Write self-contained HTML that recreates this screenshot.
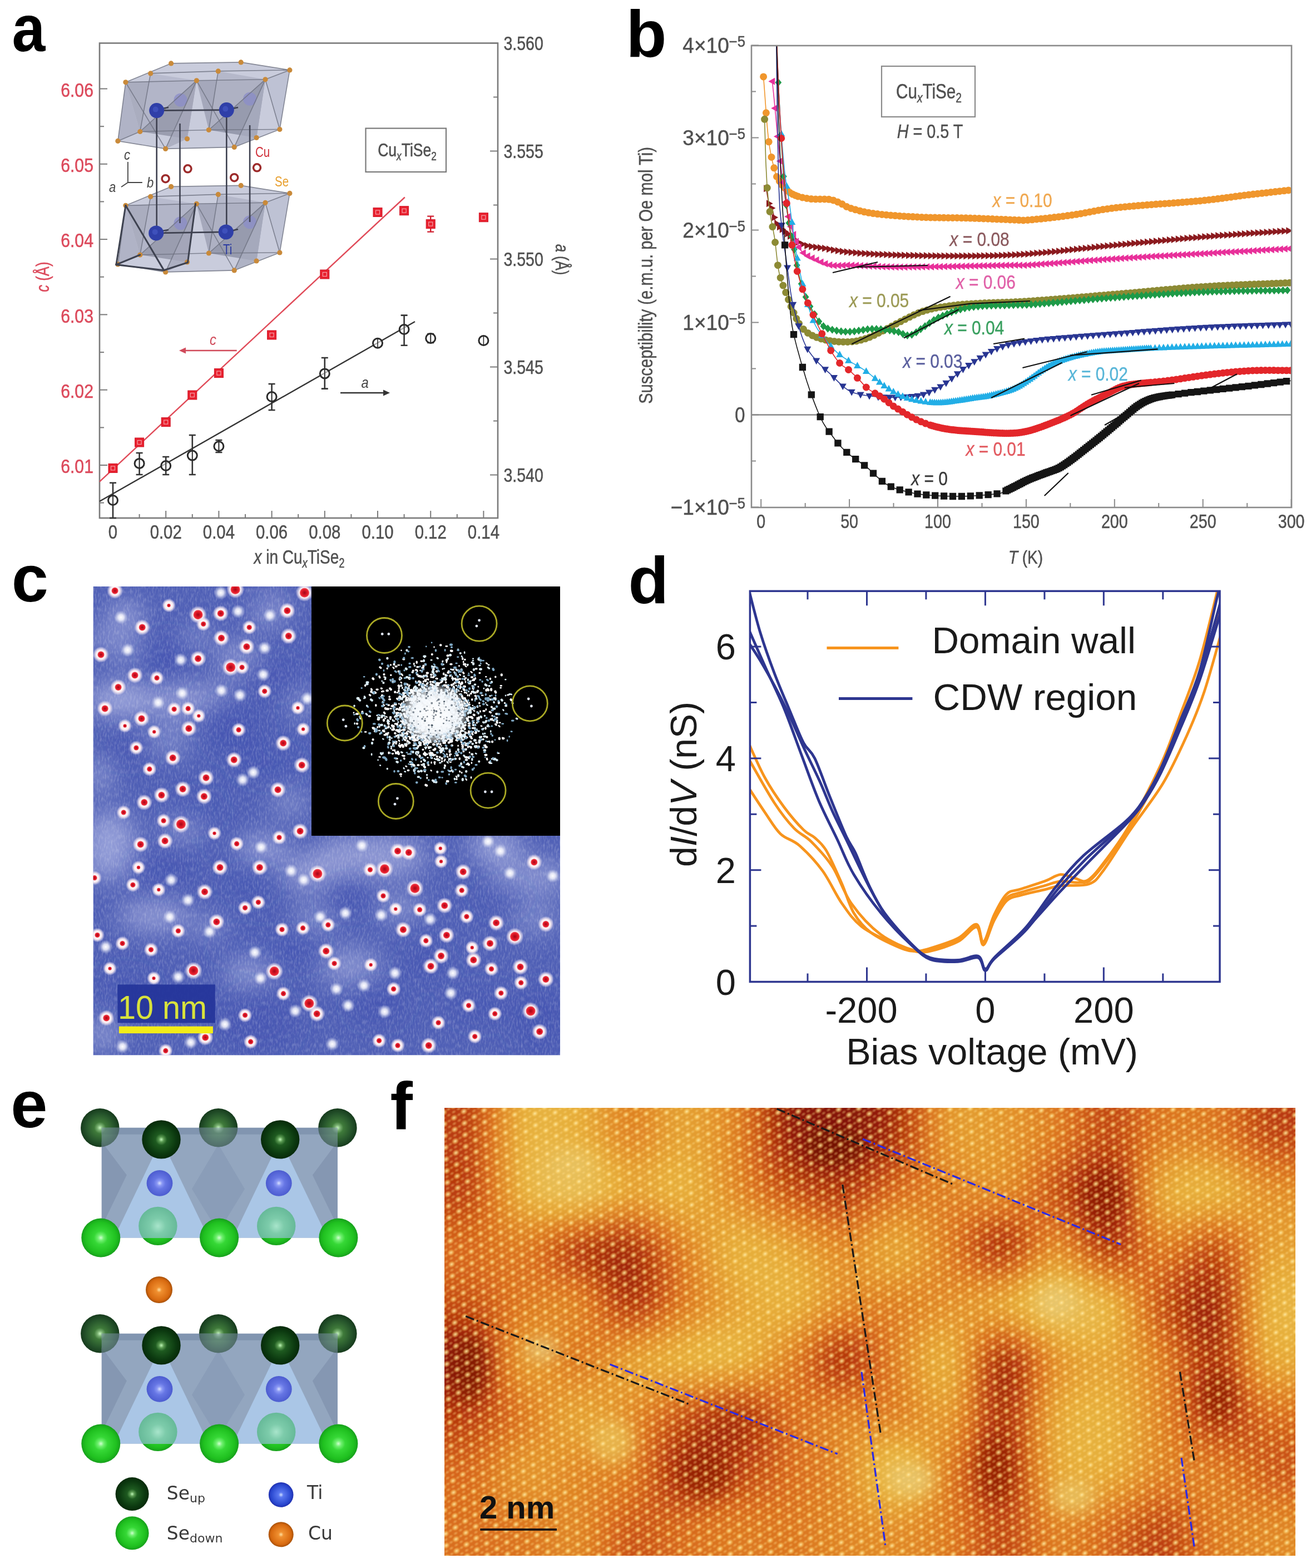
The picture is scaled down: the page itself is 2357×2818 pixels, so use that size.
<!DOCTYPE html><html><head><meta charset="utf-8"><title>Figure</title><style>html,body{margin:0;padding:0;background:#fff;width:2357px;height:2818px;overflow:hidden}svg{display:block}</style></head><body><svg xmlns="http://www.w3.org/2000/svg" width="2357" height="2818" viewBox="0 0 2357 2818"><text transform="translate(21.4,91.6) scale(0.900,1)" font-family="Liberation Sans, sans-serif" font-size="119.5" fill="#000" text-anchor="start" font-weight="bold" >a</text>
<polygon points="225.9,147.8 307.6,113.9 433.2,111.9 520.9,125.9 502.9,232.5 421.2,264.4 297.6,267.4 211.9,253.4" fill="#c3c6d8" fill-opacity="0.9" stroke="none"/>
<polygon points="225.9,147.8 353.4,144.8 251.8,236.5" fill="#a2a5b8" fill-opacity="0.8"/>
<polygon points="353.4,144.8 477,142.8 375.4,233.5" fill="#9c9fb3" fill-opacity="0.8"/>
<polygon points="270.7,131.9 353.4,144.8 251.8,236.5" fill="#b4b7ca" fill-opacity="0.8"/>
<polygon points="392.3,127.9 477,142.8 375.4,233.5" fill="#b0b3c6" fill-opacity="0.8"/>
<polygon points="251.8,236.5 353.4,144.8 336.5,249.5" fill="#8e91a4" fill-opacity="0.8"/>
<polygon points="375.4,233.5 477,142.8 461.1,247.5" fill="#8b8ea2" fill-opacity="0.8"/>
<polygon points="225.9,147.8 211.9,253.4 251.8,236.5" fill="#aaadc0" fill-opacity="0.8"/>
<polygon points="477,142.8 520.9,125.9 502.9,232.5" fill="#bcbfd2" fill-opacity="0.8"/>
<polygon points="353.4,144.8 297.6,267.4 336.5,249.5" fill="#a6a9bc" fill-opacity="0.8"/>
<polygon points="477,142.8 421.2,264.4 461.1,247.5" fill="#a9acbf" fill-opacity="0.8"/>
<circle cx="324.5" cy="179.7" r="12" fill="#8c8fc8" fill-opacity="0.8"/>
<circle cx="449.1" cy="177.7" r="12" fill="#8c8fc8" fill-opacity="0.8"/>
<line x1="225.9" y1="147.8" x2="307.6" y2="113.9" stroke="#6d7080" stroke-width="1.6" stroke-opacity="0.8"/>
<line x1="307.6" y1="113.9" x2="433.2" y2="111.9" stroke="#6d7080" stroke-width="1.6" stroke-opacity="0.8"/>
<line x1="433.2" y1="111.9" x2="520.9" y2="125.9" stroke="#6d7080" stroke-width="1.6" stroke-opacity="0.8"/>
<line x1="225.9" y1="147.8" x2="353.4" y2="144.8" stroke="#6d7080" stroke-width="1.6" stroke-opacity="0.8"/>
<line x1="353.4" y1="144.8" x2="477" y2="142.8" stroke="#6d7080" stroke-width="1.6" stroke-opacity="0.8"/>
<line x1="477" y1="142.8" x2="520.9" y2="125.9" stroke="#6d7080" stroke-width="1.6" stroke-opacity="0.8"/>
<line x1="270.7" y1="131.9" x2="392.3" y2="127.9" stroke="#6d7080" stroke-width="1.6" stroke-opacity="0.8"/>
<line x1="392.3" y1="127.9" x2="520.9" y2="125.9" stroke="#6d7080" stroke-width="1.6" stroke-opacity="0.8"/>
<line x1="211.9" y1="253.4" x2="297.6" y2="267.4" stroke="#6d7080" stroke-width="1.6" stroke-opacity="0.8"/>
<line x1="297.6" y1="267.4" x2="421.2" y2="264.4" stroke="#6d7080" stroke-width="1.6" stroke-opacity="0.8"/>
<line x1="421.2" y1="264.4" x2="502.9" y2="232.5" stroke="#6d7080" stroke-width="1.6" stroke-opacity="0.8"/>
<line x1="211.9" y1="253.4" x2="251.8" y2="236.5" stroke="#6d7080" stroke-width="1.6" stroke-opacity="0.8"/>
<line x1="251.8" y1="236.5" x2="375.4" y2="233.5" stroke="#6d7080" stroke-width="1.6" stroke-opacity="0.8"/>
<line x1="375.4" y1="233.5" x2="502.9" y2="232.5" stroke="#6d7080" stroke-width="1.6" stroke-opacity="0.8"/>
<line x1="225.9" y1="147.8" x2="211.9" y2="253.4" stroke="#6d7080" stroke-width="1.6" stroke-opacity="0.8"/>
<line x1="225.9" y1="147.8" x2="297.6" y2="267.4" stroke="#6d7080" stroke-width="1.6" stroke-opacity="0.8"/>
<line x1="353.4" y1="144.8" x2="297.6" y2="267.4" stroke="#6d7080" stroke-width="1.6" stroke-opacity="0.8"/>
<line x1="353.4" y1="144.8" x2="421.2" y2="264.4" stroke="#6d7080" stroke-width="1.6" stroke-opacity="0.8"/>
<line x1="477" y1="142.8" x2="421.2" y2="264.4" stroke="#6d7080" stroke-width="1.6" stroke-opacity="0.8"/>
<line x1="520.9" y1="125.9" x2="502.9" y2="232.5" stroke="#6d7080" stroke-width="1.6" stroke-opacity="0.8"/>
<line x1="477" y1="142.8" x2="502.9" y2="232.5" stroke="#6d7080" stroke-width="1.6" stroke-opacity="0.8"/>
<line x1="270.7" y1="131.9" x2="251.8" y2="236.5" stroke="#6d7080" stroke-width="1.6" stroke-opacity="0.8"/>
<line x1="353.4" y1="144.8" x2="251.8" y2="236.5" stroke="#6d7080" stroke-width="1.6" stroke-opacity="0.8"/>
<line x1="392.3" y1="127.9" x2="375.4" y2="233.5" stroke="#6d7080" stroke-width="1.6" stroke-opacity="0.8"/>
<line x1="477" y1="142.8" x2="375.4" y2="233.5" stroke="#6d7080" stroke-width="1.6" stroke-opacity="0.8"/>
<circle cx="225.9" cy="147.8" r="4.6" fill="#c98a3a"/>
<circle cx="270.7" cy="131.9" r="4.6" fill="#c98a3a"/>
<circle cx="307.6" cy="113.9" r="4.6" fill="#c98a3a"/>
<circle cx="353.4" cy="144.8" r="4.6" fill="#c98a3a"/>
<circle cx="392.3" cy="127.9" r="4.6" fill="#c98a3a"/>
<circle cx="433.2" cy="111.9" r="4.6" fill="#c98a3a"/>
<circle cx="477" cy="142.8" r="4.6" fill="#c98a3a"/>
<circle cx="520.9" cy="125.9" r="4.6" fill="#c98a3a"/>
<circle cx="211.9" cy="253.4" r="4.6" fill="#c98a3a"/>
<circle cx="251.8" cy="236.5" r="4.6" fill="#c98a3a"/>
<circle cx="297.6" cy="267.4" r="4.6" fill="#c98a3a"/>
<circle cx="336.5" cy="249.5" r="4.6" fill="#c98a3a"/>
<circle cx="375.4" cy="233.5" r="4.6" fill="#c98a3a"/>
<circle cx="421.2" cy="264.4" r="4.6" fill="#c98a3a"/>
<circle cx="461.1" cy="247.5" r="4.6" fill="#c98a3a"/>
<circle cx="502.9" cy="232.5" r="4.6" fill="#c98a3a"/>
<polygon points="225.9,369.3 307.6,335.4 433.2,333.4 520.9,347.4 502.9,454 421.2,485.9 297.6,488.9 211.9,474.9" fill="#c3c6d8" fill-opacity="0.9" stroke="none"/>
<polygon points="225.9,369.3 353.4,366.3 251.8,458" fill="#a2a5b8" fill-opacity="0.8"/>
<polygon points="353.4,366.3 477,364.3 375.4,455" fill="#9c9fb3" fill-opacity="0.8"/>
<polygon points="270.7,353.4 353.4,366.3 251.8,458" fill="#b4b7ca" fill-opacity="0.8"/>
<polygon points="392.3,349.4 477,364.3 375.4,455" fill="#b0b3c6" fill-opacity="0.8"/>
<polygon points="251.8,458 353.4,366.3 336.5,471" fill="#8e91a4" fill-opacity="0.8"/>
<polygon points="375.4,455 477,364.3 461.1,469" fill="#8b8ea2" fill-opacity="0.8"/>
<polygon points="225.9,369.3 211.9,474.9 251.8,458" fill="#aaadc0" fill-opacity="0.8"/>
<polygon points="477,364.3 520.9,347.4 502.9,454" fill="#bcbfd2" fill-opacity="0.8"/>
<polygon points="353.4,366.3 297.6,488.9 336.5,471" fill="#a6a9bc" fill-opacity="0.8"/>
<polygon points="477,364.3 421.2,485.9 461.1,469" fill="#a9acbf" fill-opacity="0.8"/>
<circle cx="324.5" cy="401.2" r="12" fill="#8c8fc8" fill-opacity="0.8"/>
<circle cx="449.1" cy="399.2" r="12" fill="#8c8fc8" fill-opacity="0.8"/>
<line x1="225.9" y1="369.3" x2="307.6" y2="335.4" stroke="#6d7080" stroke-width="1.6" stroke-opacity="0.8"/>
<line x1="307.6" y1="335.4" x2="433.2" y2="333.4" stroke="#6d7080" stroke-width="1.6" stroke-opacity="0.8"/>
<line x1="433.2" y1="333.4" x2="520.9" y2="347.4" stroke="#6d7080" stroke-width="1.6" stroke-opacity="0.8"/>
<line x1="225.9" y1="369.3" x2="353.4" y2="366.3" stroke="#6d7080" stroke-width="1.6" stroke-opacity="0.8"/>
<line x1="353.4" y1="366.3" x2="477" y2="364.3" stroke="#6d7080" stroke-width="1.6" stroke-opacity="0.8"/>
<line x1="477" y1="364.3" x2="520.9" y2="347.4" stroke="#6d7080" stroke-width="1.6" stroke-opacity="0.8"/>
<line x1="270.7" y1="353.4" x2="392.3" y2="349.4" stroke="#6d7080" stroke-width="1.6" stroke-opacity="0.8"/>
<line x1="392.3" y1="349.4" x2="520.9" y2="347.4" stroke="#6d7080" stroke-width="1.6" stroke-opacity="0.8"/>
<line x1="211.9" y1="474.9" x2="297.6" y2="488.9" stroke="#6d7080" stroke-width="1.6" stroke-opacity="0.8"/>
<line x1="297.6" y1="488.9" x2="421.2" y2="485.9" stroke="#6d7080" stroke-width="1.6" stroke-opacity="0.8"/>
<line x1="421.2" y1="485.9" x2="502.9" y2="454" stroke="#6d7080" stroke-width="1.6" stroke-opacity="0.8"/>
<line x1="211.9" y1="474.9" x2="251.8" y2="458" stroke="#6d7080" stroke-width="1.6" stroke-opacity="0.8"/>
<line x1="251.8" y1="458" x2="375.4" y2="455" stroke="#6d7080" stroke-width="1.6" stroke-opacity="0.8"/>
<line x1="375.4" y1="455" x2="502.9" y2="454" stroke="#6d7080" stroke-width="1.6" stroke-opacity="0.8"/>
<line x1="225.9" y1="369.3" x2="211.9" y2="474.9" stroke="#6d7080" stroke-width="1.6" stroke-opacity="0.8"/>
<line x1="225.9" y1="369.3" x2="297.6" y2="488.9" stroke="#6d7080" stroke-width="1.6" stroke-opacity="0.8"/>
<line x1="353.4" y1="366.3" x2="297.6" y2="488.9" stroke="#6d7080" stroke-width="1.6" stroke-opacity="0.8"/>
<line x1="353.4" y1="366.3" x2="421.2" y2="485.9" stroke="#6d7080" stroke-width="1.6" stroke-opacity="0.8"/>
<line x1="477" y1="364.3" x2="421.2" y2="485.9" stroke="#6d7080" stroke-width="1.6" stroke-opacity="0.8"/>
<line x1="520.9" y1="347.4" x2="502.9" y2="454" stroke="#6d7080" stroke-width="1.6" stroke-opacity="0.8"/>
<line x1="477" y1="364.3" x2="502.9" y2="454" stroke="#6d7080" stroke-width="1.6" stroke-opacity="0.8"/>
<line x1="270.7" y1="353.4" x2="251.8" y2="458" stroke="#6d7080" stroke-width="1.6" stroke-opacity="0.8"/>
<line x1="353.4" y1="366.3" x2="251.8" y2="458" stroke="#6d7080" stroke-width="1.6" stroke-opacity="0.8"/>
<line x1="392.3" y1="349.4" x2="375.4" y2="455" stroke="#6d7080" stroke-width="1.6" stroke-opacity="0.8"/>
<line x1="477" y1="364.3" x2="375.4" y2="455" stroke="#6d7080" stroke-width="1.6" stroke-opacity="0.8"/>
<circle cx="225.9" cy="369.3" r="4.6" fill="#c98a3a"/>
<circle cx="270.7" cy="353.4" r="4.6" fill="#c98a3a"/>
<circle cx="307.6" cy="335.4" r="4.6" fill="#c98a3a"/>
<circle cx="353.4" cy="366.3" r="4.6" fill="#c98a3a"/>
<circle cx="392.3" cy="349.4" r="4.6" fill="#c98a3a"/>
<circle cx="433.2" cy="333.4" r="4.6" fill="#c98a3a"/>
<circle cx="477" cy="364.3" r="4.6" fill="#c98a3a"/>
<circle cx="520.9" cy="347.4" r="4.6" fill="#c98a3a"/>
<circle cx="211.9" cy="474.9" r="4.6" fill="#c98a3a"/>
<circle cx="251.8" cy="458" r="4.6" fill="#c98a3a"/>
<circle cx="297.6" cy="488.9" r="4.6" fill="#c98a3a"/>
<circle cx="336.5" cy="471" r="4.6" fill="#c98a3a"/>
<circle cx="375.4" cy="455" r="4.6" fill="#c98a3a"/>
<circle cx="421.2" cy="485.9" r="4.6" fill="#c98a3a"/>
<circle cx="461.1" cy="469" r="4.6" fill="#c98a3a"/>
<circle cx="502.9" cy="454" r="4.6" fill="#c98a3a"/>
<line x1="225.9" y1="369.3" x2="208.9" y2="475.7" stroke="#3e4250" stroke-width="3" stroke-linecap="round"/>
<line x1="225.9" y1="369.3" x2="294.6" y2="485.7" stroke="#3e4250" stroke-width="3" stroke-linecap="round"/>
<line x1="208.9" y1="475.7" x2="294.6" y2="485.7" stroke="#3e4250" stroke-width="3" stroke-linecap="round"/>
<line x1="351.5" y1="366.3" x2="337.5" y2="471.7" stroke="#3e4250" stroke-width="3" stroke-linecap="round"/>
<line x1="294.6" y1="485.7" x2="337.5" y2="471.7" stroke="#3e4250" stroke-width="3" stroke-linecap="round"/>
<line x1="208.9" y1="475.7" x2="251.8" y2="458" stroke="#3e4250" stroke-width="3" stroke-linecap="round"/>
<line x1="281.7" y1="198.6" x2="281.7" y2="418.9" stroke="#3e4150" stroke-width="2.6"/>
<line x1="323.5" y1="222" x2="323.5" y2="401" stroke="#3e4150" stroke-width="2.6"/>
<line x1="407.3" y1="197.6" x2="407.3" y2="416.9" stroke="#3e4150" stroke-width="2.6"/>
<line x1="449.1" y1="225" x2="449.1" y2="399" stroke="#3e4150" stroke-width="2.6"/>
<line x1="281.7" y1="198.6" x2="407.3" y2="197.6" stroke="#3e4150" stroke-width="2.6"/>
<line x1="281.7" y1="418.9" x2="406.3" y2="416.9" stroke="#3e4150" stroke-width="2.6"/>
<line x1="407.3" y1="197.6" x2="428" y2="193" stroke="#3e4150" stroke-width="2.6"/>
<line x1="406.3" y1="416.9" x2="428" y2="412" stroke="#3e4150" stroke-width="2.6"/>
<line x1="303" y1="193" x2="286" y2="196" stroke="#3e4150" stroke-width="2.6"/>
<line x1="303" y1="413" x2="286" y2="416" stroke="#3e4150" stroke-width="2.6"/>
<circle cx="281.7" cy="198.6" r="13.5" fill="#2f3fa8"/>
<circle cx="279.7" cy="196.6" r="5" fill="#4a5cc8" opacity="0.6"/>
<circle cx="407.3" cy="197.6" r="13.5" fill="#2f3fa8"/>
<circle cx="405.3" cy="195.6" r="5" fill="#4a5cc8" opacity="0.6"/>
<circle cx="280.7" cy="418.9" r="13.5" fill="#2f3fa8"/>
<circle cx="278.7" cy="416.9" r="5" fill="#4a5cc8" opacity="0.6"/>
<circle cx="406.3" cy="416.9" r="13.5" fill="#2f3fa8"/>
<circle cx="404.3" cy="414.9" r="5" fill="#4a5cc8" opacity="0.6"/>
<circle cx="297.6" cy="321.2" r="6.5" fill="#fff" stroke="#9c2a2a" stroke-width="3.5"/>
<circle cx="337.5" cy="303.3" r="6.5" fill="#fff" stroke="#9c2a2a" stroke-width="3.5"/>
<circle cx="421.2" cy="319.2" r="6.5" fill="#fff" stroke="#9c2a2a" stroke-width="3.5"/>
<circle cx="462" cy="301.3" r="6.5" fill="#fff" stroke="#9c2a2a" stroke-width="3.5"/>
<text transform="translate(459,282) scale(0.820,1)" font-family="Liberation Sans, sans-serif" font-size="25" fill="#d0303a" text-anchor="start" >Cu</text>
<text transform="translate(494,335) scale(0.820,1)" font-family="Liberation Sans, sans-serif" font-size="25" fill="#e8a030" text-anchor="start" >Se</text>
<text transform="translate(401,457) scale(0.820,1)" font-family="Liberation Sans, sans-serif" font-size="25" fill="#2b3ba0" text-anchor="start" >Ti</text>
<path d="M229.9,291 V328 H255.8 M229.9,328 L218,336" fill="none" stroke="#444" stroke-width="1.8"/>
<text transform="translate(223,287) scale(0.850,1)" font-family="Liberation Sans, sans-serif" font-size="26" fill="#444" text-anchor="start" font-style="italic" >c</text>
<text transform="translate(196,345) scale(0.850,1)" font-family="Liberation Sans, sans-serif" font-size="26" fill="#444" text-anchor="start" font-style="italic" >a</text>
<text transform="translate(264,337) scale(0.850,1)" font-family="Liberation Sans, sans-serif" font-size="26" fill="#444" text-anchor="start" font-style="italic" >b</text>
<rect x="179" y="77.5" width="716" height="853.5" fill="none" stroke="#7a7a7a" stroke-width="2.6"/>
<line x1="179" y1="903.6" x2="187" y2="903.6" stroke="#7a7a7a" stroke-width="2"/>
<line x1="179" y1="836" x2="193" y2="836" stroke="#7a7a7a" stroke-width="2"/>
<text transform="translate(168,850.2) scale(0.850,1)" font-family="Liberation Sans, sans-serif" font-size="35.6" fill="#dc4a5c" text-anchor="end" stroke="#dc4a5c" stroke-width="0.5">6.01</text>
<line x1="179" y1="768.4" x2="187" y2="768.4" stroke="#7a7a7a" stroke-width="2"/>
<line x1="179" y1="700.7" x2="193" y2="700.7" stroke="#7a7a7a" stroke-width="2"/>
<text transform="translate(168,714.9) scale(0.850,1)" font-family="Liberation Sans, sans-serif" font-size="35.6" fill="#dc4a5c" text-anchor="end" stroke="#dc4a5c" stroke-width="0.5">6.02</text>
<line x1="179" y1="633.1" x2="187" y2="633.1" stroke="#7a7a7a" stroke-width="2"/>
<line x1="179" y1="565.4" x2="193" y2="565.4" stroke="#7a7a7a" stroke-width="2"/>
<text transform="translate(168,579.6) scale(0.850,1)" font-family="Liberation Sans, sans-serif" font-size="35.6" fill="#dc4a5c" text-anchor="end" stroke="#dc4a5c" stroke-width="0.5">6.03</text>
<line x1="179" y1="497.7" x2="187" y2="497.7" stroke="#7a7a7a" stroke-width="2"/>
<line x1="179" y1="430.1" x2="193" y2="430.1" stroke="#7a7a7a" stroke-width="2"/>
<text transform="translate(168,444.3) scale(0.850,1)" font-family="Liberation Sans, sans-serif" font-size="35.6" fill="#dc4a5c" text-anchor="end" stroke="#dc4a5c" stroke-width="0.5">6.04</text>
<line x1="179" y1="362.4" x2="187" y2="362.4" stroke="#7a7a7a" stroke-width="2"/>
<line x1="179" y1="294.8" x2="193" y2="294.8" stroke="#7a7a7a" stroke-width="2"/>
<text transform="translate(168,309) scale(0.850,1)" font-family="Liberation Sans, sans-serif" font-size="35.6" fill="#dc4a5c" text-anchor="end" stroke="#dc4a5c" stroke-width="0.5">6.05</text>
<line x1="179" y1="227.2" x2="187" y2="227.2" stroke="#7a7a7a" stroke-width="2"/>
<line x1="179" y1="159.5" x2="193" y2="159.5" stroke="#7a7a7a" stroke-width="2"/>
<text transform="translate(168,173.7) scale(0.850,1)" font-family="Liberation Sans, sans-serif" font-size="35.6" fill="#dc4a5c" text-anchor="end" stroke="#dc4a5c" stroke-width="0.5">6.06</text>
<line x1="895" y1="853.5" x2="881" y2="853.5" stroke="#7a7a7a" stroke-width="2"/>
<text transform="translate(905.5,866.1) scale(0.810,1)" font-family="Liberation Sans, sans-serif" font-size="35.2" fill="#505050" text-anchor="start" stroke="#505050" stroke-width="0.5">3.540</text>
<line x1="895" y1="756.5" x2="887" y2="756.5" stroke="#7a7a7a" stroke-width="2"/>
<line x1="895" y1="659.5" x2="881" y2="659.5" stroke="#7a7a7a" stroke-width="2"/>
<text transform="translate(905.5,672.1) scale(0.810,1)" font-family="Liberation Sans, sans-serif" font-size="35.2" fill="#505050" text-anchor="start" stroke="#505050" stroke-width="0.5">3.545</text>
<line x1="895" y1="562.5" x2="887" y2="562.5" stroke="#7a7a7a" stroke-width="2"/>
<line x1="895" y1="465.5" x2="881" y2="465.5" stroke="#7a7a7a" stroke-width="2"/>
<text transform="translate(905.5,478.1) scale(0.810,1)" font-family="Liberation Sans, sans-serif" font-size="35.2" fill="#505050" text-anchor="start" stroke="#505050" stroke-width="0.5">3.550</text>
<line x1="895" y1="368.5" x2="887" y2="368.5" stroke="#7a7a7a" stroke-width="2"/>
<line x1="895" y1="271.5" x2="881" y2="271.5" stroke="#7a7a7a" stroke-width="2"/>
<text transform="translate(905.5,284.1) scale(0.810,1)" font-family="Liberation Sans, sans-serif" font-size="35.2" fill="#505050" text-anchor="start" stroke="#505050" stroke-width="0.5">3.555</text>
<line x1="895" y1="174.5" x2="887" y2="174.5" stroke="#7a7a7a" stroke-width="2"/>
<line x1="895" y1="77.5" x2="881" y2="77.5" stroke="#7a7a7a" stroke-width="2"/>
<text transform="translate(905.5,90.1) scale(0.810,1)" font-family="Liberation Sans, sans-serif" font-size="35.2" fill="#505050" text-anchor="start" stroke="#505050" stroke-width="0.5">3.560</text>
<line x1="203" y1="931" x2="203" y2="918" stroke="#7a7a7a" stroke-width="2"/>
<text transform="translate(203,968.2) scale(0.820,1)" font-family="Liberation Sans, sans-serif" font-size="35.8" fill="#505050" text-anchor="middle" stroke="#505050" stroke-width="0.5">0</text>
<line x1="250.6" y1="931" x2="250.6" y2="924" stroke="#7a7a7a" stroke-width="2"/>
<line x1="298.2" y1="931" x2="298.2" y2="918" stroke="#7a7a7a" stroke-width="2"/>
<text transform="translate(298.2,968.2) scale(0.820,1)" font-family="Liberation Sans, sans-serif" font-size="35.8" fill="#505050" text-anchor="middle" stroke="#505050" stroke-width="0.5">0.02</text>
<line x1="345.8" y1="931" x2="345.8" y2="924" stroke="#7a7a7a" stroke-width="2"/>
<line x1="393.4" y1="931" x2="393.4" y2="918" stroke="#7a7a7a" stroke-width="2"/>
<text transform="translate(393.4,968.2) scale(0.820,1)" font-family="Liberation Sans, sans-serif" font-size="35.8" fill="#505050" text-anchor="middle" stroke="#505050" stroke-width="0.5">0.04</text>
<line x1="441" y1="931" x2="441" y2="924" stroke="#7a7a7a" stroke-width="2"/>
<line x1="488.6" y1="931" x2="488.6" y2="918" stroke="#7a7a7a" stroke-width="2"/>
<text transform="translate(488.6,968.2) scale(0.820,1)" font-family="Liberation Sans, sans-serif" font-size="35.8" fill="#505050" text-anchor="middle" stroke="#505050" stroke-width="0.5">0.06</text>
<line x1="536.2" y1="931" x2="536.2" y2="924" stroke="#7a7a7a" stroke-width="2"/>
<line x1="583.8" y1="931" x2="583.8" y2="918" stroke="#7a7a7a" stroke-width="2"/>
<text transform="translate(583.8,968.2) scale(0.820,1)" font-family="Liberation Sans, sans-serif" font-size="35.8" fill="#505050" text-anchor="middle" stroke="#505050" stroke-width="0.5">0.08</text>
<line x1="631.4" y1="931" x2="631.4" y2="924" stroke="#7a7a7a" stroke-width="2"/>
<line x1="679" y1="931" x2="679" y2="918" stroke="#7a7a7a" stroke-width="2"/>
<text transform="translate(679,968.2) scale(0.820,1)" font-family="Liberation Sans, sans-serif" font-size="35.8" fill="#505050" text-anchor="middle" stroke="#505050" stroke-width="0.5">0.10</text>
<line x1="726.6" y1="931" x2="726.6" y2="924" stroke="#7a7a7a" stroke-width="2"/>
<line x1="774.2" y1="931" x2="774.2" y2="918" stroke="#7a7a7a" stroke-width="2"/>
<text transform="translate(774.2,968.2) scale(0.820,1)" font-family="Liberation Sans, sans-serif" font-size="35.8" fill="#505050" text-anchor="middle" stroke="#505050" stroke-width="0.5">0.12</text>
<line x1="821.8" y1="931" x2="821.8" y2="924" stroke="#7a7a7a" stroke-width="2"/>
<line x1="869.4" y1="931" x2="869.4" y2="918" stroke="#7a7a7a" stroke-width="2"/>
<text transform="translate(869.4,968.2) scale(0.820,1)" font-family="Liberation Sans, sans-serif" font-size="35.8" fill="#505050" text-anchor="middle" stroke="#505050" stroke-width="0.5">0.14</text>
<text transform="translate(538,1013) scale(0.8,1)" font-family="Liberation Sans, sans-serif" font-size="35" fill="#505050" stroke="#505050" stroke-width="0.5" text-anchor="middle"><tspan font-style="italic">x</tspan> in Cu<tspan font-size="23" font-style="italic" dy="7">x</tspan><tspan dy="-7">TiSe</tspan><tspan font-size="23" dy="7">2</tspan></text>
<text transform="translate(87.5,497.7) rotate(-90) scale(0.78,1)" font-family="Liberation Sans, sans-serif" font-size="33" fill="#dc4a5c" stroke="#dc4a5c" stroke-width="0.5" text-anchor="middle"><tspan font-style="italic">c</tspan> (Å)</text>
<text transform="translate(999,466.5) rotate(90) scale(0.78,1)" font-family="Liberation Sans, sans-serif" font-size="33" fill="#505050" stroke="#505050" stroke-width="0.5" text-anchor="middle"><tspan font-style="italic">a</tspan> (Å)</text>
<rect x="657.5" y="230.6" width="144.5" height="78.4" fill="#fff" stroke="#7a7a7a" stroke-width="2.2"/>
<text transform="translate(732,280.5) scale(0.78,1)" font-family="Liberation Sans, sans-serif" font-size="34" fill="#505050" stroke="#505050" stroke-width="0.5" text-anchor="middle">Cu<tspan font-size="22" font-style="italic" dy="7">x</tspan><tspan dy="-7">TiSe</tspan><tspan font-size="22" dy="7">2</tspan></text>
<line x1="179" y1="865.7" x2="727.8" y2="354.5" stroke="#e04a58" stroke-width="2.4"/>
<line x1="179" y1="901" x2="746" y2="578" stroke="#333" stroke-width="2.4"/>
<line x1="425.7" y1="630" x2="330" y2="630" stroke="#d04a5a" stroke-width="2.4"/>
<polygon points="322,630 334,624.5 334,635.5" fill="#d04a5a"/>
<text transform="translate(383,620) scale(0.850,1)" font-family="Liberation Sans, sans-serif" font-size="28" fill="#d04a5a" text-anchor="middle" font-style="italic" >c</text>
<line x1="612" y1="706" x2="692" y2="706" stroke="#333" stroke-width="2.4"/>
<polygon points="701,706 689,700.5 689,711.5" fill="#333"/>
<text transform="translate(656,697) scale(0.850,1)" font-family="Liberation Sans, sans-serif" font-size="28" fill="#444" text-anchor="middle" font-style="italic" >a</text>
<path d="M203,867.7 V931 M197,867.7 h12 M197,931 h12" stroke="#333" stroke-width="2.6" fill="none"/>
<ellipse cx="203" cy="899" rx="8.5" ry="8.5" fill="#fff" fill-opacity="0.6" stroke="#2a2a2a" stroke-width="3"/>
<line x1="203" y1="891" x2="203" y2="907" stroke="#2a2a2a" stroke-width="1.6"/>
<path d="M250.6,814 V853 M244.6,814 h12 M244.6,853 h12" stroke="#333" stroke-width="2.6" fill="none"/>
<ellipse cx="250.6" cy="832.9" rx="8.5" ry="8.5" fill="#fff" fill-opacity="0.6" stroke="#2a2a2a" stroke-width="3"/>
<line x1="250.6" y1="824.9" x2="250.6" y2="840.9" stroke="#2a2a2a" stroke-width="1.6"/>
<path d="M298.2,821 V853 M292.2,821 h12 M292.2,853 h12" stroke="#333" stroke-width="2.6" fill="none"/>
<ellipse cx="298.2" cy="837" rx="8.5" ry="8.5" fill="#fff" fill-opacity="0.6" stroke="#2a2a2a" stroke-width="3"/>
<line x1="298.2" y1="829" x2="298.2" y2="845" stroke="#2a2a2a" stroke-width="1.6"/>
<path d="M345.8,782 V853 M339.8,782 h12 M339.8,853 h12" stroke="#333" stroke-width="2.6" fill="none"/>
<ellipse cx="345.8" cy="818.6" rx="8.5" ry="8.5" fill="#fff" fill-opacity="0.6" stroke="#2a2a2a" stroke-width="3"/>
<line x1="345.8" y1="810.6" x2="345.8" y2="826.6" stroke="#2a2a2a" stroke-width="1.6"/>
<path d="M393.4,791 V813 M387.4,791 h12 M387.4,813 h12" stroke="#333" stroke-width="2.6" fill="none"/>
<ellipse cx="393.4" cy="802" rx="8.5" ry="8.5" fill="#fff" fill-opacity="0.6" stroke="#2a2a2a" stroke-width="3"/>
<line x1="393.4" y1="794" x2="393.4" y2="810" stroke="#2a2a2a" stroke-width="1.6"/>
<path d="M488.6,690 V737 M482.6,690 h12 M482.6,737 h12" stroke="#333" stroke-width="2.6" fill="none"/>
<ellipse cx="488.6" cy="713" rx="8.5" ry="8.5" fill="#fff" fill-opacity="0.6" stroke="#2a2a2a" stroke-width="3"/>
<line x1="488.6" y1="705" x2="488.6" y2="721" stroke="#2a2a2a" stroke-width="1.6"/>
<path d="M583.8,643 V698.6 M577.8,643 h12 M577.8,698.6 h12" stroke="#333" stroke-width="2.6" fill="none"/>
<ellipse cx="583.8" cy="671.4" rx="8.5" ry="8.5" fill="#fff" fill-opacity="0.6" stroke="#2a2a2a" stroke-width="3"/>
<line x1="583.8" y1="663.4" x2="583.8" y2="679.4" stroke="#2a2a2a" stroke-width="1.6"/>
<ellipse cx="679" cy="616.7" rx="8.5" ry="8.5" fill="#fff" fill-opacity="0.6" stroke="#2a2a2a" stroke-width="3"/>
<line x1="679" y1="608.7" x2="679" y2="624.7" stroke="#2a2a2a" stroke-width="1.6"/>
<path d="M726.6,566.6 V620.7 M720.6,566.6 h12 M720.6,620.7 h12" stroke="#333" stroke-width="2.6" fill="none"/>
<ellipse cx="726.6" cy="592" rx="8.5" ry="8.5" fill="#fff" fill-opacity="0.6" stroke="#2a2a2a" stroke-width="3"/>
<line x1="726.6" y1="584" x2="726.6" y2="600" stroke="#2a2a2a" stroke-width="1.6"/>
<path d="M774.2,600 V616 M768.2,600 h12 M768.2,616 h12" stroke="#333" stroke-width="2.6" fill="none"/>
<ellipse cx="774.2" cy="608" rx="8.5" ry="8.5" fill="#fff" fill-opacity="0.6" stroke="#2a2a2a" stroke-width="3"/>
<line x1="774.2" y1="600" x2="774.2" y2="616" stroke="#2a2a2a" stroke-width="1.6"/>
<ellipse cx="869.4" cy="612" rx="8.5" ry="8.5" fill="#fff" fill-opacity="0.6" stroke="#2a2a2a" stroke-width="3"/>
<line x1="869.4" y1="604" x2="869.4" y2="620" stroke="#2a2a2a" stroke-width="1.6"/>
<rect x="195" y="833.4" width="16" height="16" fill="#e8202e" stroke="#d01828" stroke-width="1"/>
<rect x="199.5" y="837.9" width="7" height="7" fill="none" stroke="#f6a0a8" stroke-width="1.2"/>
<rect x="242.6" y="787" width="16" height="16" fill="#e8202e" stroke="#d01828" stroke-width="1"/>
<rect x="247.1" y="791.5" width="7" height="7" fill="none" stroke="#f6a0a8" stroke-width="1.2"/>
<rect x="290.2" y="750.6" width="16" height="16" fill="#e8202e" stroke="#d01828" stroke-width="1"/>
<rect x="294.7" y="755.1" width="7" height="7" fill="none" stroke="#f6a0a8" stroke-width="1.2"/>
<rect x="337.8" y="702" width="16" height="16" fill="#e8202e" stroke="#d01828" stroke-width="1"/>
<rect x="342.3" y="706.5" width="7" height="7" fill="none" stroke="#f6a0a8" stroke-width="1.2"/>
<rect x="385.4" y="662.6" width="16" height="16" fill="#e8202e" stroke="#d01828" stroke-width="1"/>
<rect x="389.9" y="667.1" width="7" height="7" fill="none" stroke="#f6a0a8" stroke-width="1.2"/>
<rect x="480.6" y="594" width="16" height="16" fill="#e8202e" stroke="#d01828" stroke-width="1"/>
<rect x="485.1" y="598.5" width="7" height="7" fill="none" stroke="#f6a0a8" stroke-width="1.2"/>
<rect x="575.8" y="485" width="16" height="16" fill="#e8202e" stroke="#d01828" stroke-width="1"/>
<rect x="580.3" y="489.5" width="7" height="7" fill="none" stroke="#f6a0a8" stroke-width="1.2"/>
<rect x="671" y="373.5" width="16" height="16" fill="#e8202e" stroke="#d01828" stroke-width="1"/>
<rect x="675.5" y="378" width="7" height="7" fill="none" stroke="#f6a0a8" stroke-width="1.2"/>
<rect x="718.6" y="370.7" width="16" height="16" fill="#e8202e" stroke="#d01828" stroke-width="1"/>
<rect x="723.1" y="375.2" width="7" height="7" fill="none" stroke="#f6a0a8" stroke-width="1.2"/>
<path d="M774.2,388.6 V416.6 M768.2,388.6 h12 M768.2,416.6 h12" stroke="#d02030" stroke-width="2.4" fill="none"/>
<rect x="766.2" y="394.6" width="16" height="16" fill="#e8202e" stroke="#d01828" stroke-width="1"/>
<rect x="770.7" y="399.1" width="7" height="7" fill="none" stroke="#f6a0a8" stroke-width="1.2"/>
<rect x="861.4" y="382.7" width="16" height="16" fill="#e8202e" stroke="#d01828" stroke-width="1"/>
<rect x="865.9" y="387.2" width="7" height="7" fill="none" stroke="#f6a0a8" stroke-width="1.2"/>
<text transform="translate(1125.4,102)" font-family="Liberation Sans, sans-serif" font-weight="bold" font-size="119.5" fill="#000">b</text>
<defs><clipPath id="clipb"><rect x="1351" y="82" width="971" height="830"/></clipPath></defs>
<g clip-path="url(#clipb)">
<line x1="1351" y1="745.5" x2="2322" y2="745.5" stroke="#8a8a8a" stroke-width="2.6"/>
<polyline points="1372.6,137.9 1374.9,168 1377.1,198.6 1379.3,226.9 1381.5,249.7 1383.8,265.4 1386,277.4 1388.2,288.3 1390.4,297 1392.7,305.6 1394.9,314.5 1397.1,318.6 1399.3,322.5 1401.6,326.1 1403.8,329.3 1406,332.3 1408.2,334.9 1410.5,337.4 1412.7,339.7 1414.9,341.9 1417.1,343.8 1419.4,345.6 1421.6,347.1 1423.8,348.4 1426,349.5 1428.3,350.5 1430.5,351.4 1432.7,352.2 1434.9,353 1437.2,353.6 1439.4,354.3 1441.6,354.8 1443.8,355.3 1446.1,355.7 1448.3,356.2 1450.5,356.5 1452.7,356.9 1455,357.2 1457.2,357.4 1459.4,357.6 1461.6,357.8 1463.9,357.9 1466.1,357.9 1468.3,357.9 1470.5,357.9 1472.8,357.9 1475,357.9 1477.2,357.9 1479.4,357.9 1481.7,357.9 1483.9,357.9 1486.1,358 1488.3,358.2 1490.6,358.4 1492.8,358.6 1495,359 1497.2,359.6 1499.5,360.3 1501.7,361.1 1503.9,362.1 1506.1,363 1508.3,364.1 1510.6,365.1 1512.8,366.1 1515,367.3 1517.2,368.6 1519.5,370 1521.7,371.2 1523.9,372.4 1526.1,373.3 1528.4,374.1 1530.6,374.7 1532.8,375.4 1535,376 1537.3,376.7 1539.5,377.3 1541.7,377.9 1543.9,378.5 1546.2,379 1548.4,379.6 1550.6,380.1 1552.8,380.6 1555.1,381.1 1557.3,381.5 1559.5,381.9 1561.7,382.3 1564,382.7 1566.2,383.1 1568.4,383.4 1570.6,383.7 1572.9,384 1575.1,384.3 1577.3,384.5 1579.5,384.8 1581.8,385 1584,385.3 1586.2,385.5 1588.4,385.7 1590.7,386 1592.9,386.2 1595.1,386.4 1597.3,386.6 1599.6,386.8 1601.8,387 1604,387.2 1606.2,387.4 1608.5,387.5 1610.7,387.7 1612.9,387.9 1615.1,388 1617.4,388.2 1619.6,388.3 1621.8,388.5 1624,388.6 1626.3,388.8 1628.5,388.9 1630.7,389 1632.9,389.1 1635.2,389.3 1637.4,389.4 1639.6,389.5 1641.8,389.6 1644.1,389.8 1646.3,389.9 1648.5,390 1650.7,390.1 1652.9,390.2 1655.2,390.3 1657.4,390.4 1659.6,390.5 1661.8,390.6 1664.1,390.7 1666.3,390.7 1668.5,390.8 1670.7,390.9 1673,390.9 1675.2,391 1677.4,391 1679.6,391.1 1681.9,391.1 1684.1,391.1 1686.3,391.2 1688.5,391.2 1690.8,391.2 1693,391.3 1695.2,391.3 1697.4,391.3 1699.7,391.3 1701.9,391.3 1704.1,391.4 1706.3,391.4 1708.6,391.4 1710.8,391.4 1713,391.4 1715.2,391.5 1717.5,391.5 1719.7,391.5 1721.9,391.5 1724.1,391.6 1726.4,391.6 1728.6,391.7 1730.8,391.7 1733,391.7 1735.3,391.8 1737.5,391.8 1739.7,391.9 1741.9,392 1744.2,392 1746.4,392.1 1748.6,392.2 1750.8,392.3 1753.1,392.3 1755.3,392.4 1757.5,392.5 1759.7,392.6 1762,392.7 1764.2,392.7 1766.4,392.8 1768.6,392.9 1770.9,393 1773.1,393.1 1775.3,393.2 1777.5,393.3 1779.8,393.4 1782,393.5 1784.2,393.6 1786.4,393.6 1788.6,393.7 1790.9,393.8 1793.1,393.9 1795.3,394 1797.5,394.1 1799.8,394.2 1802,394.3 1804.2,394.4 1806.4,394.5 1808.7,394.6 1810.9,394.7 1813.1,394.8 1815.3,394.8 1817.6,394.9 1819.8,395 1822,395.1 1824.2,395.2 1826.5,395.3 1828.7,395.4 1830.9,395.5 1833.1,395.7 1835.4,395.8 1837.6,395.9 1839.8,395.9 1842,395.9 1844.3,395.8 1846.5,395.6 1848.7,395.4 1850.9,395.2 1853.2,395 1855.4,394.8 1857.6,394.6 1859.8,394.4 1862.1,394.2 1864.3,394 1866.5,393.8 1868.7,393.5 1871,393.3 1873.2,393.1 1875.4,392.9 1877.6,392.6 1879.9,392.4 1882.1,392.2 1884.3,391.9 1886.5,391.7 1888.8,391.4 1891,391.2 1893.2,390.9 1895.4,390.6 1897.7,390.4 1899.9,390.1 1902.1,389.8 1904.3,389.6 1906.6,389.3 1908.8,389 1911,388.7 1913.2,388.4 1915.5,388.1 1917.7,387.9 1919.9,387.6 1922.1,387.2 1924.3,386.9 1926.6,386.6 1928.8,386.3 1931,386 1933.2,385.6 1935.5,385.2 1937.7,384.9 1939.9,384.5 1942.1,384.1 1944.4,383.7 1946.6,383.3 1948.8,382.9 1951,382.5 1953.3,382.1 1955.5,381.6 1957.7,381.2 1959.9,380.8 1962.2,380.4 1964.4,380 1966.6,379.5 1968.8,379.1 1971.1,378.7 1973.3,378.3 1975.5,377.9 1977.7,377.5 1980,377.1 1982.2,376.8 1984.4,376.4 1986.6,376 1988.9,375.7 1991.1,375.3 1993.3,375 1995.5,374.7 1997.8,374.4 2000,374.1 2002.2,373.8 2004.4,373.6 2006.7,373.3 2008.9,373.1 2011.1,372.9 2013.3,372.6 2015.6,372.4 2017.8,372.2 2020,372 2022.2,371.7 2024.5,371.5 2026.7,371.3 2028.9,371.1 2031.1,370.9 2033.4,370.7 2035.6,370.5 2037.8,370.3 2040,370.1 2042.3,369.9 2044.5,369.7 2046.7,369.6 2048.9,369.4 2051.2,369.2 2053.4,369 2055.6,368.8 2057.8,368.7 2060.1,368.5 2062.3,368.3 2064.5,368.1 2066.7,368 2068.9,367.8 2071.2,367.6 2073.4,367.5 2075.6,367.3 2077.8,367.1 2080.1,367 2082.3,366.8 2084.5,366.7 2086.7,366.5 2089,366.3 2091.2,366.2 2093.4,366 2095.6,365.8 2097.9,365.7 2100.1,365.5 2102.3,365.4 2104.5,365.2 2106.8,365 2109,364.9 2111.2,364.7 2113.4,364.5 2115.7,364.4 2117.9,364.2 2120.1,364 2122.3,363.9 2124.6,363.7 2126.8,363.5 2129,363.3 2131.2,363.2 2133.5,363 2135.7,362.8 2137.9,362.6 2140.1,362.4 2142.4,362.2 2144.6,362 2146.8,361.8 2149,361.7 2151.3,361.5 2153.5,361.3 2155.7,361 2157.9,360.8 2160.2,360.6 2162.4,360.4 2164.6,360.2 2166.8,360 2169.1,359.7 2171.3,359.5 2173.5,359.2 2175.7,359 2178,358.7 2180.2,358.5 2182.4,358.2 2184.6,357.9 2186.9,357.7 2189.1,357.4 2191.3,357.1 2193.5,356.8 2195.8,356.5 2198,356.2 2200.2,355.9 2202.4,355.6 2204.6,355.3 2206.9,355 2209.1,354.7 2211.3,354.4 2213.5,354.1 2215.8,353.8 2218,353.5 2220.2,353.2 2222.4,352.9 2224.7,352.6 2226.9,352.3 2229.1,352.1 2231.3,351.8 2233.6,351.5 2235.8,351.2 2238,350.9 2240.2,350.7 2242.5,350.4 2244.7,350.1 2246.9,349.9 2249.1,349.6 2251.4,349.3 2253.6,349.1 2255.8,348.8 2258,348.5 2260.3,348.3 2262.5,348 2264.7,347.8 2266.9,347.5 2269.2,347.3 2271.4,347 2273.6,346.7 2275.8,346.5 2278.1,346.2 2280.3,346 2282.5,345.7 2284.7,345.5 2287,345.2 2289.2,345 2291.4,344.7 2293.6,344.5 2295.9,344.2 2298.1,344 2300.3,343.7 2302.5,343.5 2304.8,343.2 2307,343 2309.2,342.7 2311.4,342.5 2313.7,342.2 2315.9,341.9 2318.1,341.7 2320.3,341.4" fill="none" stroke="#f0962c" stroke-width="1.6"/>
<path d="M1372.6 137.9h0M1377.4 202.8h0M1382.2 254.8h0M1387 282.4h0M1391.7 301.8h0M1396.5 317.5h0M1401.3 325.6h0M1406 332.3h0M1410.8 337.7h0M1415.6 342.4h0M1420.3 346.3h0M1425.1 349.1h0M1429.9 351.2h0M1434.6 352.9h0M1442.6 355h0M1450.5 356.5h0M1458.5 357.6h0M1466.4 357.9h0M1474.3 357.9h0M1482.3 357.9h0M1490.2 358.3h0M1498.2 359.9h0M1506.1 363h0M1514.1 366.8h0M1522 371.4h0M1530 374.5h0M1537.9 376.8h0M1545.9 378.9h0M1553.8 380.8h0M1561.7 382.3h0M1569.7 383.6h0M1577.6 384.6h0M1585.6 385.5h0M1593.5 386.2h0M1601.5 387h0M1609.4 387.6h0M1617.4 388.2h0M1625.3 388.7h0M1633.2 389.2h0M1641.2 389.6h0M1649.1 390h0M1657.1 390.4h0M1665 390.7h0M1673 390.9h0M1680.9 391.1h0M1688.9 391.2h0M1696.8 391.3h0M1704.8 391.4h0M1712.7 391.4h0M1720.6 391.5h0M1728.6 391.7h0M1736.5 391.8h0M1744.5 392.1h0M1752.4 392.3h0M1760.4 392.6h0M1768.3 392.9h0M1776.3 393.2h0M1784.2 393.6h0M1792.1 393.9h0M1800.1 394.2h0M1808 394.5h0M1816 394.9h0M1823.9 395.2h0M1831.9 395.6h0M1839.8 395.9h0M1847.8 395.5h0M1855.7 394.8h0M1863.7 394h0M1871.6 393.3h0M1879.5 392.4h0M1887.5 391.6h0M1895.4 390.6h0M1903.4 389.7h0M1911.3 388.7h0M1919.3 387.6h0M1927.2 386.5h0M1935.2 385.3h0M1943.1 383.9h0M1951 382.5h0M1959 381h0M1966.9 379.5h0M1974.9 378h0M1982.8 376.6h0M1990.8 375.4h0M1998.7 374.3h0M2006.7 373.3h0M2014.6 372.5h0M2022.6 371.7h0M2030.5 371h0M2038.4 370.3h0M2046.4 369.6h0M2054.3 368.9h0M2062.3 368.3h0M2070.2 367.7h0M2078.2 367.1h0M2086.1 366.5h0M2094.1 366h0M2102 365.4h0M2109.9 364.8h0M2117.9 364.2h0M2125.8 363.6h0M2133.8 362.9h0M2141.7 362.3h0M2149.7 361.6h0M2157.6 360.9h0M2165.6 360.1h0M2173.5 359.2h0M2181.5 358.3h0M2189.4 357.3h0M2197.3 356.3h0M2205.3 355.2h0M2213.2 354.2h0M2221.2 353.1h0M2229.1 352.1h0M2237.1 351h0M2245 350.1h0M2253 349.1h0M2260.9 348.2h0M2268.8 347.3h0M2276.8 346.4h0M2284.7 345.5h0M2292.7 344.6h0M2300.6 343.7h0M2308.6 342.8h0M2316.5 341.9h0" stroke="#f0962c" stroke-width="13" stroke-linecap="round" fill="none"/>
<polyline points="1377.7,338.8 1380,353.6 1382.2,364.8 1384.4,369.8 1386.6,373.1 1388.9,377.9 1391.1,386.6 1393.3,395.4 1395.5,400 1397.8,403.1 1400,405.9 1402.2,408.3 1404.4,410.5 1406.7,412.6 1408.9,414.4 1411.1,416.2 1413.3,418 1415.6,419.9 1417.8,421.8 1420,423.7 1422.2,425.6 1424.5,427.4 1426.7,429.3 1428.9,431 1431.1,432.6 1433.3,434.2 1435.6,435.6 1437.8,436.8 1440,437.9 1442.2,438.8 1444.5,439.5 1446.7,440.2 1448.9,440.9 1451.1,441.5 1453.4,442 1455.6,442.4 1457.8,442.9 1460,443.2 1462.3,443.6 1464.5,443.9 1466.7,444.2 1468.9,444.5 1471.2,444.8 1473.4,445.1 1475.6,445.3 1477.8,445.6 1480.1,445.9 1482.3,446.3 1484.5,446.6 1486.7,447 1489,447.4 1491.2,447.8 1493.4,448.2 1495.6,448.6 1497.9,449 1500.1,449.4 1502.3,449.8 1504.5,450.2 1506.8,450.6 1509,451 1511.2,451.3 1513.4,451.7 1515.7,452 1517.9,452.3 1520.1,452.6 1522.3,452.8 1524.6,453.1 1526.8,453.3 1529,453.5 1531.2,453.7 1533.5,453.9 1535.7,454.1 1537.9,454.3 1540.1,454.4 1542.4,454.6 1544.6,454.8 1546.8,455 1549,455.1 1551.3,455.3 1553.5,455.4 1555.7,455.6 1557.9,455.7 1560.2,455.9 1562.4,456 1564.6,456.2 1566.8,456.3 1569,456.4 1571.3,456.5 1573.5,456.7 1575.7,456.8 1577.9,456.9 1580.2,457 1582.4,457.1 1584.6,457.2 1586.8,457.3 1589.1,457.4 1591.3,457.5 1593.5,457.6 1595.7,457.7 1598,457.8 1600.2,457.9 1602.4,458 1604.6,458 1606.9,458.1 1609.1,458.2 1611.3,458.3 1613.5,458.3 1615.8,458.4 1618,458.5 1620.2,458.5 1622.4,458.6 1624.7,458.7 1626.9,458.7 1629.1,458.8 1631.3,458.9 1633.6,458.9 1635.8,459 1638,459 1640.2,459.1 1642.5,459.1 1644.7,459.2 1646.9,459.2 1649.1,459.3 1651.4,459.3 1653.6,459.4 1655.8,459.4 1658,459.5 1660.3,459.5 1662.5,459.5 1664.7,459.6 1666.9,459.6 1669.2,459.7 1671.4,459.7 1673.6,459.7 1675.8,459.8 1678.1,459.8 1680.3,459.8 1682.5,459.8 1684.7,459.9 1687,459.9 1689.2,459.9 1691.4,459.9 1693.6,459.9 1695.9,460 1698.1,460 1700.3,460 1702.5,460 1704.8,460 1707,460 1709.2,460 1711.4,460 1713.6,460 1715.9,460.1 1718.1,460.1 1720.3,460.1 1722.5,460.1 1724.8,460 1727,460 1729.2,460 1731.4,460 1733.7,460 1735.9,460 1738.1,460 1740.3,460 1742.6,460 1744.8,459.9 1747,459.9 1749.2,459.9 1751.5,459.9 1753.7,459.9 1755.9,459.8 1758.1,459.8 1760.4,459.8 1762.6,459.8 1764.8,459.7 1767,459.7 1769.3,459.7 1771.5,459.6 1773.7,459.6 1775.9,459.6 1778.2,459.5 1780.4,459.5 1782.6,459.4 1784.8,459.4 1787.1,459.3 1789.3,459.3 1791.5,459.2 1793.7,459.1 1796,459.1 1798.2,459 1800.4,458.9 1802.6,458.9 1804.9,458.8 1807.1,458.7 1809.3,458.6 1811.5,458.5 1813.8,458.4 1816,458.3 1818.2,458.2 1820.4,458.1 1822.7,458 1824.9,457.9 1827.1,457.8 1829.3,457.7 1831.6,457.5 1833.8,457.4 1836,457.3 1838.2,457.1 1840.5,457 1842.7,456.8 1844.9,456.7 1847.1,456.5 1849.3,456.3 1851.6,456.2 1853.8,456 1856,455.8 1858.2,455.6 1860.5,455.4 1862.7,455.3 1864.9,455.1 1867.1,454.9 1869.4,454.7 1871.6,454.5 1873.8,454.3 1876,454.1 1878.3,453.9 1880.5,453.7 1882.7,453.4 1884.9,453.2 1887.2,453 1889.4,452.8 1891.6,452.6 1893.8,452.4 1896.1,452.1 1898.3,451.9 1900.5,451.7 1902.7,451.5 1905,451.2 1907.2,451 1909.4,450.8 1911.6,450.5 1913.9,450.3 1916.1,450.1 1918.3,449.8 1920.5,449.6 1922.8,449.3 1925,449.1 1927.2,448.9 1929.4,448.6 1931.7,448.4 1933.9,448.1 1936.1,447.9 1938.3,447.7 1940.6,447.4 1942.8,447.2 1945,446.9 1947.2,446.7 1949.5,446.4 1951.7,446.2 1953.9,445.9 1956.1,445.7 1958.4,445.5 1960.6,445.2 1962.8,445 1965,444.7 1967.3,444.5 1969.5,444.3 1971.7,444 1973.9,443.8 1976.2,443.5 1978.4,443.3 1980.6,443.1 1982.8,442.8 1985,442.6 1987.3,442.4 1989.5,442.2 1991.7,441.9 1993.9,441.7 1996.2,441.5 1998.4,441.3 2000.6,441 2002.8,440.8 2005.1,440.6 2007.3,440.4 2009.5,440.2 2011.7,440 2014,439.7 2016.2,439.5 2018.4,439.3 2020.6,439.1 2022.9,438.9 2025.1,438.6 2027.3,438.4 2029.5,438.2 2031.8,438 2034,437.8 2036.2,437.6 2038.4,437.3 2040.7,437.1 2042.9,436.9 2045.1,436.7 2047.3,436.5 2049.6,436.2 2051.8,436 2054,435.8 2056.2,435.6 2058.5,435.4 2060.7,435.2 2062.9,434.9 2065.1,434.7 2067.4,434.5 2069.6,434.3 2071.8,434.1 2074,433.9 2076.3,433.6 2078.5,433.4 2080.7,433.2 2082.9,433 2085.2,432.8 2087.4,432.6 2089.6,432.4 2091.8,432.2 2094.1,431.9 2096.3,431.7 2098.5,431.5 2100.7,431.3 2103,431.1 2105.2,430.9 2107.4,430.7 2109.6,430.5 2111.9,430.3 2114.1,430.1 2116.3,429.9 2118.5,429.7 2120.8,429.5 2123,429.3 2125.2,429 2127.4,428.8 2129.6,428.6 2131.9,428.4 2134.1,428.2 2136.3,428.1 2138.5,427.9 2140.8,427.7 2143,427.5 2145.2,427.3 2147.4,427.1 2149.7,426.9 2151.9,426.7 2154.1,426.5 2156.3,426.3 2158.6,426.1 2160.8,425.9 2163,425.8 2165.2,425.6 2167.5,425.4 2169.7,425.2 2171.9,425 2174.1,424.9 2176.4,424.7 2178.6,424.5 2180.8,424.3 2183,424.1 2185.3,424 2187.5,423.8 2189.7,423.6 2191.9,423.5 2194.2,423.3 2196.4,423.1 2198.6,423 2200.8,422.8 2203.1,422.6 2205.3,422.5 2207.5,422.3 2209.7,422.1 2212,422 2214.2,421.8 2216.4,421.7 2218.6,421.5 2220.9,421.3 2223.1,421.2 2225.3,421 2227.5,420.9 2229.8,420.7 2232,420.5 2234.2,420.4 2236.4,420.2 2238.7,420.1 2240.9,419.9 2243.1,419.8 2245.3,419.6 2247.6,419.5 2249.8,419.3 2252,419.2 2254.2,419 2256.5,418.9 2258.7,418.7 2260.9,418.5 2263.1,418.4 2265.3,418.2 2267.6,418.1 2269.8,417.9 2272,417.8 2274.2,417.6 2276.5,417.5 2278.7,417.3 2280.9,417.2 2283.1,417 2285.4,416.9 2287.6,416.7 2289.8,416.6 2292,416.4 2294.3,416.3 2296.5,416.1 2298.7,415.9 2300.9,415.8 2303.2,415.6 2305.4,415.5 2307.6,415.3 2309.8,415.2 2312.1,415 2314.3,414.9 2316.5,414.7 2318.7,414.5 2321,414.4" fill="none" stroke="#8b1a1e" stroke-width="1.6"/>
<path d="M1384.9 338.8l-11.7 -6.5v13zM1389.7 365.7l-11.7 -6.5v13zM1394.4 374.1l-11.7 -6.5v13zM1399.2 390.7l-11.7 -6.5v13zM1404 401.9l-11.7 -6.5v13zM1408.7 407.7l-11.7 -6.5v13zM1413.5 412.3l-11.7 -6.5v13zM1418.3 416.2l-11.7 -6.5v13zM1423 420.1l-11.7 -6.5v13zM1427.8 424.2l-11.7 -6.5v13zM1432.6 428.2l-11.7 -6.5v13zM1437.3 432l-11.7 -6.5v13zM1442.1 435.2l-11.7 -6.5v13zM1450 439l-11.7 -6.5v13zM1458 441.4l-11.7 -6.5v13zM1465.9 443l-11.7 -6.5v13zM1473.9 444.2l-11.7 -6.5v13zM1481.8 445.2l-11.7 -6.5v13zM1489.8 446.3l-11.7 -6.5v13zM1497.7 447.7l-11.7 -6.5v13zM1505.6 449.2l-11.7 -6.5v13zM1513.6 450.5l-11.7 -6.5v13zM1521.5 451.8l-11.7 -6.5v13zM1529.5 452.8l-11.7 -6.5v13zM1537.4 453.6l-11.7 -6.5v13zM1545.4 454.3l-11.7 -6.5v13zM1553.3 454.9l-11.7 -6.5v13zM1561.3 455.5l-11.7 -6.5v13zM1569.2 456l-11.7 -6.5v13zM1577.2 456.5l-11.7 -6.5v13zM1585.1 456.9l-11.7 -6.5v13zM1593 457.3l-11.7 -6.5v13zM1601 457.6l-11.7 -6.5v13zM1608.9 457.9l-11.7 -6.5v13zM1616.9 458.2l-11.7 -6.5v13zM1624.8 458.5l-11.7 -6.5v13zM1632.8 458.7l-11.7 -6.5v13zM1640.7 458.9l-11.7 -6.5v13zM1648.7 459.1l-11.7 -6.5v13zM1656.6 459.3l-11.7 -6.5v13zM1664.5 459.4l-11.7 -6.5v13zM1672.5 459.6l-11.7 -6.5v13zM1680.4 459.7l-11.7 -6.5v13zM1688.4 459.8l-11.7 -6.5v13zM1696.3 459.9l-11.7 -6.5v13zM1704.3 460l-11.7 -6.5v13zM1712.2 460l-11.7 -6.5v13zM1720.2 460l-11.7 -6.5v13zM1728.1 460.1l-11.7 -6.5v13zM1736.1 460l-11.7 -6.5v13zM1744 460l-11.7 -6.5v13zM1751.9 459.9l-11.7 -6.5v13zM1759.9 459.9l-11.7 -6.5v13zM1767.8 459.8l-11.7 -6.5v13zM1775.8 459.7l-11.7 -6.5v13zM1783.7 459.5l-11.7 -6.5v13zM1791.7 459.4l-11.7 -6.5v13zM1799.6 459.2l-11.7 -6.5v13zM1807.6 458.9l-11.7 -6.5v13zM1815.5 458.7l-11.7 -6.5v13zM1823.4 458.3l-11.7 -6.5v13zM1831.4 457.9l-11.7 -6.5v13zM1839.3 457.5l-11.7 -6.5v13zM1847.3 457l-11.7 -6.5v13zM1855.2 456.4l-11.7 -6.5v13zM1863.2 455.8l-11.7 -6.5v13zM1871.1 455.1l-11.7 -6.5v13zM1879.1 454.4l-11.7 -6.5v13zM1887 453.7l-11.7 -6.5v13zM1895 453l-11.7 -6.5v13zM1902.9 452.2l-11.7 -6.5v13zM1910.8 451.4l-11.7 -6.5v13zM1918.8 450.5l-11.7 -6.5v13zM1926.7 449.7l-11.7 -6.5v13zM1934.7 448.8l-11.7 -6.5v13zM1942.6 448l-11.7 -6.5v13zM1950.6 447.1l-11.7 -6.5v13zM1958.5 446.2l-11.7 -6.5v13zM1966.5 445.4l-11.7 -6.5v13zM1974.4 444.5l-11.7 -6.5v13zM1982.3 443.6l-11.7 -6.5v13zM1990.3 442.8l-11.7 -6.5v13zM1998.2 442l-11.7 -6.5v13zM2006.2 441.2l-11.7 -6.5v13zM2014.1 440.4l-11.7 -6.5v13zM2022.1 439.6l-11.7 -6.5v13zM2030 438.9l-11.7 -6.5v13zM2038 438.1l-11.7 -6.5v13zM2045.9 437.3l-11.7 -6.5v13zM2053.9 436.5l-11.7 -6.5v13zM2061.8 435.7l-11.7 -6.5v13zM2069.7 435l-11.7 -6.5v13zM2077.7 434.2l-11.7 -6.5v13zM2085.6 433.4l-11.7 -6.5v13zM2093.6 432.7l-11.7 -6.5v13zM2101.5 431.9l-11.7 -6.5v13zM2109.5 431.2l-11.7 -6.5v13zM2117.4 430.4l-11.7 -6.5v13zM2125.4 429.7l-11.7 -6.5v13zM2133.3 429l-11.7 -6.5v13zM2141.2 428.2l-11.7 -6.5v13zM2149.2 427.5l-11.7 -6.5v13zM2157.1 426.9l-11.7 -6.5v13zM2165.1 426.2l-11.7 -6.5v13zM2173 425.5l-11.7 -6.5v13zM2181 424.9l-11.7 -6.5v13zM2188.9 424.2l-11.7 -6.5v13zM2196.9 423.6l-11.7 -6.5v13zM2204.8 423l-11.7 -6.5v13zM2212.8 422.4l-11.7 -6.5v13zM2220.7 421.9l-11.7 -6.5v13zM2228.6 421.3l-11.7 -6.5v13zM2236.6 420.7l-11.7 -6.5v13zM2244.5 420.2l-11.7 -6.5v13zM2252.5 419.6l-11.7 -6.5v13zM2260.4 419.1l-11.7 -6.5v13zM2268.4 418.5l-11.7 -6.5v13zM2276.3 418l-11.7 -6.5v13zM2284.3 417.4l-11.7 -6.5v13zM2292.2 416.9l-11.7 -6.5v13zM2300.1 416.3l-11.7 -6.5v13zM2308.1 415.8l-11.7 -6.5v13zM2316 415.2l-11.7 -6.5v13zM2324 414.7l-11.7 -6.5v13z" fill="#8b1a1e"/>
<polyline points="1388.5,146.2 1390.8,168.7 1393,191.2 1395.2,214.5 1397.4,238.5 1399.7,261.1 1401.9,281.3 1404.1,300.4 1406.3,318.3 1408.6,335.3 1410.8,351.9 1413,367.4 1415.2,380.5 1417.5,390.7 1419.7,399.5 1421.9,407.3 1424.1,414.3 1426.4,420.7 1428.6,426.8 1430.8,432.5 1433,437.8 1435.3,442.5 1437.5,446.5 1439.7,449.8 1441.9,452.3 1444.2,454.4 1446.4,456.2 1448.6,457.8 1450.8,459.2 1453.1,460.5 1455.3,461.6 1457.5,462.6 1459.7,463.6 1462,464.5 1464.2,465.5 1466.4,466.5 1468.6,467.5 1470.8,468.6 1473.1,469.6 1475.3,470.6 1477.5,471.6 1479.7,472.5 1482,473.4 1484.2,474.2 1486.4,474.9 1488.6,475.5 1490.9,476.1 1493.1,476.5 1495.3,476.9 1497.5,477.1 1499.8,477.2 1502,477.3 1504.2,477.3 1506.4,477.3 1508.7,477.2 1510.9,477.1 1513.1,477 1515.3,476.9 1517.6,476.8 1519.8,476.7 1522,476.6 1524.2,476.6 1526.5,476.6 1528.7,476.6 1530.9,476.7 1533.1,476.8 1535.4,476.9 1537.6,476.9 1539.8,477 1542,477.1 1544.3,477.2 1546.5,477.3 1548.7,477.4 1550.9,477.6 1553.2,477.7 1555.4,477.8 1557.6,477.9 1559.8,478 1562.1,478.1 1564.3,478.2 1566.5,478.4 1568.7,478.5 1571,478.6 1573.2,478.7 1575.4,478.8 1577.6,478.9 1579.9,479 1582.1,479.1 1584.3,479.2 1586.5,479.3 1588.8,479.4 1591,479.5 1593.2,479.6 1595.4,479.6 1597.7,479.7 1599.9,479.7 1602.1,479.8 1604.3,479.8 1606.6,479.9 1608.8,479.9 1611,479.9 1613.2,479.9 1615.4,479.9 1617.7,479.9 1619.9,479.9 1622.1,479.9 1624.3,479.9 1626.6,479.9 1628.8,479.9 1631,479.9 1633.2,479.8 1635.5,479.8 1637.7,479.8 1639.9,479.8 1642.1,479.8 1644.4,479.8 1646.6,479.7 1648.8,479.7 1651,479.7 1653.3,479.7 1655.5,479.7 1657.7,479.6 1659.9,479.6 1662.2,479.6 1664.4,479.5 1666.6,479.5 1668.8,479.5 1671.1,479.5 1673.3,479.4 1675.5,479.4 1677.7,479.4 1680,479.3 1682.2,479.3 1684.4,479.3 1686.6,479.2 1688.9,479.2 1691.1,479.1 1693.3,479.1 1695.5,479.1 1697.8,479 1700,479 1702.2,478.9 1704.4,478.9 1706.7,478.9 1708.9,478.8 1711.1,478.8 1713.3,478.7 1715.6,478.7 1717.8,478.7 1720,478.6 1722.2,478.6 1724.5,478.5 1726.7,478.5 1728.9,478.4 1731.1,478.4 1733.4,478.3 1735.6,478.3 1737.8,478.2 1740,478.2 1742.3,478.2 1744.5,478.1 1746.7,478.1 1748.9,478 1751.1,478 1753.4,477.9 1755.6,477.9 1757.8,477.8 1760,477.8 1762.3,477.7 1764.5,477.7 1766.7,477.6 1768.9,477.6 1771.2,477.6 1773.4,477.5 1775.6,477.5 1777.8,477.4 1780.1,477.4 1782.3,477.3 1784.5,477.3 1786.7,477.2 1789,477.2 1791.2,477.2 1793.4,477.1 1795.6,477.1 1797.9,477 1800.1,477 1802.3,477 1804.5,476.9 1806.8,476.9 1809,476.8 1811.2,476.8 1813.4,476.8 1815.7,476.7 1817.9,476.7 1820.1,476.7 1822.3,476.6 1824.6,476.6 1826.8,476.6 1829,476.6 1831.2,476.6 1833.5,476.7 1835.7,476.7 1837.9,476.7 1840.1,476.7 1842.4,476.7 1844.6,476.6 1846.8,476.5 1849,476.3 1851.3,476.2 1853.5,476 1855.7,475.9 1857.9,475.7 1860.2,475.6 1862.4,475.4 1864.6,475.2 1866.8,475.1 1869.1,474.9 1871.3,474.8 1873.5,474.6 1875.7,474.4 1878,474.3 1880.2,474.1 1882.4,474 1884.6,473.8 1886.8,473.6 1889.1,473.5 1891.3,473.3 1893.5,473.1 1895.7,473 1898,472.8 1900.2,472.6 1902.4,472.5 1904.6,472.3 1906.9,472.1 1909.1,472 1911.3,471.8 1913.5,471.6 1915.8,471.4 1918,471.3 1920.2,471.1 1922.4,470.9 1924.7,470.8 1926.9,470.6 1929.1,470.4 1931.3,470.2 1933.6,470.1 1935.8,469.9 1938,469.7 1940.2,469.6 1942.5,469.4 1944.7,469.2 1946.9,469.1 1949.1,468.9 1951.4,468.7 1953.6,468.5 1955.8,468.4 1958,468.2 1960.3,468 1962.5,467.9 1964.7,467.7 1966.9,467.5 1969.2,467.4 1971.4,467.2 1973.6,467.1 1975.8,466.9 1978.1,466.7 1980.3,466.6 1982.5,466.4 1984.7,466.3 1987,466.1 1989.2,466 1991.4,465.8 1993.6,465.6 1995.9,465.5 1998.1,465.3 2000.3,465.2 2002.5,465 2004.8,464.9 2007,464.8 2009.2,464.6 2011.4,464.5 2013.7,464.3 2015.9,464.2 2018.1,464 2020.3,463.9 2022.6,463.8 2024.8,463.6 2027,463.5 2029.2,463.3 2031.4,463.2 2033.7,463.1 2035.9,462.9 2038.1,462.8 2040.3,462.7 2042.6,462.5 2044.8,462.4 2047,462.3 2049.2,462.1 2051.5,462 2053.7,461.9 2055.9,461.7 2058.1,461.6 2060.4,461.5 2062.6,461.3 2064.8,461.2 2067,461.1 2069.3,460.9 2071.5,460.8 2073.7,460.7 2075.9,460.6 2078.2,460.4 2080.4,460.3 2082.6,460.2 2084.8,460.1 2087.1,459.9 2089.3,459.8 2091.5,459.7 2093.7,459.6 2096,459.4 2098.2,459.3 2100.4,459.2 2102.6,459.1 2104.9,458.9 2107.1,458.8 2109.3,458.7 2111.5,458.6 2113.8,458.4 2116,458.3 2118.2,458.2 2120.4,458.1 2122.7,457.9 2124.9,457.8 2127.1,457.7 2129.3,457.6 2131.6,457.4 2133.8,457.3 2136,457.2 2138.2,457.1 2140.5,456.9 2142.7,456.8 2144.9,456.7 2147.1,456.6 2149.4,456.4 2151.6,456.3 2153.8,456.2 2156,456 2158.3,455.9 2160.5,455.8 2162.7,455.7 2164.9,455.5 2167.1,455.4 2169.4,455.3 2171.6,455.2 2173.8,455 2176,454.9 2178.3,454.8 2180.5,454.6 2182.7,454.5 2184.9,454.4 2187.2,454.3 2189.4,454.1 2191.6,454 2193.8,453.9 2196.1,453.8 2198.3,453.6 2200.5,453.5 2202.7,453.4 2205,453.3 2207.2,453.1 2209.4,453 2211.6,452.9 2213.9,452.8 2216.1,452.6 2218.3,452.5 2220.5,452.4 2222.8,452.3 2225,452.1 2227.2,452 2229.4,451.9 2231.7,451.8 2233.9,451.6 2236.1,451.5 2238.3,451.4 2240.6,451.3 2242.8,451.1 2245,451 2247.2,450.9 2249.5,450.8 2251.7,450.6 2253.9,450.5 2256.1,450.4 2258.4,450.3 2260.6,450.1 2262.8,450 2265,449.9 2267.3,449.8 2269.5,449.6 2271.7,449.5 2273.9,449.4 2276.2,449.3 2278.4,449.1 2280.6,449 2282.8,448.9 2285.1,448.8 2287.3,448.6 2289.5,448.5 2291.7,448.4 2294,448.3 2296.2,448.1 2298.4,448 2300.6,447.9 2302.8,447.8 2305.1,447.6 2307.3,447.5 2309.5,447.4 2311.7,447.3 2314,447.1 2316.2,447 2318.4,446.9 2320.6,446.8" fill="none" stroke="#e8309a" stroke-width="1.6"/>
<path d="M1381.4 146.2l11.7 -6.5v13zM1386.2 194.4l11.7 -6.5v13zM1390.9 245.2l11.7 -6.5v13zM1395.7 289.6l11.7 -6.5v13zM1400.5 328.1l11.7 -6.5v13zM1405.2 363.2l11.7 -6.5v13zM1410 389.3l11.7 -6.5v13zM1414.8 407.3l11.7 -6.5v13zM1419.5 421.6l11.7 -6.5v13zM1424.3 434.1l11.7 -6.5v13zM1429.1 444.3l11.7 -6.5v13zM1437 454.4l11.7 -6.5v13zM1444.9 460l11.7 -6.5v13zM1452.9 463.7l11.7 -6.5v13zM1460.8 467.2l11.7 -6.5v13zM1468.8 470.9l11.7 -6.5v13zM1476.7 474.1l11.7 -6.5v13zM1484.7 476.3l11.7 -6.5v13zM1492.6 477.2l11.7 -6.5v13zM1500.6 477.3l11.7 -6.5v13zM1508.5 476.9l11.7 -6.5v13zM1516.5 476.6l11.7 -6.5v13zM1524.4 476.7l11.7 -6.5v13zM1532.3 477l11.7 -6.5v13zM1540.3 477.4l11.7 -6.5v13zM1548.2 477.8l11.7 -6.5v13zM1556.2 478.2l11.7 -6.5v13zM1564.1 478.6l11.7 -6.5v13zM1572.1 479l11.7 -6.5v13zM1580 479.3l11.7 -6.5v13zM1588 479.6l11.7 -6.5v13zM1595.9 479.8l11.7 -6.5v13zM1603.8 479.9l11.7 -6.5v13zM1611.8 479.9l11.7 -6.5v13zM1619.7 479.9l11.7 -6.5v13zM1627.7 479.8l11.7 -6.5v13zM1635.6 479.8l11.7 -6.5v13zM1643.6 479.7l11.7 -6.5v13zM1651.5 479.6l11.7 -6.5v13zM1659.5 479.5l11.7 -6.5v13zM1667.4 479.4l11.7 -6.5v13zM1675.4 479.3l11.7 -6.5v13zM1683.3 479.2l11.7 -6.5v13zM1691.2 479l11.7 -6.5v13zM1699.2 478.9l11.7 -6.5v13zM1707.1 478.7l11.7 -6.5v13zM1715.1 478.6l11.7 -6.5v13zM1723 478.4l11.7 -6.5v13zM1731 478.2l11.7 -6.5v13zM1738.9 478.1l11.7 -6.5v13zM1746.9 477.9l11.7 -6.5v13zM1754.8 477.7l11.7 -6.5v13zM1762.7 477.6l11.7 -6.5v13zM1770.7 477.4l11.7 -6.5v13zM1778.6 477.3l11.7 -6.5v13zM1786.6 477.1l11.7 -6.5v13zM1794.5 477l11.7 -6.5v13zM1802.5 476.8l11.7 -6.5v13zM1810.4 476.7l11.7 -6.5v13zM1818.4 476.6l11.7 -6.5v13zM1826.3 476.7l11.7 -6.5v13zM1834.3 476.7l11.7 -6.5v13zM1842.2 476.3l11.7 -6.5v13zM1850.1 475.7l11.7 -6.5v13zM1858.1 475.2l11.7 -6.5v13zM1866 474.6l11.7 -6.5v13zM1874 474.1l11.7 -6.5v13zM1881.9 473.5l11.7 -6.5v13zM1889.9 472.9l11.7 -6.5v13zM1897.8 472.3l11.7 -6.5v13zM1905.8 471.7l11.7 -6.5v13zM1913.7 471l11.7 -6.5v13zM1921.6 470.4l11.7 -6.5v13zM1929.6 469.8l11.7 -6.5v13zM1937.5 469.2l11.7 -6.5v13zM1945.5 468.6l11.7 -6.5v13zM1953.4 468l11.7 -6.5v13zM1961.4 467.4l11.7 -6.5v13zM1969.3 466.9l11.7 -6.5v13zM1977.3 466.3l11.7 -6.5v13zM1985.2 465.7l11.7 -6.5v13zM1993.2 465.2l11.7 -6.5v13zM2001.1 464.7l11.7 -6.5v13zM2009 464.2l11.7 -6.5v13zM2017 463.7l11.7 -6.5v13zM2024.9 463.2l11.7 -6.5v13zM2032.9 462.7l11.7 -6.5v13zM2040.8 462.2l11.7 -6.5v13zM2048.8 461.7l11.7 -6.5v13zM2056.7 461.3l11.7 -6.5v13zM2064.7 460.8l11.7 -6.5v13zM2072.6 460.3l11.7 -6.5v13zM2080.5 459.9l11.7 -6.5v13zM2088.5 459.4l11.7 -6.5v13zM2096.4 459l11.7 -6.5v13zM2104.4 458.6l11.7 -6.5v13zM2112.3 458.1l11.7 -6.5v13zM2120.3 457.7l11.7 -6.5v13zM2128.2 457.2l11.7 -6.5v13zM2136.2 456.8l11.7 -6.5v13zM2144.1 456.3l11.7 -6.5v13zM2152.1 455.9l11.7 -6.5v13zM2160 455.4l11.7 -6.5v13zM2167.9 455l11.7 -6.5v13zM2175.9 454.5l11.7 -6.5v13zM2183.8 454l11.7 -6.5v13zM2191.8 453.6l11.7 -6.5v13zM2199.7 453.1l11.7 -6.5v13zM2207.7 452.7l11.7 -6.5v13zM2215.6 452.3l11.7 -6.5v13zM2223.6 451.8l11.7 -6.5v13zM2231.5 451.4l11.7 -6.5v13zM2239.4 450.9l11.7 -6.5v13zM2247.4 450.5l11.7 -6.5v13zM2255.3 450l11.7 -6.5v13zM2263.3 449.6l11.7 -6.5v13zM2271.2 449.1l11.7 -6.5v13zM2279.2 448.7l11.7 -6.5v13zM2287.1 448.2l11.7 -6.5v13zM2295.1 447.8l11.7 -6.5v13zM2303 447.3l11.7 -6.5v13zM2311 446.9l11.7 -6.5v13z" fill="#e8309a"/>
<polyline points="1374.6,214.3 1376.8,290.5 1379,333.4 1381.2,357.8 1383.5,375.5 1385.7,391.1 1387.9,403 1390.1,413.8 1392.4,426.3 1394.6,443.5 1396.8,463.5 1399,481.2 1401.3,492.7 1403.5,500.1 1405.7,506.7 1407.9,513.1 1410.1,519 1412.4,524.7 1414.6,530.5 1416.8,536.6 1419,542.6 1421.3,548.5 1423.5,554 1425.7,559.2 1427.9,564.3 1430.2,569.2 1432.4,573.9 1434.6,578.1 1436.8,581.9 1439.1,585.1 1441.3,588 1443.5,590.6 1445.7,592.9 1448,595 1450.2,596.8 1452.4,598.4 1454.6,599.8 1456.9,601.1 1459.1,602.2 1461.3,603.3 1463.5,604.4 1465.8,605.3 1468,606.2 1470.2,607 1472.4,607.8 1474.7,608.5 1476.9,609.1 1479.1,609.7 1481.3,610.3 1483.6,610.8 1485.8,611.2 1488,611.7 1490.2,612.1 1492.5,612.4 1494.7,612.8 1496.9,613.1 1499.1,613.3 1501.4,613.6 1503.6,613.8 1505.8,614 1508,614.2 1510.3,614.3 1512.5,614.4 1514.7,614.5 1516.9,614.5 1519.2,614.5 1521.4,614.5 1523.6,614.5 1525.8,614.4 1528.1,614.3 1530.3,614.2 1532.5,613.9 1534.7,613.7 1537,613.3 1539.2,613 1541.4,612.5 1543.6,612.1 1545.9,611.6 1548.1,611 1550.3,610.4 1552.5,609.7 1554.7,609.1 1557,608.4 1559.2,607.6 1561.4,606.8 1563.6,605.9 1565.9,605 1568.1,604 1570.3,603 1572.5,602 1574.8,600.9 1577,599.8 1579.2,598.6 1581.4,597.5 1583.7,596.3 1585.9,595.2 1588.1,594.1 1590.3,592.9 1592.6,591.8 1594.8,590.7 1597,589.5 1599.2,588.4 1601.5,587.2 1603.7,586 1605.9,584.8 1608.1,583.6 1610.4,582.4 1612.6,581.3 1614.8,580.1 1617,578.9 1619.3,577.8 1621.5,576.7 1623.7,575.5 1625.9,574.4 1628.2,573.3 1630.4,572.2 1632.6,571 1634.8,569.9 1637.1,568.8 1639.3,567.7 1641.5,566.7 1643.7,565.6 1646,564.6 1648.2,563.6 1650.4,562.7 1652.6,561.8 1654.9,561 1657.1,560.2 1659.3,559.5 1661.5,558.8 1663.8,558.1 1666,557.4 1668.2,556.8 1670.4,556.2 1672.7,555.7 1674.9,555.2 1677.1,554.7 1679.3,554.2 1681.6,553.8 1683.8,553.3 1686,552.9 1688.2,552.6 1690.4,552.2 1692.7,551.8 1694.9,551.5 1697.1,551.1 1699.3,550.8 1701.6,550.5 1703.8,550.1 1706,549.8 1708.2,549.5 1710.5,549.2 1712.7,549 1714.9,548.7 1717.1,548.4 1719.4,548.2 1721.6,547.9 1723.8,547.7 1726,547.5 1728.3,547.3 1730.5,547.1 1732.7,546.9 1734.9,546.7 1737.2,546.5 1739.4,546.3 1741.6,546.2 1743.8,546 1746.1,545.9 1748.3,545.8 1750.5,545.6 1752.7,545.5 1755,545.4 1757.2,545.2 1759.4,545.1 1761.6,545 1763.9,544.9 1766.1,544.8 1768.3,544.7 1770.5,544.6 1772.8,544.5 1775,544.4 1777.2,544.3 1779.4,544.3 1781.7,544.2 1783.9,544.1 1786.1,544 1788.3,543.9 1790.6,543.9 1792.8,543.8 1795,543.7 1797.2,543.6 1799.5,543.5 1801.7,543.5 1803.9,543.4 1806.1,543.3 1808.4,543.2 1810.6,543.2 1812.8,543.1 1815,543 1817.3,542.9 1819.5,542.8 1821.7,542.7 1823.9,542.6 1826.1,542.5 1828.4,542.4 1830.6,542.3 1832.8,542.2 1835,542.1 1837.3,542 1839.5,541.8 1841.7,541.7 1843.9,541.6 1846.2,541.4 1848.4,541.3 1850.6,541.2 1852.8,541 1855.1,540.9 1857.3,540.7 1859.5,540.5 1861.7,540.4 1864,540.2 1866.2,540.1 1868.4,539.9 1870.6,539.8 1872.9,539.6 1875.1,539.4 1877.3,539.3 1879.5,539.1 1881.8,538.9 1884,538.8 1886.2,538.6 1888.4,538.4 1890.7,538.3 1892.9,538.1 1895.1,537.9 1897.3,537.7 1899.6,537.6 1901.8,537.4 1904,537.2 1906.2,537 1908.5,536.8 1910.7,536.7 1912.9,536.5 1915.1,536.3 1917.4,536.1 1919.6,535.9 1921.8,535.8 1924,535.6 1926.3,535.4 1928.5,535.2 1930.7,535 1932.9,534.8 1935.2,534.7 1937.4,534.5 1939.6,534.3 1941.8,534.1 1944.1,533.9 1946.3,533.7 1948.5,533.5 1950.7,533.3 1953,533.2 1955.2,533 1957.4,532.8 1959.6,532.6 1961.9,532.4 1964.1,532.2 1966.3,532 1968.5,531.8 1970.7,531.6 1973,531.5 1975.2,531.3 1977.4,531.1 1979.6,530.9 1981.9,530.7 1984.1,530.5 1986.3,530.3 1988.5,530.1 1990.8,530 1993,529.8 1995.2,529.6 1997.4,529.4 1999.7,529.2 2001.9,529 2004.1,528.8 2006.3,528.7 2008.6,528.5 2010.8,528.3 2013,528.1 2015.2,527.9 2017.5,527.7 2019.7,527.5 2021.9,527.3 2024.1,527.1 2026.4,526.9 2028.6,526.7 2030.8,526.5 2033,526.3 2035.3,526.1 2037.5,525.9 2039.7,525.7 2041.9,525.5 2044.2,525.3 2046.4,525.1 2048.6,524.9 2050.8,524.7 2053.1,524.5 2055.3,524.3 2057.5,524.1 2059.7,523.9 2062,523.7 2064.2,523.5 2066.4,523.3 2068.6,523.1 2070.9,522.9 2073.1,522.7 2075.3,522.4 2077.5,522.2 2079.8,522 2082,521.8 2084.2,521.6 2086.4,521.4 2088.7,521.2 2090.9,521 2093.1,520.8 2095.3,520.6 2097.6,520.4 2099.8,520.2 2102,520 2104.2,519.8 2106.4,519.6 2108.7,519.4 2110.9,519.2 2113.1,519.1 2115.3,518.9 2117.6,518.7 2119.8,518.5 2122,518.3 2124.2,518.1 2126.5,517.9 2128.7,517.8 2130.9,517.6 2133.1,517.4 2135.4,517.2 2137.6,517.1 2139.8,516.9 2142,516.7 2144.3,516.5 2146.5,516.4 2148.7,516.2 2150.9,516.1 2153.2,515.9 2155.4,515.7 2157.6,515.6 2159.8,515.4 2162.1,515.3 2164.3,515.2 2166.5,515 2168.7,514.9 2171,514.7 2173.2,514.6 2175.4,514.5 2177.6,514.3 2179.9,514.2 2182.1,514.1 2184.3,514 2186.5,513.8 2188.8,513.7 2191,513.6 2193.2,513.5 2195.4,513.4 2197.7,513.3 2199.9,513.1 2202.1,513 2204.3,512.9 2206.6,512.8 2208.8,512.7 2211,512.6 2213.2,512.5 2215.5,512.4 2217.7,512.3 2219.9,512.2 2222.1,512.1 2224.4,512 2226.6,511.9 2228.8,511.8 2231,511.7 2233.3,511.6 2235.5,511.6 2237.7,511.5 2239.9,511.4 2242.1,511.3 2244.4,511.2 2246.6,511.1 2248.8,511 2251,510.9 2253.3,510.8 2255.5,510.8 2257.7,510.7 2259.9,510.6 2262.2,510.5 2264.4,510.4 2266.6,510.3 2268.8,510.3 2271.1,510.2 2273.3,510.1 2275.5,510 2277.7,509.9 2280,509.8 2282.2,509.7 2284.4,509.7 2286.6,509.6 2288.9,509.5 2291.1,509.4 2293.3,509.3 2295.5,509.2 2297.8,509.1 2300,509 2302.2,508.9 2304.4,508.9 2306.7,508.8 2308.9,508.7 2311.1,508.6 2313.3,508.5 2315.6,508.4 2317.8,508.3 2320,508.2" fill="none" stroke="#8c8a34" stroke-width="1.6"/>
<path d="M1374.6 214.3h0M1379.3 337.6h0M1384.1 380.3h0M1388.9 407.6h0M1393.6 435.5h0M1398.4 476.7h0M1403.2 499.2h0M1407.9 513.1h0M1412.7 525.6h0M1417.5 538.3h0M1422.2 550.9h0M1427 562.1h0M1431.8 572.6h0M1436.5 581.4h0M1444.5 591.6h0M1452.4 598.4h0M1460.4 602.9h0M1468.3 606.3h0M1476.3 609h0M1484.2 610.9h0M1492.1 612.4h0M1500.1 613.5h0M1508 614.2h0M1516 614.5h0M1523.9 614.5h0M1531.9 614h0M1539.8 612.9h0M1547.8 611.1h0M1555.7 608.8h0M1563.6 605.9h0M1571.6 602.4h0M1579.5 598.5h0M1587.5 594.4h0M1595.4 590.4h0M1603.4 586.2h0M1611.3 581.9h0M1619.3 577.8h0M1627.2 573.8h0M1635.2 569.8h0M1643.1 565.9h0M1651 562.5h0M1659 559.6h0M1666.9 557.2h0M1674.9 555.2h0M1682.8 553.5h0M1690.8 552.1h0M1698.7 550.9h0M1706.7 549.7h0M1714.6 548.7h0M1722.5 547.8h0M1730.5 547.1h0M1738.4 546.4h0M1746.4 545.9h0M1754.3 545.4h0M1762.3 545h0M1770.2 544.6h0M1778.2 544.3h0M1786.1 544h0M1794.1 543.7h0M1802 543.5h0M1809.9 543.2h0M1817.9 542.9h0M1825.8 542.5h0M1833.8 542.2h0M1841.7 541.7h0M1849.7 541.2h0M1857.6 540.7h0M1865.6 540.1h0M1873.5 539.5h0M1881.4 539h0M1889.4 538.3h0M1897.3 537.7h0M1905.3 537.1h0M1913.2 536.5h0M1921.2 535.8h0M1929.1 535.2h0M1937.1 534.5h0M1945 533.8h0M1953 533.2h0M1960.9 532.5h0M1968.8 531.8h0M1976.8 531.1h0M1984.7 530.5h0M1992.7 529.8h0M2000.6 529.1h0M2008.6 528.5h0M2016.5 527.8h0M2024.5 527.1h0M2032.4 526.4h0M2040.3 525.7h0M2048.3 524.9h0M2056.2 524.2h0M2064.2 523.5h0M2072.1 522.7h0M2080.1 522h0M2088 521.3h0M2096 520.6h0M2103.9 519.9h0M2111.9 519.2h0M2119.8 518.5h0M2127.7 517.8h0M2135.7 517.2h0M2143.6 516.6h0M2151.6 516h0M2159.5 515.5h0M2167.5 515h0M2175.4 514.5h0M2183.4 514h0M2191.3 513.6h0M2199.2 513.2h0M2207.2 512.8h0M2215.1 512.4h0M2223.1 512.1h0M2231 511.7h0M2239 511.4h0M2246.9 511.1h0M2254.9 510.8h0M2262.8 510.5h0M2270.8 510.2h0M2278.7 509.9h0M2286.6 509.6h0M2294.6 509.3h0M2302.5 508.9h0M2310.5 508.6h0M2318.4 508.3h0" stroke="#8c8a34" stroke-width="13" stroke-linecap="round" fill="none"/>
<polyline points="1394.6,31.7 1396.8,90.1 1399,141.4 1401.3,187.7 1403.5,231.4 1405.7,270.6 1407.9,304.1 1410.1,333 1412.4,357.1 1414.6,376.1 1416.8,391.3 1419,404.3 1421.3,415.7 1423.5,426.3 1425.7,436.9 1427.9,448.2 1430.2,461.1 1432.4,474.9 1434.6,486.8 1436.8,495.9 1439.1,504.4 1441.3,512.3 1443.5,519.5 1445.7,526.2 1448,532.2 1450.2,537.6 1452.4,542.5 1454.6,547 1456.9,551.2 1459.1,555.2 1461.3,559.1 1463.5,562.9 1465.8,566.8 1468,570.6 1470.2,574.2 1472.4,577.6 1474.7,580.7 1476.9,583.3 1479.1,585.3 1481.3,586.9 1483.6,588.3 1485.8,589.4 1488,590.3 1490.2,591 1492.5,591.6 1494.7,592.2 1496.9,592.7 1499.1,593.2 1501.4,593.7 1503.6,594.1 1505.8,594.5 1508,594.9 1510.3,595.2 1512.5,595.4 1514.7,595.7 1516.9,595.9 1519.2,596 1521.4,596.1 1523.6,596.1 1525.8,596.1 1528.1,596.1 1530.3,596 1532.5,595.8 1534.7,595.6 1537,595.3 1539.2,595 1541.4,594.7 1543.6,594.3 1545.9,593.9 1548.1,593.6 1550.3,593.2 1552.5,592.8 1554.7,592.5 1557,592.2 1559.2,591.9 1561.4,591.6 1563.6,591.4 1565.9,591.2 1568.1,591.1 1570.3,591.1 1572.5,591.1 1574.8,591.2 1577,591.3 1579.2,591.4 1581.4,591.6 1583.7,591.8 1585.9,592 1588.1,592.2 1590.3,592.5 1592.6,592.8 1594.8,593.1 1597,593.4 1599.2,593.8 1601.5,594.1 1603.7,594.5 1605.9,594.9 1608.1,595.3 1610.4,595.6 1612.6,596 1614.8,596.5 1617,597.3 1619.3,598.2 1621.5,599.2 1623.7,600.3 1625.9,601.2 1628.2,602 1630.4,602.6 1632.6,602.9 1634.8,602.8 1637.1,602.3 1639.3,601.5 1641.5,600.5 1643.7,599.3 1646,598 1648.2,596.5 1650.4,594.9 1652.6,593.3 1654.9,591.7 1657.1,590.1 1659.3,588.6 1661.5,587.2 1663.8,585.7 1666,584.2 1668.2,582.6 1670.4,581 1672.7,579.4 1674.9,577.8 1677.1,576.3 1679.3,574.8 1681.6,573.5 1683.8,572.3 1686,571.2 1688.2,570.2 1690.4,569.3 1692.7,568.3 1694.9,567.4 1697.1,566.4 1699.3,565.5 1701.6,564.6 1703.8,563.7 1706,562.8 1708.2,562 1710.5,561.1 1712.7,560.3 1714.9,559.6 1717.1,558.8 1719.4,558.1 1721.6,557.4 1723.8,556.7 1726,556.1 1728.3,555.5 1730.5,554.9 1732.7,554.4 1734.9,553.9 1737.2,553.5 1739.4,553 1741.6,552.7 1743.8,552.3 1746.1,552 1748.3,551.7 1750.5,551.4 1752.7,551.2 1755,550.9 1757.2,550.7 1759.4,550.5 1761.6,550.3 1763.9,550.2 1766.1,550 1768.3,549.9 1770.5,549.7 1772.8,549.6 1775,549.5 1777.2,549.4 1779.4,549.3 1781.7,549.2 1783.9,549.1 1786.1,549.1 1788.3,549 1790.6,549 1792.8,548.9 1795,548.8 1797.2,548.8 1799.5,548.7 1801.7,548.7 1803.9,548.7 1806.1,548.6 1808.4,548.6 1810.6,548.5 1812.8,548.4 1815,548.4 1817.3,548.3 1819.5,548.2 1821.7,548.1 1823.9,548 1826.1,547.9 1828.4,547.9 1830.6,547.9 1832.8,547.9 1835,548 1837.3,548.1 1839.5,548.1 1841.7,548.1 1843.9,548 1846.2,547.9 1848.4,547.7 1850.6,547.5 1852.8,547.4 1855.1,547.2 1857.3,547 1859.5,546.8 1861.7,546.7 1864,546.5 1866.2,546.3 1868.4,546.1 1870.6,545.9 1872.9,545.8 1875.1,545.6 1877.3,545.4 1879.5,545.2 1881.8,545 1884,544.8 1886.2,544.6 1888.4,544.4 1890.7,544.2 1892.9,544.1 1895.1,543.9 1897.3,543.7 1899.6,543.5 1901.8,543.3 1904,543.1 1906.2,542.9 1908.5,542.7 1910.7,542.5 1912.9,542.3 1915.1,542.1 1917.4,541.9 1919.6,541.7 1921.8,541.5 1924,541.3 1926.3,541.1 1928.5,540.9 1930.7,540.7 1932.9,540.5 1935.2,540.3 1937.4,540.1 1939.6,539.9 1941.8,539.8 1944.1,539.6 1946.3,539.4 1948.5,539.2 1950.7,539 1953,538.8 1955.2,538.6 1957.4,538.4 1959.6,538.2 1961.9,538 1964.1,537.8 1966.3,537.6 1968.5,537.5 1970.7,537.3 1973,537.1 1975.2,536.9 1977.4,536.7 1979.6,536.5 1981.9,536.4 1984.1,536.2 1986.3,536 1988.5,535.8 1990.8,535.7 1993,535.5 1995.2,535.3 1997.4,535.2 1999.7,535 2001.9,534.8 2004.1,534.7 2006.3,534.5 2008.6,534.3 2010.8,534.2 2013,534 2015.2,533.8 2017.5,533.7 2019.7,533.5 2021.9,533.4 2024.1,533.2 2026.4,533 2028.6,532.9 2030.8,532.7 2033,532.6 2035.3,532.4 2037.5,532.2 2039.7,532.1 2041.9,531.9 2044.2,531.8 2046.4,531.6 2048.6,531.4 2050.8,531.3 2053.1,531.1 2055.3,531 2057.5,530.8 2059.7,530.7 2062,530.5 2064.2,530.4 2066.4,530.2 2068.6,530.1 2070.9,529.9 2073.1,529.8 2075.3,529.6 2077.5,529.5 2079.8,529.3 2082,529.2 2084.2,529 2086.4,528.9 2088.7,528.7 2090.9,528.6 2093.1,528.4 2095.3,528.3 2097.6,528.2 2099.8,528 2102,527.9 2104.2,527.8 2106.4,527.6 2108.7,527.5 2110.9,527.4 2113.1,527.2 2115.3,527.1 2117.6,527 2119.8,526.8 2122,526.7 2124.2,526.6 2126.5,526.5 2128.7,526.4 2130.9,526.2 2133.1,526.1 2135.4,526 2137.6,525.9 2139.8,525.8 2142,525.7 2144.3,525.6 2146.5,525.4 2148.7,525.3 2150.9,525.2 2153.2,525.1 2155.4,525 2157.6,524.9 2159.8,524.8 2162.1,524.7 2164.3,524.7 2166.5,524.6 2168.7,524.5 2171,524.4 2173.2,524.3 2175.4,524.2 2177.6,524.2 2179.9,524.1 2182.1,524 2184.3,523.9 2186.5,523.9 2188.8,523.8 2191,523.7 2193.2,523.7 2195.4,523.6 2197.7,523.5 2199.9,523.5 2202.1,523.4 2204.3,523.4 2206.6,523.3 2208.8,523.3 2211,523.2 2213.2,523.2 2215.5,523.1 2217.7,523.1 2219.9,523 2222.1,523 2224.4,522.9 2226.6,522.9 2228.8,522.9 2231,522.8 2233.3,522.8 2235.5,522.8 2237.7,522.7 2239.9,522.7 2242.1,522.6 2244.4,522.6 2246.6,522.6 2248.8,522.5 2251,522.5 2253.3,522.5 2255.5,522.4 2257.7,522.4 2259.9,522.4 2262.2,522.4 2264.4,522.3 2266.6,522.3 2268.8,522.3 2271.1,522.2 2273.3,522.2 2275.5,522.2 2277.7,522.1 2280,522.1 2282.2,522.1 2284.4,522 2286.6,522 2288.9,522 2291.1,521.9 2293.3,521.9 2295.5,521.9 2297.8,521.8 2300,521.8 2302.2,521.8 2304.4,521.7 2306.7,521.7 2308.9,521.6 2311.1,521.6 2313.3,521.6 2315.6,521.5 2317.8,521.5 2320,521.4" fill="none" stroke="#1e9a48" stroke-width="1.6"/>
<path d="M1394.6 24.6l5.9 7.2l-5.9 7.2l-5.9 -7.2zM1399.3 141l5.9 7.2l-5.9 7.2l-5.9 -7.2zM1404.1 236l5.9 7.2l-5.9 7.2l-5.9 -7.2zM1408.9 309.9l5.9 7.2l-5.9 7.2l-5.9 -7.2zM1413.6 361.4l5.9 7.2l-5.9 7.2l-5.9 -7.2zM1418.4 393.6l5.9 7.2l-5.9 7.2l-5.9 -7.2zM1423.2 417.7l5.9 7.2l-5.9 7.2l-5.9 -7.2zM1427.9 441.1l5.9 7.2l-5.9 7.2l-5.9 -7.2zM1432.7 469.6l5.9 7.2l-5.9 7.2l-5.9 -7.2zM1440.7 502.9l5.9 7.2l-5.9 7.2l-5.9 -7.2zM1448.6 526.6l5.9 7.2l-5.9 7.2l-5.9 -7.2zM1456.5 543.5l5.9 7.2l-5.9 7.2l-5.9 -7.2zM1464.5 557.4l5.9 7.2l-5.9 7.2l-5.9 -7.2zM1472.4 570.5l5.9 7.2l-5.9 7.2l-5.9 -7.2zM1480.4 579.1l5.9 7.2l-5.9 7.2l-5.9 -7.2zM1488.3 583.3l5.9 7.2l-5.9 7.2l-5.9 -7.2zM1496.3 585.4l5.9 7.2l-5.9 7.2l-5.9 -7.2zM1504.2 587.1l5.9 7.2l-5.9 7.2l-5.9 -7.2zM1512.2 588.3l5.9 7.2l-5.9 7.2l-5.9 -7.2zM1520.1 588.9l5.9 7.2l-5.9 7.2l-5.9 -7.2zM1528.1 588.9l5.9 7.2l-5.9 7.2l-5.9 -7.2zM1536 588.3l5.9 7.2l-5.9 7.2l-5.9 -7.2zM1543.9 587.1l5.9 7.2l-5.9 7.2l-5.9 -7.2zM1551.9 585.8l5.9 7.2l-5.9 7.2l-5.9 -7.2zM1559.8 584.6l5.9 7.2l-5.9 7.2l-5.9 -7.2zM1567.8 584l5.9 7.2l-5.9 7.2l-5.9 -7.2zM1575.7 584.1l5.9 7.2l-5.9 7.2l-5.9 -7.2zM1583.7 584.6l5.9 7.2l-5.9 7.2l-5.9 -7.2zM1591.6 585.5l5.9 7.2l-5.9 7.2l-5.9 -7.2zM1599.6 586.7l5.9 7.2l-5.9 7.2l-5.9 -7.2zM1607.5 588l5.9 7.2l-5.9 7.2l-5.9 -7.2zM1615.4 589.6l5.9 7.2l-5.9 7.2l-5.9 -7.2zM1623.4 593l5.9 7.2l-5.9 7.2l-5.9 -7.2zM1631.3 595.6l5.9 7.2l-5.9 7.2l-5.9 -7.2zM1639.3 594.4l5.9 7.2l-5.9 7.2l-5.9 -7.2zM1647.2 590l5.9 7.2l-5.9 7.2l-5.9 -7.2zM1655.2 584.3l5.9 7.2l-5.9 7.2l-5.9 -7.2zM1663.1 579l5.9 7.2l-5.9 7.2l-5.9 -7.2zM1671.1 573.4l5.9 7.2l-5.9 7.2l-5.9 -7.2zM1679 567.9l5.9 7.2l-5.9 7.2l-5.9 -7.2zM1687 563.6l5.9 7.2l-5.9 7.2l-5.9 -7.2zM1694.9 560.2l5.9 7.2l-5.9 7.2l-5.9 -7.2zM1702.8 556.9l5.9 7.2l-5.9 7.2l-5.9 -7.2zM1710.8 553.9l5.9 7.2l-5.9 7.2l-5.9 -7.2zM1718.7 551.1l5.9 7.2l-5.9 7.2l-5.9 -7.2zM1726.7 548.8l5.9 7.2l-5.9 7.2l-5.9 -7.2zM1734.6 546.8l5.9 7.2l-5.9 7.2l-5.9 -7.2zM1742.6 545.4l5.9 7.2l-5.9 7.2l-5.9 -7.2zM1750.5 544.3l5.9 7.2l-5.9 7.2l-5.9 -7.2zM1758.5 543.5l5.9 7.2l-5.9 7.2l-5.9 -7.2zM1766.4 542.8l5.9 7.2l-5.9 7.2l-5.9 -7.2zM1774.3 542.4l5.9 7.2l-5.9 7.2l-5.9 -7.2zM1782.3 542l5.9 7.2l-5.9 7.2l-5.9 -7.2zM1790.2 541.8l5.9 7.2l-5.9 7.2l-5.9 -7.2zM1798.2 541.6l5.9 7.2l-5.9 7.2l-5.9 -7.2zM1806.1 541.5l5.9 7.2l-5.9 7.2l-5.9 -7.2zM1814.1 541.2l5.9 7.2l-5.9 7.2l-5.9 -7.2zM1822 541l5.9 7.2l-5.9 7.2l-5.9 -7.2zM1830 540.7l5.9 7.2l-5.9 7.2l-5.9 -7.2zM1837.9 540.9l5.9 7.2l-5.9 7.2l-5.9 -7.2zM1845.9 540.7l5.9 7.2l-5.9 7.2l-5.9 -7.2zM1853.8 540.1l5.9 7.2l-5.9 7.2l-5.9 -7.2zM1861.7 539.5l5.9 7.2l-5.9 7.2l-5.9 -7.2zM1869.7 538.9l5.9 7.2l-5.9 7.2l-5.9 -7.2zM1877.6 538.2l5.9 7.2l-5.9 7.2l-5.9 -7.2zM1885.6 537.5l5.9 7.2l-5.9 7.2l-5.9 -7.2zM1893.5 536.8l5.9 7.2l-5.9 7.2l-5.9 -7.2zM1901.5 536.2l5.9 7.2l-5.9 7.2l-5.9 -7.2zM1909.4 535.5l5.9 7.2l-5.9 7.2l-5.9 -7.2zM1917.4 534.8l5.9 7.2l-5.9 7.2l-5.9 -7.2zM1925.3 534.1l5.9 7.2l-5.9 7.2l-5.9 -7.2zM1933.2 533.4l5.9 7.2l-5.9 7.2l-5.9 -7.2zM1941.2 532.7l5.9 7.2l-5.9 7.2l-5.9 -7.2zM1949.1 532l5.9 7.2l-5.9 7.2l-5.9 -7.2zM1957.1 531.3l5.9 7.2l-5.9 7.2l-5.9 -7.2zM1965 530.6l5.9 7.2l-5.9 7.2l-5.9 -7.2zM1973 529.9l5.9 7.2l-5.9 7.2l-5.9 -7.2zM1980.9 529.3l5.9 7.2l-5.9 7.2l-5.9 -7.2zM1988.9 528.7l5.9 7.2l-5.9 7.2l-5.9 -7.2zM1996.8 528.1l5.9 7.2l-5.9 7.2l-5.9 -7.2zM2004.8 527.5l5.9 7.2l-5.9 7.2l-5.9 -7.2zM2012.7 526.9l5.9 7.2l-5.9 7.2l-5.9 -7.2zM2020.6 526.3l5.9 7.2l-5.9 7.2l-5.9 -7.2zM2028.6 525.7l5.9 7.2l-5.9 7.2l-5.9 -7.2zM2036.5 525.2l5.9 7.2l-5.9 7.2l-5.9 -7.2zM2044.5 524.6l5.9 7.2l-5.9 7.2l-5.9 -7.2zM2052.4 524l5.9 7.2l-5.9 7.2l-5.9 -7.2zM2060.4 523.5l5.9 7.2l-5.9 7.2l-5.9 -7.2zM2068.3 522.9l5.9 7.2l-5.9 7.2l-5.9 -7.2zM2076.3 522.4l5.9 7.2l-5.9 7.2l-5.9 -7.2zM2084.2 521.9l5.9 7.2l-5.9 7.2l-5.9 -7.2zM2092.1 521.4l5.9 7.2l-5.9 7.2l-5.9 -7.2zM2100.1 520.9l5.9 7.2l-5.9 7.2l-5.9 -7.2zM2108 520.4l5.9 7.2l-5.9 7.2l-5.9 -7.2zM2116 519.9l5.9 7.2l-5.9 7.2l-5.9 -7.2zM2123.9 519.5l5.9 7.2l-5.9 7.2l-5.9 -7.2zM2131.9 519l5.9 7.2l-5.9 7.2l-5.9 -7.2zM2139.8 518.6l5.9 7.2l-5.9 7.2l-5.9 -7.2zM2147.8 518.2l5.9 7.2l-5.9 7.2l-5.9 -7.2zM2155.7 517.9l5.9 7.2l-5.9 7.2l-5.9 -7.2zM2163.7 517.5l5.9 7.2l-5.9 7.2l-5.9 -7.2zM2171.6 517.2l5.9 7.2l-5.9 7.2l-5.9 -7.2zM2179.5 516.9l5.9 7.2l-5.9 7.2l-5.9 -7.2zM2187.5 516.7l5.9 7.2l-5.9 7.2l-5.9 -7.2zM2195.4 516.5l5.9 7.2l-5.9 7.2l-5.9 -7.2zM2203.4 516.2l5.9 7.2l-5.9 7.2l-5.9 -7.2zM2211.3 516.1l5.9 7.2l-5.9 7.2l-5.9 -7.2zM2219.3 515.9l5.9 7.2l-5.9 7.2l-5.9 -7.2zM2227.2 515.7l5.9 7.2l-5.9 7.2l-5.9 -7.2zM2235.2 515.6l5.9 7.2l-5.9 7.2l-5.9 -7.2zM2243.1 515.5l5.9 7.2l-5.9 7.2l-5.9 -7.2zM2251 515.4l5.9 7.2l-5.9 7.2l-5.9 -7.2zM2259 515.2l5.9 7.2l-5.9 7.2l-5.9 -7.2zM2266.9 515.1l5.9 7.2l-5.9 7.2l-5.9 -7.2zM2274.9 515l5.9 7.2l-5.9 7.2l-5.9 -7.2zM2282.8 514.9l5.9 7.2l-5.9 7.2l-5.9 -7.2zM2290.8 514.8l5.9 7.2l-5.9 7.2l-5.9 -7.2zM2298.7 514.7l5.9 7.2l-5.9 7.2l-5.9 -7.2zM2306.7 514.5l5.9 7.2l-5.9 7.2l-5.9 -7.2zM2314.6 514.4l5.9 7.2l-5.9 7.2l-5.9 -7.2z" fill="#1e9a48"/>
<polyline points="1395.2,31.7 1397.4,202.4 1399.7,324.3 1401.9,373 1404.1,395.3 1406.3,413.5 1408.6,433.5 1410.8,448.8 1413,462.9 1415.2,478.7 1417.5,496.1 1419.7,513 1421.9,527.8 1424.1,539.9 1426.4,550.2 1428.6,559.3 1430.8,567.7 1433,575.8 1435.3,583.7 1437.5,591.3 1439.7,598.5 1441.9,605.2 1444.2,611.4 1446.4,616.7 1448.6,621.5 1450.8,625.7 1453.1,629.4 1455.3,632.8 1457.5,635.8 1459.7,638.7 1462,641.4 1464.2,644.1 1466.4,646.6 1468.6,649.1 1470.8,651.4 1473.1,653.7 1475.3,655.9 1477.5,658.1 1479.7,660.2 1482,662.3 1484.2,664.3 1486.4,666.3 1488.6,668.4 1490.9,670.4 1493.1,672.5 1495.3,674.6 1497.5,676.7 1499.8,678.9 1502,681.2 1504.2,683.4 1506.4,685.6 1508.7,687.8 1510.9,689.9 1513.1,692 1515.3,694 1517.6,695.8 1519.8,697.6 1522,699.2 1524.2,700.7 1526.5,702 1528.7,703.1 1530.9,704.2 1533.1,705.1 1535.4,705.9 1537.6,706.7 1539.8,707.3 1542,707.9 1544.3,708.5 1546.5,709 1548.7,709.4 1550.9,709.8 1553.2,710.1 1555.4,710.5 1557.6,710.8 1559.8,711 1562.1,711.3 1564.3,711.6 1566.5,711.8 1568.7,712.1 1571,712.4 1573.2,712.7 1575.4,712.9 1577.6,713.2 1579.9,713.3 1582.1,713.5 1584.3,713.7 1586.5,713.8 1588.8,713.9 1591,713.9 1593.2,714 1595.4,714.1 1597.7,714.1 1599.9,714.1 1602.1,714.1 1604.3,714.1 1606.6,714.1 1608.8,714 1611,714 1613.2,714 1615.4,713.9 1617.7,713.9 1619.9,713.8 1622.1,713.7 1624.3,713.6 1626.6,713.5 1628.8,713.4 1631,713.3 1633.2,713.2 1635.5,713 1637.7,712.8 1639.9,712.6 1642.1,712.4 1644.4,712.1 1646.6,711.8 1648.8,711.5 1651,711.2 1653.3,710.8 1655.5,710.4 1657.7,709.9 1659.9,709.2 1662.2,708.5 1664.4,707.7 1666.6,706.8 1668.8,705.8 1671.1,704.8 1673.3,703.8 1675.5,702.8 1677.7,701.7 1680,700.7 1682.2,699.6 1684.4,698.5 1686.6,697.3 1688.9,696.1 1691.1,694.8 1693.3,693.5 1695.5,692 1697.8,690.6 1700,689 1702.2,687.3 1704.4,685.6 1706.7,683.9 1708.9,682.1 1711.1,680.3 1713.3,678.4 1715.6,676.6 1717.8,674.7 1720,672.8 1722.2,671 1724.5,669.2 1726.7,667.4 1728.9,665.6 1731.1,663.9 1733.4,662.3 1735.6,660.7 1737.8,659.2 1740,657.7 1742.3,656.2 1744.5,654.7 1746.7,653.2 1748.9,651.8 1751.1,650.3 1753.4,648.8 1755.6,647.4 1757.8,645.9 1760,644.5 1762.3,643.1 1764.5,641.7 1766.7,640.3 1768.9,639 1771.2,637.6 1773.4,636.4 1775.6,635.1 1777.8,633.9 1780.1,632.7 1782.3,631.5 1784.5,630.4 1786.7,629.3 1789,628.2 1791.2,627.2 1793.4,626.2 1795.6,625.3 1797.9,624.5 1800.1,623.7 1802.3,622.9 1804.5,622.2 1806.8,621.5 1809,620.9 1811.2,620.3 1813.4,619.7 1815.7,619.2 1817.9,618.6 1820.1,618.2 1822.3,617.7 1824.6,617.3 1826.8,616.9 1829,616.5 1831.2,616.1 1833.5,615.8 1835.7,615.4 1837.9,615.1 1840.1,614.7 1842.4,614.4 1844.6,614.1 1846.8,613.7 1849,613.4 1851.3,613.1 1853.5,612.7 1855.7,612.4 1857.9,612.1 1860.2,611.9 1862.4,611.6 1864.6,611.3 1866.8,611.1 1869.1,610.8 1871.3,610.6 1873.5,610.4 1875.7,610.1 1878,609.9 1880.2,609.7 1882.4,609.5 1884.6,609.3 1886.8,609.1 1889.1,608.9 1891.3,608.7 1893.5,608.6 1895.7,608.4 1898,608.2 1900.2,608 1902.4,607.8 1904.6,607.7 1906.9,607.5 1909.1,607.3 1911.3,607.1 1913.5,607 1915.8,606.8 1918,606.6 1920.2,606.4 1922.4,606.2 1924.7,606 1926.9,605.8 1929.1,605.6 1931.3,605.5 1933.6,605.3 1935.8,605.1 1938,604.9 1940.2,604.7 1942.5,604.5 1944.7,604.4 1946.9,604.2 1949.1,604 1951.4,603.8 1953.6,603.7 1955.8,603.5 1958,603.3 1960.3,603.1 1962.5,603 1964.7,602.8 1966.9,602.6 1969.2,602.5 1971.4,602.3 1973.6,602.1 1975.8,602 1978.1,601.8 1980.3,601.6 1982.5,601.5 1984.7,601.3 1987,601.1 1989.2,601 1991.4,600.8 1993.6,600.7 1995.9,600.5 1998.1,600.3 2000.3,600.2 2002.5,600 2004.8,599.8 2007,599.7 2009.2,599.5 2011.4,599.4 2013.7,599.2 2015.9,599 2018.1,598.9 2020.3,598.7 2022.6,598.5 2024.8,598.4 2027,598.2 2029.2,598 2031.4,597.8 2033.7,597.7 2035.9,597.5 2038.1,597.3 2040.3,597.2 2042.6,597 2044.8,596.8 2047,596.7 2049.2,596.5 2051.5,596.3 2053.7,596.1 2055.9,596 2058.1,595.8 2060.4,595.6 2062.6,595.5 2064.8,595.3 2067,595.1 2069.3,594.9 2071.5,594.8 2073.7,594.6 2075.9,594.4 2078.2,594.3 2080.4,594.1 2082.6,593.9 2084.8,593.8 2087.1,593.6 2089.3,593.4 2091.5,593.3 2093.7,593.1 2096,593 2098.2,592.8 2100.4,592.6 2102.6,592.5 2104.9,592.3 2107.1,592.1 2109.3,592 2111.5,591.8 2113.8,591.7 2116,591.5 2118.2,591.4 2120.4,591.2 2122.7,591.1 2124.9,590.9 2127.1,590.8 2129.3,590.6 2131.6,590.5 2133.8,590.3 2136,590.2 2138.2,590.1 2140.5,589.9 2142.7,589.8 2144.9,589.6 2147.1,589.5 2149.4,589.4 2151.6,589.3 2153.8,589.1 2156,589 2158.3,588.9 2160.5,588.8 2162.7,588.6 2164.9,588.5 2167.1,588.4 2169.4,588.3 2171.6,588.2 2173.8,588.1 2176,587.9 2178.3,587.8 2180.5,587.7 2182.7,587.6 2184.9,587.5 2187.2,587.4 2189.4,587.3 2191.6,587.2 2193.8,587.1 2196.1,587.1 2198.3,587 2200.5,586.9 2202.7,586.8 2205,586.7 2207.2,586.6 2209.4,586.5 2211.6,586.4 2213.9,586.4 2216.1,586.3 2218.3,586.2 2220.5,586.1 2222.8,586 2225,586 2227.2,585.9 2229.4,585.8 2231.7,585.7 2233.9,585.7 2236.1,585.6 2238.3,585.5 2240.6,585.4 2242.8,585.4 2245,585.3 2247.2,585.2 2249.5,585.1 2251.7,585.1 2253.9,585 2256.1,584.9 2258.4,584.9 2260.6,584.8 2262.8,584.7 2265,584.7 2267.3,584.6 2269.5,584.5 2271.7,584.5 2273.9,584.4 2276.2,584.3 2278.4,584.3 2280.6,584.2 2282.8,584.1 2285.1,584 2287.3,584 2289.5,583.9 2291.7,583.8 2294,583.8 2296.2,583.7 2298.4,583.6 2300.6,583.5 2302.8,583.5 2305.1,583.4 2307.3,583.3 2309.5,583.2 2311.7,583.2 2314,583.1 2316.2,583 2318.4,582.9 2320.6,582.9" fill="none" stroke="#283592" stroke-width="1.6"/>
<path d="M1395.2 38.9l6.5 -11.7h-13zM1405.4 411.9l6.5 -11.7h-13zM1415.6 488.3l6.5 -11.7h-13zM1425.7 554.5l6.5 -11.7h-13zM1435.9 593l6.5 -11.7h-13zM1451.8 634.5l6.5 -11.7h-13zM1467.7 655.2l6.5 -11.7h-13zM1483.6 670.9l6.5 -11.7h-13zM1499.5 685.8l6.5 -11.7h-13zM1515.3 701.1l6.5 -11.7h-13zM1531.2 711.4l6.5 -11.7h-13zM1547.1 716.2l6.5 -11.7h-13zM1563 718.6l6.5 -11.7h-13zM1578.9 720.4l6.5 -11.7h-13zM1589.1 721l6.5 -11.7h-13zM1599.2 721.2l6.5 -11.7h-13zM1609.4 721.2l6.5 -11.7h-13zM1619.6 721l6.5 -11.7h-13zM1629.7 720.5l6.5 -11.7h-13zM1639.9 719.8l6.5 -11.7h-13zM1650.1 718.5l6.5 -11.7h-13zM1660.3 716.3l6.5 -11.7h-13zM1670.4 712.3l6.5 -11.7h-13zM1680.6 707.5l6.5 -11.7h-13zM1690.8 702.1l6.5 -11.7h-13zM1700.9 695.4l6.5 -11.7h-13zM1711.1 687.4l6.5 -11.7h-13zM1721.3 678.9l6.5 -11.7h-13zM1731.4 670.8l6.5 -11.7h-13zM1741.6 663.8l6.5 -11.7h-13zM1751.8 657l6.5 -11.7h-13zM1762 650.4l6.5 -11.7h-13zM1772.1 644.2l6.5 -11.7h-13zM1782.3 638.6l6.5 -11.7h-13zM1792.5 633.8l6.5 -11.7h-13zM1802.6 629.9l6.5 -11.7h-13zM1812.8 627l6.5 -11.7h-13zM1823 624.7l6.5 -11.7h-13zM1833.1 623l6.5 -11.7h-13zM1843.3 621.4l6.5 -11.7h-13zM1853.5 619.9l6.5 -11.7h-13zM1863.7 618.6l6.5 -11.7h-13zM1873.8 617.5l6.5 -11.7h-13zM1884 616.5l6.5 -11.7h-13zM1894.2 615.7l6.5 -11.7h-13zM1904.3 614.8l6.5 -11.7h-13zM1914.5 614l6.5 -11.7h-13zM1924.7 613.2l6.5 -11.7h-13zM1934.8 612.3l6.5 -11.7h-13zM1945 611.5l6.5 -11.7h-13zM1955.2 610.7l6.5 -11.7h-13zM1965.3 609.9l6.5 -11.7h-13zM1975.5 609.1l6.5 -11.7h-13zM1985.7 608.4l6.5 -11.7h-13zM1995.9 607.6l6.5 -11.7h-13zM2006 606.9l6.5 -11.7h-13zM2016.2 606.2l6.5 -11.7h-13zM2026.4 605.4l6.5 -11.7h-13zM2036.5 604.6l6.5 -11.7h-13zM2046.7 603.8l6.5 -11.7h-13zM2056.9 603l6.5 -11.7h-13zM2067 602.3l6.5 -11.7h-13zM2077.2 601.5l6.5 -11.7h-13zM2087.4 600.7l6.5 -11.7h-13zM2097.6 600l6.5 -11.7h-13zM2107.7 599.3l6.5 -11.7h-13zM2117.9 598.5l6.5 -11.7h-13zM2128.1 597.9l6.5 -11.7h-13zM2138.2 597.2l6.5 -11.7h-13zM2148.4 596.6l6.5 -11.7h-13zM2158.6 596l6.5 -11.7h-13zM2168.7 595.5l6.5 -11.7h-13zM2178.9 595l6.5 -11.7h-13zM2189.1 594.5l6.5 -11.7h-13zM2199.2 594.1l6.5 -11.7h-13zM2209.4 593.7l6.5 -11.7h-13zM2219.6 593.3l6.5 -11.7h-13zM2229.8 592.9l6.5 -11.7h-13zM2239.9 592.6l6.5 -11.7h-13zM2250.1 592.3l6.5 -11.7h-13zM2260.3 592l6.5 -11.7h-13zM2270.4 591.6l6.5 -11.7h-13zM2280.6 591.3l6.5 -11.7h-13zM2290.8 591l6.5 -11.7h-13zM2300.9 590.7l6.5 -11.7h-13zM2311.1 590.3l6.5 -11.7h-13zM2321.3 590l6.5 -11.7h-13z" fill="#283592"/>
<polyline points="1395.2,31.7 1397.4,98.8 1399.7,158.2 1401.9,197.8 1404.1,231.7 1406.3,261.2 1408.6,287.1 1410.8,309.5 1413,326.4 1415.2,340.2 1417.5,353.3 1419.7,368.3 1421.9,384.8 1424.1,401.7 1426.4,418.5 1428.6,434.6 1430.8,449.3 1433,462.2 1435.3,474.2 1437.5,485.5 1439.7,496.1 1441.9,506.1 1444.2,515.6 1446.4,524.7 1448.6,533.4 1450.8,541.7 1453.1,549.6 1455.3,557 1457.5,563.9 1459.7,570.2 1462,575.9 1464.2,580.9 1466.4,585.3 1468.6,589.4 1470.8,593 1473.1,596.4 1475.3,599.5 1477.5,602.5 1479.7,605.3 1482,608 1484.2,610.7 1486.4,613.5 1488.6,616.2 1490.9,618.9 1493.1,621.4 1495.3,623.9 1497.5,626.3 1499.8,628.6 1502,630.7 1504.2,632.8 1506.4,634.8 1508.7,636.6 1510.9,638.3 1513.1,640 1515.3,641.5 1517.6,643.1 1519.8,644.5 1522,646 1524.2,647.4 1526.5,648.7 1528.7,650.1 1530.9,651.4 1533.1,652.7 1535.4,653.9 1537.6,655.2 1539.8,656.5 1542,657.8 1544.3,659.1 1546.5,660.5 1548.7,661.8 1550.9,663.2 1553.2,664.7 1555.4,666.2 1557.6,667.7 1559.8,669.3 1562.1,671 1564.3,672.7 1566.5,674.5 1568.7,676.4 1571,678.3 1573.2,680.1 1575.4,682 1577.6,683.9 1579.9,685.7 1582.1,687.6 1584.3,689.3 1586.5,691.1 1588.8,692.7 1591,694.3 1593.2,695.8 1595.4,697.3 1597.7,698.7 1599.9,700.2 1602.1,701.6 1604.3,702.9 1606.6,704.2 1608.8,705.5 1611,706.8 1613.2,707.9 1615.4,709.1 1617.7,710.2 1619.9,711.2 1622.1,712.2 1624.3,713.1 1626.6,713.9 1628.8,714.7 1631,715.4 1633.2,716 1635.5,716.7 1637.7,717.2 1639.9,717.8 1642.1,718.3 1644.4,718.7 1646.6,719.2 1648.8,719.6 1651,720 1653.3,720.4 1655.5,720.8 1657.7,721.2 1659.9,721.6 1662.2,721.9 1664.4,722.3 1666.6,722.6 1668.8,722.8 1671.1,723.1 1673.3,723.3 1675.5,723.5 1677.7,723.7 1680,723.8 1682.2,723.9 1684.4,723.9 1686.6,723.9 1688.9,723.9 1691.1,723.8 1693.3,723.6 1695.5,723.5 1697.8,723.3 1700,723 1702.2,722.7 1704.4,722.5 1706.7,722.1 1708.9,721.8 1711.1,721.5 1713.3,721.2 1715.6,720.9 1717.8,720.6 1720,720.3 1722.2,720 1724.5,719.7 1726.7,719.3 1728.9,719 1731.1,718.6 1733.4,718.3 1735.6,717.9 1737.8,717.5 1740,717.2 1742.3,716.8 1744.5,716.4 1746.7,716.1 1748.9,715.7 1751.1,715.4 1753.4,715.1 1755.6,714.8 1757.8,714.5 1760,714.2 1762.3,713.9 1764.5,713.6 1766.7,713.3 1768.9,713 1771.2,712.7 1773.4,712.3 1775.6,711.9 1777.8,711.4 1780.1,710.9 1782.3,710.4 1784.5,709.9 1786.7,709.3 1789,708.8 1791.2,708.3 1793.4,707.7 1795.6,707.2 1797.9,706.6 1800.1,706.1 1802.3,705.5 1804.5,704.9 1806.8,704.2 1809,703.6 1811.2,702.9 1813.4,702.2 1815.7,701.4 1817.9,700.6 1820.1,699.7 1822.3,698.8 1824.6,697.8 1826.8,696.8 1829,695.7 1831.2,694.5 1833.5,693.3 1835.7,692 1837.9,690.7 1840.1,689.2 1842.4,687.8 1844.6,686.3 1846.8,684.8 1849,683.2 1851.3,681.6 1853.5,680 1855.7,678.4 1857.9,676.7 1860.2,675.1 1862.4,673.5 1864.6,671.8 1866.8,670.2 1869.1,668.6 1871.3,667.1 1873.5,665.5 1875.7,664 1878,662.5 1880.2,661.1 1882.4,659.7 1884.6,658.4 1886.8,657.2 1889.1,656 1891.3,654.8 1893.5,653.8 1895.7,652.7 1898,651.7 1900.2,650.8 1902.4,649.9 1904.6,649 1906.9,648.2 1909.1,647.4 1911.3,646.6 1913.5,645.9 1915.8,645.2 1918,644.5 1920.2,643.8 1922.4,643.1 1924.7,642.5 1926.9,641.9 1929.1,641.2 1931.3,640.7 1933.6,640.1 1935.8,639.5 1938,639 1940.2,638.5 1942.5,638 1944.7,637.5 1946.9,637.1 1949.1,636.6 1951.4,636.2 1953.6,635.8 1955.8,635.4 1958,635 1960.3,634.6 1962.5,634.2 1964.7,633.8 1966.9,633.4 1969.2,633.1 1971.4,632.7 1973.6,632.4 1975.8,632.1 1978.1,631.8 1980.3,631.6 1982.5,631.4 1984.7,631.2 1987,631 1989.2,630.9 1991.4,630.7 1993.6,630.6 1995.9,630.5 1998.1,630.3 2000.3,630.2 2002.5,630.1 2004.8,629.9 2007,629.7 2009.2,629.6 2011.4,629.4 2013.7,629.3 2015.9,629.1 2018.1,629 2020.3,628.8 2022.6,628.7 2024.8,628.5 2027,628.4 2029.2,628.2 2031.4,628.1 2033.7,627.9 2035.9,627.8 2038.1,627.6 2040.3,627.5 2042.6,627.4 2044.8,627.2 2047,627.1 2049.2,627 2051.5,626.8 2053.7,626.7 2055.9,626.6 2058.1,626.5 2060.4,626.3 2062.6,626.2 2064.8,626.1 2067,626 2069.3,625.9 2071.5,625.8 2073.7,625.7 2075.9,625.6 2078.2,625.5 2080.4,625.4 2082.6,625.3 2084.8,625.2 2087.1,625.1 2089.3,625 2091.5,624.9 2093.7,624.8 2096,624.7 2098.2,624.6 2100.4,624.5 2102.6,624.4 2104.9,624.3 2107.1,624.2 2109.3,624.2 2111.5,624.1 2113.8,624 2116,623.9 2118.2,623.8 2120.4,623.7 2122.7,623.7 2124.9,623.6 2127.1,623.5 2129.3,623.4 2131.6,623.3 2133.8,623.3 2136,623.2 2138.2,623.1 2140.5,623 2142.7,623 2144.9,622.9 2147.1,622.8 2149.4,622.7 2151.6,622.7 2153.8,622.6 2156,622.5 2158.3,622.5 2160.5,622.4 2162.7,622.3 2164.9,622.3 2167.1,622.2 2169.4,622.1 2171.6,622.1 2173.8,622 2176,621.9 2178.3,621.9 2180.5,621.8 2182.7,621.8 2184.9,621.7 2187.2,621.6 2189.4,621.6 2191.6,621.5 2193.8,621.4 2196.1,621.4 2198.3,621.3 2200.5,621.3 2202.7,621.2 2205,621.2 2207.2,621.1 2209.4,621 2211.6,621 2213.9,620.9 2216.1,620.9 2218.3,620.8 2220.5,620.8 2222.8,620.7 2225,620.7 2227.2,620.6 2229.4,620.5 2231.7,620.5 2233.9,620.4 2236.1,620.4 2238.3,620.3 2240.6,620.3 2242.8,620.2 2245,620.2 2247.2,620.1 2249.5,620.1 2251.7,620 2253.9,620 2256.1,619.9 2258.4,619.9 2260.6,619.8 2262.8,619.8 2265,619.7 2267.3,619.6 2269.5,619.6 2271.7,619.5 2273.9,619.5 2276.2,619.4 2278.4,619.4 2280.6,619.3 2282.8,619.3 2285.1,619.2 2287.3,619.2 2289.5,619.1 2291.7,619.1 2294,619 2296.2,619 2298.4,618.9 2300.6,618.9 2302.8,618.8 2305.1,618.8 2307.3,618.7 2309.5,618.6 2311.7,618.6 2314,618.5 2316.2,618.5 2318.4,618.4 2320.6,618.4" fill="none" stroke="#22aee6" stroke-width="1.6"/>
<path d="M1395.2 24.6l6.5 11.7h-13zM1404.7 233.4l6.5 11.7h-13zM1414.3 327.4l6.5 11.7h-13zM1423.8 392.2l6.5 11.7h-13zM1433.3 456.9l6.5 11.7h-13zM1442.9 503.1l6.5 11.7h-13zM1452.4 540.3l6.5 11.7h-13zM1462 568.7l6.5 11.7h-13zM1477.8 595.7l6.5 11.7h-13zM1493.7 615l6.5 11.7h-13zM1509.6 630.2l6.5 11.7h-13zM1525.5 641l6.5 11.7h-13zM1541.4 650.3l6.5 11.7h-13zM1557.3 660.3l6.5 11.7h-13zM1573.2 673l6.5 11.7h-13zM1581.4 679.9l6.5 11.7h-13zM1589.7 686.2l6.5 11.7h-13zM1598 691.8l6.5 11.7h-13zM1606.2 696.9l6.5 11.7h-13zM1614.5 701.5l6.5 11.7h-13zM1622.8 705.3l6.5 11.7h-13zM1631 708.2l6.5 11.7h-13zM1639.3 710.5l6.5 11.7h-13zM1647.5 712.2l6.5 11.7h-13zM1655.8 713.7l6.5 11.7h-13zM1664.1 715.1l6.5 11.7h-13zM1672.3 716.1l6.5 11.7h-13zM1676.1 716.4l6.5 11.7h-13zM1680 716.6l6.5 11.7h-13zM1683.8 716.7l6.5 11.7h-13zM1687.6 716.8l6.5 11.7h-13zM1691.4 716.6l6.5 11.7h-13zM1695.2 716.3l6.5 11.7h-13zM1699 716l6.5 11.7h-13zM1702.8 715.5l6.5 11.7h-13zM1706.7 715l6.5 11.7h-13zM1710.5 714.5l6.5 11.7h-13zM1714.3 713.9l6.5 11.7h-13zM1718.1 713.4l6.5 11.7h-13zM1721.9 712.9l6.5 11.7h-13zM1725.7 712.3l6.5 11.7h-13zM1729.5 711.7l6.5 11.7h-13zM1733.4 711.1l6.5 11.7h-13zM1737.2 710.5l6.5 11.7h-13zM1741 709.9l6.5 11.7h-13zM1744.8 709.2l6.5 11.7h-13zM1748.6 708.6l6.5 11.7h-13zM1752.4 708l6.5 11.7h-13zM1756.2 707.5l6.5 11.7h-13zM1760 707l6.5 11.7h-13zM1763.9 706.6l6.5 11.7h-13zM1767.7 706l6.5 11.7h-13zM1771.5 705.5l6.5 11.7h-13zM1775.3 704.8l6.5 11.7h-13zM1779.1 704l6.5 11.7h-13zM1782.9 703.1l6.5 11.7h-13zM1786.7 702.2l6.5 11.7h-13zM1790.6 701.3l6.5 11.7h-13zM1794.4 700.3l6.5 11.7h-13zM1798.2 699.4l6.5 11.7h-13zM1802 698.4l6.5 11.7h-13zM1805.8 697.4l6.5 11.7h-13zM1809.6 696.2l6.5 11.7h-13zM1813.4 695l6.5 11.7h-13zM1817.3 693.7l6.5 11.7h-13zM1821.1 692.2l6.5 11.7h-13zM1824.9 690.5l6.5 11.7h-13zM1828.7 688.7l6.5 11.7h-13zM1832.5 686.7l6.5 11.7h-13zM1836.3 684.5l6.5 11.7h-13zM1840.1 682.1l6.5 11.7h-13zM1843.9 679.6l6.5 11.7h-13zM1847.8 676.9l6.5 11.7h-13zM1851.6 674.2l6.5 11.7h-13zM1855.4 671.5l6.5 11.7h-13zM1859.2 668.7l6.5 11.7h-13zM1863 665.9l6.5 11.7h-13zM1866.8 663.1l6.5 11.7h-13zM1870.6 660.4l6.5 11.7h-13zM1874.5 657.7l6.5 11.7h-13zM1878.3 655.2l6.5 11.7h-13zM1882.1 652.8l6.5 11.7h-13zM1885.9 650.5l6.5 11.7h-13zM1889.7 648.5l6.5 11.7h-13zM1893.5 646.6l6.5 11.7h-13zM1897.3 644.9l6.5 11.7h-13zM1901.2 643.2l6.5 11.7h-13zM1905 641.7l6.5 11.7h-13zM1908.8 640.4l6.5 11.7h-13zM1912.6 639.1l6.5 11.7h-13zM1916.4 637.8l6.5 11.7h-13zM1920.2 636.6l6.5 11.7h-13zM1924 635.5l6.5 11.7h-13zM1927.8 634.4l6.5 11.7h-13zM1931.7 633.4l6.5 11.7h-13zM1935.5 632.5l6.5 11.7h-13zM1939.3 631.6l6.5 11.7h-13zM1943.1 630.7l6.5 11.7h-13zM1946.9 629.9l6.5 11.7h-13zM1950.7 629.2l6.5 11.7h-13zM1954.5 628.4l6.5 11.7h-13zM1958.4 627.7l6.5 11.7h-13zM1962.2 627.1l6.5 11.7h-13zM1966 626.4l6.5 11.7h-13zM1969.8 625.8l6.5 11.7h-13zM1973.6 625.2l6.5 11.7h-13zM1977.4 624.7l6.5 11.7h-13zM1981.2 624.3l6.5 11.7h-13zM1985 624l6.5 11.7h-13zM1988.9 623.7l6.5 11.7h-13zM1992.7 623.5l6.5 11.7h-13zM1996.5 623.3l6.5 11.7h-13zM2000.3 623l6.5 11.7h-13zM2004.1 622.8l6.5 11.7h-13zM2007.9 622.5l6.5 11.7h-13zM2011.7 622.3l6.5 11.7h-13zM2015.6 622l6.5 11.7h-13zM2019.4 621.7l6.5 11.7h-13zM2023.2 621.5l6.5 11.7h-13zM2027 621.2l6.5 11.7h-13zM2030.8 621l6.5 11.7h-13zM2034.6 620.7l6.5 11.7h-13zM2038.4 620.5l6.5 11.7h-13zM2042.3 620.2l6.5 11.7h-13zM2046.1 620l6.5 11.7h-13zM2049.9 619.8l6.5 11.7h-13zM2053.7 619.5l6.5 11.7h-13zM2057.5 619.3l6.5 11.7h-13zM2061.3 619.1l6.5 11.7h-13zM2065.1 618.9l6.5 11.7h-13zM2068.9 618.8l6.5 11.7h-13zM2076.6 618.4l6.5 11.7h-13zM2084.2 618.1l6.5 11.7h-13zM2091.8 617.7l6.5 11.7h-13zM2099.5 617.4l6.5 11.7h-13zM2107.1 617.1l6.5 11.7h-13zM2114.7 616.8l6.5 11.7h-13zM2122.3 616.5l6.5 11.7h-13zM2130 616.2l6.5 11.7h-13zM2137.6 616l6.5 11.7h-13zM2145.2 615.7l6.5 11.7h-13zM2152.8 615.5l6.5 11.7h-13zM2160.5 615.2l6.5 11.7h-13zM2168.1 615l6.5 11.7h-13zM2175.7 614.8l6.5 11.7h-13zM2183.4 614.6l6.5 11.7h-13zM2191 614.4l6.5 11.7h-13zM2198.6 614.2l6.5 11.7h-13zM2206.2 614l6.5 11.7h-13zM2213.9 613.8l6.5 11.7h-13zM2221.5 613.6l6.5 11.7h-13zM2229.1 613.4l6.5 11.7h-13zM2236.7 613.2l6.5 11.7h-13zM2244.4 613l6.5 11.7h-13zM2252 612.9l6.5 11.7h-13zM2259.6 612.7l6.5 11.7h-13zM2267.3 612.5l6.5 11.7h-13zM2274.9 612.3l6.5 11.7h-13zM2282.5 612.1l6.5 11.7h-13zM2290.1 612l6.5 11.7h-13zM2297.8 611.8l6.5 11.7h-13zM2305.4 611.6l6.5 11.7h-13zM2313 611.4l6.5 11.7h-13zM2320.6 611.2l6.5 11.7h-13z" fill="#22aee6"/>
<polyline points="1395.2,31.7 1397.4,98.2 1399.7,157.9 1401.9,200.5 1404.1,238.4 1406.3,272.2 1408.6,302.2 1410.8,328.7 1413,352.7 1415.2,374.5 1417.5,394.2 1419.7,412 1421.9,428 1424.1,442.2 1426.4,455 1428.6,466.5 1430.8,476.8 1433,486.2 1435.3,494.7 1437.5,502.6 1439.7,510 1441.9,516.9 1444.2,523.4 1446.4,529.5 1448.6,535.3 1450.8,540.7 1453.1,546 1455.3,551.1 1457.5,556.1 1459.7,561 1462,566 1464.2,571 1466.4,575.9 1468.6,580.7 1470.8,585.5 1473.1,590.1 1475.3,594.7 1477.5,599.2 1479.7,603.6 1482,608 1484.2,612.2 1486.4,616.4 1488.6,620.6 1490.9,624.7 1493.1,628.7 1495.3,632.6 1497.5,636.3 1499.8,639.8 1502,643 1504.2,646.1 1506.4,648.9 1508.7,651.5 1510.9,653.9 1513.1,655.9 1515.3,657.6 1517.6,659.2 1519.8,660.6 1522,662.1 1524.2,663.6 1526.5,665.3 1528.7,667.2 1530.9,669.2 1533.1,671.3 1535.4,673.4 1537.6,675.5 1539.8,677.7 1542,679.9 1544.3,682.1 1546.5,684.4 1548.7,686.9 1550.9,689.4 1553.2,691.9 1555.4,694.2 1557.6,696.3 1559.8,698.1 1562.1,699.7 1564.3,701.3 1566.5,702.7 1568.7,704.1 1571,705.5 1573.2,706.8 1575.4,708.1 1577.6,709.4 1579.9,710.8 1582.1,712.1 1584.3,713.5 1586.5,715 1588.8,716.5 1591,718.2 1593.2,719.9 1595.4,721.6 1597.7,723.4 1599.9,725.2 1602.1,726.9 1604.3,728.6 1606.6,730.2 1608.8,731.6 1611,733 1613.2,734.4 1615.4,735.7 1617.7,737.1 1619.9,738.5 1622.1,739.8 1624.3,741.2 1626.6,742.5 1628.8,743.9 1631,745.2 1633.2,746.4 1635.5,747.7 1637.7,748.9 1639.9,750.1 1642.1,751.3 1644.4,752.5 1646.6,753.6 1648.8,754.7 1651,755.7 1653.3,756.7 1655.5,757.7 1657.7,758.6 1659.9,759.5 1662.2,760.4 1664.4,761.2 1666.6,762 1668.8,762.8 1671.1,763.5 1673.3,764.2 1675.5,764.9 1677.7,765.6 1680,766.2 1682.2,766.8 1684.4,767.4 1686.6,767.9 1688.9,768.4 1691.1,768.9 1693.3,769.4 1695.5,769.8 1697.8,770.2 1700,770.6 1702.2,771 1704.4,771.3 1706.7,771.7 1708.9,772 1711.1,772.3 1713.3,772.5 1715.6,772.8 1717.8,773 1720,773.2 1722.2,773.4 1724.5,773.6 1726.7,773.8 1728.9,774 1731.1,774.2 1733.4,774.3 1735.6,774.5 1737.8,774.6 1740,774.8 1742.3,774.9 1744.5,775.1 1746.7,775.2 1748.9,775.3 1751.1,775.5 1753.4,775.6 1755.6,775.8 1757.8,775.9 1760,776.1 1762.3,776.2 1764.5,776.4 1766.7,776.5 1768.9,776.7 1771.2,776.9 1773.4,777 1775.6,777.2 1777.8,777.3 1780.1,777.5 1782.3,777.6 1784.5,777.8 1786.7,777.9 1789,778.1 1791.2,778.2 1793.4,778.3 1795.6,778.4 1797.9,778.5 1800.1,778.5 1802.3,778.6 1804.5,778.7 1806.8,778.7 1809,778.7 1811.2,778.7 1813.4,778.7 1815.7,778.7 1817.9,778.6 1820.1,778.5 1822.3,778.4 1824.6,778.2 1826.8,778 1829,777.8 1831.2,777.6 1833.5,777.3 1835.7,777 1837.9,776.7 1840.1,776.3 1842.4,775.9 1844.6,775.4 1846.8,775 1849,774.4 1851.3,773.9 1853.5,773.3 1855.7,772.6 1857.9,772 1860.2,771.3 1862.4,770.5 1864.6,769.8 1866.8,769 1869.1,768.2 1871.3,767.4 1873.5,766.6 1875.7,765.8 1878,764.9 1880.2,764.1 1882.4,763.3 1884.6,762.4 1886.8,761.6 1889.1,760.7 1891.3,759.9 1893.5,759 1895.7,758.1 1898,757.2 1900.2,756.3 1902.4,755.4 1904.6,754.5 1906.9,753.6 1909.1,752.6 1911.3,751.6 1913.5,750.6 1915.8,749.6 1918,748.6 1920.2,747.5 1922.4,746.4 1924.7,745.3 1926.9,744.2 1929.1,742.9 1931.3,741.6 1933.6,740.2 1935.8,738.8 1938,737.3 1940.2,735.8 1942.5,734.3 1944.7,732.8 1946.9,731.4 1949.1,729.9 1951.4,728.5 1953.6,727.1 1955.8,725.8 1958,724.5 1960.3,723.2 1962.5,722 1964.7,720.8 1966.9,719.6 1969.2,718.5 1971.4,717.3 1973.6,716.2 1975.8,715 1978.1,713.9 1980.3,712.8 1982.5,711.7 1984.7,710.6 1987,709.5 1989.2,708.3 1991.4,707.2 1993.6,706 1995.9,704.8 1998.1,703.6 2000.3,702.4 2002.5,701.3 2004.8,700.1 2007,699 2009.2,698 2011.4,697 2013.7,696.1 2015.9,695.2 2018.1,694.5 2020.3,693.9 2022.6,693.3 2024.8,692.8 2027,692.3 2029.2,691.9 2031.4,691.5 2033.7,691.1 2035.9,690.8 2038.1,690.5 2040.3,690.2 2042.6,690 2044.8,689.7 2047,689.5 2049.2,689.3 2051.5,689 2053.7,688.8 2055.9,688.6 2058.1,688.4 2060.4,688.2 2062.6,688 2064.8,687.7 2067,687.4 2069.3,687.2 2071.5,686.9 2073.7,686.7 2075.9,686.5 2078.2,686.2 2080.4,686 2082.6,685.8 2084.8,685.6 2087.1,685.4 2089.3,685.2 2091.5,685 2093.7,684.7 2096,684.5 2098.2,684.2 2100.4,683.9 2102.6,683.6 2104.9,683.3 2107.1,683 2109.3,682.7 2111.5,682.4 2113.8,682 2116,681.7 2118.2,681.4 2120.4,681 2122.7,680.7 2124.9,680.4 2127.1,680 2129.3,679.7 2131.6,679.4 2133.8,679 2136,678.7 2138.2,678.3 2140.5,678 2142.7,677.7 2144.9,677.3 2147.1,677 2149.4,676.7 2151.6,676.3 2153.8,676 2156,675.7 2158.3,675.4 2160.5,675.1 2162.7,674.8 2164.9,674.5 2167.1,674.2 2169.4,673.9 2171.6,673.6 2173.8,673.3 2176,673 2178.3,672.7 2180.5,672.5 2182.7,672.2 2184.9,671.9 2187.2,671.6 2189.4,671.4 2191.6,671.1 2193.8,670.9 2196.1,670.6 2198.3,670.4 2200.5,670.1 2202.7,669.9 2205,669.7 2207.2,669.4 2209.4,669.2 2211.6,669 2213.9,668.8 2216.1,668.6 2218.3,668.4 2220.5,668.2 2222.8,668 2225,667.8 2227.2,667.6 2229.4,667.5 2231.7,667.3 2233.9,667.1 2236.1,667 2238.3,666.8 2240.6,666.7 2242.8,666.5 2245,666.4 2247.2,666.3 2249.5,666.2 2251.7,666.1 2253.9,666 2256.1,665.9 2258.4,665.8 2260.6,665.8 2262.8,665.7 2265,665.7 2267.3,665.6 2269.5,665.6 2271.7,665.6 2273.9,665.6 2276.2,665.5 2278.4,665.5 2280.6,665.5 2282.8,665.5 2285.1,665.6 2287.3,665.6 2289.5,665.6 2291.7,665.6 2294,665.6 2296.2,665.6 2298.4,665.7 2300.6,665.7 2302.8,665.7 2305.1,665.7 2307.3,665.7 2309.5,665.8 2311.7,665.8 2314,665.8 2316.2,665.8 2318.4,665.8 2320.6,665.8" fill="none" stroke="#e3262a" stroke-width="1.6"/>
<path d="M1395.2 31.7h0M1404.7 248.5h0M1414.3 365.4h0M1423.8 440.3h0M1433.3 487.5h0M1442.9 519.8h0M1452.4 544.5h0M1462 566h0M1477.8 599.8h0M1493.7 629.9h0M1509.6 652.5h0M1525.5 664.5h0M1541.4 679.3h0M1557.3 696h0M1573.2 706.8h0M1581.4 711.7h0M1589.7 717.2h0M1598 723.7h0M1606.2 729.9h0M1614.5 735.1h0M1622.8 740.2h0M1631 745.2h0M1639.3 749.8h0M1647.5 754.1h0M1655.8 757.8h0M1664.1 761.1h0M1672.3 763.9h0M1676.1 765.1h0M1680 766.2h0M1683.8 767.2h0M1687.6 768.1h0M1691.4 769h0M1695.2 769.8h0M1699 770.5h0M1702.8 771.1h0M1706.7 771.7h0M1710.5 772.2h0M1714.3 772.6h0M1718.1 773h0M1721.9 773.4h0M1725.7 773.8h0M1729.5 774.1h0M1733.4 774.3h0M1737.2 774.6h0M1741 774.8h0M1744.8 775.1h0M1748.6 775.3h0M1752.4 775.6h0M1756.2 775.8h0M1760 776.1h0M1763.9 776.3h0M1767.7 776.6h0M1771.5 776.9h0M1775.3 777.2h0M1779.1 777.4h0M1782.9 777.7h0M1786.7 777.9h0M1790.6 778.1h0M1794.4 778.3h0M1798.2 778.5h0M1802 778.6h0M1805.8 778.7h0M1809.6 778.7h0M1813.4 778.7h0M1817.3 778.6h0M1821.1 778.4h0M1824.9 778.2h0M1828.7 777.9h0M1832.5 777.4h0M1836.3 776.9h0M1840.1 776.3h0M1843.9 775.6h0M1847.8 774.7h0M1851.6 773.8h0M1855.4 772.7h0M1859.2 771.6h0M1863 770.3h0M1866.8 769h0M1870.6 767.7h0M1874.5 766.3h0M1878.3 764.8h0M1882.1 763.4h0M1885.9 761.9h0M1889.7 760.5h0M1893.5 759h0M1897.3 757.5h0M1901.2 755.9h0M1905 754.4h0M1908.8 752.7h0M1912.6 751.1h0M1916.4 749.3h0M1920.2 747.5h0M1924 745.7h0M1927.8 743.6h0M1931.7 741.4h0M1935.5 739h0M1939.3 736.5h0M1943.1 733.9h0M1946.9 731.4h0M1950.7 728.9h0M1954.5 726.5h0M1958.4 724.3h0M1962.2 722.2h0M1966 720.1h0M1969.8 718.1h0M1973.6 716.2h0M1977.4 714.2h0M1981.2 712.3h0M1985 710.4h0M1988.9 708.5h0M1992.7 706.5h0M1996.5 704.5h0M2000.3 702.4h0M2004.1 700.5h0M2007.9 698.6h0M2011.7 696.8h0M2015.6 695.3h0M2019.4 694.1h0M2023.2 693.2h0M2027 692.3h0M2030.8 691.6h0M2034.6 691h0M2038.4 690.5h0M2042.3 690h0M2046.1 689.6h0M2049.9 689.2h0M2053.7 688.8h0M2057.5 688.5h0M2061.3 688.1h0M2065.1 687.7h0M2068.9 687.2h0M2076.6 686.4h0M2084.2 685.7h0M2091.8 684.9h0M2099.5 684h0M2107.1 683h0M2114.7 681.9h0M2122.3 680.8h0M2130 679.6h0M2137.6 678.4h0M2145.2 677.3h0M2152.8 676.2h0M2160.5 675.1h0M2168.1 674.1h0M2175.7 673.1h0M2183.4 672.1h0M2191 671.2h0M2198.6 670.3h0M2206.2 669.5h0M2213.9 668.8h0M2221.5 668.1h0M2229.1 667.5h0M2236.7 666.9h0M2244.4 666.4h0M2252 666h0M2259.6 665.8h0M2267.3 665.6h0M2274.9 665.5h0M2282.5 665.5h0M2290.1 665.6h0M2297.8 665.7h0M2305.4 665.7h0M2313 665.8h0M2320.6 665.8h0" stroke="#e3262a" stroke-width="13" stroke-linecap="round" fill="none"/>
<polyline points="1395.2,31.7 1397.4,121.6 1399.7,204.5 1401.9,267.1 1404.1,319.5 1406.3,363.7 1408.6,401.8 1410.8,435.8 1413,466.9 1415.2,496.4 1417.5,524.8 1419.7,549.5 1421.9,570.2 1424.1,586.3 1426.4,598.2 1428.6,607.7 1430.8,616.6 1433,625.1 1435.3,633.3 1437.5,641.3 1439.7,649.1 1441.9,656.8 1444.2,664.2 1446.4,671.6 1448.6,678.9 1450.8,686 1453.1,692.8 1455.3,699.4 1457.5,705.8 1459.7,712 1462,718.1 1464.2,723.9 1466.4,729.6 1468.6,735.1 1470.8,740.5 1473.1,745.6 1475.3,750.5 1477.5,755.1 1479.7,759.4 1482,763.3 1484.2,766.8 1486.4,770.1 1488.6,773.2 1490.9,776.1 1493.1,779.1 1495.3,782 1497.5,785 1499.8,788 1502,790.9 1504.2,793.7 1506.4,796.4 1508.7,799.1 1510.9,801.6 1513.1,804 1515.3,806.3 1517.6,808.4 1519.8,810.5 1522,812.5 1524.2,814.5 1526.5,816.3 1528.7,818.2 1530.9,819.9 1533.1,821.5 1535.4,823.1 1537.6,824.7 1539.8,826.2 1542,827.8 1544.3,829.4 1546.5,831 1548.7,832.5 1550.9,834.1 1553.2,835.7 1555.4,837.3 1557.6,839.1 1559.8,840.9 1562.1,842.9 1564.3,845 1566.5,847.2 1568.7,849.4 1571,851.5 1573.2,853.6 1575.4,855.6 1577.6,857.6 1579.9,859.6 1582.1,861.6 1584.3,863.5 1586.5,865.3 1588.8,867 1591,868.6 1593.2,870 1595.4,871.3 1597.7,872.5 1599.9,873.6 1602.1,874.7 1604.3,875.7 1606.6,876.6 1608.8,877.5 1611,878.3 1613.2,879.1 1615.4,879.8 1617.7,880.4 1619.9,881 1622.1,881.5 1624.3,882.1 1626.6,882.6 1628.8,883.2 1631,883.7 1633.2,884.2 1635.5,884.7 1637.7,885.2 1639.9,885.7 1642.1,886.2 1644.4,886.6 1646.6,887.1 1648.8,887.4 1651,887.8 1653.3,888.1 1655.5,888.4 1657.7,888.7 1659.9,889 1662.2,889.2 1664.4,889.4 1666.6,889.6 1668.8,889.8 1671.1,890 1673.3,890.2 1675.5,890.4 1677.7,890.5 1680,890.7 1682.2,890.8 1684.4,890.9 1686.6,891 1688.9,891.2 1691.1,891.3 1693.3,891.4 1695.5,891.5 1697.8,891.5 1700,891.6 1702.2,891.7 1704.4,891.8 1706.7,891.8 1708.9,891.9 1711.1,891.9 1713.3,892 1715.6,892 1717.8,892 1720,892 1722.2,892 1724.5,892 1726.7,892 1728.9,892 1731.1,891.9 1733.4,891.9 1735.6,891.8 1737.8,891.7 1740,891.6 1742.3,891.5 1744.5,891.4 1746.7,891.2 1748.9,891.1 1751.1,891 1753.4,890.9 1755.6,890.7 1757.8,890.6 1760,890.5 1762.3,890.3 1764.5,890.2 1766.7,890 1768.9,889.8 1771.2,889.7 1773.4,889.5 1775.6,889.3 1777.8,889.1 1780.1,888.8 1782.3,888.6 1784.5,888.3 1786.7,888.1 1789,887.8 1791.2,887.5 1793.4,887.2 1795.6,886.8 1797.9,886.5 1800.1,885.9 1802.3,885.1 1804.5,884.2 1806.8,883.1 1809,882 1811.2,880.9 1813.4,879.8 1815.7,878.7 1817.9,877.6 1820.1,876.5 1822.3,875.4 1824.6,874.2 1826.8,873.1 1829,871.9 1831.2,870.8 1833.5,869.6 1835.7,868.5 1837.9,867.4 1840.1,866.2 1842.4,865.1 1844.6,864.1 1846.8,863 1849,862 1851.3,861 1853.5,860.1 1855.7,859.1 1857.9,858.3 1860.2,857.4 1862.4,856.6 1864.6,855.8 1866.8,854.9 1869.1,854.1 1871.3,853.3 1873.5,852.5 1875.7,851.7 1878,850.8 1880.2,850 1882.4,849.1 1884.6,848.3 1886.8,847.6 1889.1,846.8 1891.3,846.1 1893.5,845.3 1895.7,844.5 1898,843.7 1900.2,842.8 1902.4,841.8 1904.6,840.7 1906.9,839.4 1909.1,838.1 1911.3,836.6 1913.5,835.2 1915.8,833.7 1918,832.1 1920.2,830.5 1922.4,828.9 1924.7,827.3 1926.9,825.7 1929.1,824 1931.3,822.3 1933.6,820.6 1935.8,818.9 1938,817.2 1940.2,815.4 1942.5,813.7 1944.7,811.9 1946.9,810.1 1949.1,808.4 1951.4,806.6 1953.6,804.9 1955.8,803.1 1958,801.4 1960.3,799.6 1962.5,797.9 1964.7,796.1 1966.9,794.4 1969.2,792.6 1971.4,790.8 1973.6,789 1975.8,787.2 1978.1,785.4 1980.3,783.6 1982.5,781.8 1984.7,779.9 1987,778.1 1989.2,776.3 1991.4,774.4 1993.6,772.6 1995.9,770.7 1998.1,768.9 2000.3,767 2002.5,765.1 2004.8,763.2 2007,761.3 2009.2,759.4 2011.4,757.5 2013.7,755.5 2015.9,753.6 2018.1,751.7 2020.3,749.8 2022.6,747.9 2024.8,746 2027,744.2 2029.2,742.3 2031.4,740.4 2033.7,738.5 2035.9,736.6 2038.1,734.7 2040.3,732.9 2042.6,731.2 2044.8,729.6 2047,728 2049.2,726.7 2051.5,725.3 2053.7,724.1 2055.9,722.9 2058.1,721.7 2060.4,720.7 2062.6,719.7 2064.8,718.7 2067,717.8 2069.3,717 2071.5,716.3 2073.7,715.6 2075.9,715 2078.2,714.4 2080.4,713.9 2082.6,713.4 2084.8,713 2087.1,712.6 2089.3,712.2 2091.5,711.8 2093.7,711.5 2096,711.1 2098.2,710.8 2100.4,710.5 2102.6,710.2 2104.9,709.9 2107.1,709.6 2109.3,709.3 2111.5,709 2113.8,708.7 2116,708.4 2118.2,708.1 2120.4,707.8 2122.7,707.5 2124.9,707.2 2127.1,706.9 2129.3,706.7 2131.6,706.4 2133.8,706.1 2136,705.9 2138.2,705.6 2140.5,705.4 2142.7,705.1 2144.9,704.8 2147.1,704.6 2149.4,704.3 2151.6,704.1 2153.8,703.8 2156,703.6 2158.3,703.3 2160.5,703.1 2162.7,702.8 2164.9,702.6 2167.1,702.3 2169.4,702.1 2171.6,701.8 2173.8,701.6 2176,701.3 2178.3,701.1 2180.5,700.8 2182.7,700.6 2184.9,700.4 2187.2,700.1 2189.4,699.9 2191.6,699.6 2193.8,699.4 2196.1,699.2 2198.3,698.9 2200.5,698.7 2202.7,698.4 2205,698.2 2207.2,698 2209.4,697.7 2211.6,697.5 2213.9,697.2 2216.1,697 2218.3,696.7 2220.5,696.5 2222.8,696.3 2225,696 2227.2,695.8 2229.4,695.5 2231.7,695.3 2233.9,695 2236.1,694.7 2238.3,694.5 2240.6,694.2 2242.8,694 2245,693.7 2247.2,693.4 2249.5,693.2 2251.7,692.9 2253.9,692.6 2256.1,692.4 2258.4,692.1 2260.6,691.8 2262.8,691.5 2265,691.3 2267.3,691 2269.5,690.7 2271.7,690.4 2273.9,690.1 2276.2,689.9 2278.4,689.6 2280.6,689.3 2282.8,689 2285.1,688.7 2287.3,688.4 2289.5,688.2 2291.7,687.9 2294,687.6 2296.2,687.3 2298.4,687 2300.6,686.7 2302.8,686.5 2305.1,686.2 2307.3,685.9 2309.5,685.6 2311.7,685.3 2314,685 2316.2,684.8 2318.4,684.5 2320.6,684.2" fill="none" stroke="#151515" stroke-width="1.6"/>
<path d="M1395.2 31.7h0M1411.1 440.4h0M1427 601.1h0M1442.9 660h0M1458.8 709.4h0M1474.7 749.1h0M1490.6 775.7h0M1506.4 796.4h0M1522.3 812.8h0M1538.2 825.1h0M1554.1 836.4h0M1570 850.6h0M1585.9 864.8h0M1601.8 874.6h0M1617.7 880.4h0M1633.6 884.3h0M1649.5 887.6h0M1665.3 889.5h0M1681.2 890.7h0M1697.1 891.5h0M1713 892h0M1728.9 892h0M1744.8 891.3h0M1760.7 890.4h0M1776.6 889.2h0M1792.5 887.3h0M1808.4 882.3h0M1811.5 880.7h0M1814.7 879.2h0M1817.9 877.6h0M1821.1 876h0M1824.2 874.4h0M1827.4 872.8h0M1830.6 871.1h0M1833.8 869.5h0M1837 867.8h0M1840.1 866.2h0M1843.3 864.7h0M1846.5 863.2h0M1849.7 861.7h0M1852.8 860.3h0M1856 859h0M1859.2 857.8h0M1862.4 856.6h0M1865.6 855.4h0M1868.7 854.2h0M1871.9 853.1h0M1875.1 851.9h0M1878.3 850.7h0M1881.4 849.5h0M1884.6 848.3h0M1887.8 847.3h0M1891 846.2h0M1894.2 845.1h0M1897.3 843.9h0M1900.5 842.6h0M1903.7 841.1h0M1906.9 839.4h0M1910 837.4h0M1913.2 835.4h0M1916.4 833.2h0M1919.6 831h0M1922.8 828.7h0M1925.9 826.4h0M1929.1 824h0M1932.3 821.6h0M1935.5 819.1h0M1938.7 816.7h0M1941.8 814.2h0M1945 811.7h0M1948.2 809.1h0M1951.4 806.6h0M1954.5 804.1h0M1957.7 801.6h0M1960.9 799.1h0M1964.1 796.6h0M1967.3 794.1h0M1970.4 791.6h0M1973.6 789h0M1976.8 786.5h0M1980 783.9h0M1983.1 781.3h0M1986.3 778.6h0M1989.5 776h0M1992.7 773.4h0M1995.9 770.7h0M1999 768.1h0M2002.2 765.4h0M2005.4 762.7h0M2008.6 760h0M2011.7 757.2h0M2014.9 754.4h0M2018.1 751.7h0M2021.3 749h0M2024.5 746.3h0M2027.6 743.6h0M2030.8 740.9h0M2034 738.2h0M2037.2 735.5h0M2040.3 732.9h0M2043.5 730.5h0M2046.7 728.3h0M2049.9 726.3h0M2053.1 724.4h0M2056.2 722.7h0M2059.4 721.1h0M2062.6 719.7h0M2065.8 718.3h0M2068.9 717.1h0M2072.1 716.1h0M2075.3 715.2h0M2078.5 714.4h0M2081.7 713.6h0M2084.8 713h0M2088 712.4h0M2091.2 711.9h0M2094.4 711.4h0M2097.6 710.9h0M2100.7 710.5h0M2103.9 710.1h0M2107.1 709.6h0M2118.5 708.1h0M2130 706.6h0M2141.4 705.2h0M2152.8 704h0M2164.3 702.7h0M2175.7 701.4h0M2187.2 700.1h0M2198.6 698.9h0M2210.1 697.6h0M2221.5 696.4h0M2232.9 695.1h0M2244.4 693.8h0M2255.8 692.4h0M2267.3 691h0M2278.7 689.5h0M2290.1 688.1h0M2301.6 686.6h0M2313 685.2h0" stroke="#151515" stroke-width="12.3" stroke-linecap="square" fill="none"/>
<line x1="1497" y1="490" x2="1578" y2="471" stroke="#111" stroke-width="2.2"/>
<line x1="1540" y1="480" x2="1668" y2="477" stroke="#111" stroke-width="2.2"/>
<line x1="1531.4" y1="618.2" x2="1708.6" y2="532.8" stroke="#111" stroke-width="2.2"/>
<line x1="1651" y1="558" x2="1745" y2="545.6" stroke="#111" stroke-width="2.2"/>
<line x1="1745" y1="545.6" x2="1852" y2="541" stroke="#111" stroke-width="2.2"/>
<line x1="1625" y1="607.5" x2="1723.6" y2="556.3" stroke="#111" stroke-width="2.2"/>
<line x1="1786" y1="618" x2="1842" y2="608.7" stroke="#111" stroke-width="2.2"/>
<line x1="1838.4" y1="661" x2="1954.4" y2="632.2" stroke="#111" stroke-width="2.2"/>
<line x1="1782" y1="715" x2="1909.5" y2="651.7" stroke="#111" stroke-width="2.2"/>
<line x1="1924.5" y1="638.6" x2="2081.6" y2="627.4" stroke="#111" stroke-width="2.2"/>
<line x1="1962" y1="709.7" x2="2051.7" y2="683.5" stroke="#111" stroke-width="2.2"/>
<line x1="1924.5" y1="747" x2="2048" y2="689" stroke="#111" stroke-width="2.2"/>
<line x1="2021.8" y1="696.6" x2="2111.5" y2="689" stroke="#111" stroke-width="2.2"/>
<line x1="1877.7" y1="891" x2="1920.7" y2="850" stroke="#111" stroke-width="2.2"/>
<line x1="1986" y1="764" x2="2074" y2="713.4" stroke="#111" stroke-width="2.2"/>
<line x1="2160" y1="706" x2="2223.8" y2="672.3" stroke="#111" stroke-width="2.2"/>
</g>
<rect x="1351" y="82" width="971" height="830" fill="none" stroke="#8a8a8a" stroke-width="2.6"/>
<line x1="1351" y1="911.5" x2="1364" y2="911.5" stroke="#8a8a8a" stroke-width="2"/>
<text transform="translate(1340,925) scale(0.950,1)" font-family="Liberation Sans, sans-serif" font-size="39" fill="#505050" text-anchor="end" stroke="#505050" stroke-width="0.5">−1×10<tspan font-size="27" dy="-11.5">−5</tspan></text>
<line x1="1351" y1="828.5" x2="1359" y2="828.5" stroke="#8a8a8a" stroke-width="2"/>
<line x1="1351" y1="745.5" x2="1364" y2="745.5" stroke="#8a8a8a" stroke-width="2"/>
<text transform="translate(1339.5,758.8) scale(0.840,1)" font-family="Liberation Sans, sans-serif" font-size="39" fill="#505050" text-anchor="end" stroke="#505050" stroke-width="0.5">0</text>
<line x1="1351" y1="662.5" x2="1359" y2="662.5" stroke="#8a8a8a" stroke-width="2"/>
<line x1="1351" y1="579.5" x2="1364" y2="579.5" stroke="#8a8a8a" stroke-width="2"/>
<text transform="translate(1340,593) scale(0.950,1)" font-family="Liberation Sans, sans-serif" font-size="39" fill="#505050" text-anchor="end" stroke="#505050" stroke-width="0.5">1×10<tspan font-size="27" dy="-11.5">−5</tspan></text>
<line x1="1351" y1="496.5" x2="1359" y2="496.5" stroke="#8a8a8a" stroke-width="2"/>
<line x1="1351" y1="413.5" x2="1364" y2="413.5" stroke="#8a8a8a" stroke-width="2"/>
<text transform="translate(1340,427) scale(0.950,1)" font-family="Liberation Sans, sans-serif" font-size="39" fill="#505050" text-anchor="end" stroke="#505050" stroke-width="0.5">2×10<tspan font-size="27" dy="-11.5">−5</tspan></text>
<line x1="1351" y1="330.5" x2="1359" y2="330.5" stroke="#8a8a8a" stroke-width="2"/>
<line x1="1351" y1="247.5" x2="1364" y2="247.5" stroke="#8a8a8a" stroke-width="2"/>
<text transform="translate(1340,261) scale(0.950,1)" font-family="Liberation Sans, sans-serif" font-size="39" fill="#505050" text-anchor="end" stroke="#505050" stroke-width="0.5">3×10<tspan font-size="27" dy="-11.5">−5</tspan></text>
<line x1="1351" y1="164.5" x2="1359" y2="164.5" stroke="#8a8a8a" stroke-width="2"/>
<line x1="1351" y1="81.5" x2="1364" y2="81.5" stroke="#8a8a8a" stroke-width="2"/>
<text transform="translate(1340,95) scale(0.950,1)" font-family="Liberation Sans, sans-serif" font-size="39" fill="#505050" text-anchor="end" stroke="#505050" stroke-width="0.5">4×10<tspan font-size="27" dy="-11.5">−5</tspan></text>
<line x1="1368.2" y1="912" x2="1368.2" y2="897" stroke="#8a8a8a" stroke-width="2"/>
<text transform="translate(1368.2,949.3) scale(0.830,1)" font-family="Liberation Sans, sans-serif" font-size="34.5" fill="#505050" text-anchor="middle" stroke="#505050" stroke-width="0.5">0</text>
<line x1="1447.7" y1="912" x2="1447.7" y2="904" stroke="#8a8a8a" stroke-width="2"/>
<line x1="1527.1" y1="912" x2="1527.1" y2="897" stroke="#8a8a8a" stroke-width="2"/>
<text transform="translate(1527.1,949.3) scale(0.830,1)" font-family="Liberation Sans, sans-serif" font-size="34.5" fill="#505050" text-anchor="middle" stroke="#505050" stroke-width="0.5">50</text>
<line x1="1606.5" y1="912" x2="1606.5" y2="904" stroke="#8a8a8a" stroke-width="2"/>
<line x1="1686" y1="912" x2="1686" y2="897" stroke="#8a8a8a" stroke-width="2"/>
<text transform="translate(1686,949.3) scale(0.830,1)" font-family="Liberation Sans, sans-serif" font-size="34.5" fill="#505050" text-anchor="middle" stroke="#505050" stroke-width="0.5">100</text>
<line x1="1765.5" y1="912" x2="1765.5" y2="904" stroke="#8a8a8a" stroke-width="2"/>
<line x1="1844.9" y1="912" x2="1844.9" y2="897" stroke="#8a8a8a" stroke-width="2"/>
<text transform="translate(1844.9,949.3) scale(0.830,1)" font-family="Liberation Sans, sans-serif" font-size="34.5" fill="#505050" text-anchor="middle" stroke="#505050" stroke-width="0.5">150</text>
<line x1="1924.3" y1="912" x2="1924.3" y2="904" stroke="#8a8a8a" stroke-width="2"/>
<line x1="2003.8" y1="912" x2="2003.8" y2="897" stroke="#8a8a8a" stroke-width="2"/>
<text transform="translate(2003.8,949.3) scale(0.830,1)" font-family="Liberation Sans, sans-serif" font-size="34.5" fill="#505050" text-anchor="middle" stroke="#505050" stroke-width="0.5">200</text>
<line x1="2083.2" y1="912" x2="2083.2" y2="904" stroke="#8a8a8a" stroke-width="2"/>
<line x1="2162.7" y1="912" x2="2162.7" y2="897" stroke="#8a8a8a" stroke-width="2"/>
<text transform="translate(2162.7,949.3) scale(0.830,1)" font-family="Liberation Sans, sans-serif" font-size="34.5" fill="#505050" text-anchor="middle" stroke="#505050" stroke-width="0.5">250</text>
<line x1="2242.2" y1="912" x2="2242.2" y2="904" stroke="#8a8a8a" stroke-width="2"/>
<line x1="2321.6" y1="912" x2="2321.6" y2="897" stroke="#8a8a8a" stroke-width="2"/>
<text transform="translate(2321.6,949.3) scale(0.830,1)" font-family="Liberation Sans, sans-serif" font-size="34.5" fill="#505050" text-anchor="middle" stroke="#505050" stroke-width="0.5">300</text>
<text transform="translate(1844,1013.3) scale(0.82,1)" font-family="Liberation Sans, sans-serif" font-size="34" fill="#505050" stroke="#505050" stroke-width="0.5" text-anchor="middle"><tspan font-style="italic">T</tspan> (K)</text>
<text transform="translate(1173,495) rotate(-90) scale(0.81,1)" font-family="Liberation Sans, sans-serif" font-size="36" fill="#505050" stroke="#505050" stroke-width="0.5" text-anchor="middle">Susceptibility (e.m.u. per Oe mol Ti)</text>
<rect x="1585" y="119" width="168" height="91" fill="#fff" stroke="#8a8a8a" stroke-width="2.2"/>
<text transform="translate(1670,176.5) scale(0.8,1)" font-family="Liberation Sans, sans-serif" font-size="37" fill="#505050" stroke="#505050" stroke-width="0.5" text-anchor="middle">Cu<tspan font-size="24" font-style="italic" dy="7">x</tspan><tspan dy="-7">TiSe</tspan><tspan font-size="24" dy="7">2</tspan></text>
<text transform="translate(1672,248) scale(0.8,1)" font-family="Liberation Sans, sans-serif" font-size="36" fill="#505050" stroke="#505050" stroke-width="0.5" text-anchor="middle"><tspan font-style="italic">H</tspan> = 0.5 T</text>
<text transform="translate(1784.4,371.5) scale(0.83,1)" font-family="Liberation Sans, sans-serif" font-size="36" fill="#f0a850" stroke="#f0a850" stroke-width="0.4"><tspan font-style="italic">x</tspan> = 0.10</text>
<text transform="translate(1707.5,442) scale(0.83,1)" font-family="Liberation Sans, sans-serif" font-size="36" fill="#8b5a5e" stroke="#8b5a5e" stroke-width="0.4"><tspan font-style="italic">x</tspan> = 0.08</text>
<text transform="translate(1718.7,519) scale(0.83,1)" font-family="Liberation Sans, sans-serif" font-size="36" fill="#e060a8" stroke="#e060a8" stroke-width="0.4"><tspan font-style="italic">x</tspan> = 0.06</text>
<text transform="translate(1527,552) scale(0.83,1)" font-family="Liberation Sans, sans-serif" font-size="36" fill="#9c9a56" stroke="#9c9a56" stroke-width="0.4"><tspan font-style="italic">x</tspan> = 0.05</text>
<text transform="translate(1698,601) scale(0.83,1)" font-family="Liberation Sans, sans-serif" font-size="36" fill="#3aa060" stroke="#3aa060" stroke-width="0.4"><tspan font-style="italic">x</tspan> = 0.04</text>
<text transform="translate(1623.2,661) scale(0.83,1)" font-family="Liberation Sans, sans-serif" font-size="36" fill="#5a5f9e" stroke="#5a5f9e" stroke-width="0.4"><tspan font-style="italic">x</tspan> = 0.03</text>
<text transform="translate(1920.7,683.5) scale(0.83,1)" font-family="Liberation Sans, sans-serif" font-size="36" fill="#58b6d8" stroke="#58b6d8" stroke-width="0.4"><tspan font-style="italic">x</tspan> = 0.02</text>
<text transform="translate(1736.4,819) scale(0.83,1)" font-family="Liberation Sans, sans-serif" font-size="36" fill="#e25a60" stroke="#e25a60" stroke-width="0.4"><tspan font-style="italic">x</tspan> = 0.01</text>
<text transform="translate(1638.2,872) scale(0.83,1)" font-family="Liberation Sans, sans-serif" font-size="36" fill="#3a3a3a" stroke="#3a3a3a" stroke-width="0.4"><tspan font-style="italic">x</tspan> = 0</text>
<text transform="translate(1129.4,1084.2)" font-family="Liberation Sans, sans-serif" font-weight="bold" font-size="119" fill="#000">d</text>
<defs><clipPath id="clipd"><rect x="1348.4" y="1062.3" width="844.5999999999999" height="702.2"/></clipPath></defs>
<g clip-path="url(#clipd)" fill="none" stroke-width="4.8" stroke-linejoin="round">
<path d="M1345.6,1334.8C1350.5,1345.3 1364.7,1378.8 1375.4,1398C1386,1417.3 1397.9,1434.7 1409.4,1450.2C1421,1465.8 1435.3,1482.2 1444.6,1491.4C1453.8,1500.6 1457.9,1499.1 1464.8,1505.5C1471.7,1511.8 1477.9,1515.7 1486.1,1529.6C1494.2,1543.5 1505.6,1570.2 1513.8,1588.8C1521.9,1607.4 1526.4,1626.5 1535.1,1641C1543.8,1655.6 1552.1,1665.8 1565.9,1676.1C1579.8,1686.5 1604.8,1697.7 1618.1,1703.3C1631.4,1708.8 1636.7,1709.1 1645.8,1709.3C1654.8,1709.4 1659.6,1708.1 1672.4,1704.3C1685.2,1700.4 1708.6,1693.4 1722.4,1686.2C1736.3,1679 1747.8,1659.9 1755.4,1661.1C1763.1,1662.3 1762.9,1696.1 1768.2,1693.2C1773.5,1690.4 1780.4,1658.4 1787.4,1644C1794.3,1629.6 1801.7,1614.6 1809.7,1606.9C1817.7,1599.2 1823.9,1601.7 1835.3,1597.8C1846.6,1594 1866,1588.1 1877.9,1583.8C1889.7,1579.4 1897.7,1572.7 1906.6,1571.7C1915.5,1570.7 1922.9,1576.1 1931.1,1577.8C1939.3,1579.4 1945.8,1587.5 1955.6,1581.8C1965.3,1576.1 1976.9,1560.5 1989.6,1543.6C2002.4,1526.7 2015.9,1508.8 2032.2,1480.4C2048.6,1451.9 2072.5,1405.9 2087.6,1372.9C2102.7,1340 2111.2,1313.5 2122.7,1282.6C2134.3,1251.6 2145.8,1224 2156.8,1187.2C2167.8,1150.4 2183.4,1082.6 2188.7,1061.7" stroke="#f7941d"/>
<path d="M1345.6,1362.9C1353.4,1376.3 1378.7,1422.3 1392.4,1443.2C1406.1,1464.1 1416.5,1476.9 1427.5,1488.4C1438.5,1499.9 1446.9,1501 1458.4,1512.5C1469.9,1524 1484.7,1539.1 1496.7,1557.7C1508.8,1576.2 1516.4,1603.7 1530.8,1623.9C1545.2,1644.2 1564.2,1665.1 1583,1679.2C1601.8,1693.2 1628.7,1703.8 1643.6,1708.3C1658.6,1712.8 1659.3,1709.4 1672.4,1706.3C1685.5,1703.1 1708.6,1696.2 1722.4,1689.2C1736.3,1682.2 1747.8,1662.9 1755.4,1664.1C1763.1,1665.3 1762.9,1698.7 1768.2,1696.2C1773.5,1693.7 1780.4,1662.8 1787.4,1649C1794.3,1635.3 1801.7,1621.4 1809.7,1613.9C1817.7,1606.4 1823.9,1607.5 1835.3,1603.9C1846.6,1600.2 1866,1595.2 1877.9,1591.8C1889.7,1588.5 1896,1584.8 1906.6,1583.8C1917.3,1582.8 1931.4,1587.5 1941.7,1585.8C1952,1584.1 1953.3,1590.5 1968.4,1573.7C1983.4,1557 2012.4,1517.2 2032.2,1485.4C2052.1,1453.6 2072.5,1414.3 2087.6,1383C2102.7,1351.7 2111.2,1326.1 2122.7,1297.6C2134.3,1269.2 2144.4,1247.4 2156.8,1212.3C2169.2,1177.2 2190.5,1107.7 2197.2,1086.8" stroke="#f7941d"/>
<path d="M1345.6,1415.1C1350.5,1422.6 1365.8,1446.4 1375.4,1460.3C1385,1474.2 1392.8,1488.6 1403,1498.4C1413.3,1508.3 1424.5,1508.5 1437.1,1519.5C1449.7,1530.6 1465.9,1547.3 1478.6,1564.7C1491.4,1582.1 1502.1,1607.2 1513.8,1623.9C1525.5,1640.7 1534.3,1653.6 1548.9,1665.1C1563.4,1676.7 1585.3,1685.9 1601.1,1693.2C1616.9,1700.6 1631.8,1706.6 1643.6,1709.3C1655.5,1712 1659.3,1712.1 1672.4,1709.3C1685.5,1706.4 1708.6,1699.4 1722.4,1692.2C1736.3,1685 1747.8,1665.1 1755.4,1666.1C1763.1,1667.1 1762.9,1700.2 1768.2,1698.2C1773.5,1696.2 1780.4,1667.3 1787.4,1654.1C1794.3,1640.8 1801.7,1626.5 1809.7,1618.9C1817.7,1611.4 1823.9,1612.2 1835.3,1608.9C1846.6,1605.5 1866,1601.7 1877.9,1598.8C1889.7,1596 1893.3,1593.5 1906.6,1591.8C1919.9,1590.1 1944.8,1593.5 1957.7,1588.8C1970.7,1584.1 1971.9,1579.9 1984.3,1563.7C1996.7,1547.5 2014.5,1517.3 2032.2,1491.4C2050,1465.5 2073.9,1436.2 2090.8,1408.1C2107.6,1380 2120.9,1350.3 2133.4,1322.7C2145.8,1295.1 2154.7,1274.2 2165.3,1242.4C2175.9,1210.6 2191.9,1150.4 2197.2,1132" stroke="#f7941d"/>
<path d="M1345.6,1056.7C1349.1,1070.1 1359,1111.4 1366.9,1137C1374.7,1162.6 1383.5,1186.9 1392.4,1210.3C1401.3,1233.7 1411.4,1256.8 1420.1,1277.6C1428.8,1298.3 1437.1,1320.6 1444.6,1334.8C1452,1349 1456.8,1346.5 1464.8,1362.9C1472.8,1379.3 1483.1,1409.9 1492.5,1433.2C1501.9,1456.4 1513.6,1485.7 1521.2,1502.5C1528.8,1519.2 1531.3,1518.7 1538.3,1533.6C1545.2,1548.5 1554,1573.9 1562.7,1591.8C1571.4,1609.7 1577.6,1623.4 1590.4,1641C1603.2,1658.6 1625.7,1683.8 1639.4,1697.2C1653.1,1710.6 1658.6,1716.6 1672.4,1721.3C1686.2,1726 1708.1,1725.8 1722.4,1725.3C1736.8,1724.8 1750.5,1715.3 1758.6,1718.3C1766.8,1721.3 1766.6,1742.9 1771.4,1743.4C1776.2,1743.9 1775.1,1734.2 1787.4,1721.3C1799.6,1708.4 1826.2,1687.5 1844.9,1666.1C1863.5,1644.7 1881.9,1614.2 1899.2,1592.8C1916.4,1571.4 1927.2,1557.2 1948.1,1537.6C1969.1,1518 2006.3,1492.8 2024.8,1475.3C2043.2,1457.9 2048.4,1449.1 2058.8,1433.2C2069.3,1417.3 2076.9,1403.2 2087.6,1380C2098.2,1356.7 2111.2,1322.6 2122.7,1293.6C2134.3,1264.7 2145.8,1243.3 2156.8,1206.3C2167.8,1169.3 2182,1098.3 2188.7,1071.7C2195.5,1045.1 2195.8,1050.8 2197.2,1046.6" stroke="#2e3690"/>
<path d="M1345.6,1130C1350.9,1142 1366.9,1178.5 1377.5,1202.3C1388.1,1226 1398.8,1246.6 1409.4,1272.5C1420.1,1298.5 1430.9,1330.1 1441.4,1357.9C1451.8,1385.7 1461.6,1414.1 1472.2,1439.2C1482.9,1464.3 1494.8,1486.4 1505.2,1508.5C1515.7,1530.6 1521.9,1549.6 1535.1,1571.7C1548.2,1593.8 1566.6,1619.8 1584,1641C1601.4,1662.3 1624.7,1685.7 1639.4,1699.2C1654.1,1712.8 1658.6,1717.6 1672.4,1722.3C1686.2,1727 1708.1,1727.7 1722.4,1727.4C1736.8,1727 1750.5,1717.8 1758.6,1720.3C1766.8,1722.8 1766.6,1742.1 1771.4,1742.4C1776.2,1742.7 1775.1,1734.5 1787.4,1722.3C1799.6,1710.1 1825.3,1688.9 1844.9,1669.1C1864.4,1649.4 1885.7,1623.9 1904.5,1603.9C1923.3,1583.8 1937.3,1569.6 1957.7,1548.6C1978.1,1527.7 2010,1496.8 2026.9,1478.4C2043.8,1460 2048.7,1453.3 2058.8,1438.2C2069,1423.1 2076.9,1409.8 2087.6,1388C2098.2,1366.2 2111.2,1335.3 2122.7,1307.7C2134.3,1280.1 2144.4,1258.3 2156.8,1222.3C2169.2,1186.4 2190.5,1113.6 2197.2,1091.8" stroke="#2e3690"/>
<path d="M1345.6,1154.1C1349.1,1159.6 1359,1174.1 1366.9,1187.2C1374.7,1200.3 1383.5,1215.6 1392.4,1232.4C1401.3,1249.1 1411.4,1269.2 1420.1,1287.6C1428.8,1306 1435.7,1323.6 1444.6,1342.8C1453.4,1362.1 1464.6,1383.8 1473.3,1403.1C1482,1422.3 1488.7,1440.7 1496.7,1458.3C1504.7,1475.8 1510.2,1485.9 1521.2,1508.5C1532.2,1531.1 1549.4,1568.7 1562.7,1593.8C1576,1618.9 1588.3,1641.7 1601.1,1659.1C1613.8,1676.5 1627.5,1687.4 1639.4,1698.2C1651.3,1709.1 1658.6,1719.3 1672.4,1724.3C1686.2,1729.4 1708.1,1728.9 1722.4,1728.4C1736.8,1727.9 1750.5,1718.7 1758.6,1721.3C1766.8,1724 1766.6,1744.1 1771.4,1744.4C1776.2,1744.8 1775.1,1735.6 1787.4,1723.3C1799.6,1711.1 1825.9,1691.9 1844.9,1671.1C1863.8,1650.4 1883.4,1620.1 1901.3,1598.8C1919.2,1577.6 1931.8,1563.9 1952.4,1543.6C1973,1523.4 2007,1495.4 2024.8,1477.4C2042.5,1459.3 2048.4,1450.9 2058.8,1435.2C2069.3,1419.5 2076.9,1405.4 2087.6,1383C2098.2,1360.6 2111.2,1329.1 2122.7,1300.7C2134.3,1272.2 2144.4,1250.5 2156.8,1212.3C2169.2,1174.1 2190.5,1095.2 2197.2,1071.7" stroke="#2e3690"/>
</g>
<rect x="1348.4" y="1062.3" width="844.5999999999999" height="702.2" fill="none" stroke="#2e3690" stroke-width="3.5"/>
<line x1="1452" y1="1764.5" x2="1452" y2="1749.5" stroke="#2e3690" stroke-width="3"/>
<line x1="1452" y1="1062.3" x2="1452" y2="1077.3" stroke="#2e3690" stroke-width="3"/>
<line x1="1558.5" y1="1764.5" x2="1558.5" y2="1738.5" stroke="#2e3690" stroke-width="3"/>
<line x1="1558.5" y1="1062.3" x2="1558.5" y2="1088.3" stroke="#2e3690" stroke-width="3"/>
<text transform="translate(1548.5,1838)" font-family="Liberation Sans, sans-serif" font-size="65" fill="#1a1a1a" text-anchor="middle" >-200</text>
<line x1="1664.9" y1="1764.5" x2="1664.9" y2="1749.5" stroke="#2e3690" stroke-width="3"/>
<line x1="1664.9" y1="1062.3" x2="1664.9" y2="1077.3" stroke="#2e3690" stroke-width="3"/>
<line x1="1771.4" y1="1764.5" x2="1771.4" y2="1738.5" stroke="#2e3690" stroke-width="3"/>
<line x1="1771.4" y1="1062.3" x2="1771.4" y2="1088.3" stroke="#2e3690" stroke-width="3"/>
<text transform="translate(1771.4,1838)" font-family="Liberation Sans, sans-serif" font-size="65" fill="#1a1a1a" text-anchor="middle" >0</text>
<line x1="1877.9" y1="1764.5" x2="1877.9" y2="1749.5" stroke="#2e3690" stroke-width="3"/>
<line x1="1877.9" y1="1062.3" x2="1877.9" y2="1077.3" stroke="#2e3690" stroke-width="3"/>
<line x1="1984.3" y1="1764.5" x2="1984.3" y2="1738.5" stroke="#2e3690" stroke-width="3"/>
<line x1="1984.3" y1="1062.3" x2="1984.3" y2="1088.3" stroke="#2e3690" stroke-width="3"/>
<text transform="translate(1984.3,1838)" font-family="Liberation Sans, sans-serif" font-size="65" fill="#1a1a1a" text-anchor="middle" >200</text>
<line x1="2090.8" y1="1764.5" x2="2090.8" y2="1749.5" stroke="#2e3690" stroke-width="3"/>
<line x1="2090.8" y1="1062.3" x2="2090.8" y2="1077.3" stroke="#2e3690" stroke-width="3"/>
<line x1="1348.4" y1="1664.1" x2="1360.4" y2="1664.1" stroke="#2e3690" stroke-width="3"/>
<line x1="2193" y1="1664.1" x2="2181" y2="1664.1" stroke="#2e3690" stroke-width="3"/>
<line x1="1348.4" y1="1563.7" x2="1368.4" y2="1563.7" stroke="#2e3690" stroke-width="3"/>
<line x1="2193" y1="1563.7" x2="2173" y2="1563.7" stroke="#2e3690" stroke-width="3"/>
<line x1="1348.4" y1="1463.3" x2="1360.4" y2="1463.3" stroke="#2e3690" stroke-width="3"/>
<line x1="2193" y1="1463.3" x2="2181" y2="1463.3" stroke="#2e3690" stroke-width="3"/>
<line x1="1348.4" y1="1362.9" x2="1368.4" y2="1362.9" stroke="#2e3690" stroke-width="3"/>
<line x1="2193" y1="1362.9" x2="2173" y2="1362.9" stroke="#2e3690" stroke-width="3"/>
<line x1="1348.4" y1="1262.5" x2="1360.4" y2="1262.5" stroke="#2e3690" stroke-width="3"/>
<line x1="2193" y1="1262.5" x2="2181" y2="1262.5" stroke="#2e3690" stroke-width="3"/>
<line x1="1348.4" y1="1162.1" x2="1368.4" y2="1162.1" stroke="#2e3690" stroke-width="3"/>
<line x1="2193" y1="1162.1" x2="2173" y2="1162.1" stroke="#2e3690" stroke-width="3"/>
<text transform="translate(1323,1787.5)" font-family="Liberation Sans, sans-serif" font-size="65" fill="#1a1a1a" text-anchor="end" >0</text>
<text transform="translate(1323,1586.7)" font-family="Liberation Sans, sans-serif" font-size="65" fill="#1a1a1a" text-anchor="end" >2</text>
<text transform="translate(1323,1385.9)" font-family="Liberation Sans, sans-serif" font-size="65" fill="#1a1a1a" text-anchor="end" >4</text>
<text transform="translate(1323,1185.1)" font-family="Liberation Sans, sans-serif" font-size="65" fill="#1a1a1a" text-anchor="end" >6</text>
<text transform="translate(1783.6,1913)" font-family="Liberation Sans, sans-serif" font-size="66.5" fill="#1a1a1a" text-anchor="middle" >Bias voltage (mV)</text>
<text transform="translate(1252,1409.5) rotate(-90)" font-family="Liberation Sans, sans-serif" font-size="66" fill="#1a1a1a" text-anchor="middle">d<tspan font-style="italic">I</tspan>/d<tspan font-style="italic">V</tspan> (nS)</text>
<line x1="1486.5" y1="1164.6" x2="1615.4" y2="1164.6" stroke="#f7941d" stroke-width="5"/>
<line x1="1508" y1="1255.6" x2="1640.4" y2="1255.6" stroke="#2e3690" stroke-width="5"/>
<text transform="translate(1675.5,1174)" font-family="Liberation Sans, sans-serif" font-size="67.3" fill="#1a1a1a" text-anchor="start" >Domain wall</text>
<text transform="translate(1677.6,1275.6)" font-family="Liberation Sans, sans-serif" font-size="67.3" fill="#1a1a1a" text-anchor="start" >CDW region</text>
<text transform="translate(20.7,1081.2)" font-family="Liberation Sans, sans-serif" font-weight="bold" font-size="119" fill="#000">c</text>
<defs>
<filter id="blur6" x="-50%" y="-50%" width="200%" height="200%"><feGaussianBlur stdDeviation="6"/></filter>
<filter id="blur14" x="-50%" y="-50%" width="200%" height="200%"><feGaussianBlur stdDeviation="14"/></filter>
<filter id="blur22" x="-50%" y="-50%" width="200%" height="200%"><feGaussianBlur stdDeviation="22"/></filter>
<filter id="noiseC" x="0" y="0" width="100%" height="100%"><feTurbulence type="fractalNoise" baseFrequency="0.35 0.12" numOctaves="2" seed="3" result="n"/><feColorMatrix type="matrix" values="0 0 0 0 1  0 0 0 0 1  0 0 0 0 1  0 0 0.9 0 -0.38"/></filter>
<radialGradient id="haloC"><stop offset="0" stop-color="#ffffff" stop-opacity="1"/><stop offset="0.6" stop-color="#fdf0f2" stop-opacity="0.97"/><stop offset="0.8" stop-color="#f2e6f2" stop-opacity="0.55"/><stop offset="1" stop-color="#e0e0f4" stop-opacity="0"/></radialGradient>
<radialGradient id="whiteC"><stop offset="0" stop-color="#ffffff" stop-opacity="1"/><stop offset="0.4" stop-color="#f4f4fc" stop-opacity="0.85"/><stop offset="1" stop-color="#d0d6f0" stop-opacity="0"/></radialGradient>
<radialGradient id="redC"><stop offset="0" stop-color="#a00818"/><stop offset="0.35" stop-color="#c81020"/><stop offset="0.75" stop-color="#e8202c"/><stop offset="1" stop-color="#f05868"/></radialGradient>
<radialGradient id="fftCore"><stop offset="0" stop-color="#ffffff" stop-opacity="1"/><stop offset="0.6" stop-color="#f4f8fc" stop-opacity="0.95"/><stop offset="0.85" stop-color="#e8f0f8" stop-opacity="0.5"/><stop offset="1" stop-color="#e0eaf4" stop-opacity="0"/></radialGradient>
<clipPath id="clipc"><rect x="167.5" y="1054" width="839.5" height="842.5"/></clipPath>
</defs>
<g clip-path="url(#clipc)">
<rect x="167.5" y="1054" width="839.5" height="842.5" fill="#5060b6"/>
<g filter="url(#blur22)"><ellipse cx="226" cy="1108" rx="32.199999999999996" ry="25.299999999999997" fill="#aab2e2" opacity="0.81"/><ellipse cx="227" cy="1166" rx="25.299999999999997" ry="20.7" fill="#aab2e2" opacity="0.7425000000000002"/><ellipse cx="178" cy="1148" rx="25.299999999999997" ry="18.4" fill="#aab2e2" opacity="0.675"/><ellipse cx="351" cy="1146" rx="34.5" ry="16.099999999999998" fill="#aab2e2" opacity="0.6075"/><ellipse cx="429" cy="1182" rx="39.099999999999994" ry="25.299999999999997" fill="#aab2e2" opacity="0.675"/><ellipse cx="219" cy="1258" rx="63.24999999999999" ry="32.199999999999996" fill="#aab2e2" opacity="0.81"/><ellipse cx="325" cy="1258" rx="57.49999999999999" ry="32.199999999999996" fill="#aab2e2" opacity="0.675"/><ellipse cx="399" cy="1245" rx="29.9" ry="16.099999999999998" fill="#aab2e2" opacity="0.675"/><ellipse cx="483" cy="1093" rx="34.5" ry="32.199999999999996" fill="#aab2e2" opacity="0.675"/><ellipse cx="543" cy="1262" rx="20.7" ry="29.9" fill="#aab2e2" opacity="0.6075"/><ellipse cx="178" cy="1392" rx="25.299999999999997" ry="34.5" fill="#aab2e2" opacity="0.6075"/><ellipse cx="197" cy="1520" rx="48.3" ry="63.24999999999999" fill="#aab2e2" opacity="0.7425000000000002"/><ellipse cx="329" cy="1489" rx="39.099999999999994" ry="23.0" fill="#aab2e2" opacity="0.6075"/><ellipse cx="473" cy="1526" rx="46.0" ry="25.299999999999997" fill="#aab2e2" opacity="0.7425000000000002"/><ellipse cx="279" cy="1645" rx="66.69999999999999" ry="28.749999999999996" fill="#aab2e2" opacity="0.675"/><ellipse cx="379" cy="1670" rx="27.599999999999998" ry="18.4" fill="#aab2e2" opacity="0.7425000000000002"/><ellipse cx="555" cy="1570" rx="51.74999999999999" ry="32.199999999999996" fill="#aab2e2" opacity="0.675"/><ellipse cx="568" cy="1651" rx="40.25" ry="23.0" fill="#aab2e2" opacity="0.6075"/><ellipse cx="448" cy="1745" rx="46.0" ry="32.199999999999996" fill="#aab2e2" opacity="0.6075"/><ellipse cx="185" cy="1858" rx="32.199999999999996" ry="29.9" fill="#aab2e2" opacity="0.6075"/><ellipse cx="666" cy="1540" rx="103.49999999999999" ry="40.25" fill="#aab2e2" opacity="0.675"/><ellipse cx="890" cy="1521" rx="46.0" ry="25.299999999999997" fill="#aab2e2" opacity="0.8775000000000001"/><ellipse cx="952" cy="1576" rx="74.75" ry="32.199999999999996" fill="#aab2e2" opacity="0.6075"/><ellipse cx="716" cy="1632" rx="46.0" ry="23.0" fill="#aab2e2" opacity="0.6075"/><ellipse cx="629" cy="1737" rx="57.49999999999999" ry="32.199999999999996" fill="#aab2e2" opacity="0.6075"/><ellipse cx="960" cy="1650" rx="46.0" ry="28.749999999999996" fill="#aab2e2" opacity="0.4725"/><ellipse cx="520" cy="1440" rx="34.5" ry="28.749999999999996" fill="#aab2e2" opacity="0.4725"/><ellipse cx="300" cy="1330" rx="46.0" ry="28.749999999999996" fill="#aab2e2" opacity="0.4725"/></g>
<g filter="url(#blur22)"><ellipse cx="303" cy="1181" rx="38" ry="38" fill="#3a4ab0" opacity="0.45"/><ellipse cx="465" cy="1075" rx="32" ry="20" fill="#3a4ab0" opacity="0.45"/><ellipse cx="495" cy="1215" rx="60" ry="26" fill="#3a4ab0" opacity="0.35"/><ellipse cx="423" cy="1308" rx="50" ry="50" fill="#3a4ab0" opacity="0.45"/><ellipse cx="232" cy="1344" rx="50" ry="25" fill="#3a4ab0" opacity="0.35"/><ellipse cx="483" cy="1374" rx="60" ry="30" fill="#3a4ab0" opacity="0.3"/><ellipse cx="351" cy="1456" rx="50" ry="28" fill="#3a4ab0" opacity="0.3"/><ellipse cx="297" cy="1564" rx="62" ry="32" fill="#3a4ab0" opacity="0.35"/><ellipse cx="448" cy="1589" rx="50" ry="20" fill="#3a4ab0" opacity="0.4"/><ellipse cx="423" cy="1701" rx="40" ry="20" fill="#3a4ab0" opacity="0.4"/><ellipse cx="523" cy="1708" rx="62" ry="25" fill="#3a4ab0" opacity="0.4"/><ellipse cx="222" cy="1770" rx="62" ry="25" fill="#3a4ab0" opacity="0.3"/><ellipse cx="460" cy="1839" rx="75" ry="55" fill="#3a4ab0" opacity="0.35"/><ellipse cx="629" cy="1614" rx="50" ry="25" fill="#3a4ab0" opacity="0.45"/><ellipse cx="766" cy="1731" rx="38" ry="31" fill="#3a4ab0" opacity="0.45"/><ellipse cx="679" cy="1806" rx="50" ry="31" fill="#3a4ab0" opacity="0.45"/><ellipse cx="865" cy="1806" rx="62" ry="31" fill="#3a4ab0" opacity="0.35"/><ellipse cx="971" cy="1835" rx="44" ry="60" fill="#3a4ab0" opacity="0.45"/><ellipse cx="902" cy="1614" rx="50" ry="25" fill="#3a4ab0" opacity="0.3"/></g>
<rect x="167.5" y="1054" width="839.5" height="842.5" filter="url(#noiseC)" opacity="0.55"/>
<g><circle cx="217.4" cy="1109.6" r="12.5" fill="url(#whiteC)"/><circle cx="396.8" cy="1065.3" r="12.5" fill="url(#whiteC)"/><circle cx="427.9" cy="1098.8" r="12.5" fill="url(#whiteC)"/><circle cx="485.3" cy="1106" r="12.5" fill="url(#whiteC)"/><circle cx="229.4" cy="1168.2" r="12.5" fill="url(#whiteC)"/><circle cx="325" cy="1186.1" r="12.5" fill="url(#whiteC)"/><circle cx="475.7" cy="1164.6" r="12.5" fill="url(#whiteC)"/><circle cx="473.3" cy="1212.4" r="12.5" fill="url(#whiteC)"/><circle cx="398" cy="1241.1" r="12.5" fill="url(#whiteC)"/><circle cx="431.5" cy="1249.5" r="12.5" fill="url(#whiteC)"/><circle cx="327.4" cy="1245.9" r="12.5" fill="url(#whiteC)"/><circle cx="284.4" cy="1262.7" r="12.5" fill="url(#whiteC)"/><circle cx="455.4" cy="1388.2" r="12.5" fill="url(#whiteC)"/><circle cx="436.2" cy="1401.4" r="12.5" fill="url(#whiteC)"/><circle cx="552.3" cy="1255.5" r="12.5" fill="url(#whiteC)"/><circle cx="307.8" cy="1581.5" r="12.5" fill="url(#whiteC)"/><circle cx="337.9" cy="1617.8" r="12.5" fill="url(#whiteC)"/><circle cx="305.3" cy="1647.9" r="12.5" fill="url(#whiteC)"/><circle cx="376.7" cy="1674.2" r="12.5" fill="url(#whiteC)"/><circle cx="469.4" cy="1522.6" r="12.5" fill="url(#whiteC)"/><circle cx="523.3" cy="1565.2" r="12.5" fill="url(#whiteC)"/><circle cx="545.9" cy="1581.5" r="12.5" fill="url(#whiteC)"/><circle cx="575.9" cy="1647.9" r="12.5" fill="url(#whiteC)"/><circle cx="458.2" cy="1711.8" r="12.5" fill="url(#whiteC)"/><circle cx="320.4" cy="1755.6" r="12.5" fill="url(#whiteC)"/><circle cx="468.2" cy="1758.1" r="12.5" fill="url(#whiteC)"/><circle cx="530.8" cy="1817" r="12.5" fill="url(#whiteC)"/><circle cx="404.3" cy="1840.8" r="12.5" fill="url(#whiteC)"/><circle cx="342.9" cy="1873.4" r="12.5" fill="url(#whiteC)"/><circle cx="220.1" cy="1880.9" r="12.5" fill="url(#whiteC)"/><circle cx="190.1" cy="1701.8" r="12.5" fill="url(#whiteC)"/><circle cx="650.6" cy="1519.7" r="12.5" fill="url(#whiteC)"/><circle cx="620.9" cy="1641.1" r="12.5" fill="url(#whiteC)"/><circle cx="685.3" cy="1644.8" r="12.5" fill="url(#whiteC)"/><circle cx="773.2" cy="1652.3" r="12.5" fill="url(#whiteC)"/><circle cx="916.9" cy="1569.3" r="12.5" fill="url(#whiteC)"/><circle cx="993.7" cy="1574.2" r="12.5" fill="url(#whiteC)"/><circle cx="877.3" cy="1512.3" r="12.5" fill="url(#whiteC)"/><circle cx="899.6" cy="1529.6" r="12.5" fill="url(#whiteC)"/><circle cx="710.1" cy="1748.9" r="12.5" fill="url(#whiteC)"/><circle cx="814.1" cy="1748.9" r="12.5" fill="url(#whiteC)"/><circle cx="604.8" cy="1777.4" r="12.5" fill="url(#whiteC)"/><circle cx="654.3" cy="1771.2" r="12.5" fill="url(#whiteC)"/><circle cx="625.8" cy="1807.1" r="12.5" fill="url(#whiteC)"/><circle cx="691.5" cy="1818.2" r="12.5" fill="url(#whiteC)"/><circle cx="810.4" cy="1784.8" r="12.5" fill="url(#whiteC)"/><circle cx="597.3" cy="1876.4" r="12.5" fill="url(#whiteC)"/></g>
<g><circle cx="206.6" cy="1061.7" r="14.5" fill="url(#haloC)"/><circle cx="206.6" cy="1061.7" r="6.0" fill="url(#redC)"/><circle cx="303.5" cy="1088.1" r="12.5" fill="url(#haloC)"/><circle cx="303.5" cy="1088.1" r="3.2" fill="url(#redC)"/><circle cx="356.1" cy="1104.8" r="16" fill="url(#haloC)"/><circle cx="356.1" cy="1104.8" r="8.5" fill="url(#redC)"/><circle cx="365.7" cy="1121.5" r="13" fill="url(#haloC)"/><circle cx="365.7" cy="1121.5" r="4.6" fill="url(#redC)"/><circle cx="396.8" cy="1102.4" r="14.5" fill="url(#haloC)"/><circle cx="396.8" cy="1102.4" r="6.0" fill="url(#redC)"/><circle cx="423.1" cy="1059.4" r="16" fill="url(#haloC)"/><circle cx="423.1" cy="1059.4" r="8.5" fill="url(#redC)"/><circle cx="547.5" cy="1065.3" r="16" fill="url(#haloC)"/><circle cx="547.5" cy="1065.3" r="8.5" fill="url(#redC)"/><circle cx="516.4" cy="1097.6" r="14.5" fill="url(#haloC)"/><circle cx="516.4" cy="1097.6" r="6.0" fill="url(#redC)"/><circle cx="255.7" cy="1127.5" r="14.5" fill="url(#haloC)"/><circle cx="255.7" cy="1127.5" r="6.0" fill="url(#redC)"/><circle cx="448.2" cy="1127.5" r="13" fill="url(#haloC)"/><circle cx="448.2" cy="1127.5" r="4.6" fill="url(#redC)"/><circle cx="398" cy="1146.7" r="14.5" fill="url(#haloC)"/><circle cx="398" cy="1146.7" r="6.0" fill="url(#redC)"/><circle cx="518.8" cy="1143.1" r="14.5" fill="url(#haloC)"/><circle cx="518.8" cy="1143.1" r="6.0" fill="url(#redC)"/><circle cx="443.4" cy="1162.2" r="14.5" fill="url(#haloC)"/><circle cx="443.4" cy="1162.2" r="6.0" fill="url(#redC)"/><circle cx="181.5" cy="1176.5" r="14.5" fill="url(#haloC)"/><circle cx="181.5" cy="1176.5" r="6.0" fill="url(#redC)"/><circle cx="356.1" cy="1183.7" r="14.5" fill="url(#haloC)"/><circle cx="356.1" cy="1183.7" r="6.0" fill="url(#redC)"/><circle cx="414.7" cy="1199.3" r="16" fill="url(#haloC)"/><circle cx="414.7" cy="1199.3" r="8.5" fill="url(#redC)"/><circle cx="435.1" cy="1199.3" r="13" fill="url(#haloC)"/><circle cx="435.1" cy="1199.3" r="4.6" fill="url(#redC)"/><circle cx="242.5" cy="1213.6" r="14.5" fill="url(#haloC)"/><circle cx="242.5" cy="1213.6" r="6.0" fill="url(#redC)"/><circle cx="282" cy="1218.4" r="13" fill="url(#haloC)"/><circle cx="282" cy="1218.4" r="4.6" fill="url(#redC)"/><circle cx="212.6" cy="1235.1" r="14.5" fill="url(#haloC)"/><circle cx="212.6" cy="1235.1" r="6.0" fill="url(#redC)"/><circle cx="475.7" cy="1242.3" r="13" fill="url(#haloC)"/><circle cx="475.7" cy="1242.3" r="4.6" fill="url(#redC)"/><circle cx="188.7" cy="1273.4" r="14.5" fill="url(#haloC)"/><circle cx="188.7" cy="1273.4" r="6.0" fill="url(#redC)"/><circle cx="313.1" cy="1274.6" r="13" fill="url(#haloC)"/><circle cx="313.1" cy="1274.6" r="4.6" fill="url(#redC)"/><circle cx="338.2" cy="1273.4" r="13" fill="url(#haloC)"/><circle cx="338.2" cy="1273.4" r="4.6" fill="url(#redC)"/><circle cx="357.3" cy="1286.6" r="12.5" fill="url(#haloC)"/><circle cx="357.3" cy="1286.6" r="3.2" fill="url(#redC)"/><circle cx="535.5" cy="1272.2" r="12.5" fill="url(#haloC)"/><circle cx="535.5" cy="1272.2" r="3.2" fill="url(#redC)"/><circle cx="254.5" cy="1291.4" r="14.5" fill="url(#haloC)"/><circle cx="254.5" cy="1291.4" r="6.0" fill="url(#redC)"/><circle cx="224.6" cy="1304.5" r="12.5" fill="url(#haloC)"/><circle cx="224.6" cy="1304.5" r="3.2" fill="url(#redC)"/><circle cx="277.2" cy="1315.3" r="12.5" fill="url(#haloC)"/><circle cx="277.2" cy="1315.3" r="3.2" fill="url(#redC)"/><circle cx="339.4" cy="1309.3" r="14.5" fill="url(#haloC)"/><circle cx="339.4" cy="1309.3" r="6.0" fill="url(#redC)"/><circle cx="429.1" cy="1311.7" r="13" fill="url(#haloC)"/><circle cx="429.1" cy="1311.7" r="4.6" fill="url(#redC)"/><circle cx="509.2" cy="1335.6" r="14.5" fill="url(#haloC)"/><circle cx="509.2" cy="1335.6" r="6.0" fill="url(#redC)"/><circle cx="545.1" cy="1310.5" r="12.5" fill="url(#haloC)"/><circle cx="545.1" cy="1310.5" r="3.2" fill="url(#redC)"/><circle cx="244.9" cy="1344" r="13" fill="url(#haloC)"/><circle cx="244.9" cy="1344" r="4.6" fill="url(#redC)"/><circle cx="310.7" cy="1361.9" r="14.5" fill="url(#haloC)"/><circle cx="310.7" cy="1361.9" r="6.0" fill="url(#redC)"/><circle cx="420.7" cy="1365.5" r="14.5" fill="url(#haloC)"/><circle cx="420.7" cy="1365.5" r="6.0" fill="url(#redC)"/><circle cx="542.7" cy="1375.1" r="14.5" fill="url(#haloC)"/><circle cx="542.7" cy="1375.1" r="6.0" fill="url(#redC)"/><circle cx="268.8" cy="1382.2" r="13" fill="url(#haloC)"/><circle cx="268.8" cy="1382.2" r="4.6" fill="url(#redC)"/><circle cx="370.5" cy="1397.8" r="14.5" fill="url(#haloC)"/><circle cx="370.5" cy="1397.8" r="6.0" fill="url(#redC)"/><circle cx="499.6" cy="1419.3" r="14.5" fill="url(#haloC)"/><circle cx="499.6" cy="1419.3" r="6.0" fill="url(#redC)"/><circle cx="328.6" cy="1418.1" r="14.5" fill="url(#haloC)"/><circle cx="328.6" cy="1418.1" r="6.0" fill="url(#redC)"/><circle cx="290.4" cy="1428.9" r="14.5" fill="url(#haloC)"/><circle cx="290.4" cy="1428.9" r="6.0" fill="url(#redC)"/><circle cx="366.9" cy="1431.3" r="14.5" fill="url(#haloC)"/><circle cx="366.9" cy="1431.3" r="6.0" fill="url(#redC)"/><circle cx="259.3" cy="1442" r="14.5" fill="url(#haloC)"/><circle cx="259.3" cy="1442" r="6.0" fill="url(#redC)"/><circle cx="222.2" cy="1460" r="13" fill="url(#haloC)"/><circle cx="222.2" cy="1460" r="4.6" fill="url(#redC)"/><circle cx="294.1" cy="1475" r="13" fill="url(#haloC)"/><circle cx="294.1" cy="1475" r="4.6" fill="url(#redC)"/><circle cx="325.4" cy="1481.3" r="16" fill="url(#haloC)"/><circle cx="325.4" cy="1481.3" r="8.5" fill="url(#redC)"/><circle cx="252.7" cy="1517.6" r="14.5" fill="url(#haloC)"/><circle cx="252.7" cy="1517.6" r="6.0" fill="url(#redC)"/><circle cx="296.6" cy="1511.3" r="14.5" fill="url(#haloC)"/><circle cx="296.6" cy="1511.3" r="6.0" fill="url(#redC)"/><circle cx="385.5" cy="1497.6" r="12.5" fill="url(#haloC)"/><circle cx="385.5" cy="1497.6" r="3.2" fill="url(#redC)"/><circle cx="425.6" cy="1516.4" r="13" fill="url(#haloC)"/><circle cx="425.6" cy="1516.4" r="4.6" fill="url(#redC)"/><circle cx="502" cy="1505.1" r="13" fill="url(#haloC)"/><circle cx="502" cy="1505.1" r="4.6" fill="url(#redC)"/><circle cx="539.6" cy="1493.8" r="14.5" fill="url(#haloC)"/><circle cx="539.6" cy="1493.8" r="6.0" fill="url(#redC)"/><circle cx="249" cy="1559" r="12.5" fill="url(#haloC)"/><circle cx="249" cy="1559" r="3.2" fill="url(#redC)"/><circle cx="395.5" cy="1559" r="14.5" fill="url(#haloC)"/><circle cx="395.5" cy="1559" r="6.0" fill="url(#redC)"/><circle cx="466.9" cy="1559" r="14.5" fill="url(#haloC)"/><circle cx="466.9" cy="1559" r="6.0" fill="url(#redC)"/><circle cx="570.9" cy="1570.2" r="16" fill="url(#haloC)"/><circle cx="570.9" cy="1570.2" r="8.5" fill="url(#redC)"/><circle cx="238.9" cy="1590.3" r="13" fill="url(#haloC)"/><circle cx="238.9" cy="1590.3" r="4.6" fill="url(#redC)"/><circle cx="285.3" cy="1599" r="12.5" fill="url(#haloC)"/><circle cx="285.3" cy="1599" r="3.2" fill="url(#redC)"/><circle cx="368" cy="1602.8" r="14.5" fill="url(#haloC)"/><circle cx="368" cy="1602.8" r="6.0" fill="url(#redC)"/><circle cx="440.6" cy="1631.6" r="13" fill="url(#haloC)"/><circle cx="440.6" cy="1631.6" r="4.6" fill="url(#redC)"/><circle cx="464.4" cy="1621.6" r="13" fill="url(#haloC)"/><circle cx="464.4" cy="1621.6" r="4.6" fill="url(#redC)"/><circle cx="389.3" cy="1656.7" r="14.5" fill="url(#haloC)"/><circle cx="389.3" cy="1656.7" r="6.0" fill="url(#redC)"/><circle cx="320.4" cy="1673" r="13" fill="url(#haloC)"/><circle cx="320.4" cy="1673" r="4.6" fill="url(#redC)"/><circle cx="507" cy="1670.5" r="13" fill="url(#haloC)"/><circle cx="507" cy="1670.5" r="4.6" fill="url(#redC)"/><circle cx="544.6" cy="1667.9" r="13" fill="url(#haloC)"/><circle cx="544.6" cy="1667.9" r="4.6" fill="url(#redC)"/><circle cx="175" cy="1680.5" r="13" fill="url(#haloC)"/><circle cx="175" cy="1680.5" r="4.6" fill="url(#redC)"/><circle cx="220.1" cy="1695.5" r="13" fill="url(#haloC)"/><circle cx="220.1" cy="1695.5" r="4.6" fill="url(#redC)"/><circle cx="271.5" cy="1706.8" r="13" fill="url(#haloC)"/><circle cx="271.5" cy="1706.8" r="4.6" fill="url(#redC)"/><circle cx="197.6" cy="1740.6" r="12.5" fill="url(#haloC)"/><circle cx="197.6" cy="1740.6" r="3.2" fill="url(#redC)"/><circle cx="347.9" cy="1744.4" r="16" fill="url(#haloC)"/><circle cx="347.9" cy="1744.4" r="8.5" fill="url(#redC)"/><circle cx="493.2" cy="1745.6" r="16" fill="url(#haloC)"/><circle cx="493.2" cy="1745.6" r="8.5" fill="url(#redC)"/><circle cx="276.5" cy="1758.1" r="12.5" fill="url(#haloC)"/><circle cx="276.5" cy="1758.1" r="3.2" fill="url(#redC)"/><circle cx="509.5" cy="1785.7" r="13" fill="url(#haloC)"/><circle cx="509.5" cy="1785.7" r="4.6" fill="url(#redC)"/><circle cx="555.9" cy="1803.2" r="16" fill="url(#haloC)"/><circle cx="555.9" cy="1803.2" r="8.5" fill="url(#redC)"/><circle cx="569.7" cy="1822" r="14.5" fill="url(#haloC)"/><circle cx="569.7" cy="1822" r="6.0" fill="url(#redC)"/><circle cx="191.3" cy="1829.6" r="14.5" fill="url(#haloC)"/><circle cx="191.3" cy="1829.6" r="6.0" fill="url(#redC)"/><circle cx="440.6" cy="1824.5" r="13" fill="url(#haloC)"/><circle cx="440.6" cy="1824.5" r="4.6" fill="url(#redC)"/><circle cx="369.2" cy="1864.6" r="14.5" fill="url(#haloC)"/><circle cx="369.2" cy="1864.6" r="6.0" fill="url(#redC)"/><circle cx="450.7" cy="1872.2" r="13" fill="url(#haloC)"/><circle cx="450.7" cy="1872.2" r="4.6" fill="url(#redC)"/><circle cx="297.8" cy="1888.4" r="13" fill="url(#haloC)"/><circle cx="297.8" cy="1888.4" r="4.6" fill="url(#redC)"/><circle cx="170" cy="1577.7" r="13" fill="url(#haloC)"/><circle cx="170" cy="1577.7" r="4.6" fill="url(#redC)"/><circle cx="715" cy="1529.6" r="14.5" fill="url(#haloC)"/><circle cx="715" cy="1529.6" r="6.0" fill="url(#redC)"/><circle cx="734.8" cy="1532.1" r="14.5" fill="url(#haloC)"/><circle cx="734.8" cy="1532.1" r="6.0" fill="url(#redC)"/><circle cx="665.5" cy="1563.1" r="13" fill="url(#haloC)"/><circle cx="665.5" cy="1563.1" r="4.6" fill="url(#redC)"/><circle cx="691.5" cy="1561.8" r="16" fill="url(#haloC)"/><circle cx="691.5" cy="1561.8" r="8.5" fill="url(#redC)"/><circle cx="791.8" cy="1524.7" r="12.5" fill="url(#haloC)"/><circle cx="791.8" cy="1524.7" r="3.2" fill="url(#redC)"/><circle cx="793" cy="1548.2" r="12.5" fill="url(#haloC)"/><circle cx="793" cy="1548.2" r="3.2" fill="url(#redC)"/><circle cx="832.7" cy="1566.8" r="14.5" fill="url(#haloC)"/><circle cx="832.7" cy="1566.8" r="6.0" fill="url(#redC)"/><circle cx="960.3" cy="1549.5" r="14.5" fill="url(#haloC)"/><circle cx="960.3" cy="1549.5" r="6.0" fill="url(#redC)"/><circle cx="746" cy="1596.5" r="16" fill="url(#haloC)"/><circle cx="746" cy="1596.5" r="8.5" fill="url(#redC)"/><circle cx="830.2" cy="1600.2" r="13" fill="url(#haloC)"/><circle cx="830.2" cy="1600.2" r="4.6" fill="url(#redC)"/><circle cx="689" cy="1610.1" r="13" fill="url(#haloC)"/><circle cx="689" cy="1610.1" r="4.6" fill="url(#redC)"/><circle cx="711.3" cy="1633.7" r="12.5" fill="url(#haloC)"/><circle cx="711.3" cy="1633.7" r="3.2" fill="url(#redC)"/><circle cx="754.6" cy="1634.9" r="13" fill="url(#haloC)"/><circle cx="754.6" cy="1634.9" r="4.6" fill="url(#redC)"/><circle cx="799.2" cy="1627.5" r="14.5" fill="url(#haloC)"/><circle cx="799.2" cy="1627.5" r="6.0" fill="url(#redC)"/><circle cx="838.9" cy="1647.3" r="13" fill="url(#haloC)"/><circle cx="838.9" cy="1647.3" r="4.6" fill="url(#redC)"/><circle cx="892.1" cy="1658.5" r="14.5" fill="url(#haloC)"/><circle cx="892.1" cy="1658.5" r="6.0" fill="url(#redC)"/><circle cx="981.3" cy="1660.9" r="14.5" fill="url(#haloC)"/><circle cx="981.3" cy="1660.9" r="6.0" fill="url(#redC)"/><circle cx="589.9" cy="1662.2" r="13" fill="url(#haloC)"/><circle cx="589.9" cy="1662.2" r="4.6" fill="url(#redC)"/><circle cx="724.9" cy="1670.8" r="14.5" fill="url(#haloC)"/><circle cx="724.9" cy="1670.8" r="6.0" fill="url(#redC)"/><circle cx="802.9" cy="1680.7" r="14.5" fill="url(#haloC)"/><circle cx="802.9" cy="1680.7" r="6.0" fill="url(#redC)"/><circle cx="765.8" cy="1690.7" r="13" fill="url(#haloC)"/><circle cx="765.8" cy="1690.7" r="4.6" fill="url(#redC)"/><circle cx="881" cy="1695.6" r="14.5" fill="url(#haloC)"/><circle cx="881" cy="1695.6" r="6.0" fill="url(#redC)"/><circle cx="925.6" cy="1683.2" r="16" fill="url(#haloC)"/><circle cx="925.6" cy="1683.2" r="8.5" fill="url(#redC)"/><circle cx="848.8" cy="1703" r="12.5" fill="url(#haloC)"/><circle cx="848.8" cy="1703" r="3.2" fill="url(#redC)"/><circle cx="586.2" cy="1709.2" r="14.5" fill="url(#haloC)"/><circle cx="586.2" cy="1709.2" r="6.0" fill="url(#redC)"/><circle cx="793" cy="1717.9" r="14.5" fill="url(#haloC)"/><circle cx="793" cy="1717.9" r="6.0" fill="url(#redC)"/><circle cx="851.3" cy="1725.3" r="14.5" fill="url(#haloC)"/><circle cx="851.3" cy="1725.3" r="6.0" fill="url(#redC)"/><circle cx="601.1" cy="1731.5" r="13" fill="url(#haloC)"/><circle cx="601.1" cy="1731.5" r="4.6" fill="url(#redC)"/><circle cx="774.5" cy="1736.5" r="14.5" fill="url(#haloC)"/><circle cx="774.5" cy="1736.5" r="6.0" fill="url(#redC)"/><circle cx="883.5" cy="1741.4" r="13" fill="url(#haloC)"/><circle cx="883.5" cy="1741.4" r="4.6" fill="url(#redC)"/><circle cx="935.5" cy="1737.7" r="14.5" fill="url(#haloC)"/><circle cx="935.5" cy="1737.7" r="6.0" fill="url(#redC)"/><circle cx="666.7" cy="1734" r="12.5" fill="url(#haloC)"/><circle cx="666.7" cy="1734" r="3.2" fill="url(#redC)"/><circle cx="707.6" cy="1777.4" r="13" fill="url(#haloC)"/><circle cx="707.6" cy="1777.4" r="4.6" fill="url(#redC)"/><circle cx="981.3" cy="1760" r="14.5" fill="url(#haloC)"/><circle cx="981.3" cy="1760" r="6.0" fill="url(#redC)"/><circle cx="936.7" cy="1766.2" r="13" fill="url(#haloC)"/><circle cx="936.7" cy="1766.2" r="4.6" fill="url(#redC)"/><circle cx="900.8" cy="1784.8" r="13" fill="url(#haloC)"/><circle cx="900.8" cy="1784.8" r="4.6" fill="url(#redC)"/><circle cx="842.6" cy="1807.1" r="13" fill="url(#haloC)"/><circle cx="842.6" cy="1807.1" r="4.6" fill="url(#redC)"/><circle cx="889.7" cy="1821.9" r="13" fill="url(#haloC)"/><circle cx="889.7" cy="1821.9" r="4.6" fill="url(#redC)"/><circle cx="954.1" cy="1817" r="16" fill="url(#haloC)"/><circle cx="954.1" cy="1817" r="8.5" fill="url(#redC)"/><circle cx="788.1" cy="1838" r="13" fill="url(#haloC)"/><circle cx="788.1" cy="1838" r="4.6" fill="url(#redC)"/><circle cx="970.2" cy="1854.1" r="14.5" fill="url(#haloC)"/><circle cx="970.2" cy="1854.1" r="6.0" fill="url(#redC)"/><circle cx="681.6" cy="1870.3" r="13" fill="url(#haloC)"/><circle cx="681.6" cy="1870.3" r="4.6" fill="url(#redC)"/><circle cx="715" cy="1878.9" r="13" fill="url(#haloC)"/><circle cx="715" cy="1878.9" r="4.6" fill="url(#redC)"/><circle cx="770.7" cy="1878.9" r="14.5" fill="url(#haloC)"/><circle cx="770.7" cy="1878.9" r="6.0" fill="url(#redC)"/><circle cx="853.7" cy="1862.8" r="13" fill="url(#haloC)"/><circle cx="853.7" cy="1862.8" r="4.6" fill="url(#redC)"/></g>
</g>
<rect x="560" y="1054" width="447" height="448" fill="#000"/>
<path d="M785.4 1289.9v1.8M847.8 1190.6h1.3M706.1 1293.6v1.3M831.7 1305.4v1.5M782 1236.4h1.5M798.9 1332.8v1.1M761.9 1385.2h1.1M782.4 1273.5v0.6M715.6 1323.3l1.6 0.7M753.8 1272.4l0.6 1.3M873.8 1274.2v1.6M777.6 1247.9v1.3M834.9 1325.8h2.2M795.9 1317.8l0.4 1.4M773.2 1331.2h0.6M746.2 1250.6h0.8M862.8 1268.2v0.7M775 1216.3v1.1M735.4 1271.5l1.3 0.3M857.9 1279.4v1.1M801.7 1161.4h2.2M770.2 1369.3h0.0M833.2 1188.9v1.6M770.1 1220.5v1.2M709.2 1263.7l1.9 2.0M825.1 1196.7h0.7M760.6 1277.8l2.0 0.3M794.8 1295.6h0.3M737.1 1294.4v2.0M820.4 1256.2l2.0 0.9M768.5 1340.2v0.1M794.1 1257.7v1.3M761.4 1307.2v0.8M787.7 1245.7v0.6M759.6 1327.9v1.1M780 1226.4h0.9M762.1 1254v1.4M717.3 1264.5v0.6M839 1245.1v0.8M734.4 1323.7h1.3M835.9 1334.2v0.5M757.5 1374.4l1.9 0.8M729.2 1294.2l1.0 1.7M735.8 1280.8v0.8M777.3 1271.7l1.5 0.7M764.6 1297.5v2.0M835.3 1220.6l0.7 1.2M894.9 1353.8h2.2M764.5 1257.6v1.7M724.3 1249.2l0.6 0.7M763.3 1179.9v1.5M724.2 1254.1h0.4M849.9 1268v0.0M821.8 1276.2h0.7M707.2 1282h1.7M729.2 1285.5l2.0 0.5M751.7 1299.4v0.9M752.6 1261.9h1.9M750.1 1275.3h1.0M768.3 1270.8v1.4M757.2 1214.9l0.1 1.8M803.3 1322.8v1.2M840.8 1248.8v1.4M765.6 1327.1l0.4 1.7M763.5 1278.7v1.8M770.9 1275.9l0.6 0.4M833.8 1285.3v0.1M762.9 1262.6h2.1M804.6 1328.7v0.3M718.2 1336v0.1M830.8 1339.1h1.9M753.9 1264.5v0.7M736 1268.6l1.3 0.9M716.1 1242.4l1.3 0.7M732.8 1272.7l0.6 0.9M849.1 1316.3l0.5 0.3M706.9 1354.3h0.0M780.2 1257.7h0.8M836.4 1346.1h2.4M781.2 1371.9l0.5 1.3M785.1 1308v1.7M813.3 1298.5l1.2 1.2M795.4 1244.5h1.0M749.3 1243.1l0.3 0.4M734.8 1254.7l0.6 1.9M802.3 1341.3v0.1M816.8 1305.7l0.7 0.1M813.4 1364.3l1.4 0.7M767.4 1228.1v1.8M741.4 1294.7l0.2 1.4M735.9 1333.6l1.4 1.7M763.1 1335.4h2.3M767.6 1265.8h0.3M726.2 1300.4h0.7M836.9 1257.5l1.1 1.2M735.8 1231.5h0.9M753.3 1251.6l0.1 0.4M781.7 1246.5h2.1M749.2 1291.4l1.7 0.0M723.4 1235.6v1.5M731.6 1280.1v1.4M792.7 1346.6v0.9M782.3 1234.5h1.8M818.1 1322.6l1.5 1.5M814.4 1307.9h0.8M789.3 1248.1v1.4M816.9 1294.8l1.5 0.7M860.9 1341.2h0.4M857.4 1298.1v1.5M824.5 1231.4v1.7M829.5 1285.9h1.8M694.6 1288l1.0 0.7M740.6 1325.9l1.3 1.9M708.8 1270.6v0.8M767.4 1220.6l1.8 0.4M800.5 1317l1.4 1.9M737.8 1325.1h1.3M719.1 1287.8l0.2 1.3M692.7 1274.5h0.7M847.9 1370.5v1.1M720.9 1312.4h1.3M754.2 1299.1v0.9M826.8 1290.3v1.2M851.7 1277.1l1.4 0.6M761.4 1242.2h2.4M782.6 1356.8h0.8M755.3 1287.3v0.5M719.6 1281.8l1.2 0.9M755.6 1238.9l1.1 1.0M756.1 1273h2.4M752.3 1304v1.1M774.7 1295.3v1.9M774.2 1279l1.8 1.1M793.8 1276.8l1.3 0.7M734.7 1276.5v1.1M729.5 1376.8l1.5 0.9M818.1 1269.5h1.4M726.3 1268.7l0.1 1.9M691.2 1282.3h0.0M828 1295.5l0.7 1.8M745.2 1314.3v0.1M701.5 1273.5h2.0M793.9 1287.9v0.6M721.5 1168.7v0.2M812 1383.9v1.0M822.9 1315.1l0.5 0.2M766.3 1322.4h1.1M718.2 1271.6h2.4M757.2 1368.1v1.2M776.1 1269.7l1.8 1.6M837.6 1336.3h1.8M826.7 1235.1v0.0M899.5 1236.1h1.2M809.8 1255.4v1.8M772.5 1332.1l0.1 0.4M743.3 1290.2h0.9M836.9 1273.2l1.0 0.1M777.4 1305.3h1.1M847 1396.5v1.8M836.9 1225.1v1.1M804.3 1232.5h0.2M820.1 1350.5v0.9M826.4 1247.2v0.6M836.7 1197l1.6 1.0M775.6 1257.4l0.9 1.0M828.8 1329l1.1 0.5M720.6 1286.3l1.8 0.2M848.9 1222.8h2.0M733.7 1308.5l1.5 1.2M803.3 1355.2l0.6 0.9M709.8 1347.9v2.0M767.7 1295.6h0.3M820.1 1395.1l1.1 2.0M763.3 1351.8l1.8 1.8M809.3 1307.2v1.2M764.9 1301.7l1.7 0.3M751.6 1300.3v1.3M832.8 1279.8v1.6M728.1 1318.3l0.3 0.7M749.9 1356.6l0.6 0.2M820.2 1329.9v0.7M793 1297.6v0.7M783.8 1234.8v0.4M801.2 1305.4v1.3M737.6 1254.2h2.4M848.6 1315.2h2.4M747 1275.5l1.2 1.2M715.6 1195.2h2.2M837 1278.7h0.7M677.6 1285.8l0.8 0.2M743.4 1265.6v1.1M836.2 1218.6h1.9M794.2 1263.6h0.8M880.4 1250.8h1.3M772.3 1256.8h1.0M863.4 1277.8l0.2 1.5M753.8 1281.5h0.2M841.9 1300.6l1.4 0.4M716.3 1313.2l0.7 0.9M724.4 1270.3v0.6M767.4 1258.2l1.0 2.0M856.1 1252.5v1.3M772.7 1349.2h0.1M760.8 1235.3h1.6M747.4 1224.4v1.9M785.4 1236.5h1.3M781.4 1281.4v0.8M774.1 1295.9h1.6M783.6 1323.9h0.6M796.5 1300.1v0.5M808.5 1296.8v1.9M741 1294.5h1.7M817.3 1305.5l1.3 0.3M769.7 1330.9h0.2M785.9 1328.3h0.8M831.7 1305v0.1M814.6 1264.2h1.6M824.9 1283.7h0.6M812.9 1215.9v0.4M876 1332.7h2.4M764.6 1221.8l1.3 0.5M837.6 1399.9l1.2 1.8M829.7 1308l0.6 0.0M798.6 1367.4h0.3M691.8 1220.7l1.3 0.0M805.5 1287l1.8 1.1M817.4 1301.2v0.5M873.3 1263.3h0.1M787.9 1335.9v1.3M757.9 1287.1h0.1M866.1 1249.8h2.1M840.1 1261.7h0.3M765.3 1343.8v1.8M826.4 1385.9l0.7 1.5M744.3 1192.2v1.9M744 1235.9h1.6M800 1364.6v1.3M732.7 1289.2v0.7M795.6 1255.6h1.2M767.3 1301.9h2.1M780.2 1200.3v0.6M751.6 1270.6h1.9M705.9 1348.2h1.7M780.7 1273.6h1.5M806.3 1333.9h1.4M779.1 1292.3l1.2 1.5M816.7 1235.5v0.9M830.1 1337.3v0.9M816.5 1237.8v1.0M744.6 1236.2v0.0M761.4 1290.3h1.6M804.8 1359.5l0.1 1.2M769.3 1293.4h0.3M798.2 1325.7h1.1M802.9 1190.1v0.4M821.2 1242.8v0.9M730.1 1253.2l1.8 0.4M781.7 1332.3v1.8M843.9 1248.8v1.7M764.1 1331.8l0.2 0.1M782.8 1280.8h2.2M818.8 1306.6v0.6M813.5 1279.3l1.7 0.3M795.4 1251.6l0.3 1.6M722.7 1316.9v1.6M773.1 1246.2l1.2 1.4M733.4 1313.9l2.0 1.4M739.2 1283.1l1.9 1.4M635.8 1280.9h0.3M769.1 1289.4h2.1M778.5 1347.5l1.9 1.1M853.8 1317.4h1.7M912.4 1249h1.8M803.9 1287.5v1.1M774.3 1309.6h2.0M837.4 1297.9l0.3 0.6M823.8 1295.5v1.0M795.5 1219.1h2.0M811.7 1260.1l0.6 0.2M804.5 1310.9l0.5 1.9M768.7 1292.3l1.2 1.2M814.9 1240.3h1.7M825 1291.5l1.7 1.1M741 1276h0.2M713.2 1255.3h2.4M731.5 1298.5v1.1M740.3 1264.1h1.5M705.1 1354.4l0.9 0.6M800.1 1310.4h0.9M796.1 1188v0.2M805.8 1312.9h0.7M753.5 1255h0.4M743.6 1314.2l1.4 1.2M783.8 1281.3h0.9M759.1 1320.9l1.5 0.8M820.3 1316.5l0.6 1.0M848.1 1289l0.9 0.5M747.9 1312.7l0.2 0.6M779.6 1287.9v1.3M819.1 1225.9l0.5 1.8M731.4 1315.6v0.7M828.4 1272.7l1.0 1.9M792.9 1290.5l1.4 1.4M809.2 1305l2.0 0.4M798.8 1286.4h0.4M846.9 1327.2h2.1M735.1 1285.3v1.0M752.7 1299.3v1.1M830.7 1345.5h2.2M787.2 1290.2v1.6M844 1341.3l1.0 1.0M789.6 1295.1l1.7 1.6M744.5 1338.9l1.6 0.4M742.1 1323.6h0.3M808.7 1302.1h2.3M829 1319.3v1.4M778.7 1291.6v0.1M737.6 1373.8h0.7M776.8 1307.4h1.4M784.5 1286.2h0.5M755.3 1205h1.4M784.5 1240.1h0.4M809.3 1248.8l1.3 1.6M784.7 1256.6l1.1 0.3M820.7 1325.4l0.0 1.1M799.1 1305.5h2.5M809 1213.5v1.9M796.8 1297.1l0.2 0.3M785.5 1269.5l0.5 1.0M820.3 1266.2h0.4M785.9 1282.6h2.0M690.5 1216.6l1.3 0.2M749.1 1351.1h1.8M783.8 1285.8h1.3M740.9 1329.7l1.7 0.8M815.1 1273.8v1.2M681.7 1360.3l1.8 0.2M780.3 1405.1v1.0M799.7 1304.4h0.7M798.8 1284.4v1.6M755.7 1237.9l0.7 0.3M720.8 1226.2l1.1 1.1M723.1 1357.8h1.5M821.9 1289.5v1.9M793.6 1340.5h0.1M758.7 1250h1.0M770.1 1325l0.6 1.4M713.6 1244.7h1.3M874.3 1191.6l1.5 1.1M754.3 1267.3h0.4M819.5 1330v0.2M669.7 1307.7l0.8 1.6M767 1216.3h1.4M794.3 1219h1.6M776.1 1297.2v1.5M820.3 1306.9h1.2M728.9 1259.5l0.7 0.2M768.7 1361.5l0.5 0.1M752.4 1249.7l1.3 0.6M763.3 1235.5v1.4M824.1 1234h1.7M830.2 1388.3v0.8M735 1233.5l0.4 0.8M806.3 1273h1.3M789.4 1271.6v1.2M834 1235.3l0.6 0.0M781.8 1292.8v1.4M731.9 1333.1v0.3M744.4 1295.2l1.4 1.5M752.4 1298.7v1.5M757.9 1257.6l0.6 1.7M767.8 1397v2.0M864.8 1304.6l1.4 0.4M819.8 1283.7h1.2M722.6 1263.6h0.2M714 1256.3l0.5 0.9M807.8 1279.3l0.3 1.1M764 1193.3l1.2 1.7M778.7 1356.2h2.0M844.2 1352.1v0.6M727.4 1229.2l1.2 0.3M884.8 1285.9v0.9M804.7 1278.8l1.8 0.5M873.3 1216.2h0.9M706.1 1269.6h1.6M714 1313.4v0.4M752.4 1315.2l1.1 0.9M736.3 1309.6l0.7 1.1M790.6 1286.3h0.4M714.7 1352.6v1.8M808.6 1357.1l0.2 1.7M898 1298.8h1.3M779.1 1336.6v1.5M775.6 1369.9v1.3M755.3 1264.2h1.6M706.9 1309.3v0.5M782.1 1258.2l1.6 0.6M656.2 1315.4h1.9M678.7 1306.2v1.4M806 1335.2l1.5 0.3M795.4 1303.8v0.2M752.6 1288.4v1.4M763.7 1221.9v0.6M809.2 1265.4h0.4M709.5 1287.9v1.2M786.9 1269.6l0.4 0.7M832.1 1301.2l0.8 0.8M697 1293.7h0.3M793 1319.5h0.1M741 1304l1.4 0.1M899.9 1232.4h1.8M821.8 1280.2l1.4 1.3M803.2 1272h0.3M823.6 1339.8v0.8M783.6 1228.6v0.8M800.7 1221.4v1.4M784.1 1234.2v0.4M771.7 1289h0.7M776.7 1295.9h1.3M753.6 1298.4v1.5M787.6 1241.3l0.8 1.9M780.5 1162.8v0.2M809.2 1369.8h1.4M706.7 1199.3l1.4 1.8M802.5 1245v0.5M754 1339v1.1M840.7 1194.3v1.6M762.5 1285.2h1.7M771.6 1353l0.1 1.6M734.9 1217.5v1.9M740.8 1318.6v0.9M740.4 1243.2l1.6 1.3M768.3 1282.4l0.1 1.1M799.2 1332.2h1.1M686.2 1287h2.2M691.9 1290.4l1.3 0.9M758.6 1323.4v0.0M677.7 1239.7h1.1M720.9 1395.1v0.1M843.9 1262.7v0.4M785.1 1276.2l1.4 0.8M766.8 1288h0.1M759.6 1267.1v0.2M798.9 1257.6v1.6M844.6 1266.1v0.3M859.7 1233.9l0.3 0.5M778.2 1253.3h1.3M744.1 1335.4l1.0 0.3M772.6 1333.7h2.4M896.6 1304.1l1.8 1.8M743.4 1237.4v1.4M750.4 1205.2v1.4M883.9 1364h0.2M774.7 1384.5l0.9 0.7M734.6 1254.3v1.5M769.3 1269.3l1.6 0.6M778.2 1273v0.8M687.8 1261.1v0.2M793 1316.5l1.5 0.7M807.7 1268.6l1.3 1.8M849.5 1295.3l0.5 0.9M686.2 1243h2.0M817.4 1299.8v0.7M903.4 1325.8v0.4M807.2 1284.2l1.0 1.1M761.4 1218.7h0.1M823.8 1240.8l1.4 1.2M765.1 1329.6h0.9M725.6 1260.6v1.9M716.8 1330.3l1.2 1.6M737.7 1262.9v0.5M722.6 1211.9l1.2 1.9M753.2 1327.1v0.7M832.5 1322l0.8 0.5M711.3 1336.5h1.6M829.4 1242.8l0.6 0.0M769.8 1300.2l0.1 0.5M774.8 1244.7l1.4 1.1M857.3 1293.9l1.7 0.9M791.2 1299.2l2.0 0.3M815.6 1257.4v0.6M833.8 1278.8h0.2M770.8 1264.9h2.1M785.2 1292.2v1.0M755.6 1322.7v0.3M795.8 1202v0.5M826.4 1212.2l1.2 1.1M813.6 1328h0.4M769.2 1306.9v0.3M810.9 1287.9l1.3 1.6M758 1240.5v0.8M822 1325.6l1.4 0.8M758.6 1205.5l0.9 0.4M817.3 1307.1h2.2M857.5 1242.8l1.2 1.4M846.6 1207.1l1.9 1.6M831.9 1328.7l0.4 1.7M795.2 1302.9h2.5M797.1 1262.7v0.2M782.9 1309.6l1.6 1.5M768.3 1228.6h0.6M788.4 1252.2h1.3M816.7 1207.5v0.7M814.1 1297.3v1.7M712.6 1284.1l0.1 0.7" stroke="#ffffff" stroke-width="2.6" stroke-linecap="round" fill="none"/>
<path d="M814.9 1236.7l1.3 0.8M776.2 1312.9h1.9M775.7 1362.3h1.0M759 1293.4l0.5 1.6M854.8 1244.2l0.4 0.7M816.9 1304.1h1.6M841.7 1265.8l1.7 0.8M790.6 1294.2h0.3M777.2 1259.8l1.8 0.0M750 1198.7h0.9M741.4 1293.1v1.5M785.4 1306.9l1.6 0.1M743.6 1257.9l1.6 0.3M793.4 1311.1v1.1M778.5 1202.6l1.4 0.5M718.5 1304.4l1.2 0.3M768.9 1304.4l1.5 0.6M829 1289.6h2.0M770.5 1260.4l1.3 1.4M770.5 1246.5l1.7 0.2M796.4 1313.8h0.9M821 1400v0.4M807.6 1314.8v1.5M788.6 1228h1.5M792.2 1319v1.0M733.8 1303.3v0.6M730.2 1256.6v0.1M702.8 1213.3v0.1M821.1 1324.4v0.0M780.6 1285.2h0.0M810.6 1311.9h0.3M712.2 1322.4v0.8M826.6 1293.2v1.1M783.1 1316.5l1.0 0.1M772.1 1286.6h2.1M794.1 1347.8l1.9 0.6M749 1241h0.0M821.7 1250.6v1.9M706.3 1267.8l1.1 0.3M790.9 1304.3v0.2M804.2 1314.5l1.1 1.9M848.9 1318.2l0.9 1.8M734.3 1301.8h1.2M838.3 1325.3h1.7M771.2 1319.4l1.7 1.2M811.5 1262.8h1.3M734.4 1307.3l0.7 0.5M791 1297.6h2.4M835.3 1244.6h1.2M777.8 1321l1.5 2.0M780 1214.8v1.6M747.4 1204h1.7M724.3 1339.5l1.1 1.9M708 1304.5l0.0 1.7M835.7 1298.5h1.4M760.2 1272.9h1.9M819.5 1287.7h0.7M749.6 1212.2h1.3M784.2 1294l1.6 1.8M814.4 1267.9l1.5 1.6M856.1 1312.3v0.9M791.8 1290.4h1.7M768.1 1330.3l1.2 1.0M823 1260h2.3M797.6 1210.2v1.6M743.3 1259.8l0.3 1.2M699.1 1352.3v1.5M771.9 1292.3h1.7M831.7 1183v1.5M857.9 1290.5v0.2M807.8 1238.9v1.0M830.5 1250.4l0.9 1.5M796.9 1296l1.1 0.1M790.2 1300.3l1.4 1.8M849.6 1308.5h2.5M822.2 1255.4h2.3M764.6 1242.2h2.4M726.7 1302.6h1.3M815.8 1287.7h1.5M848.1 1243.2h2.4M833.4 1303.7l0.2 0.8M744.3 1272.2v0.2M797.9 1266.7h2.0M790.1 1315.4h1.2M845.1 1274.8l1.0 2.0M806.6 1285.4v1.6M784.6 1289.5h1.2M846.2 1246.5h0.9M798.8 1296.5l0.7 0.9M812.1 1242.6v1.7M780.3 1245.3h0.9M743.8 1278.7l0.9 1.3M675.8 1267v1.2M715.1 1321.3l0.8 1.1M886.8 1294.6h0.9M890.8 1216.2v0.6M737.5 1279l0.9 0.7M764 1273.6v0.7M704 1269h2.0M773.5 1304.9v0.5M798.8 1283.4h1.4M801 1221.2h1.1M858.1 1269.5l0.5 1.1M827.4 1233.4l1.2 1.2M832.4 1277.9l1.2 1.5M794.9 1295.6v0.3M767.8 1271.8h0.5M831.5 1284.8l1.0 0.0M777.4 1240.5h1.1M759.4 1308.7l0.7 1.0M803.3 1235.3h2.1M801.5 1267.3h1.4M826.3 1362.8v1.5M799.8 1260.4v1.6M752.1 1286.4l1.9 1.2M699.8 1256.7h1.7M817.8 1303.3v1.9M805.9 1263h1.6M781.3 1302.2v0.2M751.8 1340.8v1.7M747.8 1252.5v1.2M834.7 1283.4v1.6M785.1 1277.3h0.5M835.6 1185.4h0.4M833.4 1305.3v0.9M758.3 1241.6v1.7M777.5 1272.9v1.0M731.5 1257.2v0.8M774.4 1313.3l0.2 1.1M724.9 1358.5h2.2M732.1 1273.8l1.5 0.5M796.2 1244.9h2.5M761.6 1322.3l1.7 1.2M815.5 1291v0.1M808.2 1324.8l1.0 0.4M873 1307.8v2.0M764 1385.9v0.7M820.7 1238.6l0.1 0.4M799.1 1285.6h0.7M702.4 1195v0.1M770.6 1263.3h0.5M890.7 1301.5l1.4 1.3M768.7 1275l1.5 0.4M820.2 1284.8l0.8 0.4M765.2 1317.9h1.1M736.2 1257.4v1.0M756.3 1338.4v1.0M780.1 1283.7l1.1 1.5M805 1248.5l0.6 1.2M839 1290.8l2.0 1.1M728 1306.9l0.5 0.3M827.6 1299.9h0.9M819.9 1212.2v1.0M842.8 1275h1.3M644.7 1254.4v1.8M686.5 1249.8h1.1M809.9 1193.8h2.1M727.1 1307.9l0.2 1.0M807.9 1254.5l1.6 0.9M788.1 1230.1v1.5M700.1 1252.1l0.1 0.4M753.4 1230.3v1.2M733.2 1278.9h1.6M751.8 1254.8l1.8 1.6M781.8 1296.6l1.5 0.5M794.6 1267.4v0.2M843.2 1318.3l1.6 1.4M804.2 1240.8v1.5M777.3 1225.6l1.5 0.5M842.2 1304.4h2.1M813 1385.4l1.2 1.4M797.3 1251.5v0.4M808.9 1329.2h0.4M773.5 1331h0.1M726.4 1268.4h0.7M775 1259.3l0.4 0.7M813.1 1203.6h2.3M753.7 1285v1.1M656.7 1231.5v1.0M755.3 1314.8v0.4M811.7 1287.8h1.0M753.3 1265.1v1.7M728 1288.3h2.4M822.8 1313.9h0.3M743.8 1324.7v1.2M744.1 1276.1v1.7M764.4 1330v0.5M776.3 1259.9v1.8M785.5 1230.8v1.1M742.8 1305.8l0.8 1.4M833.1 1350.5h0.6M761 1307.9l1.8 0.3M875.4 1363.2l0.4 1.8M682.1 1215.7l0.7 2.0M781.4 1286.3l0.2 1.2M768.4 1278.4h0.5M677.1 1239.1h2.0M787.8 1292.7l2.0 0.6M797.8 1248.7l0.6 0.0M713.2 1273.9h1.3M751.5 1272.6h2.5M777.3 1260l1.0 0.4M797.1 1335.3l1.1 0.0M816.3 1251.2v0.9M667.6 1238.2l0.9 1.9M710.7 1333.3h2.3M720.3 1282.2l0.2 0.5M787.8 1277.6l0.5 0.9M756 1325.2l0.1 0.0M711.1 1197.8h1.9M854.5 1329.9l0.6 0.3M749.7 1288.3l0.1 0.2M880.4 1279.3l1.9 1.2M805 1209h1.8M868.5 1328.8h0.6M760 1271.6h1.7M816.3 1246.6l1.4 0.5M860.1 1185.2l2.0 0.9M802.8 1286l1.0 0.3M795.6 1323.3l1.0 1.6M730.6 1229l0.7 0.6M808.1 1302.6h1.1M810.3 1303v0.3M827.8 1321.6v0.7M732.1 1278.8h0.7M779.9 1302.7l1.3 1.0M691.1 1320.7h2.5M778.2 1314.4l2.0 0.7M753.8 1270.5h1.0M745 1272.3l0.0 1.6M754.6 1314.9l1.1 1.8M749.4 1270.5v0.0M791.2 1277.3l1.6 0.1M826.6 1220.2h0.5M707.1 1334.9v0.2M797.3 1251.9v0.2M785.3 1283.3h1.0M847.5 1217h2.1M664.5 1248.7l1.2 1.1M728.4 1324.7h1.6M789.5 1291.8h0.3M795.3 1301.4h2.3M775.2 1300.3h2.3M796.3 1306.9h0.7M908.8 1268.6h1.7M780.3 1269.2h0.3M808.6 1261.3l1.2 0.1M712 1363.4h2.0M732.6 1285.9v0.2M750.7 1313.4l1.5 0.4M663.2 1287h2.2M797.6 1328.6v1.5M720.9 1270.8v0.9M750.8 1269.6h1.9M788.2 1284.3l0.8 0.4M783.6 1236.2l0.8 1.6M850.9 1298.5h0.9M730.5 1270.4l1.0 1.4M827.3 1236.1v0.8M780 1279.5l1.7 1.1M720.8 1296l1.7 0.7M819.5 1298.3v1.1M789.6 1280h1.5M827.8 1298.5l1.4 0.3M820.6 1313.8h0.4M862.1 1209.5h0.6M792.2 1226.4h1.0M823.3 1220.4v1.4M757 1268.9v1.6M799.7 1375.4l0.7 1.1M823.3 1320.6l1.5 0.8M780.7 1236.9v1.9M756.6 1279.2v1.7M773.7 1225.3v0.7M827.5 1316l0.3 1.5M801.6 1295.8v2.0M837.3 1365.8h2.4M734.4 1333.3h0.2M817.8 1226.5v0.6M801.7 1263.6l0.5 0.3M828.8 1271.2h2.5M779.5 1277.6l0.4 1.8M787.6 1264.1l0.6 1.0M720.8 1305v1.2M862.2 1334v0.8M733.3 1384.5h1.4M789 1263.6l1.5 1.6M762.9 1322.5h1.3M730.9 1278h2.4M801.7 1225.9v0.8M775.7 1253.1h0.8M832.7 1208.5l1.0 1.7M892.6 1290h1.2M810.2 1269.7v0.9M739.8 1258.3l0.1 0.6M789 1292l0.6 0.9M784.3 1287.7h2.1M838.4 1274.9h2.2M764.2 1238.6h2.0M745.8 1275.9l1.9 0.1M723.9 1322.7v0.2M774.3 1352.6l1.9 1.5M766.2 1355.5h1.8M790.9 1297.4l1.6 1.8M696.2 1201.2v0.3M721.2 1265.6l1.0 1.8M790.8 1360.1l0.1 1.2M697.7 1317.1h0.5M797.2 1293h2.4M834.7 1264.1h1.7M840.6 1263.4v0.4M752.4 1283.8h1.1M784.2 1219.5l1.9 0.1M822.1 1331.1h0.2M754.4 1265.1h1.8M819.4 1243.4h0.3M797.1 1305.6v1.8M787.7 1259.9v0.2M759.7 1280.2l1.7 0.3M753.1 1288v1.6M761.1 1295.1l1.0 1.5M874.1 1295.3v1.7M762.6 1231.8h2.5M767.7 1292.6v0.9M749.8 1267.9v0.8M766.9 1260.6h2.4M710.3 1300.9h1.7M854.5 1218.7v1.2M779.3 1357.8h0.8M751 1375h1.9M787.2 1303.7v1.8M790.6 1253.4h2.1M762.1 1279.4v1.3M757.2 1188.2l1.3 0.2M777.9 1217.2h1.1M789 1295v1.3M794.8 1297h2.3M697.3 1298.5v1.4M804.7 1327.8l1.8 0.1M804.1 1321.9h0.6M779.6 1313v1.7M746.5 1292.5h0.2M732.7 1331v0.1M823.9 1285.1v2.0M825.7 1302.2l0.1 1.2M805.7 1278h0.3M848.7 1256.7v1.0M772.1 1300v1.1M717.4 1339.1v1.1M791 1257.5v0.7M746.4 1307.3h0.8M807.7 1265.6l0.3 0.3M723.9 1267.1l0.6 1.6M774.4 1354h1.9M865.3 1324.3v0.3M797.8 1299.6v0.7M746.6 1301.3v1.7M881.5 1219.5v0.9M784.8 1266.3v0.0M796.4 1263.4v0.3M749.4 1268.2h2.0M754 1335.2v1.0M775 1278.5h0.8M869 1277.7h2.0M834.1 1304.7v0.2M821.6 1267.5v1.4M859.7 1292.5h1.0M784.4 1333.1h0.2M751.2 1313.4v1.9M757.9 1290l1.3 0.3M767 1336.2l1.7 1.6M843.3 1279.9l1.7 1.4M749.2 1189.3v1.9M795.9 1260.2h2.3M778.5 1314.4v0.1M736.2 1280.6h0.3M797.1 1332.3l0.2 0.4M778.2 1231.5v1.7M744.6 1253.4v1.6M774.4 1281.8h2.0M812.7 1331.1v1.7M762.2 1238.5h0.2M758.1 1287.1h0.7M757.7 1267.9v1.6M809.3 1252.2l1.5 1.5M777.9 1205.8l0.4 0.4M788.3 1301.7h2.1M785.8 1279.3v0.7M721.7 1283.9l0.2 1.2M794.6 1367.9v0.7M808.8 1355.6h1.8M825.6 1293.1h0.8M746.9 1274l1.6 0.7M842.7 1273l0.8 0.5M711.8 1292l1.9 0.6M740.4 1250.9v0.1M717 1240.4l0.0 0.4M787.4 1283.9v1.4M811.7 1261.9l0.1 1.6M808 1312.8h2.4M741.3 1326.5v1.8M816.5 1243.1h0.2M820.2 1203.4l1.8 1.4M806.9 1261l0.4 0.1M813 1317.9h1.1M727.7 1239.6l0.8 1.3M784.3 1289.1l1.5 0.2M779.2 1278.6v0.8M818.4 1295.5h1.2M788.9 1287.8h1.1M841.4 1341.7v1.2M775.1 1289.8v1.1M761.9 1290h0.9M698.1 1267.2h1.2M749.8 1330.4l1.0 0.1M731.3 1337v0.7M777.1 1290v1.3M809.6 1245.6l0.6 1.9M807.4 1319.8h0.3M727.6 1329.6l1.3 0.9M683.1 1199.1l1.6 1.3M833.2 1272.4v1.3M760.1 1347.2h0.7M725 1184.7l1.6 0.1M726.7 1363.1l0.3 0.6M815.8 1233.6v1.7M809.1 1305.3l0.0 0.4M769.4 1315.7v0.0M784.2 1301v2.0M712.3 1274.8h0.5M761.4 1224.7v0.4M751.7 1322.3l0.6 1.6M807.6 1294v1.9M740.9 1298.3h2.2M795.3 1317.6h2.0M789.8 1313.5l0.4 1.9M746.3 1337.7v0.3M770 1374.9h0.5M772 1243.8h1.2M780.4 1302.5v0.8M824.3 1226.8l1.4 0.5M687.4 1242.4h2.0M829.1 1332.5l0.5 1.8M779.6 1301.7l0.7 0.4M799.8 1275.7v0.4M745 1301.5h1.3M703.5 1344.8v0.4M829.4 1260.3l1.0 1.2M861.8 1263.1v0.9M785.7 1291.2l0.6 1.7M719.6 1210.5l1.8 1.1M753.5 1309.5l0.0 1.0M762.9 1325.3l0.6 1.3M777.3 1279h1.6M780.2 1347.1h1.0M772.8 1244.1h1.2M761.1 1333.3h0.5M798.2 1305.4l0.2 1.2M762.2 1261.6l0.2 1.0M697.8 1294.8l1.5 1.7M793.3 1302.5l0.3 0.1M811.3 1247.2h1.3M760.9 1305.5v0.1M771.9 1298h2.3M785 1359.8h1.5M841.6 1317.4h2.2M732.8 1229.9v0.9M788.6 1260.5v1.0M790.7 1277.6v1.7M783.6 1284.2l1.2 0.2M689.7 1266.9l0.7 0.7M801.7 1242.1v1.4M765.3 1214h2.1M823.9 1282.3l1.4 1.2M798.4 1257.8l0.2 1.0M779.7 1319.9h0.1M754.8 1214.7l0.4 1.4M760.9 1373.1l1.1 0.2M750.8 1243.8v1.5M792.6 1279.9h1.9M761 1255.3v0.0M783.5 1272.9v2.0M756.3 1308.2h2.0M773.9 1320.1h2.5M789.4 1246.2l1.8 0.9M828.1 1229l0.4 1.2M714.2 1281.2h2.4M682.1 1305.5v0.7M693.3 1308.9h1.3M767.1 1283v1.7M807.2 1265.6v0.3M784.7 1282.7h1.6M804.2 1323.5v0.4M793.1 1262.4h1.4M855.3 1201.9h1.6M770.9 1247.4v0.6M802.3 1293.3v0.1M771.7 1293.4h1.9M793.1 1327.5h1.8M907.5 1263.5h0.0M820.8 1260.7h2.3M716.4 1206.2v0.8M752.5 1240v1.8M685.5 1237.1l0.8 0.3M800.8 1330.5l1.7 0.8M690.6 1280.4l1.3 1.7M717.4 1321h1.9M828.9 1308.6l0.7 0.8M745.7 1262.4v1.3M717 1236.9h0.4M759.3 1321.5h2.0M745.7 1321.3h2.4M783.7 1291l0.2 1.5M777.7 1253.1l0.7 1.8M771.3 1236.4v1.3M789.5 1272.3l1.6 1.3M770.6 1276.2l1.6 0.0M851 1237v1.3M759.6 1312.7v0.4M781.7 1287.8h0.7M731.9 1284.9v0.8M806.6 1316.1h1.3" stroke="#ffffff" stroke-width="3.4" stroke-linecap="round" fill="none"/>
<path d="M836.9 1316.4l0.8 0.9M701.9 1289h0.5M782 1283.1l0.4 0.8M805.4 1234.9v1.1M718.5 1251.9l0.8 0.7M724.5 1296.6h1.9M759.9 1257.8h2.3M784.3 1286.2l0.8 1.6M750.2 1278.2l0.4 1.1M831.6 1267v1.1M780.2 1272.5v0.3M641.9 1300.6h0.2M796.3 1324.3v1.2M787.4 1301.4v0.7M880.1 1370.3l1.1 0.5M809.5 1332.6h2.3M756.2 1283.5v1.1M830.7 1226.5v1.9M785.5 1280.2h0.6M794.6 1273v0.6M824.9 1225.5h0.4M742.2 1272.7v1.0M779.9 1270.2h0.4M695.5 1274.2h2.3M783.6 1296.2l1.5 1.5M812.1 1267.6v1.5M785.9 1240.7l0.8 0.3M764 1257.5h0.9M775.1 1212.6h0.6M829.5 1203.4h0.3M716.2 1314.8h2.5M842.9 1361.2v1.3M827.8 1291.8v1.1M761.6 1250.6v1.0M737.6 1295.5h0.8M713.1 1281.4v0.9M803.2 1240.5v0.2M773.4 1278.1l0.8 0.7M791.7 1298h0.8M779.3 1264l1.8 1.3M741.5 1251.4h1.6M872.3 1339.5v0.7M767.4 1303h0.2M690.5 1212.1h0.0M812 1268.3v1.9M714.1 1301.1v1.4M747.7 1315l0.8 0.3M708.1 1310v1.0M808.5 1349.4v1.8M818.7 1290.7h1.9M770.4 1302v1.8M826 1322.4l0.5 0.2M667.5 1242.7v0.7M845.4 1323.3l1.6 1.3M739.2 1284h1.4M830.9 1252v0.1M883.1 1238.4v1.9M799.6 1282.3h1.3M740.4 1250.7h1.2M831.5 1306l1.3 0.9M762.7 1271.7v1.4M786.9 1291.9l1.9 0.5M731.4 1281.8v0.3M791.6 1349.1l1.5 1.5M856.7 1341.2l1.8 1.7M813.2 1278.9l0.7 1.5M723.7 1300.1v0.1M745.1 1241.3l1.1 0.3M750.9 1247.4v1.7M846.8 1342.6v1.0M800.5 1304.8h1.9M648.1 1290.8h0.9M814.1 1314h2.1M769.8 1306.4h1.0M671.6 1308.6l1.8 1.7M850.4 1236.2l0.0 0.4M743.6 1295.6v1.9M747.4 1283l1.2 1.9M802.9 1285.6h2.4M779.4 1258.8v1.0M778.9 1259.6l1.1 1.2M761.4 1196.6v0.6M837 1361.1h2.4M708.2 1333.9v0.5M799.2 1333.3l0.7 1.7M807.4 1283.8v0.8M844.1 1300.2v0.4M848.2 1289l1.1 1.5M740.4 1263.1h0.7M781.6 1306.2h0.7M748.8 1279l0.9 0.3M766.8 1253.5h2.3M715.4 1351.3l1.0 1.5M728.7 1250.8h0.1M724.9 1318.4v0.5M686.5 1287.6v1.2M724.6 1293.1l1.0 1.6M780.1 1253.3l0.8 1.8M777.7 1268.3l0.3 1.2M710.3 1317.7l0.3 0.2M842.9 1314.6h0.1M837.7 1275.7v0.7M833.6 1238.5l1.3 1.9M786.6 1308.7h1.7M812.9 1276.1h0.6M821.6 1357.2h1.2M688.9 1313.3l1.7 0.9M742.8 1205.6h0.1M768.4 1323.6h1.0M742.6 1245.4l0.4 1.3M751 1267.4l1.6 1.4M753.3 1224.6v0.5M737.9 1290.8l0.8 1.9M807.1 1258.9v1.4M759.3 1200.3h1.6M830 1321l1.7 1.1M818.6 1271.3h1.1M722 1339h1.3M780.9 1274.1h1.4M768.6 1316.7h1.9M712.5 1312.4h2.3M827.4 1266.4v1.3M735.7 1269.9h1.1M851 1303.2h0.4M834.1 1193.9h2.2M772.8 1322.7h1.3M762.8 1336.6v1.0M789.5 1342.5l1.3 1.4M837.7 1258.8l1.1 1.6M782.4 1265.6l1.6 1.5M804 1245.3l1.4 1.7M773.4 1357h1.3M872.5 1356.8h1.9M763.6 1318.4h1.8M753.6 1254.1l1.9 1.5M830.1 1322.9h0.8M741.3 1323.4h0.6M690 1293.6v1.5M739.3 1242.8l0.8 1.3M798.8 1306.9v1.6M755.3 1272.8v0.5M888.2 1255.1h2.5M725 1311.7h2.3M813.5 1240.1v1.3M799.4 1260.5l0.6 1.3M759.6 1305.5h1.3M725.6 1246.6v1.5M806.7 1206.5v1.5M719.5 1340.3v1.8M673.6 1244.2l1.4 0.9M842.7 1288.7h0.0M860.8 1289.5l0.0 1.9M776.2 1355.5h1.8M761 1276.8v0.1M753.5 1246.3l1.7 1.3M802.5 1295.5v1.8M749.2 1287.9h2.1M756.9 1323.7v1.4M670.6 1329.2v0.1M810.9 1169.7l1.7 0.1M793.6 1350.4v0.9M797.8 1293.4h1.9M744.5 1324.1v1.8M753 1278.5v0.1M802.7 1313.7h1.1M812.3 1275.7v1.5M775.7 1308.5h0.0M731.4 1258.2h0.9M782.3 1345.6v1.1M750.7 1280.6h2.4M706.4 1225.1v0.6M834.4 1255.1h1.6M785 1299.1v1.5M736.3 1218.1v1.9M795.7 1289.5v0.4M790.6 1292.4h1.5M844.7 1277.4l0.9 1.3M893.3 1297.1l0.4 1.6M818.7 1219.9l1.2 1.9M791.2 1294.7l1.2 1.7M856 1334.9h0.3M762.6 1377.3l1.3 1.6M794.3 1255.5v0.8M825.5 1262.8h0.5M785 1244.6v1.8M890.4 1242.6l0.8 1.9M743.9 1277.3v0.1M875.4 1324.5v0.2M798 1304.2v0.5M745.9 1267.7l1.0 1.7M767.6 1209.6h1.4M787.1 1287.6v1.3M822.4 1284.6v0.5M794.6 1362.7v0.8M741.3 1306.7v1.0M780.5 1283l1.6 0.8M774.6 1314.9h1.8M782.7 1331.4v0.1M811.2 1315.7v1.8M815.6 1279.9v1.2M724.9 1252.5v0.2M806.4 1307.3v0.7M719.9 1391.5h1.1M885.1 1332.9v0.4M730.5 1326.1v0.7M816.9 1258.8h1.8M774.1 1274.6h0.3M779.1 1338.1h1.3M719.6 1217.8l1.5 1.2M776.8 1290.9l0.4 0.6M709.8 1265.2l1.8 0.7M804.5 1178.3h0.9M768.9 1310.1l0.3 1.5M777.3 1235.9l0.7 0.3M874.4 1239.8v1.2M761 1259.8h2.0M799.2 1316.3l1.7 1.5M832.2 1254.7l0.9 0.9M775.5 1353.6h1.6M651.4 1279.3v0.3M816.7 1307l0.5 0.6M831.5 1342.1h0.6M822.1 1255v1.1M725.6 1294.6h2.2M791.6 1337.3v0.3M750.7 1305.5l1.6 1.0M816.5 1249.7v0.9M792.1 1159.4h0.3M882.3 1292.9h1.8M736.7 1303.8h0.6M800.4 1321h1.3M801.2 1281.4h2.0M818.9 1254.9l0.4 1.4M778.5 1291.6v0.7M718 1256h2.0M781.2 1297.7v0.3M781.4 1301.3l1.4 1.2M806.4 1293.4h0.4M752.4 1262v0.5M738.5 1240.3l1.1 0.2M694.4 1318.6l2.0 1.1M708.5 1193.6v0.6M778 1281.9h0.1M771.7 1286.6l1.6 0.7M806 1283l2.0 0.4M815.5 1229v0.1M748.3 1306l1.2 1.8M770.7 1334.4v0.7M901.8 1212.3v1.2M810.7 1286.5v0.6M764.7 1263.9h0.8M802.8 1289.1h1.7M876.8 1238.5l1.2 1.9M720.6 1321.5h2.2M701.2 1237.4l1.6 1.8M794.7 1224v0.7M754.1 1225.1l1.7 1.2M787.2 1257.3h1.0M811.8 1326.1l1.3 1.1M790.9 1293.5h0.6M755 1323.5l0.9 1.7M670.4 1219.3l0.8 1.0M798.5 1316l0.9 0.9M774.9 1244.9h1.6M816.8 1303v1.0M812.2 1339.8h0.7M718.8 1219.7v1.4M641 1283h2.0M785.6 1364.3h1.7M756.1 1335l0.0 1.1M830.6 1279.4h2.0M821.4 1299.6v0.7M752.4 1215.1v0.0M740.8 1253.8h0.5M795.2 1279.2v0.2M808.7 1324.9v1.6M834.9 1323.8h1.9M742.2 1251.7v0.0M740.4 1373.7h1.0M765.6 1292.3v0.5M811.9 1286.3l0.5 1.5M821.6 1263.9h0.9M758.9 1312.6h1.7M862.1 1330.6l0.4 1.3M827.4 1283h0.1M855.7 1315.7v1.2M854.7 1250.5l0.2 0.0M698.7 1300.5v0.5M769 1251.5l1.8 1.1M759.9 1281.2v1.4M811.9 1230.9l0.4 0.6M716.7 1232.3l0.9 1.4M770.2 1252.6l0.1 0.1M825.1 1305.4h0.7M740 1240.2v1.7M765.4 1410.8l1.7 0.9M729.3 1323.5l0.8 0.9M785.2 1227.9h2.0M762.2 1355l1.8 1.3M795.7 1255v0.7M712 1352.6v1.1M730.2 1256.2h0.1M841.1 1372.4l1.8 1.9M820.1 1243.4h0.4M860.6 1341.8v1.3M727.3 1284.4l0.4 1.3M846.7 1288.7l0.8 0.3M803.9 1302.9l1.7 1.7M778.6 1276.4v1.7M774.6 1229.9l1.7 0.5M790 1280.4h0.7M781.2 1312.5v0.5M918.5 1257.2l1.2 1.3M812.3 1255.1h2.3M757.2 1324.9h2.4M771.2 1343.1v1.2M806.7 1306.4h1.7M705 1303.9l1.2 1.9M777.5 1254.2h0.2M799.2 1218.3v2.0M800 1247.9v0.9M710.2 1243.7v0.2M738.9 1256h2.3M850.3 1272.8v0.1M766.7 1333.3v1.3M747.1 1328.8v1.9M873.2 1342.7h1.6M778.2 1322v1.5M801.3 1213.3l0.9 0.9M792.5 1316.5v0.2M851.7 1284.6l1.0 0.5M777 1284.4h1.2M758.5 1297.7h0.4M803.7 1404.2h1.8M707 1338.2v1.5M760.8 1330.6v1.6M804.7 1249.3l0.8 1.6M758.4 1323.9h0.6M829.9 1266.7h1.1M801.3 1264.1v1.4M805.9 1231.5v0.2M758 1309.5h1.8M822.2 1328.6h0.1M739.9 1257.3v1.4M753.6 1284.2l1.3 1.2M823.3 1299.1v0.4M797.3 1304.6v1.5M809.8 1363.9l1.9 1.8M698.6 1305.7v1.0M776.8 1176v0.1M801.1 1294.7h2.2M793.4 1240.1v1.5M784.8 1206.7l0.7 0.0M784 1269.1v0.3M883.9 1270.7v0.1M796.8 1346v0.4M818.2 1363.8h0.8M833.9 1233.9h1.9M791.3 1302.9h0.1M730.9 1317.2l1.2 1.8M769.9 1245.4l0.6 1.8M904.1 1327.1h1.3M788.7 1306h0.1M808.5 1324v1.2M718.1 1275v0.3M788.2 1296.6v1.4M792.1 1308.9v1.4M830.8 1265.3v1.9M822.9 1276.9h1.2M827.3 1319.5l0.7 1.9M785.6 1337.5v1.4M716.8 1354.1v1.0M725.1 1245.6h2.2M781.4 1370h0.1M810.3 1330.5h2.0M762.7 1323.1h1.5M737.1 1326.3l0.2 1.3M844.9 1275.5v0.8M695.4 1241.2h1.5M807.1 1288.8h1.1M727.2 1274.7v1.4M779.2 1279.7v1.9M797.9 1306.9h1.1M793.5 1248.1v1.2M801.1 1231.8l1.3 0.3M763.1 1277.9l1.1 1.0M859.2 1241.8h0.1M746.8 1255.2v1.5M786.2 1271.6h1.2M692.8 1272.9h0.2M758.7 1312.3h0.4M726 1283.1h0.9M793.2 1244.6h1.6M739.9 1242h2.4M804 1265.9l0.9 1.7M770.4 1303.1l0.1 1.5M829.2 1313.4h2.0M848.7 1355.7h0.5M776.5 1242.4h1.1M828.3 1247.9l0.7 0.4M738.4 1315.5v0.8M837.5 1268.1h2.3M814.8 1259.2l0.0 1.0M725.1 1251.8h1.9M836.7 1303.2v0.4M735.2 1245.8h2.3M787 1266.1v2.0M716.9 1275.2h2.2M731.9 1270.4l1.0 1.6M896.8 1262v1.6M803 1186.1v1.5M776.5 1287.5h0.2M724.5 1342h0.4M813.3 1219.1l1.8 0.6M799.7 1299.5v1.1M820.6 1290.7h0.7M843.4 1227.9l1.6 0.0M823 1271h2.2M783 1304.2v1.0M835.6 1309.1v1.4M770.7 1276h0.7M797.9 1284.3l1.9 1.5M745 1297.2h0.5M747.4 1287.8h1.4M797.9 1314.1v1.1M765.6 1302.1v0.8M765.2 1275.4h1.7M788.5 1308.2v1.4M851.5 1221.1l0.5 1.0M801.5 1275l1.3 1.3M748.9 1289.8v1.3M764.8 1356.6v0.5M766.4 1295.8h1.3M797.1 1322l1.0 0.6M680.5 1292.9h0.2M814.3 1302.4h1.9M751.9 1273.9l1.6 1.1M845.5 1333h0.8M761.5 1303.5h0.7M797.4 1261.8l1.3 0.6M752.1 1292.8h2.3M739.2 1300.4l1.4 0.2M728.9 1338.5l1.3 1.6M778.6 1240.6l1.5 0.7M768 1258.7v1.7M770.6 1294.3h2.0M806.1 1287.8l0.4 1.9M798.7 1231.6l1.5 0.2M765 1224h0.4M813.9 1263.2v1.3M768.9 1308.7v0.2M750.5 1325.8l1.6 1.9M836.9 1339h2.4M795.5 1279.7l1.4 1.9M798.7 1284.8v0.2M804.9 1265.8v0.2M753.2 1240.7l1.8 1.1M744.7 1330.2v1.0M733.1 1237.3h1.5M809.3 1333.1v0.2M824 1273.2h0.3M705.3 1311.5h1.4M840.2 1293.6l1.7 1.9M758.3 1300.6v0.6M761.8 1307.3l0.3 0.3M720.9 1267.1h1.3M819 1291.3h2.5M752.7 1277.7h1.9M824.8 1326.6l0.5 0.4M770.8 1274.1v0.0M809.9 1284.1h0.2M760.1 1229.3l1.1 0.8M750.5 1261.3h1.1M813.8 1310.6l1.5 0.1M794.1 1347.7l0.4 1.4M742.7 1374.4l1.7 0.9M679.6 1292.8h1.4M754.5 1358.2v1.6M674 1314.2h1.0M758.1 1297h1.6M897.8 1326.5l0.1 1.5" stroke="#ffffff" stroke-width="4.2" stroke-linecap="round" fill="none"/>
<path d="M783.5 1228.9l0.0 1.5M734.7 1334.9v1.9M725.9 1250.1h1.1M909 1249.8v0.4M772.7 1242.5h0.3M699.5 1333.7h0.3M872.4 1229.5h0.4M877.8 1194.9h1.3M745 1196.7h1.2M816.7 1238.4v1.7M683.1 1318.1v1.2M790.3 1370.9h2.1M771.1 1248.9h0.4M778.1 1205.4h0.9M728.6 1241.6l1.7 1.0M700 1333.6l1.0 1.6M826.2 1206.1l0.0 1.2M874.8 1266.3l1.7 1.2M839 1364.5v1.7M791.7 1352.8h0.8M838.5 1373.7h2.1M679.6 1365.8v0.1M868.1 1318.2l0.4 1.5M792.1 1276.7l0.1 0.8M806.9 1367.5v0.1M637.7 1299.5v1.4M774.8 1186.2h1.5M834.5 1328.5v0.1M830.5 1377.4v1.5M855 1353.8l1.5 0.9M737.8 1198.8h0.0M829.9 1179.1l0.8 1.4M845.3 1320.1v1.7M760.1 1307.3v2.0M814 1221.1v1.4M858.3 1241.1h1.1M741.7 1298.7v1.7M688.2 1327.9l1.2 0.5M861.5 1195.9h1.9M908.4 1221.3h0.9M708.7 1276l0.0 1.7M802.2 1252.8h2.1M869.9 1237v0.4M681.2 1284.8l1.8 0.9M868.4 1309.3h1.1M680.7 1313h2.3M696 1307.9h2.0M823.5 1166.7h0.1M885 1291.3v0.5M870.3 1339.2v0.9M835.1 1171.9l0.1 1.9M714.9 1292.8l0.1 1.4M706.7 1295.8h2.5M702.3 1308.1v1.2M805.6 1311.9h1.2M715.6 1322l0.4 1.0M854.4 1301.6l0.7 1.9M682.7 1289.6v0.9M737.8 1245.6v0.1M841.6 1335.9h2.1M743.4 1376.8h2.4M810.7 1276h0.4M798.6 1359.1v1.3M806.9 1363.6v1.9M733.4 1285.5l1.6 1.9M812.7 1252.3l0.6 0.0M770.4 1312.6v1.8M686.7 1223.8l0.1 0.5M703.4 1326.5h1.2M798.1 1201.5h0.9M735.4 1237.2v1.2M793.3 1261.3h1.1M809.3 1325.6v1.3M810.3 1176.2l0.7 1.7M734.3 1249.5l1.4 1.8M688.5 1352.5v2.0M810.3 1202.9l0.7 0.0M904.4 1275.4l0.9 1.4M851 1297.6v0.6M830.3 1307.2h0.8M832.6 1313.4l1.5 0.7M803.8 1369.1l1.7 1.9M737.1 1306.2v0.4M752.6 1198.6h0.4M761.5 1241.2v1.1M733.7 1280.2l0.5 0.1M683.3 1375.4l0.6 0.3M690.1 1285.8l1.9 1.4M882.2 1313.6v1.7M727.6 1386.5l1.3 0.4M857.4 1310.6v1.0M772.9 1329.7l1.3 0.8M849.9 1187.4h0.9M918.4 1247.5l1.4 0.7M747.6 1351.5v2.0M877.2 1302.5l1.1 1.6M684.8 1252.2l1.2 0.8M839.9 1194.3h1.7M816.9 1208.6l0.4 1.3M733.5 1355.2v0.0M755.3 1229.1h2.0M740.8 1208.3l1.8 0.3M819.7 1231.8l1.1 0.4M848.7 1232.8h2.1M843.4 1278.1v1.0M668.1 1354.9v1.8M721.7 1320.7v1.6M882.3 1371.8h1.7M702.9 1341.6l1.3 0.2M654.4 1254.9v0.3M785.8 1282.3v0.1M875.6 1304.8l1.9 1.2M850.3 1183.7h0.5M725.8 1380.1l0.7 1.4M764.1 1338.7l0.7 0.4M769.2 1226.5v1.2M740.8 1207.9l0.6 0.8M795.6 1188.2v1.4M842.6 1242.3v0.7M750.3 1272.9l1.1 0.2M834.1 1261v1.3M781 1363.1l1.8 1.7M780.8 1304.5l0.2 0.7M742.3 1282v1.4M709.4 1270.2l0.1 0.8M819.9 1281.3h0.5" stroke="#d8ecf6" stroke-width="2.6" stroke-linecap="round" fill="none"/>
<path d="M881.2 1257.2h2.1M819.8 1321.8l1.9 1.1M835.6 1267.8v0.9M759.9 1232.6v0.3M783.5 1263.1l1.6 0.8M860.1 1280.9v1.5M774.4 1357.5h2.3M723 1269.3v1.9M764.3 1343.2h2.4M772.6 1249.5h1.3M744.4 1307.1h1.3M833.7 1215.5h1.0M786.1 1182.5l1.1 0.8M776.1 1296.2h2.2M866.7 1310.7l1.4 0.3M719.6 1302.6h2.0M928.4 1291.3l1.4 0.6M780.3 1266.5h1.7M655.4 1251.9l0.9 2.0M726.2 1239.6h2.0M715.6 1325.9l1.4 0.1M767.5 1392.8h0.2M843.1 1226.4l1.0 1.0M871.6 1318.2h0.1M841.4 1221v1.4M817.3 1399.5l0.2 0.9M841.5 1281v1.6M727.8 1337.2h1.8M771.9 1325.8v1.8M806.1 1285.1l1.6 1.6M732.7 1240.5h1.2M696.4 1296.2l1.9 0.6M637 1268.2v0.9M805.1 1283.8h0.4M857.1 1312.1l0.1 0.5M766.8 1273.2h0.7M886.5 1273.4l0.3 0.3M824.4 1274.4l0.2 0.4M854.8 1255.9h2.1M755.6 1278.2h1.9M709.1 1279v1.4M743.3 1339.5h1.5M871.5 1286.1v0.4M696.3 1381.4v0.3M791.3 1348.9l0.7 0.4M909.5 1266.7v1.1M847.6 1355.1h0.3M872.8 1296.8v1.2M721.5 1351.8l1.6 0.8M789.5 1325.5v1.0M759.5 1249.2v1.7M835.9 1346.7l1.7 0.8M745.4 1234.5v0.0M829.5 1296.7v1.3M659.6 1268.2l0.8 1.2M920.9 1263l1.1 0.9M786.7 1306.3l0.1 0.2M725.3 1326.1l0.6 1.8M848.8 1363.7v2.0M794.5 1345.8l2.0 0.6M796.8 1327.3h1.0M834 1357.9l1.4 1.5M658.2 1282.8l1.8 1.8M820.5 1239.1v1.4M887.9 1261.6l0.3 1.0M860.1 1314h1.1M746.4 1380.5h0.8M762.5 1373v1.8M796.2 1331.3v0.2M837.3 1297.1v1.2M805.4 1183.3v0.9M839.1 1336.3h0.1M753.9 1260h0.3M781.2 1214.2h1.9M758.9 1215.8l0.1 0.9M893.9 1294.6v0.3M839.8 1335.9v1.8M779.7 1210.3v0.9M879.7 1332.5l0.5 1.1M831.7 1378.7l1.6 0.5M800.9 1219.7h0.4M780 1198.1h2.3M807.5 1385.9h2.1M828.5 1325.1l1.7 1.3M853.3 1230.3h1.3M743.6 1285l0.1 0.4M692.9 1217.8v1.0M915.7 1247.7h0.7M852.5 1271.5l0.5 1.7M729 1299.6h2.3M725.2 1320.9v1.1M747.9 1354.1v0.4M796.1 1194.1h1.1M736.9 1369.4h2.4M879.1 1232.8h0.9M794.6 1221.7l1.3 0.9M717.9 1311.2l1.1 0.5M691.5 1303.7v1.3M799.1 1378.9v1.7M672.5 1309.9l1.6 0.5M884.2 1276.4h1.0M826.3 1299v1.4M776.6 1197.4l1.4 1.3M715.9 1297.6v0.1M751.3 1396.3h2.1M868.7 1297.9l1.1 0.9M877.4 1199.5l2.0 1.7M831.1 1322l1.4 1.1" stroke="#d8ecf6" stroke-width="3.4" stroke-linecap="round" fill="none"/>
<path d="M670.5 1244.9l1.6 1.0M642.7 1254.7l0.2 0.9M892.1 1283.1h1.7M742.5 1351v0.9M669 1335.2v0.9M715.9 1285.5v0.1M890.8 1257h0.0M884 1225.6v0.5M770.4 1316.9h2.1M864.4 1287.9l0.7 0.9M854 1341.2l0.8 1.4M870.4 1323.5h1.9M711 1287.2h2.2M820 1301.5v0.3M731 1217.1l1.3 0.1M738 1311.3h2.2M783.1 1405.6h1.4M783.9 1321.1l1.3 1.4M684.9 1353.7l1.0 1.5M845.4 1224.5h0.3M741.1 1320.1l1.4 0.3M787.7 1366h2.2M762.3 1179.6h2.2M796.3 1331.6h1.8M755.2 1294.6l1.4 1.6M741.9 1318.3l0.3 1.0M753.8 1333.8v1.6M762 1365.4l1.8 1.9M888.4 1273.7h1.0M795.3 1310.7h2.4M831.7 1300.9v0.9M850.7 1243.1l1.7 1.6M820.7 1268.2h1.2M808.9 1177.2l0.1 0.4M800.5 1244.2v1.9M701.8 1291.8h0.2M862.8 1324.6v0.9M738.8 1289.3l0.5 1.5M778.1 1402.7l1.8 1.5M853.1 1330v1.0M780.4 1224.8v1.7M786.3 1387.1v0.5M746.9 1233.9v1.9M751.9 1351.5v1.7M853.2 1271.4l0.6 0.1M762 1186.9v1.2M689.4 1227.1v0.1M700.7 1329.4v0.2M818.1 1248.3h1.4M700.6 1324.3v0.9M757.5 1276.8h0.7M653.5 1344.2h0.9M717.2 1254.5h0.3M860.7 1183.5v1.5M799 1307.9h0.3M872.7 1230.6l1.9 1.2M659.5 1226.3h2.0M823.8 1346.9v1.2M794.4 1250.8h1.4M887 1363.7l1.4 0.9M723.7 1276.2v1.0M810.7 1254.9v1.0M722.9 1255.1v1.4M687.1 1286v1.1M849.4 1336.8h0.5M731.4 1168.7v0.2M752 1386.2l1.2 0.3M659.3 1229.3l1.4 0.1M851 1192.1v1.6M721.5 1231.8v0.7M834.6 1320.4h1.2M861.3 1368.6v0.0M729.8 1201.5l1.0 1.0M861.5 1333v1.1M748.5 1344.7h1.6M763.3 1259.9v1.1M719.7 1284.2l0.5 1.5M807.6 1322.5v1.0M870.6 1348.4h1.6M774.9 1241.4h1.4M680.2 1289.6v1.4M892.8 1365.6l0.7 0.5M800.2 1218.2l0.8 0.6M681.6 1302.4l0.8 1.3M646.1 1257.8l1.0 0.8M863.1 1202.7h1.8M758.7 1233.4l0.9 1.8M777.6 1207.8l1.6 0.2M847.5 1273.2l1.7 1.0M667 1257.3l1.8 1.4M796.6 1220.5h1.7M829.1 1372.2v1.0M685.5 1302.9h1.3M775.2 1304.7v0.6M823 1314.8l0.2 1.6M901.8 1257.6l0.9 1.2M774.5 1297.5v1.1M853.7 1308.6v0.4M795.1 1345h1.7M746.9 1239.8l1.7 1.2M846.2 1279.5v1.2M696.4 1182.8v0.7M889.8 1363.5v1.0M698.7 1335.9h0.7M773 1343h1.2M744.6 1383.7v1.7M729.1 1296.4l0.0 2.0M757 1385.4l0.8 0.5M844.5 1271.6h0.3M781.9 1233.2v1.8M831.8 1400.2v1.7M824.1 1393.4v1.2M799 1311.7l0.4 0.3M838.2 1386.1v0.6M827.8 1174h0.0M747.7 1236.7h2.0M851.9 1203v0.9M729.2 1235.1v0.4M762 1214.7v0.7M801.7 1345h1.7M730.8 1245l1.5 0.2M783.1 1238.2v1.4M713.4 1369.1l1.4 0.6" stroke="#d8ecf6" stroke-width="4.2" stroke-linecap="round" fill="none"/>
<path d="M661.7 1269.9v1.1M718.3 1257.4v0.8M838.3 1265.4l1.8 0.2M747.6 1292.5v1.1M794.7 1397.5h0.8M781.3 1269.2l1.7 1.1M836.8 1327.1h2.3M757.6 1261v0.6M652.2 1280.6l1.1 1.1M756.5 1307.4l1.2 0.3M858.7 1280.3v0.8M728.4 1173.9v1.4M802.4 1289.8l0.1 1.2M811.7 1340l0.4 0.8M796.8 1272.9l1.9 1.9M649.8 1236.6h0.8M818.6 1290l0.4 1.2M804.5 1213.9h0.3M805.6 1384.2l1.4 1.5M912.1 1330v1.8M732.9 1235.5v0.6M817.4 1358.4v0.5M800.7 1294.4h2.3M834.2 1257.9l1.0 1.0M752.5 1302.2h2.4M866.4 1310.7v0.1M891.1 1249.3v1.6M841.6 1213.5h2.0M746.3 1346.6h0.8M909 1265.8h1.8M918.9 1314.6l1.5 0.2M872.3 1361.1v0.0M757 1205.5h1.9M823.1 1239.4l1.1 0.3M757.8 1206.4l0.9 1.4M739.9 1182.5v0.3M880.2 1305.7v0.1M746.7 1382.5v1.9M809.9 1301.2l0.3 1.6M818.3 1406.4h2.1M862.4 1221.9h1.7M776.5 1200v0.4M841.8 1257.9l0.5 1.9M731.6 1234.9l0.5 0.4M822.4 1180.7h1.6M766.2 1161.9v0.0M723.4 1329.8l0.3 0.5M802.1 1242.6l1.1 0.1M762.7 1274.5v1.7M728.6 1271.4l1.0 0.8M770.6 1304.8l0.0 1.2M796.7 1354.1l1.6 1.1M873.4 1332h1.2M795.3 1309.6l0.4 1.7M785 1200.9h2.3M843 1268.9v1.7M744.8 1335h0.2M710.3 1331.7v1.1M915.7 1323.6v0.6M790.5 1320.1h2.4M764.6 1215.5h1.8M883.6 1249.9h0.7M849.4 1296.3v1.7M818.1 1383.1h1.9M679.3 1284.7h2.4M814.1 1384.6l1.1 1.4M820.9 1267.3l2.0 1.2M784.4 1338.3l0.6 1.7M706.4 1331.9v1.8M813.7 1277.5v0.6M742.2 1182l0.1 1.2M867.2 1187.3h2.5M854.1 1257.6v2.0M811.3 1212.9v1.3M828.1 1248.6h1.2M681.6 1254l1.3 1.4M727.1 1243.3h2.3M836.9 1276.9v1.5M717.1 1283.4h1.6M776.1 1154.8v0.1M649.4 1314.8l0.7 0.7M718.6 1319.3v1.6M805.4 1231.7h2.2M849.4 1300.2v0.9M837.4 1296.7l0.2 0.5M636.2 1284.2h1.6M819.8 1192h1.6M654.1 1216.3h1.1M694.2 1265.8h2.3M752 1271.9h0.7M809.2 1236.8v1.1M908.5 1282.6h0.1M767.7 1322.5v2.0M894.7 1352.4v0.4M730.8 1352.5h1.5M791.6 1221.6v0.9M844.1 1298.2l0.7 0.1M709.5 1263.9h2.5M797.9 1349l1.0 1.6M786 1340.6v0.8M745.2 1270.7h0.8M691.2 1311v0.3M870.1 1351.7h2.3M745.2 1293.7h1.0M760.9 1231.3l0.5 0.3M837.5 1325.3l0.6 0.5M755.4 1197.3v1.0M744.6 1288.6l1.6 0.7M789.3 1247.6v1.7M818.3 1212.1l1.4 0.6M764.9 1338.1h0.2M770.4 1401.9h0.9M807.6 1346.7h1.9M780 1193.6l1.8 1.5M708.7 1269.4l1.6 2.0M727.9 1265.6v1.3M842.5 1210.1l0.3 0.3M756.1 1363.1v0.1M726.5 1294.5l1.0 1.2M779 1246.2v0.2M861.7 1181.7v1.6M902.7 1300.8h2.2M828.9 1205h2.0M835.6 1267.6v0.8M732.1 1285.8l1.9 0.5M795.7 1232v1.5M772.3 1301.6l0.3 0.2M690 1204.2v1.5M804.9 1252.4v0.6M749.2 1312.8h1.8M843.5 1333.7l1.7 1.5M761.8 1317.9v0.8M804.6 1310.8h0.4M852.3 1380v1.3M843.3 1334.4v0.7M734.6 1373l0.8 0.3M890 1329.6v0.2M701.9 1353.4h0.1M726.6 1322.8h0.4M821 1259.6l1.4 0.5M818.5 1208.6l1.3 1.2M863.9 1191.8l0.7 0.9M800.1 1167.6v1.9M852.3 1294.7v0.2M768.4 1336.2v1.5M759.6 1318l1.0 0.9M888.7 1295.4v0.3M770.2 1317.9h2.4M859.1 1297h0.7M705.4 1226.4h2.1M721.7 1194.8v0.8" stroke="#7fa8c4" stroke-width="2.6" stroke-linecap="round" fill="none"/>
<path d="M835.3 1283.4h0.9M740.8 1319.7v0.3M736.1 1192.4l1.0 0.0M886 1362.5h0.6M781.5 1241.1v0.7M740.7 1363.8l0.6 1.2M806.6 1298.6v1.9M720.7 1366.8v0.2M734 1170.8h0.5M823.8 1204.3l1.6 0.7M719.1 1307.9l0.2 0.4M910 1282.7l1.6 0.4M807.3 1251.7v1.8M689.4 1250.9h0.7M740.3 1328.1v0.1M789.2 1319.9v0.2M887.6 1287.4l1.7 0.4M750.7 1283.1v1.1M875.6 1221.5l1.6 1.2M709.5 1362.6h2.5M746.2 1264.8h0.6M701.8 1221.9l0.8 1.3M693.4 1305.3v1.4M697.5 1342.2l0.5 1.4M824.7 1271.3h1.7M655.6 1340.7l0.3 0.8M710.3 1206.2l2.0 1.5M756 1398.3l0.2 0.2M853.9 1312.5h2.3M867.1 1224.7v0.3M747.9 1380.6h2.4M748.7 1208.6l0.1 1.9M760.2 1284.9l1.2 1.3M873.3 1247.8l0.1 0.9M784 1279.3v1.6M723.1 1290.1l1.7 1.5M774.3 1322.5h0.8M734.9 1162.6l1.2 0.2M794 1387h2.5M736.1 1355h2.5M895.9 1259.9l0.7 0.1M768.5 1265.6h2.1M802.6 1322v1.2M707.3 1272.8l0.8 2.0M727.3 1218.6h1.2M743.1 1311.4l0.1 1.9M758.4 1275.8l1.8 1.5M671.6 1300.9h2.4M781.1 1332.3h1.1M807.4 1391.5v0.6M697.9 1337.9h0.7M824.8 1206.4v1.4M787.6 1204.6l1.6 1.9M838 1276.9h2.1M721.7 1248l0.9 0.9M709 1385.8v0.9M761.3 1277.1h1.2M761.3 1230.6v0.9M858.8 1268.6v0.5M718.5 1206.3v0.3M824.6 1351.5h0.8M650.3 1282h2.1M774.9 1360.6l0.0 1.4M799.9 1357.2l0.5 1.3M859 1250.6l1.9 1.2M800.3 1318.3l1.6 1.7M822.8 1224.5v0.4M728.5 1236.5v2.0M696.6 1323.8v1.8M811.6 1163.2h0.8M884.3 1304.9v0.0M789.4 1397l1.5 0.1M727 1204.7v0.2M722.9 1267.5h0.4M881.7 1367.7v0.5M841 1337.8v1.6M801.4 1339.6l1.2 0.9M855.2 1374.6h1.7M808.4 1208l1.5 0.1M783.4 1168.2v1.6M850 1359.7l1.4 0.7M798 1318.2v1.2M881.6 1227.6h1.0M882.8 1319h0.3M834.3 1368.9v1.3M735.7 1198.8h2.1M821.8 1353.7v1.4M853 1212.4l0.9 1.6M745.7 1388.6l0.2 1.4M821 1303.5h0.9M811.1 1365v1.4M760 1202.5l1.6 0.5M783.3 1248.3h0.2M813.2 1292v0.3M868.2 1343.8h1.0M733.8 1270.2v1.1M771.3 1312.5v0.8M812.4 1279.5l0.0 0.9M831.8 1235.8h1.8M861.3 1252.7v1.4M748.8 1338.5v0.6M841.6 1226.4h1.4M719.3 1218.8l0.2 1.1M802.4 1249.8v1.0M747.7 1364.4v1.1M836.1 1285.1v1.1M709.4 1324l0.7 0.4M707.8 1339.3l0.4 1.7M813.9 1236.9l2.0 2.0M734.7 1239.9h0.4M823 1329h2.4M853.6 1302.6v1.1M802 1407.7l0.3 1.1M724.1 1265l1.3 1.1M885.3 1321.6v0.6M800.9 1239.2v0.9M862.9 1256.4l1.3 1.4M706.4 1280.8l1.9 1.7M805.5 1316h2.1M740.2 1376.6v1.3M828.9 1206.8v0.7M920.5 1295.1h2.4M794.2 1279.7l0.5 1.5M884.7 1276.5h1.6M822.7 1234.8h1.5M646.6 1288v0.2M737.9 1218.8v0.6M802.3 1325.5h2.4M687.6 1262.7h2.0M722.8 1301.6v0.6M811.1 1378.7v2.0M839 1239.9v1.6M759.8 1361.4h0.0M830.9 1220.1h2.5M767.7 1232.9v0.5M865.4 1328.4v1.5M851.8 1234.3l0.2 2.0M874.5 1290.3h0.5M799.9 1298.6h0.7M868.4 1260l1.0 0.6M681 1301.9l0.4 1.0M736 1213.3h1.2M822.9 1168.4l1.4 0.1M739.4 1350.1v1.4M664.5 1278.4l1.5 1.3M845 1359.5v1.2M801.3 1256.1v0.9M809.9 1274h1.3" stroke="#7fa8c4" stroke-width="3.4" stroke-linecap="round" fill="none"/>
<path d="M685.4 1316.5v1.0M889.9 1292.6h2.2M729.8 1273.8h0.5M689.8 1257.4l0.9 1.3M783.3 1317.5l0.5 1.4M732.6 1246v1.9M725.5 1316v0.7M794.4 1193.5l0.6 0.8M726.2 1182.6v0.5M786.8 1322.3l1.2 2.0M687 1268.9h1.2M832.4 1347.4h1.6M802.8 1298.5l1.0 0.8M731.2 1243.5h1.1M849.8 1382.7v0.5M672.3 1244.3v1.1M864.2 1245.6h1.4M835.9 1394l1.5 1.3M878.2 1295.2h1.0M859.7 1343.2v0.2M676.9 1211.7v0.6M727.5 1229.3h2.2M884.9 1257.1h1.6M718.3 1246.5h0.3M782.8 1247.7h0.5M743.9 1344.8h2.1M687 1192.8v0.2M813.5 1289.8v1.1M864.2 1186.3v1.2M859.3 1295.5l0.6 1.2M809.8 1325.4l1.9 0.6M893 1269.8l0.2 0.1M869 1265.5h0.7M767.4 1310.8h0.8M740.7 1273.6h2.3M825.3 1233.4v0.7M816.8 1364v0.2M774.6 1316.1h1.7M789.5 1332v0.6M852.6 1271.2l0.3 0.7M739.5 1371.1h1.5M709.6 1224.1v0.9M717.1 1257.8h0.9M876.8 1258.9h1.1M782.5 1240.8v0.7M832 1335.9l1.9 0.0M818.5 1318.6h0.7M785.8 1352.5h0.9M725.8 1307.2l1.2 0.7M816.9 1199.9h2.1M644 1307h0.1M739.7 1303.8v1.3M722.8 1289v2.0M792.4 1267.1v0.4M759.5 1242.8v1.0M823.4 1264.4v0.6M746.6 1336h0.5M820.1 1225.3h1.9M799.3 1359.2h1.5M853.3 1214.4v0.1M763 1383.9l1.7 0.1M782.3 1212.9v0.4M715.5 1386h0.8M770 1310.4l1.5 1.5M774 1235.2v1.4M709.4 1189.2v1.1M829.4 1330.8v0.4M842.6 1272.1v1.2M830.3 1204.2h0.0M694.1 1363.9l0.4 1.7M740.6 1251.9v0.5M802.2 1271.6h2.4M790 1282.3h1.4M718.3 1209.6l0.9 1.8M748.5 1226.8h1.7M664.1 1317.8h1.3M742.8 1218.8v0.1M682.1 1185.7l0.4 0.3M819.3 1354.2h0.4M812.6 1302.3h1.2M843.4 1307.4l1.3 1.3M822.9 1215.7v0.8M743.5 1309.1l0.2 0.0M844.1 1237.4v0.5M749 1406.3h0.5M676.3 1310.5l0.9 1.8M769 1370.4l0.4 1.4M744 1267.7h2.3M747.8 1307.2l0.7 0.0M782.2 1224.7v0.2M843.2 1319.7l1.8 0.9M829.2 1353.3v0.1M810.7 1320.4v0.5M886.5 1202.2l0.7 1.7M784.9 1323.5v1.1M788.9 1292.1v0.9M809.7 1267.8v1.0M826.2 1376.1h0.9M753.5 1301.5h2.1M736.9 1345.5h0.6M775.6 1292.5v1.9M691.8 1361.9l0.8 0.7M779.8 1252.7v0.1M788.2 1262.7l1.6 1.4M686.7 1253.5l1.7 1.6M846.6 1314.9h1.5M762.5 1240.2l0.5 1.2M715.3 1305.4v0.9M774.9 1322.7l0.0 1.4M765.2 1193.9v0.6M818.7 1242.4v0.6M642.4 1293l0.7 1.6M675.3 1314.3h1.6M756.8 1230.1h0.4M731.4 1322.9v0.1M749.7 1289.7v1.5M825.7 1257.2h1.3M876.5 1254.8h2.2M689.1 1361.3h2.2M706.1 1220.8v0.8M784.9 1199.7v0.0M757.4 1362h0.6M810 1158.7h2.0M727.9 1228.5v1.7M796.3 1255.9v1.5M754.1 1325.9v0.3M758 1329.8h2.2M826.6 1277.6h0.1M713.9 1291.9h2.1M783.1 1401.5v1.3M816.5 1258v1.6M834.9 1278.7h1.9M873.3 1255.1v1.4M756.8 1292.9v1.7M697.5 1196.1l0.7 1.5M896.1 1283.4h1.4" stroke="#7fa8c4" stroke-width="4.2" stroke-linecap="round" fill="none"/>
<ellipse cx="780.4" cy="1283.2" rx="64" ry="56" fill="url(#fftCore)"/>
<g><circle cx="792.1" cy="1288.5" r="1.4" fill="#1a2a3a" opacity="0.55"/><circle cx="784.5" cy="1321.1" r="1.5" fill="#1a2a3a" opacity="0.55"/><circle cx="750.4" cy="1261.4" r="1.2" fill="#1a2a3a" opacity="0.55"/><circle cx="755.4" cy="1315.8" r="0.8" fill="#1a2a3a" opacity="0.55"/><circle cx="823.7" cy="1277.5" r="1.9" fill="#1a2a3a" opacity="0.55"/><circle cx="802.9" cy="1294.6" r="1.7" fill="#1a2a3a" opacity="0.55"/><circle cx="759.1" cy="1291.8" r="1.9" fill="#1a2a3a" opacity="0.55"/><circle cx="799.1" cy="1276.5" r="1.0" fill="#1a2a3a" opacity="0.55"/><circle cx="787.2" cy="1258.3" r="1.2" fill="#1a2a3a" opacity="0.55"/><circle cx="809.5" cy="1313.8" r="1.7" fill="#1a2a3a" opacity="0.55"/><circle cx="792.6" cy="1281.2" r="1.9" fill="#1a2a3a" opacity="0.55"/><circle cx="776.3" cy="1263.7" r="1.9" fill="#1a2a3a" opacity="0.55"/><circle cx="775.6" cy="1276.6" r="0.9" fill="#1a2a3a" opacity="0.55"/><circle cx="813.1" cy="1257" r="1.9" fill="#1a2a3a" opacity="0.55"/><circle cx="767.1" cy="1244.8" r="1.4" fill="#1a2a3a" opacity="0.55"/><circle cx="784.6" cy="1277.5" r="1.3" fill="#1a2a3a" opacity="0.55"/><circle cx="761.1" cy="1288.5" r="1.2" fill="#1a2a3a" opacity="0.55"/><circle cx="798.4" cy="1261.4" r="1.4" fill="#1a2a3a" opacity="0.55"/><circle cx="764.3" cy="1291.5" r="0.8" fill="#1a2a3a" opacity="0.55"/><circle cx="779.5" cy="1291.1" r="1.6" fill="#1a2a3a" opacity="0.55"/><circle cx="780.9" cy="1278.3" r="1.6" fill="#1a2a3a" opacity="0.55"/><circle cx="755.6" cy="1278.6" r="1.6" fill="#1a2a3a" opacity="0.55"/><circle cx="798.4" cy="1265" r="1.1" fill="#1a2a3a" opacity="0.55"/><circle cx="812.2" cy="1287.6" r="1.8" fill="#1a2a3a" opacity="0.55"/><circle cx="801.7" cy="1270.6" r="1.3" fill="#1a2a3a" opacity="0.55"/><circle cx="775.1" cy="1249.2" r="1.2" fill="#1a2a3a" opacity="0.55"/><circle cx="824.4" cy="1282.8" r="1.2" fill="#1a2a3a" opacity="0.55"/><circle cx="779.1" cy="1323.6" r="1.8" fill="#1a2a3a" opacity="0.55"/><circle cx="740.8" cy="1299.7" r="1.7" fill="#1a2a3a" opacity="0.55"/><circle cx="807.6" cy="1295.4" r="1.3" fill="#1a2a3a" opacity="0.55"/><circle cx="763.7" cy="1295.4" r="2.0" fill="#1a2a3a" opacity="0.55"/><circle cx="820.1" cy="1269.3" r="1.4" fill="#1a2a3a" opacity="0.55"/><circle cx="802.2" cy="1245.1" r="1.6" fill="#1a2a3a" opacity="0.55"/><circle cx="798.7" cy="1260.5" r="1.6" fill="#1a2a3a" opacity="0.55"/><circle cx="735.8" cy="1277" r="1.1" fill="#1a2a3a" opacity="0.55"/><circle cx="771.4" cy="1311.6" r="1.5" fill="#1a2a3a" opacity="0.55"/><circle cx="782.9" cy="1313.3" r="1.4" fill="#1a2a3a" opacity="0.55"/><circle cx="770.4" cy="1310.7" r="1.1" fill="#1a2a3a" opacity="0.55"/><circle cx="753.9" cy="1259.9" r="1.5" fill="#1a2a3a" opacity="0.55"/><circle cx="777.1" cy="1303.6" r="1.7" fill="#1a2a3a" opacity="0.55"/><circle cx="789.9" cy="1263.8" r="1.6" fill="#1a2a3a" opacity="0.55"/><circle cx="776.3" cy="1303.5" r="1.9" fill="#1a2a3a" opacity="0.55"/><circle cx="790.5" cy="1312.9" r="1.7" fill="#1a2a3a" opacity="0.55"/><circle cx="788.8" cy="1267.6" r="1.2" fill="#1a2a3a" opacity="0.55"/><circle cx="781.3" cy="1276.8" r="1.2" fill="#1a2a3a" opacity="0.55"/><circle cx="779.9" cy="1294.8" r="0.8" fill="#1a2a3a" opacity="0.55"/><circle cx="770.5" cy="1321.4" r="1.9" fill="#1a2a3a" opacity="0.55"/><circle cx="751.4" cy="1287.6" r="1.3" fill="#1a2a3a" opacity="0.55"/><circle cx="768.2" cy="1287.9" r="1.4" fill="#1a2a3a" opacity="0.55"/><circle cx="771.2" cy="1314.7" r="0.8" fill="#1a2a3a" opacity="0.55"/><circle cx="779.9" cy="1281" r="1.3" fill="#1a2a3a" opacity="0.55"/><circle cx="788.8" cy="1257.2" r="1.9" fill="#1a2a3a" opacity="0.55"/><circle cx="813.3" cy="1299" r="1.4" fill="#1a2a3a" opacity="0.55"/><circle cx="766.2" cy="1254.7" r="1.9" fill="#1a2a3a" opacity="0.55"/><circle cx="812.1" cy="1267.5" r="1.9" fill="#1a2a3a" opacity="0.55"/><circle cx="798.1" cy="1300.2" r="0.8" fill="#1a2a3a" opacity="0.55"/><circle cx="766.1" cy="1277.2" r="1.5" fill="#1a2a3a" opacity="0.55"/><circle cx="813.1" cy="1303.5" r="1.0" fill="#1a2a3a" opacity="0.55"/><circle cx="763.2" cy="1274.1" r="1.9" fill="#1a2a3a" opacity="0.55"/><circle cx="770.9" cy="1303.2" r="1.6" fill="#1a2a3a" opacity="0.55"/><circle cx="768.2" cy="1245.2" r="1.6" fill="#1a2a3a" opacity="0.55"/><circle cx="766.8" cy="1248.2" r="1.4" fill="#1a2a3a" opacity="0.55"/><circle cx="746.3" cy="1273.5" r="1.4" fill="#1a2a3a" opacity="0.55"/><circle cx="769.5" cy="1251.4" r="1.6" fill="#1a2a3a" opacity="0.55"/><circle cx="767.8" cy="1269.5" r="1.1" fill="#1a2a3a" opacity="0.55"/><circle cx="743.3" cy="1280.1" r="1.8" fill="#1a2a3a" opacity="0.55"/><circle cx="745.4" cy="1308.2" r="1.7" fill="#1a2a3a" opacity="0.55"/><circle cx="797.2" cy="1300.1" r="1.3" fill="#1a2a3a" opacity="0.55"/><circle cx="803" cy="1246.7" r="2.0" fill="#1a2a3a" opacity="0.55"/><circle cx="803.2" cy="1289.5" r="1.2" fill="#1a2a3a" opacity="0.55"/><circle cx="764.4" cy="1292.1" r="0.8" fill="#1a2a3a" opacity="0.55"/><circle cx="779.9" cy="1287.4" r="1.6" fill="#1a2a3a" opacity="0.55"/><circle cx="790.5" cy="1274.1" r="1.0" fill="#1a2a3a" opacity="0.55"/><circle cx="769.2" cy="1276.6" r="1.1" fill="#1a2a3a" opacity="0.55"/><circle cx="764.3" cy="1295.2" r="1.2" fill="#1a2a3a" opacity="0.55"/><circle cx="777.3" cy="1285.5" r="0.8" fill="#1a2a3a" opacity="0.55"/><circle cx="789.1" cy="1244.9" r="1.9" fill="#1a2a3a" opacity="0.55"/><circle cx="807.2" cy="1275.9" r="1.6" fill="#1a2a3a" opacity="0.55"/><circle cx="752.1" cy="1301.3" r="1.1" fill="#1a2a3a" opacity="0.55"/><circle cx="798.1" cy="1291.7" r="1.0" fill="#1a2a3a" opacity="0.55"/><circle cx="776.5" cy="1306.9" r="1.1" fill="#1a2a3a" opacity="0.55"/><circle cx="785.1" cy="1320.8" r="1.1" fill="#1a2a3a" opacity="0.55"/><circle cx="783.4" cy="1284.9" r="1.6" fill="#1a2a3a" opacity="0.55"/><circle cx="778.9" cy="1272.3" r="0.9" fill="#1a2a3a" opacity="0.55"/><circle cx="779.9" cy="1276.2" r="1.4" fill="#1a2a3a" opacity="0.55"/><circle cx="825.5" cy="1278.5" r="1.7" fill="#1a2a3a" opacity="0.55"/><circle cx="774.3" cy="1317.9" r="0.9" fill="#1a2a3a" opacity="0.55"/><circle cx="819.5" cy="1306.2" r="1.4" fill="#1a2a3a" opacity="0.55"/><circle cx="785.4" cy="1259.6" r="1.1" fill="#1a2a3a" opacity="0.55"/><circle cx="792.2" cy="1276.4" r="1.0" fill="#1a2a3a" opacity="0.55"/><circle cx="784.7" cy="1278.6" r="1.7" fill="#1a2a3a" opacity="0.55"/><circle cx="744" cy="1295.4" r="1.4" fill="#1a2a3a" opacity="0.55"/><circle cx="767.4" cy="1325.1" r="1.2" fill="#1a2a3a" opacity="0.55"/></g>
<circle cx="691" cy="1142" r="31.5" fill="none" stroke="#a9a824" stroke-width="2.8"/>
<circle cx="861.6" cy="1120.7" r="31.5" fill="none" stroke="#a9a824" stroke-width="2.8"/>
<circle cx="952.8" cy="1264.3" r="31.5" fill="none" stroke="#a9a824" stroke-width="2.8"/>
<circle cx="619.8" cy="1299.5" r="31.5" fill="none" stroke="#a9a824" stroke-width="2.8"/>
<circle cx="711.8" cy="1440" r="31.5" fill="none" stroke="#a9a824" stroke-width="2.8"/>
<circle cx="877.6" cy="1420.6" r="31.5" fill="none" stroke="#a9a824" stroke-width="2.8"/>
<circle cx="687.2" cy="1139.4" r="2.4" fill="#dfe6f6"/>
<circle cx="698.8" cy="1139.4" r="2.4" fill="#dfe6f6"/>
<circle cx="861.6" cy="1114.8" r="2.4" fill="#dfe6f6"/>
<circle cx="856.9" cy="1125.1" r="2.4" fill="#dfe6f6"/>
<circle cx="950.2" cy="1256" r="2.4" fill="#dfe6f6"/>
<circle cx="955.4" cy="1269" r="2.4" fill="#dfe6f6"/>
<circle cx="617.2" cy="1293.6" r="2.4" fill="#dfe6f6"/>
<circle cx="621.9" cy="1305.2" r="2.4" fill="#dfe6f6"/>
<circle cx="714.4" cy="1434.8" r="2.4" fill="#dfe6f6"/>
<circle cx="710" cy="1445.2" r="2.4" fill="#dfe6f6"/>
<circle cx="872.4" cy="1423" r="2.4" fill="#dfe6f6"/>
<circle cx="884.1" cy="1423" r="2.4" fill="#dfe6f6"/>
<rect x="211.4" y="1769.4" width="175.4" height="69" fill="#24349a" opacity="0.92"/>
<text transform="translate(212,1831) scale(0.96,1)" font-family="Liberation Sans, sans-serif" font-size="60" fill="#d8e23c">10 nm</text>
<rect x="213.9" y="1844.6" width="169" height="12.5" fill="#f2ec18"/>
<defs>
<radialGradient id="gSeUpB" cx="0.5" cy="0.5" r="0.5"><stop offset="0" stop-color="#c8f8c0"/><stop offset="0.14" stop-color="#78b070"/><stop offset="0.3" stop-color="#3f7a3a"/><stop offset="0.75" stop-color="#24522a"/><stop offset="1" stop-color="#163a1c"/></radialGradient>
<radialGradient id="gSeUpF" cx="0.5" cy="0.5" r="0.5"><stop offset="0" stop-color="#c0f8b8"/><stop offset="0.13" stop-color="#5a9a52"/><stop offset="0.3" stop-color="#1e5a20"/><stop offset="0.75" stop-color="#0c3a10"/><stop offset="1" stop-color="#072a0a"/></radialGradient>
<radialGradient id="gSeDn" cx="0.5" cy="0.5" r="0.5"><stop offset="0" stop-color="#d0ffd0"/><stop offset="0.15" stop-color="#70f070"/><stop offset="0.35" stop-color="#36d836"/><stop offset="0.8" stop-color="#1fc01f"/><stop offset="1" stop-color="#17a01c"/></radialGradient>
<radialGradient id="gSeDnB" cx="0.5" cy="0.5" r="0.5"><stop offset="0" stop-color="#a8e8c8"/><stop offset="0.4" stop-color="#78cca4"/><stop offset="1" stop-color="#5fb890"/></radialGradient>
<radialGradient id="gTi" cx="0.5" cy="0.5" r="0.5"><stop offset="0" stop-color="#d8e0ff"/><stop offset="0.2" stop-color="#8a98f4"/><stop offset="0.45" stop-color="#6676e4"/><stop offset="1" stop-color="#4c5cd0"/></radialGradient>
<radialGradient id="gTiL" cx="0.5" cy="0.5" r="0.5"><stop offset="0" stop-color="#d0e0ff"/><stop offset="0.2" stop-color="#5a78f0"/><stop offset="0.8" stop-color="#2a48d0"/><stop offset="1" stop-color="#2030b0"/></radialGradient>
<radialGradient id="gCu" cx="0.5" cy="0.5" r="0.5"><stop offset="0" stop-color="#ffe0a0"/><stop offset="0.2" stop-color="#f09030"/><stop offset="0.8" stop-color="#d86a10"/><stop offset="1" stop-color="#a85008"/></radialGradient>
</defs>
<text transform="translate(19.3,2025.9)" font-family="Liberation Sans, sans-serif" font-weight="bold" font-size="119" fill="#000">e</text>
<circle cx="179.8" cy="2026.8" r="34.7" fill="url(#gSeUpB)"/>
<circle cx="392.6" cy="2026.8" r="34.7" fill="url(#gSeUpB)"/>
<circle cx="606.9" cy="2026.8" r="34.7" fill="url(#gSeUpB)"/>
<circle cx="283.9" cy="2203.4" r="34.7" fill="url(#gSeDn)"/>
<circle cx="496.7" cy="2203.4" r="34.7" fill="url(#gSeDn)"/>
<rect x="182.8" y="2026.8" width="424.1" height="197.7" fill="#8fa3bd" fill-opacity="0.97"/>
<rect x="182.8" y="2026.8" width="424.1" height="12" fill="#7f93ae" fill-opacity="0.9"/>
<polygon points="182.8,2051.8 227.8,2111.8 182.8,2204.5" fill="#8597b2"/>
<polygon points="606.9,2051.8 561.9,2111.8 606.9,2204.5" fill="#8597b2"/>
<polygon points="290,2047.8 205,2224.5 375,2224.5" fill="#aac6e6"/>
<polygon points="503.7,2047.8 418.7,2224.5 588.7,2224.5" fill="#aac6e6"/>
<polygon points="392.6,2056.8 440,2136.8 392.6,2214.5 345,2136.8" fill="#8a9db8"/>
<clipPath id="clipbox0"><rect x="182.8" y="2026.8" width="424.1" height="197.7"/></clipPath>
<g clip-path="url(#clipbox0)">
<circle cx="179.8" cy="2026.8" r="34.7" fill="url(#gSeUpB)" opacity="0.5"/>
<circle cx="392.6" cy="2026.8" r="34.7" fill="url(#gSeUpB)" opacity="0.5"/>
<circle cx="606.9" cy="2026.8" r="34.7" fill="url(#gSeUpB)" opacity="0.5"/>
<circle cx="283.9" cy="2203.4" r="34.7" fill="url(#gSeDnB)" fill-opacity="0.9"/>
<circle cx="496.7" cy="2203.4" r="34.7" fill="url(#gSeDnB)" fill-opacity="0.9"/>
</g>
<circle cx="287" cy="2126.4" r="23.4" fill="url(#gTi)"/>
<circle cx="501.3" cy="2126.4" r="23.4" fill="url(#gTi)"/>
<circle cx="290" cy="2047.9" r="34.7" fill="url(#gSeUpF)"/>
<circle cx="503.7" cy="2047.9" r="34.7" fill="url(#gSeUpF)"/>
<circle cx="181.3" cy="2224.5" r="35" fill="url(#gSeDn)"/>
<circle cx="394.1" cy="2224.5" r="35" fill="url(#gSeDn)"/>
<circle cx="608.4" cy="2224.5" r="35" fill="url(#gSeDn)"/>
<circle cx="286" cy="2318" r="24" fill="url(#gCu)"/>
<circle cx="179.8" cy="2396.8" r="34.7" fill="url(#gSeUpB)"/>
<circle cx="392.6" cy="2396.8" r="34.7" fill="url(#gSeUpB)"/>
<circle cx="606.9" cy="2396.8" r="34.7" fill="url(#gSeUpB)"/>
<circle cx="283.9" cy="2573.4" r="34.7" fill="url(#gSeDn)"/>
<circle cx="496.7" cy="2573.4" r="34.7" fill="url(#gSeDn)"/>
<rect x="182.8" y="2396.8" width="424.1" height="197.7" fill="#8fa3bd" fill-opacity="0.97"/>
<rect x="182.8" y="2396.8" width="424.1" height="12" fill="#7f93ae" fill-opacity="0.9"/>
<polygon points="182.8,2421.8 227.8,2481.8 182.8,2574.5" fill="#8597b2"/>
<polygon points="606.9,2421.8 561.9,2481.8 606.9,2574.5" fill="#8597b2"/>
<polygon points="290,2417.8 205,2594.5 375,2594.5" fill="#aac6e6"/>
<polygon points="503.7,2417.8 418.7,2594.5 588.7,2594.5" fill="#aac6e6"/>
<polygon points="392.6,2426.8 440,2506.8 392.6,2584.5 345,2506.8" fill="#8a9db8"/>
<clipPath id="clipbox370"><rect x="182.8" y="2396.8" width="424.1" height="197.7"/></clipPath>
<g clip-path="url(#clipbox370)">
<circle cx="179.8" cy="2396.8" r="34.7" fill="url(#gSeUpB)" opacity="0.5"/>
<circle cx="392.6" cy="2396.8" r="34.7" fill="url(#gSeUpB)" opacity="0.5"/>
<circle cx="606.9" cy="2396.8" r="34.7" fill="url(#gSeUpB)" opacity="0.5"/>
<circle cx="283.9" cy="2573.4" r="34.7" fill="url(#gSeDnB)" fill-opacity="0.9"/>
<circle cx="496.7" cy="2573.4" r="34.7" fill="url(#gSeDnB)" fill-opacity="0.9"/>
</g>
<circle cx="287" cy="2496.4" r="23.4" fill="url(#gTi)"/>
<circle cx="501.3" cy="2496.4" r="23.4" fill="url(#gTi)"/>
<circle cx="290" cy="2417.9" r="34.7" fill="url(#gSeUpF)"/>
<circle cx="503.7" cy="2417.9" r="34.7" fill="url(#gSeUpF)"/>
<circle cx="181.3" cy="2594.5" r="35" fill="url(#gSeDn)"/>
<circle cx="394.1" cy="2594.5" r="35" fill="url(#gSeDn)"/>
<circle cx="608.4" cy="2594.5" r="35" fill="url(#gSeDn)"/>
<circle cx="237.6" cy="2685.1" r="30" fill="url(#gSeUpF)"/>
<circle cx="237.6" cy="2755.3" r="30" fill="url(#gSeDn)"/>
<circle cx="505.2" cy="2686.4" r="22.3" fill="url(#gTiL)"/>
<circle cx="505.2" cy="2757.8" r="22.5" fill="url(#gCu)"/>
<text x="299.8" y="2695.2" font-family="DejaVu Sans, sans-serif" font-size="33" fill="#3a3a3a">Se<tspan font-size="22" dy="5">up</tspan></text>
<text x="299.8" y="2766.6" font-family="DejaVu Sans, sans-serif" font-size="33" fill="#3a3a3a">Se<tspan font-size="22" dy="5">down</tspan></text>
<text x="552" y="2694" font-family="DejaVu Sans, sans-serif" font-size="33" fill="#3a3a3a">Ti</text>
<text x="554" y="2766.6" font-family="DejaVu Sans, sans-serif" font-size="33" fill="#3a3a3a">Cu</text>
<text transform="translate(701.4,2030)" font-family="Liberation Sans, sans-serif" font-weight="bold" font-size="121" fill="#000">f</text>
<defs>
<clipPath id="clipf"><rect x="799" y="1991" width="1530" height="805"/></clipPath>
<filter id="blurF" x="-10%" y="-10%" width="120%" height="120%"><feGaussianBlur stdDeviation="12"/></filter>
<filter id="blurF2" x="-50%" y="-50%" width="200%" height="200%"><feGaussianBlur stdDeviation="14"/></filter>
<radialGradient id="gAtom"><stop offset="0" stop-color="#fff0b0" stop-opacity="0.78"/><stop offset="0.55" stop-color="#ffd878" stop-opacity="0.45"/><stop offset="1" stop-color="#ffc040" stop-opacity="0"/></radialGradient>
<radialGradient id="gAtom2"><stop offset="0" stop-color="#ffe8a0" stop-opacity="0.42"/><stop offset="0.6" stop-color="#ffd070" stop-opacity="0.2"/><stop offset="1" stop-color="#ffc040" stop-opacity="0"/></radialGradient>
<pattern id="pStripe" patternUnits="userSpaceOnUse" width="10" height="9.1" patternTransform="rotate(-33)">
  <rect width="10" height="9.1" fill="#8a1800" fill-opacity="0.16"/><rect y="0" width="10" height="4.5" fill="#ffd060" fill-opacity="0.14"/>
</pattern>
<pattern id="pAtom" patternUnits="userSpaceOnUse" width="21" height="36.4" patternTransform="rotate(-33)"><ellipse cx="-5.2" cy="-9.1" rx="5.2" ry="3.4" fill="url(#gAtom2)"/><ellipse cx="5.2" cy="-9.1" rx="5.2" ry="3.4" fill="url(#gAtom2)"/><ellipse cx="15.8" cy="-9.1" rx="5.2" ry="3.4" fill="url(#gAtom2)"/><ellipse cx="26.2" cy="-9.1" rx="5.2" ry="3.4" fill="url(#gAtom2)"/><ellipse cx="-10.5" cy="0" rx="5.2" ry="3.4" fill="url(#gAtom2)"/><ellipse cx="0" cy="0" rx="5.2" ry="3.4" fill="url(#gAtom2)"/><ellipse cx="10.5" cy="0" rx="5.2" ry="3.4" fill="url(#gAtom2)"/><ellipse cx="21" cy="0" rx="5.2" ry="3.4" fill="url(#gAtom2)"/><ellipse cx="31.5" cy="0" rx="5.2" ry="3.4" fill="url(#gAtom2)"/><ellipse cx="-5.2" cy="9.1" rx="5.2" ry="3.4" fill="url(#gAtom2)"/><ellipse cx="5.2" cy="9.1" rx="5.2" ry="3.4" fill="url(#gAtom2)"/><ellipse cx="15.8" cy="9.1" rx="5.2" ry="3.4" fill="url(#gAtom2)"/><ellipse cx="26.2" cy="9.1" rx="5.2" ry="3.4" fill="url(#gAtom2)"/><ellipse cx="-10.5" cy="18.2" rx="5.2" ry="3.4" fill="url(#gAtom2)"/><ellipse cx="0" cy="18.2" rx="5.2" ry="3.4" fill="url(#gAtom2)"/><ellipse cx="10.5" cy="18.2" rx="5.2" ry="3.4" fill="url(#gAtom2)"/><ellipse cx="21" cy="18.2" rx="5.2" ry="3.4" fill="url(#gAtom2)"/><ellipse cx="31.5" cy="18.2" rx="5.2" ry="3.4" fill="url(#gAtom2)"/><ellipse cx="-5.2" cy="27.3" rx="5.2" ry="3.4" fill="url(#gAtom2)"/><ellipse cx="5.2" cy="27.3" rx="5.2" ry="3.4" fill="url(#gAtom2)"/><ellipse cx="15.8" cy="27.3" rx="5.2" ry="3.4" fill="url(#gAtom2)"/><ellipse cx="26.2" cy="27.3" rx="5.2" ry="3.4" fill="url(#gAtom2)"/><ellipse cx="-10.5" cy="36.4" rx="5.2" ry="3.4" fill="url(#gAtom2)"/><ellipse cx="0" cy="36.4" rx="5.2" ry="3.4" fill="url(#gAtom2)"/><ellipse cx="10.5" cy="36.4" rx="5.2" ry="3.4" fill="url(#gAtom2)"/><ellipse cx="21" cy="36.4" rx="5.2" ry="3.4" fill="url(#gAtom2)"/><ellipse cx="31.5" cy="36.4" rx="5.2" ry="3.4" fill="url(#gAtom2)"/><ellipse cx="-5.2" cy="45.5" rx="5.2" ry="3.4" fill="url(#gAtom2)"/><ellipse cx="5.2" cy="45.5" rx="5.2" ry="3.4" fill="url(#gAtom2)"/><ellipse cx="15.8" cy="45.5" rx="5.2" ry="3.4" fill="url(#gAtom2)"/><ellipse cx="26.2" cy="45.5" rx="5.2" ry="3.4" fill="url(#gAtom2)"/><ellipse cx="0" cy="0" rx="7.5" ry="6.2" fill="url(#gAtom)"/><ellipse cx="21" cy="0" rx="7.5" ry="6.2" fill="url(#gAtom)"/><ellipse cx="0" cy="36.4" rx="7.5" ry="6.2" fill="url(#gAtom)"/><ellipse cx="21" cy="36.4" rx="7.5" ry="6.2" fill="url(#gAtom)"/><ellipse cx="10.5" cy="18.2" rx="7.5" ry="6.2" fill="url(#gAtom)"/></pattern>
</defs>
<g clip-path="url(#clipf)">
<g filter="url(#blurF)"><rect x="767.1" y="1957.5" width="32.9" height="34.5" fill="#c74714"/><rect x="799" y="1957.5" width="32.9" height="34.5" fill="#c44212"/><rect x="830.9" y="1957.5" width="32.9" height="34.5" fill="#cb4d15"/><rect x="862.8" y="1957.5" width="32.9" height="34.5" fill="#e87922"/><rect x="894.6" y="1957.5" width="32.9" height="34.5" fill="#f5ab34"/><rect x="926.5" y="1957.5" width="32.9" height="34.5" fill="#face46"/><rect x="958.4" y="1957.5" width="32.9" height="34.5" fill="#fad350"/><rect x="990.2" y="1957.5" width="32.9" height="34.5" fill="#fad24d"/><rect x="1022.1" y="1957.5" width="32.9" height="34.5" fill="#facd45"/><rect x="1054" y="1957.5" width="32.9" height="34.5" fill="#f7bc3d"/><rect x="1085.9" y="1957.5" width="32.9" height="34.5" fill="#f4a731"/><rect x="1117.8" y="1957.5" width="32.9" height="34.5" fill="#f19a2d"/><rect x="1149.6" y="1957.5" width="32.9" height="34.5" fill="#f4a22f"/><rect x="1181.5" y="1957.5" width="32.9" height="34.5" fill="#f6b438"/><rect x="1213.4" y="1957.5" width="32.9" height="34.5" fill="#f8bd3d"/><rect x="1245.2" y="1957.5" width="32.9" height="34.5" fill="#f7b73a"/><rect x="1277.1" y="1957.5" width="32.9" height="34.5" fill="#f5a932"/><rect x="1309" y="1957.5" width="32.9" height="34.5" fill="#ef922a"/><rect x="1340.9" y="1957.5" width="32.9" height="34.5" fill="#df6b1e"/><rect x="1372.8" y="1957.5" width="32.9" height="34.5" fill="#b7380f"/><rect x="1404.6" y="1957.5" width="32.9" height="34.5" fill="#941d08"/><rect x="1436.5" y="1957.5" width="32.9" height="34.5" fill="#8a1a07"/><rect x="1468.4" y="1957.5" width="32.9" height="34.5" fill="#871907"/><rect x="1500.2" y="1957.5" width="32.9" height="34.5" fill="#891a07"/><rect x="1532.1" y="1957.5" width="32.9" height="34.5" fill="#8e1b07"/><rect x="1564" y="1957.5" width="32.9" height="34.5" fill="#981f08"/><rect x="1595.9" y="1957.5" width="32.9" height="34.5" fill="#af320d"/><rect x="1627.8" y="1957.5" width="32.9" height="34.5" fill="#d35819"/><rect x="1659.6" y="1957.5" width="32.9" height="34.5" fill="#ee8d29"/><rect x="1691.5" y="1957.5" width="32.9" height="34.5" fill="#f5ad35"/><rect x="1723.4" y="1957.5" width="32.9" height="34.5" fill="#f7b73a"/><rect x="1755.2" y="1957.5" width="32.9" height="34.5" fill="#f6b438"/><rect x="1787.1" y="1957.5" width="32.9" height="34.5" fill="#f5ad35"/><rect x="1819" y="1957.5" width="32.9" height="34.5" fill="#f4a531"/><rect x="1850.9" y="1957.5" width="32.9" height="34.5" fill="#f1992d"/><rect x="1882.8" y="1957.5" width="32.9" height="34.5" fill="#ed8b28"/><rect x="1914.6" y="1957.5" width="32.9" height="34.5" fill="#e77722"/><rect x="1946.5" y="1957.5" width="32.9" height="34.5" fill="#d55c1a"/><rect x="1978.4" y="1957.5" width="32.9" height="34.5" fill="#cd4f16"/><rect x="2010.2" y="1957.5" width="32.9" height="34.5" fill="#d55c1a"/><rect x="2042.1" y="1957.5" width="32.9" height="34.5" fill="#e77722"/><rect x="2074" y="1957.5" width="32.9" height="34.5" fill="#ec8827"/><rect x="2105.9" y="1957.5" width="32.9" height="34.5" fill="#ee8d29"/><rect x="2137.8" y="1957.5" width="32.9" height="34.5" fill="#ee8d29"/><rect x="2169.6" y="1957.5" width="32.9" height="34.5" fill="#ec8727"/><rect x="2201.5" y="1957.5" width="32.9" height="34.5" fill="#e77722"/><rect x="2233.4" y="1957.5" width="32.9" height="34.5" fill="#d65c1a"/><rect x="2265.2" y="1957.5" width="32.9" height="34.5" fill="#c94914"/><rect x="2297.1" y="1957.5" width="32.9" height="34.5" fill="#c64413"/><rect x="2329" y="1957.5" width="32.9" height="34.5" fill="#c74713"/><rect x="767.1" y="1991" width="32.9" height="34.5" fill="#c74714"/><rect x="799" y="1991" width="32.9" height="34.5" fill="#c44212"/><rect x="830.9" y="1991" width="32.9" height="34.5" fill="#cb4d15"/><rect x="862.8" y="1991" width="32.9" height="34.5" fill="#e87922"/><rect x="894.6" y="1991" width="32.9" height="34.5" fill="#f5ab34"/><rect x="926.5" y="1991" width="32.9" height="34.5" fill="#face46"/><rect x="958.4" y="1991" width="32.9" height="34.5" fill="#fad34f"/><rect x="990.2" y="1991" width="32.9" height="34.5" fill="#fad14c"/><rect x="1022.1" y="1991" width="32.9" height="34.5" fill="#facc45"/><rect x="1054" y="1991" width="32.9" height="34.5" fill="#f7bb3c"/><rect x="1085.9" y="1991" width="32.9" height="34.5" fill="#f4a531"/><rect x="1117.8" y="1991" width="32.9" height="34.5" fill="#f1992c"/><rect x="1149.6" y="1991" width="32.9" height="34.5" fill="#f3a12f"/><rect x="1181.5" y="1991" width="32.9" height="34.5" fill="#f6b338"/><rect x="1213.4" y="1991" width="32.9" height="34.5" fill="#f7bc3d"/><rect x="1245.2" y="1991" width="32.9" height="34.5" fill="#f7b63a"/><rect x="1277.1" y="1991" width="32.9" height="34.5" fill="#f5a832"/><rect x="1309" y="1991" width="32.9" height="34.5" fill="#ef922a"/><rect x="1340.9" y="1991" width="32.9" height="34.5" fill="#de691e"/><rect x="1372.8" y="1991" width="32.9" height="34.5" fill="#b6370f"/><rect x="1404.6" y="1991" width="32.9" height="34.5" fill="#931d08"/><rect x="1436.5" y="1991" width="32.9" height="34.5" fill="#881907"/><rect x="1468.4" y="1991" width="32.9" height="34.5" fill="#861907"/><rect x="1500.2" y="1991" width="32.9" height="34.5" fill="#871907"/><rect x="1532.1" y="1991" width="32.9" height="34.5" fill="#8c1b07"/><rect x="1564" y="1991" width="32.9" height="34.5" fill="#961e08"/><rect x="1595.9" y="1991" width="32.9" height="34.5" fill="#ad300d"/><rect x="1627.8" y="1991" width="32.9" height="34.5" fill="#d25718"/><rect x="1659.6" y="1991" width="32.9" height="34.5" fill="#ee8d29"/><rect x="1691.5" y="1991" width="32.9" height="34.5" fill="#f5ae35"/><rect x="1723.4" y="1991" width="32.9" height="34.5" fill="#f7b83a"/><rect x="1755.2" y="1991" width="32.9" height="34.5" fill="#f6b439"/><rect x="1787.1" y="1991" width="32.9" height="34.5" fill="#f5ae35"/><rect x="1819" y="1991" width="32.9" height="34.5" fill="#f4a631"/><rect x="1850.9" y="1991" width="32.9" height="34.5" fill="#f19b2d"/><rect x="1882.8" y="1991" width="32.9" height="34.5" fill="#ee8d29"/><rect x="1914.6" y="1991" width="32.9" height="34.5" fill="#e87922"/><rect x="1946.5" y="1991" width="32.9" height="34.5" fill="#d75e1a"/><rect x="1978.4" y="1991" width="32.9" height="34.5" fill="#ce5116"/><rect x="2010.2" y="1991" width="32.9" height="34.5" fill="#d65d1a"/><rect x="2042.1" y="1991" width="32.9" height="34.5" fill="#e77621"/><rect x="2074" y="1991" width="32.9" height="34.5" fill="#ec8626"/><rect x="2105.9" y="1991" width="32.9" height="34.5" fill="#ed8b28"/><rect x="2137.8" y="1991" width="32.9" height="34.5" fill="#ed8a28"/><rect x="2169.6" y="1991" width="32.9" height="34.5" fill="#eb8426"/><rect x="2201.5" y="1991" width="32.9" height="34.5" fill="#e57421"/><rect x="2233.4" y="1991" width="32.9" height="34.5" fill="#d35919"/><rect x="2265.2" y="1991" width="32.9" height="34.5" fill="#c64613"/><rect x="2297.1" y="1991" width="32.9" height="34.5" fill="#c34112"/><rect x="2329" y="1991" width="32.9" height="34.5" fill="#c54312"/><rect x="767.1" y="2024.5" width="32.9" height="34.5" fill="#c74714"/><rect x="799" y="2024.5" width="32.9" height="34.5" fill="#c44212"/><rect x="830.9" y="2024.5" width="32.9" height="34.5" fill="#cb4d15"/><rect x="862.8" y="2024.5" width="32.9" height="34.5" fill="#e87922"/><rect x="894.6" y="2024.5" width="32.9" height="34.5" fill="#f5ab34"/><rect x="926.5" y="2024.5" width="32.9" height="34.5" fill="#face46"/><rect x="958.4" y="2024.5" width="32.9" height="34.5" fill="#fbd450"/><rect x="990.2" y="2024.5" width="32.9" height="34.5" fill="#fad24e"/><rect x="1022.1" y="2024.5" width="32.9" height="34.5" fill="#face46"/><rect x="1054" y="2024.5" width="32.9" height="34.5" fill="#f8be3e"/><rect x="1085.9" y="2024.5" width="32.9" height="34.5" fill="#f5a832"/><rect x="1117.8" y="2024.5" width="32.9" height="34.5" fill="#f29b2d"/><rect x="1149.6" y="2024.5" width="32.9" height="34.5" fill="#f4a330"/><rect x="1181.5" y="2024.5" width="32.9" height="34.5" fill="#f6b439"/><rect x="1213.4" y="2024.5" width="32.9" height="34.5" fill="#f8bd3d"/><rect x="1245.2" y="2024.5" width="32.9" height="34.5" fill="#f7b73a"/><rect x="1277.1" y="2024.5" width="32.9" height="34.5" fill="#f5a933"/><rect x="1309" y="2024.5" width="32.9" height="34.5" fill="#ef922a"/><rect x="1340.9" y="2024.5" width="32.9" height="34.5" fill="#e06c1e"/><rect x="1372.8" y="2024.5" width="32.9" height="34.5" fill="#b93910"/><rect x="1404.6" y="2024.5" width="32.9" height="34.5" fill="#961e08"/><rect x="1436.5" y="2024.5" width="32.9" height="34.5" fill="#8c1b07"/><rect x="1468.4" y="2024.5" width="32.9" height="34.5" fill="#881907"/><rect x="1500.2" y="2024.5" width="32.9" height="34.5" fill="#8a1a07"/><rect x="1532.1" y="2024.5" width="32.9" height="34.5" fill="#8f1c08"/><rect x="1564" y="2024.5" width="32.9" height="34.5" fill="#9a2109"/><rect x="1595.9" y="2024.5" width="32.9" height="34.5" fill="#b2340e"/><rect x="1627.8" y="2024.5" width="32.9" height="34.5" fill="#d45a19"/><rect x="1659.6" y="2024.5" width="32.9" height="34.5" fill="#ee8d29"/><rect x="1691.5" y="2024.5" width="32.9" height="34.5" fill="#f5ac34"/><rect x="1723.4" y="2024.5" width="32.9" height="34.5" fill="#f7b639"/><rect x="1755.2" y="2024.5" width="32.9" height="34.5" fill="#f6b338"/><rect x="1787.1" y="2024.5" width="32.9" height="34.5" fill="#f5ac34"/><rect x="1819" y="2024.5" width="32.9" height="34.5" fill="#f4a430"/><rect x="1850.9" y="2024.5" width="32.9" height="34.5" fill="#f1982c"/><rect x="1882.8" y="2024.5" width="32.9" height="34.5" fill="#ed8a28"/><rect x="1914.6" y="2024.5" width="32.9" height="34.5" fill="#e67521"/><rect x="1946.5" y="2024.5" width="32.9" height="34.5" fill="#d45a19"/><rect x="1978.4" y="2024.5" width="32.9" height="34.5" fill="#cb4d15"/><rect x="2010.2" y="2024.5" width="32.9" height="34.5" fill="#d55b19"/><rect x="2042.1" y="2024.5" width="32.9" height="34.5" fill="#e87822"/><rect x="2074" y="2024.5" width="32.9" height="34.5" fill="#ed8a28"/><rect x="2105.9" y="2024.5" width="32.9" height="34.5" fill="#ee8f29"/><rect x="2137.8" y="2024.5" width="32.9" height="34.5" fill="#ee8f29"/><rect x="2169.6" y="2024.5" width="32.9" height="34.5" fill="#ed8a28"/><rect x="2201.5" y="2024.5" width="32.9" height="34.5" fill="#e97a23"/><rect x="2233.4" y="2024.5" width="32.9" height="34.5" fill="#d8601b"/><rect x="2265.2" y="2024.5" width="32.9" height="34.5" fill="#cb4d15"/><rect x="2297.1" y="2024.5" width="32.9" height="34.5" fill="#c84814"/><rect x="2329" y="2024.5" width="32.9" height="34.5" fill="#ca4a14"/><rect x="767.1" y="2058.1" width="32.9" height="34.5" fill="#c64513"/><rect x="799" y="2058.1" width="32.9" height="34.5" fill="#c24012"/><rect x="830.9" y="2058.1" width="32.9" height="34.5" fill="#ca4b15"/><rect x="862.8" y="2058.1" width="32.9" height="34.5" fill="#e87922"/><rect x="894.6" y="2058.1" width="32.9" height="34.5" fill="#f5ac34"/><rect x="926.5" y="2058.1" width="32.9" height="34.5" fill="#facf48"/><rect x="958.4" y="2058.1" width="32.9" height="34.5" fill="#fbd757"/><rect x="990.2" y="2058.1" width="32.9" height="34.5" fill="#fbd959"/><rect x="1022.1" y="2058.1" width="32.9" height="34.5" fill="#fbd655"/><rect x="1054" y="2058.1" width="32.9" height="34.5" fill="#face47"/><rect x="1085.9" y="2058.1" width="32.9" height="34.5" fill="#f7b83b"/><rect x="1117.8" y="2058.1" width="32.9" height="34.5" fill="#f5aa33"/><rect x="1149.6" y="2058.1" width="32.9" height="34.5" fill="#f6b036"/><rect x="1181.5" y="2058.1" width="32.9" height="34.5" fill="#f8be3e"/><rect x="1213.4" y="2058.1" width="32.9" height="34.5" fill="#f9c441"/><rect x="1245.2" y="2058.1" width="32.9" height="34.5" fill="#f7bb3c"/><rect x="1277.1" y="2058.1" width="32.9" height="34.5" fill="#f5aa33"/><rect x="1309" y="2058.1" width="32.9" height="34.5" fill="#ef932b"/><rect x="1340.9" y="2058.1" width="32.9" height="34.5" fill="#e37120"/><rect x="1372.8" y="2058.1" width="32.9" height="34.5" fill="#c44212"/><rect x="1404.6" y="2058.1" width="32.9" height="34.5" fill="#a52a0b"/><rect x="1436.5" y="2058.1" width="32.9" height="34.5" fill="#961e08"/><rect x="1468.4" y="2058.1" width="32.9" height="34.5" fill="#921d08"/><rect x="1500.2" y="2058.1" width="32.9" height="34.5" fill="#921d08"/><rect x="1532.1" y="2058.1" width="32.9" height="34.5" fill="#9a2109"/><rect x="1564" y="2058.1" width="32.9" height="34.5" fill="#ab2f0d"/><rect x="1595.9" y="2058.1" width="32.9" height="34.5" fill="#c24012"/><rect x="1627.8" y="2058.1" width="32.9" height="34.5" fill="#db651c"/><rect x="1659.6" y="2058.1" width="32.9" height="34.5" fill="#ed8c28"/><rect x="1691.5" y="2058.1" width="32.9" height="34.5" fill="#f4a531"/><rect x="1723.4" y="2058.1" width="32.9" height="34.5" fill="#f6af36"/><rect x="1755.2" y="2058.1" width="32.9" height="34.5" fill="#f6b036"/><rect x="1787.1" y="2058.1" width="32.9" height="34.5" fill="#f5ab33"/><rect x="1819" y="2058.1" width="32.9" height="34.5" fill="#f39f2e"/><rect x="1850.9" y="2058.1" width="32.9" height="34.5" fill="#ee8d29"/><rect x="1882.8" y="2058.1" width="32.9" height="34.5" fill="#e97a23"/><rect x="1914.6" y="2058.1" width="32.9" height="34.5" fill="#d8601b"/><rect x="1946.5" y="2058.1" width="32.9" height="34.5" fill="#c64413"/><rect x="1978.4" y="2058.1" width="32.9" height="34.5" fill="#bf3e11"/><rect x="2010.2" y="2058.1" width="32.9" height="34.5" fill="#d15518"/><rect x="2042.1" y="2058.1" width="32.9" height="34.5" fill="#ea8024"/><rect x="2074" y="2058.1" width="32.9" height="34.5" fill="#f29b2d"/><rect x="2105.9" y="2058.1" width="32.9" height="34.5" fill="#f4a631"/><rect x="2137.8" y="2058.1" width="32.9" height="34.5" fill="#f5a832"/><rect x="2169.6" y="2058.1" width="32.9" height="34.5" fill="#f4a330"/><rect x="2201.5" y="2058.1" width="32.9" height="34.5" fill="#ef932b"/><rect x="2233.4" y="2058.1" width="32.9" height="34.5" fill="#e97c23"/><rect x="2265.2" y="2058.1" width="32.9" height="34.5" fill="#de691d"/><rect x="2297.1" y="2058.1" width="32.9" height="34.5" fill="#db641c"/><rect x="2329" y="2058.1" width="32.9" height="34.5" fill="#dc661d"/><rect x="767.1" y="2091.6" width="32.9" height="34.5" fill="#c54412"/><rect x="799" y="2091.6" width="32.9" height="34.5" fill="#c03f11"/><rect x="830.9" y="2091.6" width="32.9" height="34.5" fill="#c94a14"/><rect x="862.8" y="2091.6" width="32.9" height="34.5" fill="#e87822"/><rect x="894.6" y="2091.6" width="32.9" height="34.5" fill="#f5ac34"/><rect x="926.5" y="2091.6" width="32.9" height="34.5" fill="#fad14b"/><rect x="958.4" y="2091.6" width="32.9" height="34.5" fill="#fbdb5e"/><rect x="990.2" y="2091.6" width="32.9" height="34.5" fill="#fce067"/><rect x="1022.1" y="2091.6" width="32.9" height="34.5" fill="#fce168"/><rect x="1054" y="2091.6" width="32.9" height="34.5" fill="#fbd95a"/><rect x="1085.9" y="2091.6" width="32.9" height="34.5" fill="#facc45"/><rect x="1117.8" y="2091.6" width="32.9" height="34.5" fill="#f8bd3d"/><rect x="1149.6" y="2091.6" width="32.9" height="34.5" fill="#f8c03f"/><rect x="1181.5" y="2091.6" width="32.9" height="34.5" fill="#facb44"/><rect x="1213.4" y="2091.6" width="32.9" height="34.5" fill="#facd46"/><rect x="1245.2" y="2091.6" width="32.9" height="34.5" fill="#f8c13f"/><rect x="1277.1" y="2091.6" width="32.9" height="34.5" fill="#f5ac34"/><rect x="1309" y="2091.6" width="32.9" height="34.5" fill="#f0952b"/><rect x="1340.9" y="2091.6" width="32.9" height="34.5" fill="#e87922"/><rect x="1372.8" y="2091.6" width="32.9" height="34.5" fill="#d15518"/><rect x="1404.6" y="2091.6" width="32.9" height="34.5" fill="#bc3c10"/><rect x="1436.5" y="2091.6" width="32.9" height="34.5" fill="#ac300d"/><rect x="1468.4" y="2091.6" width="32.9" height="34.5" fill="#a4290b"/><rect x="1500.2" y="2091.6" width="32.9" height="34.5" fill="#a4290b"/><rect x="1532.1" y="2091.6" width="32.9" height="34.5" fill="#b0320e"/><rect x="1564" y="2091.6" width="32.9" height="34.5" fill="#c44212"/><rect x="1595.9" y="2091.6" width="32.9" height="34.5" fill="#d55b19"/><rect x="1627.8" y="2091.6" width="32.9" height="34.5" fill="#e67521"/><rect x="1659.6" y="2091.6" width="32.9" height="34.5" fill="#ed8b28"/><rect x="1691.5" y="2091.6" width="32.9" height="34.5" fill="#f29b2d"/><rect x="1723.4" y="2091.6" width="32.9" height="34.5" fill="#f4a531"/><rect x="1755.2" y="2091.6" width="32.9" height="34.5" fill="#f5aa33"/><rect x="1787.1" y="2091.6" width="32.9" height="34.5" fill="#f4a731"/><rect x="1819" y="2091.6" width="32.9" height="34.5" fill="#f0962c"/><rect x="1850.9" y="2091.6" width="32.9" height="34.5" fill="#e97d24"/><rect x="1882.8" y="2091.6" width="32.9" height="34.5" fill="#d9621b"/><rect x="1914.6" y="2091.6" width="32.9" height="34.5" fill="#c54413"/><rect x="1946.5" y="2091.6" width="32.9" height="34.5" fill="#ae310d"/><rect x="1978.4" y="2091.6" width="32.9" height="34.5" fill="#ab2e0d"/><rect x="2010.2" y="2091.6" width="32.9" height="34.5" fill="#cb4d15"/><rect x="2042.1" y="2091.6" width="32.9" height="34.5" fill="#ed8a28"/><rect x="2074" y="2091.6" width="32.9" height="34.5" fill="#f6b237"/><rect x="2105.9" y="2091.6" width="32.9" height="34.5" fill="#f8c240"/><rect x="2137.8" y="2091.6" width="32.9" height="34.5" fill="#f9c642"/><rect x="2169.6" y="2091.6" width="32.9" height="34.5" fill="#f8c240"/><rect x="2201.5" y="2091.6" width="32.9" height="34.5" fill="#f6b338"/><rect x="2233.4" y="2091.6" width="32.9" height="34.5" fill="#f29d2e"/><rect x="2265.2" y="2091.6" width="32.9" height="34.5" fill="#ed8b28"/><rect x="2297.1" y="2091.6" width="32.9" height="34.5" fill="#ec8727"/><rect x="2329" y="2091.6" width="32.9" height="34.5" fill="#ed8927"/><rect x="767.1" y="2125.2" width="32.9" height="34.5" fill="#c74714"/><rect x="799" y="2125.2" width="32.9" height="34.5" fill="#c44212"/><rect x="830.9" y="2125.2" width="32.9" height="34.5" fill="#cb4d15"/><rect x="862.8" y="2125.2" width="32.9" height="34.5" fill="#e87822"/><rect x="894.6" y="2125.2" width="32.9" height="34.5" fill="#f5a932"/><rect x="926.5" y="2125.2" width="32.9" height="34.5" fill="#face46"/><rect x="958.4" y="2125.2" width="32.9" height="34.5" fill="#fbd95a"/><rect x="990.2" y="2125.2" width="32.9" height="34.5" fill="#fcdf64"/><rect x="1022.1" y="2125.2" width="32.9" height="34.5" fill="#fce066"/><rect x="1054" y="2125.2" width="32.9" height="34.5" fill="#fbd95a"/><rect x="1085.9" y="2125.2" width="32.9" height="34.5" fill="#facc45"/><rect x="1117.8" y="2125.2" width="32.9" height="34.5" fill="#f8bd3d"/><rect x="1149.6" y="2125.2" width="32.9" height="34.5" fill="#f8c03f"/><rect x="1181.5" y="2125.2" width="32.9" height="34.5" fill="#facb44"/><rect x="1213.4" y="2125.2" width="32.9" height="34.5" fill="#face46"/><rect x="1245.2" y="2125.2" width="32.9" height="34.5" fill="#f8c240"/><rect x="1277.1" y="2125.2" width="32.9" height="34.5" fill="#f6b036"/><rect x="1309" y="2125.2" width="32.9" height="34.5" fill="#f29b2d"/><rect x="1340.9" y="2125.2" width="32.9" height="34.5" fill="#ec8626"/><rect x="1372.8" y="2125.2" width="32.9" height="34.5" fill="#e16e1f"/><rect x="1404.6" y="2125.2" width="32.9" height="34.5" fill="#d25818"/><rect x="1436.5" y="2125.2" width="32.9" height="34.5" fill="#c74613"/><rect x="1468.4" y="2125.2" width="32.9" height="34.5" fill="#bd3c10"/><rect x="1500.2" y="2125.2" width="32.9" height="34.5" fill="#bb3b10"/><rect x="1532.1" y="2125.2" width="32.9" height="34.5" fill="#c74713"/><rect x="1564" y="2125.2" width="32.9" height="34.5" fill="#d9611b"/><rect x="1595.9" y="2125.2" width="32.9" height="34.5" fill="#e87822"/><rect x="1627.8" y="2125.2" width="32.9" height="34.5" fill="#eb8326"/><rect x="1659.6" y="2125.2" width="32.9" height="34.5" fill="#ed8c28"/><rect x="1691.5" y="2125.2" width="32.9" height="34.5" fill="#ef922a"/><rect x="1723.4" y="2125.2" width="32.9" height="34.5" fill="#f1992d"/><rect x="1755.2" y="2125.2" width="32.9" height="34.5" fill="#f29e2e"/><rect x="1787.1" y="2125.2" width="32.9" height="34.5" fill="#f29b2d"/><rect x="1819" y="2125.2" width="32.9" height="34.5" fill="#ed8c28"/><rect x="1850.9" y="2125.2" width="32.9" height="34.5" fill="#e57321"/><rect x="1882.8" y="2125.2" width="32.9" height="34.5" fill="#d25818"/><rect x="1914.6" y="2125.2" width="32.9" height="34.5" fill="#bb3b10"/><rect x="1946.5" y="2125.2" width="32.9" height="34.5" fill="#a2270b"/><rect x="1978.4" y="2125.2" width="32.9" height="34.5" fill="#9f250a"/><rect x="2010.2" y="2125.2" width="32.9" height="34.5" fill="#c84814"/><rect x="2042.1" y="2125.2" width="32.9" height="34.5" fill="#ee8f29"/><rect x="2074" y="2125.2" width="32.9" height="34.5" fill="#f8bd3d"/><rect x="2105.9" y="2125.2" width="32.9" height="34.5" fill="#face46"/><rect x="2137.8" y="2125.2" width="32.9" height="34.5" fill="#fad049"/><rect x="2169.6" y="2125.2" width="32.9" height="34.5" fill="#face46"/><rect x="2201.5" y="2125.2" width="32.9" height="34.5" fill="#f8c340"/><rect x="2233.4" y="2125.2" width="32.9" height="34.5" fill="#f6b137"/><rect x="2265.2" y="2125.2" width="32.9" height="34.5" fill="#f4a430"/><rect x="2297.1" y="2125.2" width="32.9" height="34.5" fill="#f3a12f"/><rect x="2329" y="2125.2" width="32.9" height="34.5" fill="#f4a22f"/><rect x="767.1" y="2158.7" width="32.9" height="34.5" fill="#d25718"/><rect x="799" y="2158.7" width="32.9" height="34.5" fill="#cf5317"/><rect x="830.9" y="2158.7" width="32.9" height="34.5" fill="#d55b19"/><rect x="862.8" y="2158.7" width="32.9" height="34.5" fill="#e97b23"/><rect x="894.6" y="2158.7" width="32.9" height="34.5" fill="#f3a02f"/><rect x="926.5" y="2158.7" width="32.9" height="34.5" fill="#f7ba3c"/><rect x="958.4" y="2158.7" width="32.9" height="34.5" fill="#f9c441"/><rect x="990.2" y="2158.7" width="32.9" height="34.5" fill="#f9c541"/><rect x="1022.1" y="2158.7" width="32.9" height="34.5" fill="#f8c03f"/><rect x="1054" y="2158.7" width="32.9" height="34.5" fill="#f6b438"/><rect x="1085.9" y="2158.7" width="32.9" height="34.5" fill="#f4a330"/><rect x="1117.8" y="2158.7" width="32.9" height="34.5" fill="#f19a2d"/><rect x="1149.6" y="2158.7" width="32.9" height="34.5" fill="#f4a330"/><rect x="1181.5" y="2158.7" width="32.9" height="34.5" fill="#f6b338"/><rect x="1213.4" y="2158.7" width="32.9" height="34.5" fill="#f8be3e"/><rect x="1245.2" y="2158.7" width="32.9" height="34.5" fill="#f8bd3d"/><rect x="1277.1" y="2158.7" width="32.9" height="34.5" fill="#f7b639"/><rect x="1309" y="2158.7" width="32.9" height="34.5" fill="#f5ac34"/><rect x="1340.9" y="2158.7" width="32.9" height="34.5" fill="#f29e2e"/><rect x="1372.8" y="2158.7" width="32.9" height="34.5" fill="#ee8d29"/><rect x="1404.6" y="2158.7" width="32.9" height="34.5" fill="#ea7e24"/><rect x="1436.5" y="2158.7" width="32.9" height="34.5" fill="#e26f1f"/><rect x="1468.4" y="2158.7" width="32.9" height="34.5" fill="#d8601b"/><rect x="1500.2" y="2158.7" width="32.9" height="34.5" fill="#d55c1a"/><rect x="1532.1" y="2158.7" width="32.9" height="34.5" fill="#e06c1e"/><rect x="1564" y="2158.7" width="32.9" height="34.5" fill="#eb8426"/><rect x="1595.9" y="2158.7" width="32.9" height="34.5" fill="#ef932b"/><rect x="1627.8" y="2158.7" width="32.9" height="34.5" fill="#f0962b"/><rect x="1659.6" y="2158.7" width="32.9" height="34.5" fill="#ef922a"/><rect x="1691.5" y="2158.7" width="32.9" height="34.5" fill="#ee8d29"/><rect x="1723.4" y="2158.7" width="32.9" height="34.5" fill="#ec8827"/><rect x="1755.2" y="2158.7" width="32.9" height="34.5" fill="#eb8225"/><rect x="1787.1" y="2158.7" width="32.9" height="34.5" fill="#e97b23"/><rect x="1819" y="2158.7" width="32.9" height="34.5" fill="#e77722"/><rect x="1850.9" y="2158.7" width="32.9" height="34.5" fill="#e47220"/><rect x="1882.8" y="2158.7" width="32.9" height="34.5" fill="#dc661d"/><rect x="1914.6" y="2158.7" width="32.9" height="34.5" fill="#c74613"/><rect x="1946.5" y="2158.7" width="32.9" height="34.5" fill="#a72b0c"/><rect x="1978.4" y="2158.7" width="32.9" height="34.5" fill="#9f250a"/><rect x="2010.2" y="2158.7" width="32.9" height="34.5" fill="#c54312"/><rect x="2042.1" y="2158.7" width="32.9" height="34.5" fill="#ec8827"/><rect x="2074" y="2158.7" width="32.9" height="34.5" fill="#f6b438"/><rect x="2105.9" y="2158.7" width="32.9" height="34.5" fill="#f8be3e"/><rect x="2137.8" y="2158.7" width="32.9" height="34.5" fill="#f7b93b"/><rect x="2169.6" y="2158.7" width="32.9" height="34.5" fill="#f6b438"/><rect x="2201.5" y="2158.7" width="32.9" height="34.5" fill="#f6b237"/><rect x="2233.4" y="2158.7" width="32.9" height="34.5" fill="#f6b036"/><rect x="2265.2" y="2158.7" width="32.9" height="34.5" fill="#f5ae35"/><rect x="2297.1" y="2158.7" width="32.9" height="34.5" fill="#f5ad35"/><rect x="2329" y="2158.7" width="32.9" height="34.5" fill="#f5ad35"/><rect x="767.1" y="2192.2" width="32.9" height="34.5" fill="#e06b1e"/><rect x="799" y="2192.2" width="32.9" height="34.5" fill="#de691e"/><rect x="830.9" y="2192.2" width="32.9" height="34.5" fill="#e16e1f"/><rect x="862.8" y="2192.2" width="32.9" height="34.5" fill="#ea7f24"/><rect x="894.6" y="2192.2" width="32.9" height="34.5" fill="#ef932b"/><rect x="926.5" y="2192.2" width="32.9" height="34.5" fill="#f29e2e"/><rect x="958.4" y="2192.2" width="32.9" height="34.5" fill="#f1982c"/><rect x="990.2" y="2192.2" width="32.9" height="34.5" fill="#ec8827"/><rect x="1022.1" y="2192.2" width="32.9" height="34.5" fill="#e87a23"/><rect x="1054" y="2192.2" width="32.9" height="34.5" fill="#df6b1e"/><rect x="1085.9" y="2192.2" width="32.9" height="34.5" fill="#d75e1a"/><rect x="1117.8" y="2192.2" width="32.9" height="34.5" fill="#d65d1a"/><rect x="1149.6" y="2192.2" width="32.9" height="34.5" fill="#e47220"/><rect x="1181.5" y="2192.2" width="32.9" height="34.5" fill="#ee8f29"/><rect x="1213.4" y="2192.2" width="32.9" height="34.5" fill="#f4a631"/><rect x="1245.2" y="2192.2" width="32.9" height="34.5" fill="#f6b438"/><rect x="1277.1" y="2192.2" width="32.9" height="34.5" fill="#f8bd3d"/><rect x="1309" y="2192.2" width="32.9" height="34.5" fill="#f8c13f"/><rect x="1340.9" y="2192.2" width="32.9" height="34.5" fill="#f7bb3c"/><rect x="1372.8" y="2192.2" width="32.9" height="34.5" fill="#f6af36"/><rect x="1404.6" y="2192.2" width="32.9" height="34.5" fill="#f4a330"/><rect x="1436.5" y="2192.2" width="32.9" height="34.5" fill="#f0952b"/><rect x="1468.4" y="2192.2" width="32.9" height="34.5" fill="#ec8827"/><rect x="1500.2" y="2192.2" width="32.9" height="34.5" fill="#eb8326"/><rect x="1532.1" y="2192.2" width="32.9" height="34.5" fill="#ee8f29"/><rect x="1564" y="2192.2" width="32.9" height="34.5" fill="#f4a430"/><rect x="1595.9" y="2192.2" width="32.9" height="34.5" fill="#f6af36"/><rect x="1627.8" y="2192.2" width="32.9" height="34.5" fill="#f5a933"/><rect x="1659.6" y="2192.2" width="32.9" height="34.5" fill="#f19a2d"/><rect x="1691.5" y="2192.2" width="32.9" height="34.5" fill="#ed8927"/><rect x="1723.4" y="2192.2" width="32.9" height="34.5" fill="#e57421"/><rect x="1755.2" y="2192.2" width="32.9" height="34.5" fill="#d35919"/><rect x="1787.1" y="2192.2" width="32.9" height="34.5" fill="#ca4b15"/><rect x="1819" y="2192.2" width="32.9" height="34.5" fill="#d45a19"/><rect x="1850.9" y="2192.2" width="32.9" height="34.5" fill="#e87722"/><rect x="1882.8" y="2192.2" width="32.9" height="34.5" fill="#ea8125"/><rect x="1914.6" y="2192.2" width="32.9" height="34.5" fill="#db641c"/><rect x="1946.5" y="2192.2" width="32.9" height="34.5" fill="#b8390f"/><rect x="1978.4" y="2192.2" width="32.9" height="34.5" fill="#a62b0b"/><rect x="2010.2" y="2192.2" width="32.9" height="34.5" fill="#c34112"/><rect x="2042.1" y="2192.2" width="32.9" height="34.5" fill="#e97c23"/><rect x="2074" y="2192.2" width="32.9" height="34.5" fill="#f29e2e"/><rect x="2105.9" y="2192.2" width="32.9" height="34.5" fill="#f29e2e"/><rect x="2137.8" y="2192.2" width="32.9" height="34.5" fill="#ee8e29"/><rect x="2169.6" y="2192.2" width="32.9" height="34.5" fill="#ec8526"/><rect x="2201.5" y="2192.2" width="32.9" height="34.5" fill="#ef912a"/><rect x="2233.4" y="2192.2" width="32.9" height="34.5" fill="#f4a330"/><rect x="2265.2" y="2192.2" width="32.9" height="34.5" fill="#f6b137"/><rect x="2297.1" y="2192.2" width="32.9" height="34.5" fill="#f6b438"/><rect x="2329" y="2192.2" width="32.9" height="34.5" fill="#f6b237"/><rect x="767.1" y="2225.8" width="32.9" height="34.5" fill="#e77722"/><rect x="799" y="2225.8" width="32.9" height="34.5" fill="#e77622"/><rect x="830.9" y="2225.8" width="32.9" height="34.5" fill="#e87822"/><rect x="862.8" y="2225.8" width="32.9" height="34.5" fill="#ea7f24"/><rect x="894.6" y="2225.8" width="32.9" height="34.5" fill="#ed8927"/><rect x="926.5" y="2225.8" width="32.9" height="34.5" fill="#ed8a28"/><rect x="958.4" y="2225.8" width="32.9" height="34.5" fill="#e87922"/><rect x="990.2" y="2225.8" width="32.9" height="34.5" fill="#d55b19"/><rect x="1022.1" y="2225.8" width="32.9" height="34.5" fill="#c44212"/><rect x="1054" y="2225.8" width="32.9" height="34.5" fill="#b6370f"/><rect x="1085.9" y="2225.8" width="32.9" height="34.5" fill="#ae310d"/><rect x="1117.8" y="2225.8" width="32.9" height="34.5" fill="#b2340e"/><rect x="1149.6" y="2225.8" width="32.9" height="34.5" fill="#c84814"/><rect x="1181.5" y="2225.8" width="32.9" height="34.5" fill="#e47220"/><rect x="1213.4" y="2225.8" width="32.9" height="34.5" fill="#ef922a"/><rect x="1245.2" y="2225.8" width="32.9" height="34.5" fill="#f5ab34"/><rect x="1277.1" y="2225.8" width="32.9" height="34.5" fill="#f8c13f"/><rect x="1309" y="2225.8" width="32.9" height="34.5" fill="#face46"/><rect x="1340.9" y="2225.8" width="32.9" height="34.5" fill="#face47"/><rect x="1372.8" y="2225.8" width="32.9" height="34.5" fill="#f9c742"/><rect x="1404.6" y="2225.8" width="32.9" height="34.5" fill="#f8bd3d"/><rect x="1436.5" y="2225.8" width="32.9" height="34.5" fill="#f6b137"/><rect x="1468.4" y="2225.8" width="32.9" height="34.5" fill="#f4a22f"/><rect x="1500.2" y="2225.8" width="32.9" height="34.5" fill="#f29b2d"/><rect x="1532.1" y="2225.8" width="32.9" height="34.5" fill="#f4a530"/><rect x="1564" y="2225.8" width="32.9" height="34.5" fill="#f7b639"/><rect x="1595.9" y="2225.8" width="32.9" height="34.5" fill="#f8bd3d"/><rect x="1627.8" y="2225.8" width="32.9" height="34.5" fill="#f6b338"/><rect x="1659.6" y="2225.8" width="32.9" height="34.5" fill="#f3a02f"/><rect x="1691.5" y="2225.8" width="32.9" height="34.5" fill="#ed8a28"/><rect x="1723.4" y="2225.8" width="32.9" height="34.5" fill="#df6b1e"/><rect x="1755.2" y="2225.8" width="32.9" height="34.5" fill="#c74613"/><rect x="1787.1" y="2225.8" width="32.9" height="34.5" fill="#bb3b10"/><rect x="1819" y="2225.8" width="32.9" height="34.5" fill="#d15518"/><rect x="1850.9" y="2225.8" width="32.9" height="34.5" fill="#ec8526"/><rect x="1882.8" y="2225.8" width="32.9" height="34.5" fill="#f29b2d"/><rect x="1914.6" y="2225.8" width="32.9" height="34.5" fill="#ec8526"/><rect x="1946.5" y="2225.8" width="32.9" height="34.5" fill="#d15518"/><rect x="1978.4" y="2225.8" width="32.9" height="34.5" fill="#bb3b10"/><rect x="2010.2" y="2225.8" width="32.9" height="34.5" fill="#ca4b15"/><rect x="2042.1" y="2225.8" width="32.9" height="34.5" fill="#e57421"/><rect x="2074" y="2225.8" width="32.9" height="34.5" fill="#ed8a28"/><rect x="2105.9" y="2225.8" width="32.9" height="34.5" fill="#ea7f24"/><rect x="2137.8" y="2225.8" width="32.9" height="34.5" fill="#da631c"/><rect x="2169.6" y="2225.8" width="32.9" height="34.5" fill="#d25818"/><rect x="2201.5" y="2225.8" width="32.9" height="34.5" fill="#e57421"/><rect x="2233.4" y="2225.8" width="32.9" height="34.5" fill="#f19a2d"/><rect x="2265.2" y="2225.8" width="32.9" height="34.5" fill="#f6b539"/><rect x="2297.1" y="2225.8" width="32.9" height="34.5" fill="#f7bb3c"/><rect x="2329" y="2225.8" width="32.9" height="34.5" fill="#f7b83a"/><rect x="767.1" y="2259.3" width="32.9" height="34.5" fill="#e57421"/><rect x="799" y="2259.3" width="32.9" height="34.5" fill="#e57321"/><rect x="830.9" y="2259.3" width="32.9" height="34.5" fill="#e67421"/><rect x="862.8" y="2259.3" width="32.9" height="34.5" fill="#e97b23"/><rect x="894.6" y="2259.3" width="32.9" height="34.5" fill="#eb8225"/><rect x="926.5" y="2259.3" width="32.9" height="34.5" fill="#eb8326"/><rect x="958.4" y="2259.3" width="32.9" height="34.5" fill="#e87822"/><rect x="990.2" y="2259.3" width="32.9" height="34.5" fill="#d9621b"/><rect x="1022.1" y="2259.3" width="32.9" height="34.5" fill="#cb4d15"/><rect x="1054" y="2259.3" width="32.9" height="34.5" fill="#ba3b10"/><rect x="1085.9" y="2259.3" width="32.9" height="34.5" fill="#a92d0c"/><rect x="1117.8" y="2259.3" width="32.9" height="34.5" fill="#a62a0b"/><rect x="1149.6" y="2259.3" width="32.9" height="34.5" fill="#bc3c10"/><rect x="1181.5" y="2259.3" width="32.9" height="34.5" fill="#db641c"/><rect x="1213.4" y="2259.3" width="32.9" height="34.5" fill="#ed8927"/><rect x="1245.2" y="2259.3" width="32.9" height="34.5" fill="#f4a430"/><rect x="1277.1" y="2259.3" width="32.9" height="34.5" fill="#f7bc3c"/><rect x="1309" y="2259.3" width="32.9" height="34.5" fill="#facc45"/><rect x="1340.9" y="2259.3" width="32.9" height="34.5" fill="#fad04a"/><rect x="1372.8" y="2259.3" width="32.9" height="34.5" fill="#facf49"/><rect x="1404.6" y="2259.3" width="32.9" height="34.5" fill="#facb45"/><rect x="1436.5" y="2259.3" width="32.9" height="34.5" fill="#f8bf3e"/><rect x="1468.4" y="2259.3" width="32.9" height="34.5" fill="#f6af36"/><rect x="1500.2" y="2259.3" width="32.9" height="34.5" fill="#f4a530"/><rect x="1532.1" y="2259.3" width="32.9" height="34.5" fill="#f5a832"/><rect x="1564" y="2259.3" width="32.9" height="34.5" fill="#f6b237"/><rect x="1595.9" y="2259.3" width="32.9" height="34.5" fill="#f7b639"/><rect x="1627.8" y="2259.3" width="32.9" height="34.5" fill="#f5ad35"/><rect x="1659.6" y="2259.3" width="32.9" height="34.5" fill="#f39f2e"/><rect x="1691.5" y="2259.3" width="32.9" height="34.5" fill="#ee8f29"/><rect x="1723.4" y="2259.3" width="32.9" height="34.5" fill="#e97d24"/><rect x="1755.2" y="2259.3" width="32.9" height="34.5" fill="#dd671d"/><rect x="1787.1" y="2259.3" width="32.9" height="34.5" fill="#d9621b"/><rect x="1819" y="2259.3" width="32.9" height="34.5" fill="#ea8024"/><rect x="1850.9" y="2259.3" width="32.9" height="34.5" fill="#f4a732"/><rect x="1882.8" y="2259.3" width="32.9" height="34.5" fill="#f7bc3c"/><rect x="1914.6" y="2259.3" width="32.9" height="34.5" fill="#f5ac34"/><rect x="1946.5" y="2259.3" width="32.9" height="34.5" fill="#ed8927"/><rect x="1978.4" y="2259.3" width="32.9" height="34.5" fill="#e16e1f"/><rect x="2010.2" y="2259.3" width="32.9" height="34.5" fill="#e06b1e"/><rect x="2042.1" y="2259.3" width="32.9" height="34.5" fill="#e67521"/><rect x="2074" y="2259.3" width="32.9" height="34.5" fill="#e77722"/><rect x="2105.9" y="2259.3" width="32.9" height="34.5" fill="#d9611b"/><rect x="2137.8" y="2259.3" width="32.9" height="34.5" fill="#c54312"/><rect x="2169.6" y="2259.3" width="32.9" height="34.5" fill="#c03f11"/><rect x="2201.5" y="2259.3" width="32.9" height="34.5" fill="#db641c"/><rect x="2233.4" y="2259.3" width="32.9" height="34.5" fill="#f19a2d"/><rect x="2265.2" y="2259.3" width="32.9" height="34.5" fill="#f8be3e"/><rect x="2297.1" y="2259.3" width="32.9" height="34.5" fill="#f9c742"/><rect x="2329" y="2259.3" width="32.9" height="34.5" fill="#f8c240"/><rect x="767.1" y="2292.9" width="32.9" height="34.5" fill="#dd671d"/><rect x="799" y="2292.9" width="32.9" height="34.5" fill="#dc661d"/><rect x="830.9" y="2292.9" width="32.9" height="34.5" fill="#de681d"/><rect x="862.8" y="2292.9" width="32.9" height="34.5" fill="#e47220"/><rect x="894.6" y="2292.9" width="32.9" height="34.5" fill="#ea7e24"/><rect x="926.5" y="2292.9" width="32.9" height="34.5" fill="#eb8426"/><rect x="958.4" y="2292.9" width="32.9" height="34.5" fill="#ec8526"/><rect x="990.2" y="2292.9" width="32.9" height="34.5" fill="#eb8225"/><rect x="1022.1" y="2292.9" width="32.9" height="34.5" fill="#e87822"/><rect x="1054" y="2292.9" width="32.9" height="34.5" fill="#d45a19"/><rect x="1085.9" y="2292.9" width="32.9" height="34.5" fill="#b93910"/><rect x="1117.8" y="2292.9" width="32.9" height="34.5" fill="#aa2e0c"/><rect x="1149.6" y="2292.9" width="32.9" height="34.5" fill="#bc3b10"/><rect x="1181.5" y="2292.9" width="32.9" height="34.5" fill="#d9611b"/><rect x="1213.4" y="2292.9" width="32.9" height="34.5" fill="#eb8526"/><rect x="1245.2" y="2292.9" width="32.9" height="34.5" fill="#f29d2e"/><rect x="1277.1" y="2292.9" width="32.9" height="34.5" fill="#f6b338"/><rect x="1309" y="2292.9" width="32.9" height="34.5" fill="#f8c340"/><rect x="1340.9" y="2292.9" width="32.9" height="34.5" fill="#facd46"/><rect x="1372.8" y="2292.9" width="32.9" height="34.5" fill="#fad04a"/><rect x="1404.6" y="2292.9" width="32.9" height="34.5" fill="#facf49"/><rect x="1436.5" y="2292.9" width="32.9" height="34.5" fill="#f9c541"/><rect x="1468.4" y="2292.9" width="32.9" height="34.5" fill="#f6b338"/><rect x="1500.2" y="2292.9" width="32.9" height="34.5" fill="#f4a530"/><rect x="1532.1" y="2292.9" width="32.9" height="34.5" fill="#f3a12f"/><rect x="1564" y="2292.9" width="32.9" height="34.5" fill="#f3a22f"/><rect x="1595.9" y="2292.9" width="32.9" height="34.5" fill="#f3a22f"/><rect x="1627.8" y="2292.9" width="32.9" height="34.5" fill="#f39f2e"/><rect x="1659.6" y="2292.9" width="32.9" height="34.5" fill="#f29b2d"/><rect x="1691.5" y="2292.9" width="32.9" height="34.5" fill="#f1992d"/><rect x="1723.4" y="2292.9" width="32.9" height="34.5" fill="#f1982c"/><rect x="1755.2" y="2292.9" width="32.9" height="34.5" fill="#f1992d"/><rect x="1787.1" y="2292.9" width="32.9" height="34.5" fill="#f3a02f"/><rect x="1819" y="2292.9" width="32.9" height="34.5" fill="#f6b539"/><rect x="1850.9" y="2292.9" width="32.9" height="34.5" fill="#facf48"/><rect x="1882.8" y="2292.9" width="32.9" height="34.5" fill="#fbd756"/><rect x="1914.6" y="2292.9" width="32.9" height="34.5" fill="#fad24d"/><rect x="1946.5" y="2292.9" width="32.9" height="34.5" fill="#f8bf3e"/><rect x="1978.4" y="2292.9" width="32.9" height="34.5" fill="#f5a832"/><rect x="2010.2" y="2292.9" width="32.9" height="34.5" fill="#ef922a"/><rect x="2042.1" y="2292.9" width="32.9" height="34.5" fill="#e97a23"/><rect x="2074" y="2292.9" width="32.9" height="34.5" fill="#d9611b"/><rect x="2105.9" y="2292.9" width="32.9" height="34.5" fill="#c64513"/><rect x="2137.8" y="2292.9" width="32.9" height="34.5" fill="#b1330e"/><rect x="2169.6" y="2292.9" width="32.9" height="34.5" fill="#b1330e"/><rect x="2201.5" y="2292.9" width="32.9" height="34.5" fill="#d55c1a"/><rect x="2233.4" y="2292.9" width="32.9" height="34.5" fill="#f29e2e"/><rect x="2265.2" y="2292.9" width="32.9" height="34.5" fill="#f9c843"/><rect x="2297.1" y="2292.9" width="32.9" height="34.5" fill="#fad04a"/><rect x="2329" y="2292.9" width="32.9" height="34.5" fill="#face46"/><rect x="767.1" y="2326.4" width="32.9" height="34.5" fill="#d15618"/><rect x="799" y="2326.4" width="32.9" height="34.5" fill="#d05417"/><rect x="830.9" y="2326.4" width="32.9" height="34.5" fill="#d25818"/><rect x="862.8" y="2326.4" width="32.9" height="34.5" fill="#dd671d"/><rect x="894.6" y="2326.4" width="32.9" height="34.5" fill="#e97c23"/><rect x="926.5" y="2326.4" width="32.9" height="34.5" fill="#ed8a28"/><rect x="958.4" y="2326.4" width="32.9" height="34.5" fill="#ef922a"/><rect x="990.2" y="2326.4" width="32.9" height="34.5" fill="#f1972c"/><rect x="1022.1" y="2326.4" width="32.9" height="34.5" fill="#ef922a"/><rect x="1054" y="2326.4" width="32.9" height="34.5" fill="#e87922"/><rect x="1085.9" y="2326.4" width="32.9" height="34.5" fill="#cc4e16"/><rect x="1117.8" y="2326.4" width="32.9" height="34.5" fill="#bb3b10"/><rect x="1149.6" y="2326.4" width="32.9" height="34.5" fill="#c74714"/><rect x="1181.5" y="2326.4" width="32.9" height="34.5" fill="#e06c1e"/><rect x="1213.4" y="2326.4" width="32.9" height="34.5" fill="#ed8a28"/><rect x="1245.2" y="2326.4" width="32.9" height="34.5" fill="#f29e2e"/><rect x="1277.1" y="2326.4" width="32.9" height="34.5" fill="#f6b036"/><rect x="1309" y="2326.4" width="32.9" height="34.5" fill="#f8bd3d"/><rect x="1340.9" y="2326.4" width="32.9" height="34.5" fill="#f9c843"/><rect x="1372.8" y="2326.4" width="32.9" height="34.5" fill="#face47"/><rect x="1404.6" y="2326.4" width="32.9" height="34.5" fill="#face46"/><rect x="1436.5" y="2326.4" width="32.9" height="34.5" fill="#f8c13f"/><rect x="1468.4" y="2326.4" width="32.9" height="34.5" fill="#f5ac34"/><rect x="1500.2" y="2326.4" width="32.9" height="34.5" fill="#f29b2d"/><rect x="1532.1" y="2326.4" width="32.9" height="34.5" fill="#f0942b"/><rect x="1564" y="2326.4" width="32.9" height="34.5" fill="#ef922a"/><rect x="1595.9" y="2326.4" width="32.9" height="34.5" fill="#ef922a"/><rect x="1627.8" y="2326.4" width="32.9" height="34.5" fill="#f0962c"/><rect x="1659.6" y="2326.4" width="32.9" height="34.5" fill="#f29d2e"/><rect x="1691.5" y="2326.4" width="32.9" height="34.5" fill="#f4a430"/><rect x="1723.4" y="2326.4" width="32.9" height="34.5" fill="#f5ab34"/><rect x="1755.2" y="2326.4" width="32.9" height="34.5" fill="#f6b338"/><rect x="1787.1" y="2326.4" width="32.9" height="34.5" fill="#f8bd3d"/><rect x="1819" y="2326.4" width="32.9" height="34.5" fill="#facf47"/><rect x="1850.9" y="2326.4" width="32.9" height="34.5" fill="#fbda5b"/><rect x="1882.8" y="2326.4" width="32.9" height="34.5" fill="#fce066"/><rect x="1914.6" y="2326.4" width="32.9" height="34.5" fill="#fbde64"/><rect x="1946.5" y="2326.4" width="32.9" height="34.5" fill="#fbd859"/><rect x="1978.4" y="2326.4" width="32.9" height="34.5" fill="#face46"/><rect x="2010.2" y="2326.4" width="32.9" height="34.5" fill="#f5ad35"/><rect x="2042.1" y="2326.4" width="32.9" height="34.5" fill="#eb8125"/><rect x="2074" y="2326.4" width="32.9" height="34.5" fill="#d25818"/><rect x="2105.9" y="2326.4" width="32.9" height="34.5" fill="#ba3a10"/><rect x="2137.8" y="2326.4" width="32.9" height="34.5" fill="#a52a0b"/><rect x="2169.6" y="2326.4" width="32.9" height="34.5" fill="#a82c0c"/><rect x="2201.5" y="2326.4" width="32.9" height="34.5" fill="#d25718"/><rect x="2233.4" y="2326.4" width="32.9" height="34.5" fill="#f39f2f"/><rect x="2265.2" y="2326.4" width="32.9" height="34.5" fill="#face46"/><rect x="2297.1" y="2326.4" width="32.9" height="34.5" fill="#fbd451"/><rect x="2329" y="2326.4" width="32.9" height="34.5" fill="#fad14b"/><rect x="767.1" y="2360" width="32.9" height="34.5" fill="#bd3c10"/><rect x="799" y="2360" width="32.9" height="34.5" fill="#ba3a10"/><rect x="830.9" y="2360" width="32.9" height="34.5" fill="#c03f11"/><rect x="862.8" y="2360" width="32.9" height="34.5" fill="#d35919"/><rect x="894.6" y="2360" width="32.9" height="34.5" fill="#ea7f24"/><rect x="926.5" y="2360" width="32.9" height="34.5" fill="#f0952b"/><rect x="958.4" y="2360" width="32.9" height="34.5" fill="#f29c2d"/><rect x="990.2" y="2360" width="32.9" height="34.5" fill="#f19a2d"/><rect x="1022.1" y="2360" width="32.9" height="34.5" fill="#ef932b"/><rect x="1054" y="2360" width="32.9" height="34.5" fill="#eb8426"/><rect x="1085.9" y="2360" width="32.9" height="34.5" fill="#e16d1f"/><rect x="1117.8" y="2360" width="32.9" height="34.5" fill="#da631c"/><rect x="1149.6" y="2360" width="32.9" height="34.5" fill="#e47320"/><rect x="1181.5" y="2360" width="32.9" height="34.5" fill="#ed8c28"/><rect x="1213.4" y="2360" width="32.9" height="34.5" fill="#f3a22f"/><rect x="1245.2" y="2360" width="32.9" height="34.5" fill="#f6b137"/><rect x="1277.1" y="2360" width="32.9" height="34.5" fill="#f8be3e"/><rect x="1309" y="2360" width="32.9" height="34.5" fill="#f9c642"/><rect x="1340.9" y="2360" width="32.9" height="34.5" fill="#f9c943"/><rect x="1372.8" y="2360" width="32.9" height="34.5" fill="#f9c742"/><rect x="1404.6" y="2360" width="32.9" height="34.5" fill="#f8bf3e"/><rect x="1436.5" y="2360" width="32.9" height="34.5" fill="#f5ab34"/><rect x="1468.4" y="2360" width="32.9" height="34.5" fill="#ef902a"/><rect x="1500.2" y="2360" width="32.9" height="34.5" fill="#ea7e24"/><rect x="1532.1" y="2360" width="32.9" height="34.5" fill="#e97d24"/><rect x="1564" y="2360" width="32.9" height="34.5" fill="#ec8526"/><rect x="1595.9" y="2360" width="32.9" height="34.5" fill="#ee8f29"/><rect x="1627.8" y="2360" width="32.9" height="34.5" fill="#f29b2d"/><rect x="1659.6" y="2360" width="32.9" height="34.5" fill="#f5a933"/><rect x="1691.5" y="2360" width="32.9" height="34.5" fill="#f6b137"/><rect x="1723.4" y="2360" width="32.9" height="34.5" fill="#f5ac34"/><rect x="1755.2" y="2360" width="32.9" height="34.5" fill="#f3a22f"/><rect x="1787.1" y="2360" width="32.9" height="34.5" fill="#f3a02f"/><rect x="1819" y="2360" width="32.9" height="34.5" fill="#f6b237"/><rect x="1850.9" y="2360" width="32.9" height="34.5" fill="#facc45"/><rect x="1882.8" y="2360" width="32.9" height="34.5" fill="#fbd756"/><rect x="1914.6" y="2360" width="32.9" height="34.5" fill="#fbd95a"/><rect x="1946.5" y="2360" width="32.9" height="34.5" fill="#fbd757"/><rect x="1978.4" y="2360" width="32.9" height="34.5" fill="#fad04a"/><rect x="2010.2" y="2360" width="32.9" height="34.5" fill="#f6b439"/><rect x="2042.1" y="2360" width="32.9" height="34.5" fill="#ed8b28"/><rect x="2074" y="2360" width="32.9" height="34.5" fill="#da631c"/><rect x="2105.9" y="2360" width="32.9" height="34.5" fill="#c13f11"/><rect x="2137.8" y="2360" width="32.9" height="34.5" fill="#a82c0c"/><rect x="2169.6" y="2360" width="32.9" height="34.5" fill="#a72c0c"/><rect x="2201.5" y="2360" width="32.9" height="34.5" fill="#d15518"/><rect x="2233.4" y="2360" width="32.9" height="34.5" fill="#f29e2e"/><rect x="2265.2" y="2360" width="32.9" height="34.5" fill="#facd46"/><rect x="2297.1" y="2360" width="32.9" height="34.5" fill="#fbd450"/><rect x="2329" y="2360" width="32.9" height="34.5" fill="#fad14b"/><rect x="767.1" y="2393.5" width="32.9" height="34.5" fill="#a0260a"/><rect x="799" y="2393.5" width="32.9" height="34.5" fill="#9b2209"/><rect x="830.9" y="2393.5" width="32.9" height="34.5" fill="#a5290b"/><rect x="862.8" y="2393.5" width="32.9" height="34.5" fill="#c94a14"/><rect x="894.6" y="2393.5" width="32.9" height="34.5" fill="#eb8426"/><rect x="926.5" y="2393.5" width="32.9" height="34.5" fill="#f4a530"/><rect x="958.4" y="2393.5" width="32.9" height="34.5" fill="#f4a631"/><rect x="990.2" y="2393.5" width="32.9" height="34.5" fill="#f0962c"/><rect x="1022.1" y="2393.5" width="32.9" height="34.5" fill="#ed8b28"/><rect x="1054" y="2393.5" width="32.9" height="34.5" fill="#ed8b28"/><rect x="1085.9" y="2393.5" width="32.9" height="34.5" fill="#ee8e29"/><rect x="1117.8" y="2393.5" width="32.9" height="34.5" fill="#f0962c"/><rect x="1149.6" y="2393.5" width="32.9" height="34.5" fill="#f4a430"/><rect x="1181.5" y="2393.5" width="32.9" height="34.5" fill="#f6b438"/><rect x="1213.4" y="2393.5" width="32.9" height="34.5" fill="#f8c240"/><rect x="1245.2" y="2393.5" width="32.9" height="34.5" fill="#facc45"/><rect x="1277.1" y="2393.5" width="32.9" height="34.5" fill="#fad04b"/><rect x="1309" y="2393.5" width="32.9" height="34.5" fill="#fad14b"/><rect x="1340.9" y="2393.5" width="32.9" height="34.5" fill="#f9ca44"/><rect x="1372.8" y="2393.5" width="32.9" height="34.5" fill="#f7ba3c"/><rect x="1404.6" y="2393.5" width="32.9" height="34.5" fill="#f4a732"/><rect x="1436.5" y="2393.5" width="32.9" height="34.5" fill="#ed8a28"/><rect x="1468.4" y="2393.5" width="32.9" height="34.5" fill="#dc661d"/><rect x="1500.2" y="2393.5" width="32.9" height="34.5" fill="#cd5016"/><rect x="1532.1" y="2393.5" width="32.9" height="34.5" fill="#d55b1a"/><rect x="1564" y="2393.5" width="32.9" height="34.5" fill="#e87922"/><rect x="1595.9" y="2393.5" width="32.9" height="34.5" fill="#ef912a"/><rect x="1627.8" y="2393.5" width="32.9" height="34.5" fill="#f4a631"/><rect x="1659.6" y="2393.5" width="32.9" height="34.5" fill="#f7ba3b"/><rect x="1691.5" y="2393.5" width="32.9" height="34.5" fill="#f8be3e"/><rect x="1723.4" y="2393.5" width="32.9" height="34.5" fill="#f4a531"/><rect x="1755.2" y="2393.5" width="32.9" height="34.5" fill="#e97c23"/><rect x="1787.1" y="2393.5" width="32.9" height="34.5" fill="#d9621b"/><rect x="1819" y="2393.5" width="32.9" height="34.5" fill="#e87922"/><rect x="1850.9" y="2393.5" width="32.9" height="34.5" fill="#f39f2e"/><rect x="1882.8" y="2393.5" width="32.9" height="34.5" fill="#f7bc3c"/><rect x="1914.6" y="2393.5" width="32.9" height="34.5" fill="#f9c843"/><rect x="1946.5" y="2393.5" width="32.9" height="34.5" fill="#facb45"/><rect x="1978.4" y="2393.5" width="32.9" height="34.5" fill="#f9c642"/><rect x="2010.2" y="2393.5" width="32.9" height="34.5" fill="#f6b338"/><rect x="2042.1" y="2393.5" width="32.9" height="34.5" fill="#f0972c"/><rect x="2074" y="2393.5" width="32.9" height="34.5" fill="#e97a23"/><rect x="2105.9" y="2393.5" width="32.9" height="34.5" fill="#d05417"/><rect x="2137.8" y="2393.5" width="32.9" height="34.5" fill="#b3350e"/><rect x="2169.6" y="2393.5" width="32.9" height="34.5" fill="#ac300d"/><rect x="2201.5" y="2393.5" width="32.9" height="34.5" fill="#d15618"/><rect x="2233.4" y="2393.5" width="32.9" height="34.5" fill="#f29b2d"/><rect x="2265.2" y="2393.5" width="32.9" height="34.5" fill="#f9c843"/><rect x="2297.1" y="2393.5" width="32.9" height="34.5" fill="#fad04a"/><rect x="2329" y="2393.5" width="32.9" height="34.5" fill="#facd46"/><rect x="767.1" y="2427" width="32.9" height="34.5" fill="#921d08"/><rect x="799" y="2427" width="32.9" height="34.5" fill="#8f1c08"/><rect x="830.9" y="2427" width="32.9" height="34.5" fill="#961e08"/><rect x="862.8" y="2427" width="32.9" height="34.5" fill="#c34112"/><rect x="894.6" y="2427" width="32.9" height="34.5" fill="#ec8626"/><rect x="926.5" y="2427" width="32.9" height="34.5" fill="#f5ac34"/><rect x="958.4" y="2427" width="32.9" height="34.5" fill="#f5ab34"/><rect x="990.2" y="2427" width="32.9" height="34.5" fill="#f0962c"/><rect x="1022.1" y="2427" width="32.9" height="34.5" fill="#ed8a28"/><rect x="1054" y="2427" width="32.9" height="34.5" fill="#ef932b"/><rect x="1085.9" y="2427" width="32.9" height="34.5" fill="#f4a531"/><rect x="1117.8" y="2427" width="32.9" height="34.5" fill="#f6b539"/><rect x="1149.6" y="2427" width="32.9" height="34.5" fill="#f8bf3e"/><rect x="1181.5" y="2427" width="32.9" height="34.5" fill="#f9c843"/><rect x="1213.4" y="2427" width="32.9" height="34.5" fill="#face46"/><rect x="1245.2" y="2427" width="32.9" height="34.5" fill="#fad04a"/><rect x="1277.1" y="2427" width="32.9" height="34.5" fill="#fad14b"/><rect x="1309" y="2427" width="32.9" height="34.5" fill="#face46"/><rect x="1340.9" y="2427" width="32.9" height="34.5" fill="#f8bf3e"/><rect x="1372.8" y="2427" width="32.9" height="34.5" fill="#f5aa33"/><rect x="1404.6" y="2427" width="32.9" height="34.5" fill="#ef922a"/><rect x="1436.5" y="2427" width="32.9" height="34.5" fill="#e47220"/><rect x="1468.4" y="2427" width="32.9" height="34.5" fill="#c94a14"/><rect x="1500.2" y="2427" width="32.9" height="34.5" fill="#bb3b10"/><rect x="1532.1" y="2427" width="32.9" height="34.5" fill="#ca4a14"/><rect x="1564" y="2427" width="32.9" height="34.5" fill="#e57321"/><rect x="1595.9" y="2427" width="32.9" height="34.5" fill="#ef922a"/><rect x="1627.8" y="2427" width="32.9" height="34.5" fill="#f5ad35"/><rect x="1659.6" y="2427" width="32.9" height="34.5" fill="#f8c340"/><rect x="1691.5" y="2427" width="32.9" height="34.5" fill="#f9c642"/><rect x="1723.4" y="2427" width="32.9" height="34.5" fill="#f29d2e"/><rect x="1755.2" y="2427" width="32.9" height="34.5" fill="#d35819"/><rect x="1787.1" y="2427" width="32.9" height="34.5" fill="#b2340e"/><rect x="1819" y="2427" width="32.9" height="34.5" fill="#c64513"/><rect x="1850.9" y="2427" width="32.9" height="34.5" fill="#ea7e24"/><rect x="1882.8" y="2427" width="32.9" height="34.5" fill="#f4a430"/><rect x="1914.6" y="2427" width="32.9" height="34.5" fill="#f6b539"/><rect x="1946.5" y="2427" width="32.9" height="34.5" fill="#f8bd3d"/><rect x="1978.4" y="2427" width="32.9" height="34.5" fill="#f8bd3d"/><rect x="2010.2" y="2427" width="32.9" height="34.5" fill="#f6b338"/><rect x="2042.1" y="2427" width="32.9" height="34.5" fill="#f3a02f"/><rect x="2074" y="2427" width="32.9" height="34.5" fill="#ed8a28"/><rect x="2105.9" y="2427" width="32.9" height="34.5" fill="#dc661d"/><rect x="2137.8" y="2427" width="32.9" height="34.5" fill="#be3d11"/><rect x="2169.6" y="2427" width="32.9" height="34.5" fill="#b2340e"/><rect x="2201.5" y="2427" width="32.9" height="34.5" fill="#d15518"/><rect x="2233.4" y="2427" width="32.9" height="34.5" fill="#f0942b"/><rect x="2265.2" y="2427" width="32.9" height="34.5" fill="#f8bd3d"/><rect x="2297.1" y="2427" width="32.9" height="34.5" fill="#f9c742"/><rect x="2329" y="2427" width="32.9" height="34.5" fill="#f8c240"/><rect x="767.1" y="2460.6" width="32.9" height="34.5" fill="#982009"/><rect x="799" y="2460.6" width="32.9" height="34.5" fill="#941d08"/><rect x="830.9" y="2460.6" width="32.9" height="34.5" fill="#9d240a"/><rect x="862.8" y="2460.6" width="32.9" height="34.5" fill="#c44212"/><rect x="894.6" y="2460.6" width="32.9" height="34.5" fill="#ea7f24"/><rect x="926.5" y="2460.6" width="32.9" height="34.5" fill="#f4a430"/><rect x="958.4" y="2460.6" width="32.9" height="34.5" fill="#f5a932"/><rect x="990.2" y="2460.6" width="32.9" height="34.5" fill="#f39f2e"/><rect x="1022.1" y="2460.6" width="32.9" height="34.5" fill="#f19a2d"/><rect x="1054" y="2460.6" width="32.9" height="34.5" fill="#f3a22f"/><rect x="1085.9" y="2460.6" width="32.9" height="34.5" fill="#f5ae35"/><rect x="1117.8" y="2460.6" width="32.9" height="34.5" fill="#f7b639"/><rect x="1149.6" y="2460.6" width="32.9" height="34.5" fill="#f7b83b"/><rect x="1181.5" y="2460.6" width="32.9" height="34.5" fill="#f7b73a"/><rect x="1213.4" y="2460.6" width="32.9" height="34.5" fill="#f6b438"/><rect x="1245.2" y="2460.6" width="32.9" height="34.5" fill="#f6b037"/><rect x="1277.1" y="2460.6" width="32.9" height="34.5" fill="#f5ab34"/><rect x="1309" y="2460.6" width="32.9" height="34.5" fill="#f4a430"/><rect x="1340.9" y="2460.6" width="32.9" height="34.5" fill="#f29c2d"/><rect x="1372.8" y="2460.6" width="32.9" height="34.5" fill="#ef922a"/><rect x="1404.6" y="2460.6" width="32.9" height="34.5" fill="#ec8626"/><rect x="1436.5" y="2460.6" width="32.9" height="34.5" fill="#e47120"/><rect x="1468.4" y="2460.6" width="32.9" height="34.5" fill="#d25718"/><rect x="1500.2" y="2460.6" width="32.9" height="34.5" fill="#ca4c15"/><rect x="1532.1" y="2460.6" width="32.9" height="34.5" fill="#d45a19"/><rect x="1564" y="2460.6" width="32.9" height="34.5" fill="#e87822"/><rect x="1595.9" y="2460.6" width="32.9" height="34.5" fill="#ee8f29"/><rect x="1627.8" y="2460.6" width="32.9" height="34.5" fill="#f5a832"/><rect x="1659.6" y="2460.6" width="32.9" height="34.5" fill="#f8c03e"/><rect x="1691.5" y="2460.6" width="32.9" height="34.5" fill="#f8c240"/><rect x="1723.4" y="2460.6" width="32.9" height="34.5" fill="#f1972c"/><rect x="1755.2" y="2460.6" width="32.9" height="34.5" fill="#cc4d15"/><rect x="1787.1" y="2460.6" width="32.9" height="34.5" fill="#a72c0c"/><rect x="1819" y="2460.6" width="32.9" height="34.5" fill="#bf3e11"/><rect x="1850.9" y="2460.6" width="32.9" height="34.5" fill="#e97c23"/><rect x="1882.8" y="2460.6" width="32.9" height="34.5" fill="#f4a631"/><rect x="1914.6" y="2460.6" width="32.9" height="34.5" fill="#f7b83b"/><rect x="1946.5" y="2460.6" width="32.9" height="34.5" fill="#f8c13f"/><rect x="1978.4" y="2460.6" width="32.9" height="34.5" fill="#f8c13f"/><rect x="2010.2" y="2460.6" width="32.9" height="34.5" fill="#f7b83a"/><rect x="2042.1" y="2460.6" width="32.9" height="34.5" fill="#f4a631"/><rect x="2074" y="2460.6" width="32.9" height="34.5" fill="#ee8f29"/><rect x="2105.9" y="2460.6" width="32.9" height="34.5" fill="#e06c1f"/><rect x="2137.8" y="2460.6" width="32.9" height="34.5" fill="#c24012"/><rect x="2169.6" y="2460.6" width="32.9" height="34.5" fill="#b2340e"/><rect x="2201.5" y="2460.6" width="32.9" height="34.5" fill="#cc4d15"/><rect x="2233.4" y="2460.6" width="32.9" height="34.5" fill="#ec8526"/><rect x="2265.2" y="2460.6" width="32.9" height="34.5" fill="#f5a932"/><rect x="2297.1" y="2460.6" width="32.9" height="34.5" fill="#f6b037"/><rect x="2329" y="2460.6" width="32.9" height="34.5" fill="#f5ad34"/><rect x="767.1" y="2494.1" width="32.9" height="34.5" fill="#ad300d"/><rect x="799" y="2494.1" width="32.9" height="34.5" fill="#aa2d0c"/><rect x="830.9" y="2494.1" width="32.9" height="34.5" fill="#b1330e"/><rect x="862.8" y="2494.1" width="32.9" height="34.5" fill="#ca4a14"/><rect x="894.6" y="2494.1" width="32.9" height="34.5" fill="#e67621"/><rect x="926.5" y="2494.1" width="32.9" height="34.5" fill="#ef932b"/><rect x="958.4" y="2494.1" width="32.9" height="34.5" fill="#f4a330"/><rect x="990.2" y="2494.1" width="32.9" height="34.5" fill="#f5ac34"/><rect x="1022.1" y="2494.1" width="32.9" height="34.5" fill="#f6b037"/><rect x="1054" y="2494.1" width="32.9" height="34.5" fill="#f6b137"/><rect x="1085.9" y="2494.1" width="32.9" height="34.5" fill="#f5ae35"/><rect x="1117.8" y="2494.1" width="32.9" height="34.5" fill="#f5a832"/><rect x="1149.6" y="2494.1" width="32.9" height="34.5" fill="#f39f2e"/><rect x="1181.5" y="2494.1" width="32.9" height="34.5" fill="#ef922a"/><rect x="1213.4" y="2494.1" width="32.9" height="34.5" fill="#ec8526"/><rect x="1245.2" y="2494.1" width="32.9" height="34.5" fill="#e87922"/><rect x="1277.1" y="2494.1" width="32.9" height="34.5" fill="#de6a1e"/><rect x="1309" y="2494.1" width="32.9" height="34.5" fill="#d9621b"/><rect x="1340.9" y="2494.1" width="32.9" height="34.5" fill="#dd681d"/><rect x="1372.8" y="2494.1" width="32.9" height="34.5" fill="#e67521"/><rect x="1404.6" y="2494.1" width="32.9" height="34.5" fill="#ea7e24"/><rect x="1436.5" y="2494.1" width="32.9" height="34.5" fill="#e97d23"/><rect x="1468.4" y="2494.1" width="32.9" height="34.5" fill="#e87822"/><rect x="1500.2" y="2494.1" width="32.9" height="34.5" fill="#e77722"/><rect x="1532.1" y="2494.1" width="32.9" height="34.5" fill="#e97b23"/><rect x="1564" y="2494.1" width="32.9" height="34.5" fill="#eb8225"/><rect x="1595.9" y="2494.1" width="32.9" height="34.5" fill="#ed8c28"/><rect x="1627.8" y="2494.1" width="32.9" height="34.5" fill="#f3a02f"/><rect x="1659.6" y="2494.1" width="32.9" height="34.5" fill="#f6b539"/><rect x="1691.5" y="2494.1" width="32.9" height="34.5" fill="#f7b83a"/><rect x="1723.4" y="2494.1" width="32.9" height="34.5" fill="#ef902a"/><rect x="1755.2" y="2494.1" width="32.9" height="34.5" fill="#cb4d15"/><rect x="1787.1" y="2494.1" width="32.9" height="34.5" fill="#ac300d"/><rect x="1819" y="2494.1" width="32.9" height="34.5" fill="#c84714"/><rect x="1850.9" y="2494.1" width="32.9" height="34.5" fill="#ec8827"/><rect x="1882.8" y="2494.1" width="32.9" height="34.5" fill="#f6b338"/><rect x="1914.6" y="2494.1" width="32.9" height="34.5" fill="#f9c441"/><rect x="1946.5" y="2494.1" width="32.9" height="34.5" fill="#facb44"/><rect x="1978.4" y="2494.1" width="32.9" height="34.5" fill="#f9c943"/><rect x="2010.2" y="2494.1" width="32.9" height="34.5" fill="#f8bd3d"/><rect x="2042.1" y="2494.1" width="32.9" height="34.5" fill="#f5a933"/><rect x="2074" y="2494.1" width="32.9" height="34.5" fill="#ef912a"/><rect x="2105.9" y="2494.1" width="32.9" height="34.5" fill="#e26f1f"/><rect x="2137.8" y="2494.1" width="32.9" height="34.5" fill="#c54312"/><rect x="2169.6" y="2494.1" width="32.9" height="34.5" fill="#b3350e"/><rect x="2201.5" y="2494.1" width="32.9" height="34.5" fill="#c54413"/><rect x="2233.4" y="2494.1" width="32.9" height="34.5" fill="#e37120"/><rect x="2265.2" y="2494.1" width="32.9" height="34.5" fill="#ee8e29"/><rect x="2297.1" y="2494.1" width="32.9" height="34.5" fill="#f0942b"/><rect x="2329" y="2494.1" width="32.9" height="34.5" fill="#ef912a"/><rect x="767.1" y="2527.7" width="32.9" height="34.5" fill="#c24011"/><rect x="799" y="2527.7" width="32.9" height="34.5" fill="#bf3e11"/><rect x="830.9" y="2527.7" width="32.9" height="34.5" fill="#c44212"/><rect x="862.8" y="2527.7" width="32.9" height="34.5" fill="#d15618"/><rect x="894.6" y="2527.7" width="32.9" height="34.5" fill="#e47220"/><rect x="926.5" y="2527.7" width="32.9" height="34.5" fill="#ed8a28"/><rect x="958.4" y="2527.7" width="32.9" height="34.5" fill="#f39f2e"/><rect x="990.2" y="2527.7" width="32.9" height="34.5" fill="#f6b338"/><rect x="1022.1" y="2527.7" width="32.9" height="34.5" fill="#f8bd3d"/><rect x="1054" y="2527.7" width="32.9" height="34.5" fill="#f7b93b"/><rect x="1085.9" y="2527.7" width="32.9" height="34.5" fill="#f5ac34"/><rect x="1117.8" y="2527.7" width="32.9" height="34.5" fill="#f29b2d"/><rect x="1149.6" y="2527.7" width="32.9" height="34.5" fill="#ec8827"/><rect x="1181.5" y="2527.7" width="32.9" height="34.5" fill="#e27020"/><rect x="1213.4" y="2527.7" width="32.9" height="34.5" fill="#d25818"/><rect x="1245.2" y="2527.7" width="32.9" height="34.5" fill="#c44212"/><rect x="1277.1" y="2527.7" width="32.9" height="34.5" fill="#b5370f"/><rect x="1309" y="2527.7" width="32.9" height="34.5" fill="#b2340e"/><rect x="1340.9" y="2527.7" width="32.9" height="34.5" fill="#c14011"/><rect x="1372.8" y="2527.7" width="32.9" height="34.5" fill="#d65e1a"/><rect x="1404.6" y="2527.7" width="32.9" height="34.5" fill="#e87822"/><rect x="1436.5" y="2527.7" width="32.9" height="34.5" fill="#eb8426"/><rect x="1468.4" y="2527.7" width="32.9" height="34.5" fill="#ee8d29"/><rect x="1500.2" y="2527.7" width="32.9" height="34.5" fill="#ef922a"/><rect x="1532.1" y="2527.7" width="32.9" height="34.5" fill="#ef932b"/><rect x="1564" y="2527.7" width="32.9" height="34.5" fill="#ef912a"/><rect x="1595.9" y="2527.7" width="32.9" height="34.5" fill="#ef922a"/><rect x="1627.8" y="2527.7" width="32.9" height="34.5" fill="#f29e2e"/><rect x="1659.6" y="2527.7" width="32.9" height="34.5" fill="#f5ad35"/><rect x="1691.5" y="2527.7" width="32.9" height="34.5" fill="#f5ac34"/><rect x="1723.4" y="2527.7" width="32.9" height="34.5" fill="#ec8827"/><rect x="1755.2" y="2527.7" width="32.9" height="34.5" fill="#ca4b15"/><rect x="1787.1" y="2527.7" width="32.9" height="34.5" fill="#b2340e"/><rect x="1819" y="2527.7" width="32.9" height="34.5" fill="#ce5117"/><rect x="1850.9" y="2527.7" width="32.9" height="34.5" fill="#ef922a"/><rect x="1882.8" y="2527.7" width="32.9" height="34.5" fill="#f8bd3d"/><rect x="1914.6" y="2527.7" width="32.9" height="34.5" fill="#face46"/><rect x="1946.5" y="2527.7" width="32.9" height="34.5" fill="#fad04a"/><rect x="1978.4" y="2527.7" width="32.9" height="34.5" fill="#face46"/><rect x="2010.2" y="2527.7" width="32.9" height="34.5" fill="#f8c13f"/><rect x="2042.1" y="2527.7" width="32.9" height="34.5" fill="#f5ab34"/><rect x="2074" y="2527.7" width="32.9" height="34.5" fill="#ef922a"/><rect x="2105.9" y="2527.7" width="32.9" height="34.5" fill="#e57421"/><rect x="2137.8" y="2527.7" width="32.9" height="34.5" fill="#cb4c15"/><rect x="2169.6" y="2527.7" width="32.9" height="34.5" fill="#bb3b10"/><rect x="2201.5" y="2527.7" width="32.9" height="34.5" fill="#c54312"/><rect x="2233.4" y="2527.7" width="32.9" height="34.5" fill="#d9611b"/><rect x="2265.2" y="2527.7" width="32.9" height="34.5" fill="#e87822"/><rect x="2297.1" y="2527.7" width="32.9" height="34.5" fill="#e97c23"/><rect x="2329" y="2527.7" width="32.9" height="34.5" fill="#e97a23"/><rect x="767.1" y="2561.2" width="32.9" height="34.5" fill="#cf5317"/><rect x="799" y="2561.2" width="32.9" height="34.5" fill="#ce5116"/><rect x="830.9" y="2561.2" width="32.9" height="34.5" fill="#d15618"/><rect x="862.8" y="2561.2" width="32.9" height="34.5" fill="#dd681d"/><rect x="894.6" y="2561.2" width="32.9" height="34.5" fill="#ea8024"/><rect x="926.5" y="2561.2" width="32.9" height="34.5" fill="#ef932b"/><rect x="958.4" y="2561.2" width="32.9" height="34.5" fill="#f4a330"/><rect x="990.2" y="2561.2" width="32.9" height="34.5" fill="#f6b137"/><rect x="1022.1" y="2561.2" width="32.9" height="34.5" fill="#f7b73a"/><rect x="1054" y="2561.2" width="32.9" height="34.5" fill="#f6b338"/><rect x="1085.9" y="2561.2" width="32.9" height="34.5" fill="#f4a731"/><rect x="1117.8" y="2561.2" width="32.9" height="34.5" fill="#f0952b"/><rect x="1149.6" y="2561.2" width="32.9" height="34.5" fill="#e97c23"/><rect x="1181.5" y="2561.2" width="32.9" height="34.5" fill="#d25718"/><rect x="1213.4" y="2561.2" width="32.9" height="34.5" fill="#bd3d11"/><rect x="1245.2" y="2561.2" width="32.9" height="34.5" fill="#ae310d"/><rect x="1277.1" y="2561.2" width="32.9" height="34.5" fill="#a72b0c"/><rect x="1309" y="2561.2" width="32.9" height="34.5" fill="#a92d0c"/><rect x="1340.9" y="2561.2" width="32.9" height="34.5" fill="#bb3b10"/><rect x="1372.8" y="2561.2" width="32.9" height="34.5" fill="#d35819"/><rect x="1404.6" y="2561.2" width="32.9" height="34.5" fill="#e67521"/><rect x="1436.5" y="2561.2" width="32.9" height="34.5" fill="#eb8526"/><rect x="1468.4" y="2561.2" width="32.9" height="34.5" fill="#ef912a"/><rect x="1500.2" y="2561.2" width="32.9" height="34.5" fill="#f29b2d"/><rect x="1532.1" y="2561.2" width="32.9" height="34.5" fill="#f4a430"/><rect x="1564" y="2561.2" width="32.9" height="34.5" fill="#f5ab34"/><rect x="1595.9" y="2561.2" width="32.9" height="34.5" fill="#f6af36"/><rect x="1627.8" y="2561.2" width="32.9" height="34.5" fill="#f6af36"/><rect x="1659.6" y="2561.2" width="32.9" height="34.5" fill="#f5ad35"/><rect x="1691.5" y="2561.2" width="32.9" height="34.5" fill="#f3a02f"/><rect x="1723.4" y="2561.2" width="32.9" height="34.5" fill="#e97c23"/><rect x="1755.2" y="2561.2" width="32.9" height="34.5" fill="#c54412"/><rect x="1787.1" y="2561.2" width="32.9" height="34.5" fill="#b1330e"/><rect x="1819" y="2561.2" width="32.9" height="34.5" fill="#cf5317"/><rect x="1850.9" y="2561.2" width="32.9" height="34.5" fill="#f0952b"/><rect x="1882.8" y="2561.2" width="32.9" height="34.5" fill="#f8c13f"/><rect x="1914.6" y="2561.2" width="32.9" height="34.5" fill="#facf49"/><rect x="1946.5" y="2561.2" width="32.9" height="34.5" fill="#fad14c"/><rect x="1978.4" y="2561.2" width="32.9" height="34.5" fill="#facf47"/><rect x="2010.2" y="2561.2" width="32.9" height="34.5" fill="#f8c240"/><rect x="2042.1" y="2561.2" width="32.9" height="34.5" fill="#f5ac34"/><rect x="2074" y="2561.2" width="32.9" height="34.5" fill="#f0952b"/><rect x="2105.9" y="2561.2" width="32.9" height="34.5" fill="#ea7e24"/><rect x="2137.8" y="2561.2" width="32.9" height="34.5" fill="#da631c"/><rect x="2169.6" y="2561.2" width="32.9" height="34.5" fill="#ce5217"/><rect x="2201.5" y="2561.2" width="32.9" height="34.5" fill="#cf5317"/><rect x="2233.4" y="2561.2" width="32.9" height="34.5" fill="#d75f1b"/><rect x="2265.2" y="2561.2" width="32.9" height="34.5" fill="#de691d"/><rect x="2297.1" y="2561.2" width="32.9" height="34.5" fill="#df6b1e"/><rect x="2329" y="2561.2" width="32.9" height="34.5" fill="#de6a1e"/><rect x="767.1" y="2594.8" width="32.9" height="34.5" fill="#dc671d"/><rect x="799" y="2594.8" width="32.9" height="34.5" fill="#db641c"/><rect x="830.9" y="2594.8" width="32.9" height="34.5" fill="#de691e"/><rect x="862.8" y="2594.8" width="32.9" height="34.5" fill="#e97c23"/><rect x="894.6" y="2594.8" width="32.9" height="34.5" fill="#ef932b"/><rect x="926.5" y="2594.8" width="32.9" height="34.5" fill="#f4a430"/><rect x="958.4" y="2594.8" width="32.9" height="34.5" fill="#f5aa33"/><rect x="990.2" y="2594.8" width="32.9" height="34.5" fill="#f5aa33"/><rect x="1022.1" y="2594.8" width="32.9" height="34.5" fill="#f4a732"/><rect x="1054" y="2594.8" width="32.9" height="34.5" fill="#f4a430"/><rect x="1085.9" y="2594.8" width="32.9" height="34.5" fill="#f29e2e"/><rect x="1117.8" y="2594.8" width="32.9" height="34.5" fill="#ef902a"/><rect x="1149.6" y="2594.8" width="32.9" height="34.5" fill="#e47220"/><rect x="1181.5" y="2594.8" width="32.9" height="34.5" fill="#c64513"/><rect x="1213.4" y="2594.8" width="32.9" height="34.5" fill="#ac2f0d"/><rect x="1245.2" y="2594.8" width="32.9" height="34.5" fill="#a52a0b"/><rect x="1277.1" y="2594.8" width="32.9" height="34.5" fill="#aa2d0c"/><rect x="1309" y="2594.8" width="32.9" height="34.5" fill="#b4350f"/><rect x="1340.9" y="2594.8" width="32.9" height="34.5" fill="#c54312"/><rect x="1372.8" y="2594.8" width="32.9" height="34.5" fill="#d65d1a"/><rect x="1404.6" y="2594.8" width="32.9" height="34.5" fill="#e67521"/><rect x="1436.5" y="2594.8" width="32.9" height="34.5" fill="#eb8325"/><rect x="1468.4" y="2594.8" width="32.9" height="34.5" fill="#ee8e29"/><rect x="1500.2" y="2594.8" width="32.9" height="34.5" fill="#f29c2d"/><rect x="1532.1" y="2594.8" width="32.9" height="34.5" fill="#f6b137"/><rect x="1564" y="2594.8" width="32.9" height="34.5" fill="#f9c943"/><rect x="1595.9" y="2594.8" width="32.9" height="34.5" fill="#fad14b"/><rect x="1627.8" y="2594.8" width="32.9" height="34.5" fill="#f9c843"/><rect x="1659.6" y="2594.8" width="32.9" height="34.5" fill="#f6af36"/><rect x="1691.5" y="2594.8" width="32.9" height="34.5" fill="#ef932b"/><rect x="1723.4" y="2594.8" width="32.9" height="34.5" fill="#e06c1e"/><rect x="1755.2" y="2594.8" width="32.9" height="34.5" fill="#be3e11"/><rect x="1787.1" y="2594.8" width="32.9" height="34.5" fill="#b0320e"/><rect x="1819" y="2594.8" width="32.9" height="34.5" fill="#d05317"/><rect x="1850.9" y="2594.8" width="32.9" height="34.5" fill="#f0952b"/><rect x="1882.8" y="2594.8" width="32.9" height="34.5" fill="#f8c13f"/><rect x="1914.6" y="2594.8" width="32.9" height="34.5" fill="#fad049"/><rect x="1946.5" y="2594.8" width="32.9" height="34.5" fill="#fad14b"/><rect x="1978.4" y="2594.8" width="32.9" height="34.5" fill="#face46"/><rect x="2010.2" y="2594.8" width="32.9" height="34.5" fill="#f8c03f"/><rect x="2042.1" y="2594.8" width="32.9" height="34.5" fill="#f5ab34"/><rect x="2074" y="2594.8" width="32.9" height="34.5" fill="#f1972c"/><rect x="2105.9" y="2594.8" width="32.9" height="34.5" fill="#ed8a28"/><rect x="2137.8" y="2594.8" width="32.9" height="34.5" fill="#ea7e24"/><rect x="2169.6" y="2594.8" width="32.9" height="34.5" fill="#e67421"/><rect x="2201.5" y="2594.8" width="32.9" height="34.5" fill="#e06b1e"/><rect x="2233.4" y="2594.8" width="32.9" height="34.5" fill="#db651c"/><rect x="2265.2" y="2594.8" width="32.9" height="34.5" fill="#d9611b"/><rect x="2297.1" y="2594.8" width="32.9" height="34.5" fill="#d85f1b"/><rect x="2329" y="2594.8" width="32.9" height="34.5" fill="#d8601b"/><rect x="767.1" y="2628.3" width="32.9" height="34.5" fill="#e67621"/><rect x="799" y="2628.3" width="32.9" height="34.5" fill="#e57321"/><rect x="830.9" y="2628.3" width="32.9" height="34.5" fill="#e87822"/><rect x="862.8" y="2628.3" width="32.9" height="34.5" fill="#ec8827"/><rect x="894.6" y="2628.3" width="32.9" height="34.5" fill="#f29e2e"/><rect x="926.5" y="2628.3" width="32.9" height="34.5" fill="#f5ac34"/><rect x="958.4" y="2628.3" width="32.9" height="34.5" fill="#f5ac34"/><rect x="990.2" y="2628.3" width="32.9" height="34.5" fill="#f4a430"/><rect x="1022.1" y="2628.3" width="32.9" height="34.5" fill="#f29b2d"/><rect x="1054" y="2628.3" width="32.9" height="34.5" fill="#f1982c"/><rect x="1085.9" y="2628.3" width="32.9" height="34.5" fill="#f0952b"/><rect x="1117.8" y="2628.3" width="32.9" height="34.5" fill="#ed8a28"/><rect x="1149.6" y="2628.3" width="32.9" height="34.5" fill="#df6b1e"/><rect x="1181.5" y="2628.3" width="32.9" height="34.5" fill="#c14011"/><rect x="1213.4" y="2628.3" width="32.9" height="34.5" fill="#a82c0c"/><rect x="1245.2" y="2628.3" width="32.9" height="34.5" fill="#a82c0c"/><rect x="1277.1" y="2628.3" width="32.9" height="34.5" fill="#b5360f"/><rect x="1309" y="2628.3" width="32.9" height="34.5" fill="#c44212"/><rect x="1340.9" y="2628.3" width="32.9" height="34.5" fill="#cf5317"/><rect x="1372.8" y="2628.3" width="32.9" height="34.5" fill="#dc661d"/><rect x="1404.6" y="2628.3" width="32.9" height="34.5" fill="#e87822"/><rect x="1436.5" y="2628.3" width="32.9" height="34.5" fill="#eb8325"/><rect x="1468.4" y="2628.3" width="32.9" height="34.5" fill="#ee8d29"/><rect x="1500.2" y="2628.3" width="32.9" height="34.5" fill="#f29b2d"/><rect x="1532.1" y="2628.3" width="32.9" height="34.5" fill="#f7b83a"/><rect x="1564" y="2628.3" width="32.9" height="34.5" fill="#fbd450"/><rect x="1595.9" y="2628.3" width="32.9" height="34.5" fill="#fbdb5e"/><rect x="1627.8" y="2628.3" width="32.9" height="34.5" fill="#fad14c"/><rect x="1659.6" y="2628.3" width="32.9" height="34.5" fill="#f6af36"/><rect x="1691.5" y="2628.3" width="32.9" height="34.5" fill="#ed8a28"/><rect x="1723.4" y="2628.3" width="32.9" height="34.5" fill="#d9621b"/><rect x="1755.2" y="2628.3" width="32.9" height="34.5" fill="#bc3c10"/><rect x="1787.1" y="2628.3" width="32.9" height="34.5" fill="#b2340e"/><rect x="1819" y="2628.3" width="32.9" height="34.5" fill="#d15518"/><rect x="1850.9" y="2628.3" width="32.9" height="34.5" fill="#f0942b"/><rect x="1882.8" y="2628.3" width="32.9" height="34.5" fill="#f8bd3d"/><rect x="1914.6" y="2628.3" width="32.9" height="34.5" fill="#facb44"/><rect x="1946.5" y="2628.3" width="32.9" height="34.5" fill="#facc45"/><rect x="1978.4" y="2628.3" width="32.9" height="34.5" fill="#f9c642"/><rect x="2010.2" y="2628.3" width="32.9" height="34.5" fill="#f7b83a"/><rect x="2042.1" y="2628.3" width="32.9" height="34.5" fill="#f4a330"/><rect x="2074" y="2628.3" width="32.9" height="34.5" fill="#ef922a"/><rect x="2105.9" y="2628.3" width="32.9" height="34.5" fill="#ee8d29"/><rect x="2137.8" y="2628.3" width="32.9" height="34.5" fill="#ee8d29"/><rect x="2169.6" y="2628.3" width="32.9" height="34.5" fill="#ed8a28"/><rect x="2201.5" y="2628.3" width="32.9" height="34.5" fill="#ea7f24"/><rect x="2233.4" y="2628.3" width="32.9" height="34.5" fill="#e26f1f"/><rect x="2265.2" y="2628.3" width="32.9" height="34.5" fill="#da621c"/><rect x="2297.1" y="2628.3" width="32.9" height="34.5" fill="#d75f1b"/><rect x="2329" y="2628.3" width="32.9" height="34.5" fill="#d9611b"/><rect x="767.1" y="2661.8" width="32.9" height="34.5" fill="#e97c23"/><rect x="799" y="2661.8" width="32.9" height="34.5" fill="#e97b23"/><rect x="830.9" y="2661.8" width="32.9" height="34.5" fill="#ea7e24"/><rect x="862.8" y="2661.8" width="32.9" height="34.5" fill="#ed8a28"/><rect x="894.6" y="2661.8" width="32.9" height="34.5" fill="#f19a2d"/><rect x="926.5" y="2661.8" width="32.9" height="34.5" fill="#f4a530"/><rect x="958.4" y="2661.8" width="32.9" height="34.5" fill="#f4a531"/><rect x="990.2" y="2661.8" width="32.9" height="34.5" fill="#f3a02f"/><rect x="1022.1" y="2661.8" width="32.9" height="34.5" fill="#f1992c"/><rect x="1054" y="2661.8" width="32.9" height="34.5" fill="#ef922a"/><rect x="1085.9" y="2661.8" width="32.9" height="34.5" fill="#ed8a28"/><rect x="1117.8" y="2661.8" width="32.9" height="34.5" fill="#ea7e24"/><rect x="1149.6" y="2661.8" width="32.9" height="34.5" fill="#dc661d"/><rect x="1181.5" y="2661.8" width="32.9" height="34.5" fill="#c84914"/><rect x="1213.4" y="2661.8" width="32.9" height="34.5" fill="#bb3b10"/><rect x="1245.2" y="2661.8" width="32.9" height="34.5" fill="#be3d11"/><rect x="1277.1" y="2661.8" width="32.9" height="34.5" fill="#ca4a14"/><rect x="1309" y="2661.8" width="32.9" height="34.5" fill="#d45a19"/><rect x="1340.9" y="2661.8" width="32.9" height="34.5" fill="#dc661d"/><rect x="1372.8" y="2661.8" width="32.9" height="34.5" fill="#e47220"/><rect x="1404.6" y="2661.8" width="32.9" height="34.5" fill="#e97d24"/><rect x="1436.5" y="2661.8" width="32.9" height="34.5" fill="#ec8626"/><rect x="1468.4" y="2661.8" width="32.9" height="34.5" fill="#ee8f29"/><rect x="1500.2" y="2661.8" width="32.9" height="34.5" fill="#f29c2d"/><rect x="1532.1" y="2661.8" width="32.9" height="34.5" fill="#f6b438"/><rect x="1564" y="2661.8" width="32.9" height="34.5" fill="#face46"/><rect x="1595.9" y="2661.8" width="32.9" height="34.5" fill="#fbd451"/><rect x="1627.8" y="2661.8" width="32.9" height="34.5" fill="#f9c843"/><rect x="1659.6" y="2661.8" width="32.9" height="34.5" fill="#f5a832"/><rect x="1691.5" y="2661.8" width="32.9" height="34.5" fill="#ec8727"/><rect x="1723.4" y="2661.8" width="32.9" height="34.5" fill="#db651c"/><rect x="1755.2" y="2661.8" width="32.9" height="34.5" fill="#c34112"/><rect x="1787.1" y="2661.8" width="32.9" height="34.5" fill="#ba3a10"/><rect x="1819" y="2661.8" width="32.9" height="34.5" fill="#d35819"/><rect x="1850.9" y="2661.8" width="32.9" height="34.5" fill="#ee8e29"/><rect x="1882.8" y="2661.8" width="32.9" height="34.5" fill="#f6b137"/><rect x="1914.6" y="2661.8" width="32.9" height="34.5" fill="#f7ba3b"/><rect x="1946.5" y="2661.8" width="32.9" height="34.5" fill="#f7b63a"/><rect x="1978.4" y="2661.8" width="32.9" height="34.5" fill="#f6af36"/><rect x="2010.2" y="2661.8" width="32.9" height="34.5" fill="#f3a02f"/><rect x="2042.1" y="2661.8" width="32.9" height="34.5" fill="#ee8d29"/><rect x="2074" y="2661.8" width="32.9" height="34.5" fill="#ea8025"/><rect x="2105.9" y="2661.8" width="32.9" height="34.5" fill="#eb8225"/><rect x="2137.8" y="2661.8" width="32.9" height="34.5" fill="#ed8b28"/><rect x="2169.6" y="2661.8" width="32.9" height="34.5" fill="#ee8f29"/><rect x="2201.5" y="2661.8" width="32.9" height="34.5" fill="#ec8827"/><rect x="2233.4" y="2661.8" width="32.9" height="34.5" fill="#e97d24"/><rect x="2265.2" y="2661.8" width="32.9" height="34.5" fill="#e57421"/><rect x="2297.1" y="2661.8" width="32.9" height="34.5" fill="#e47220"/><rect x="2329" y="2661.8" width="32.9" height="34.5" fill="#e57320"/><rect x="767.1" y="2695.4" width="32.9" height="34.5" fill="#ea7f24"/><rect x="799" y="2695.4" width="32.9" height="34.5" fill="#ea7e24"/><rect x="830.9" y="2695.4" width="32.9" height="34.5" fill="#ea8024"/><rect x="862.8" y="2695.4" width="32.9" height="34.5" fill="#ec8626"/><rect x="894.6" y="2695.4" width="32.9" height="34.5" fill="#ee8f29"/><rect x="926.5" y="2695.4" width="32.9" height="34.5" fill="#f0952b"/><rect x="958.4" y="2695.4" width="32.9" height="34.5" fill="#f19a2d"/><rect x="990.2" y="2695.4" width="32.9" height="34.5" fill="#f29c2e"/><rect x="1022.1" y="2695.4" width="32.9" height="34.5" fill="#f19a2d"/><rect x="1054" y="2695.4" width="32.9" height="34.5" fill="#ee8e29"/><rect x="1085.9" y="2695.4" width="32.9" height="34.5" fill="#ea7e24"/><rect x="1117.8" y="2695.4" width="32.9" height="34.5" fill="#e26e1f"/><rect x="1149.6" y="2695.4" width="32.9" height="34.5" fill="#db641c"/><rect x="1181.5" y="2695.4" width="32.9" height="34.5" fill="#d75e1a"/><rect x="1213.4" y="2695.4" width="32.9" height="34.5" fill="#d65c1a"/><rect x="1245.2" y="2695.4" width="32.9" height="34.5" fill="#da631c"/><rect x="1277.1" y="2695.4" width="32.9" height="34.5" fill="#e16e1f"/><rect x="1309" y="2695.4" width="32.9" height="34.5" fill="#e87822"/><rect x="1340.9" y="2695.4" width="32.9" height="34.5" fill="#e97c23"/><rect x="1372.8" y="2695.4" width="32.9" height="34.5" fill="#ea8024"/><rect x="1404.6" y="2695.4" width="32.9" height="34.5" fill="#eb8426"/><rect x="1436.5" y="2695.4" width="32.9" height="34.5" fill="#ed8b28"/><rect x="1468.4" y="2695.4" width="32.9" height="34.5" fill="#ef932a"/><rect x="1500.2" y="2695.4" width="32.9" height="34.5" fill="#f29c2d"/><rect x="1532.1" y="2695.4" width="32.9" height="34.5" fill="#f5a932"/><rect x="1564" y="2695.4" width="32.9" height="34.5" fill="#f7b63a"/><rect x="1595.9" y="2695.4" width="32.9" height="34.5" fill="#f7bb3c"/><rect x="1627.8" y="2695.4" width="32.9" height="34.5" fill="#f6b137"/><rect x="1659.6" y="2695.4" width="32.9" height="34.5" fill="#f29d2e"/><rect x="1691.5" y="2695.4" width="32.9" height="34.5" fill="#ec8827"/><rect x="1723.4" y="2695.4" width="32.9" height="34.5" fill="#e16e1f"/><rect x="1755.2" y="2695.4" width="32.9" height="34.5" fill="#cd4f16"/><rect x="1787.1" y="2695.4" width="32.9" height="34.5" fill="#c54312"/><rect x="1819" y="2695.4" width="32.9" height="34.5" fill="#d65d1a"/><rect x="1850.9" y="2695.4" width="32.9" height="34.5" fill="#ec8626"/><rect x="1882.8" y="2695.4" width="32.9" height="34.5" fill="#f39f2f"/><rect x="1914.6" y="2695.4" width="32.9" height="34.5" fill="#f4a22f"/><rect x="1946.5" y="2695.4" width="32.9" height="34.5" fill="#f19a2d"/><rect x="1978.4" y="2695.4" width="32.9" height="34.5" fill="#ee8f29"/><rect x="2010.2" y="2695.4" width="32.9" height="34.5" fill="#ea8125"/><rect x="2042.1" y="2695.4" width="32.9" height="34.5" fill="#e16e1f"/><rect x="2074" y="2695.4" width="32.9" height="34.5" fill="#da631c"/><rect x="2105.9" y="2695.4" width="32.9" height="34.5" fill="#e16d1f"/><rect x="2137.8" y="2695.4" width="32.9" height="34.5" fill="#ea8024"/><rect x="2169.6" y="2695.4" width="32.9" height="34.5" fill="#ee8c28"/><rect x="2201.5" y="2695.4" width="32.9" height="34.5" fill="#ee8f29"/><rect x="2233.4" y="2695.4" width="32.9" height="34.5" fill="#ee8d29"/><rect x="2265.2" y="2695.4" width="32.9" height="34.5" fill="#ed8b28"/><rect x="2297.1" y="2695.4" width="32.9" height="34.5" fill="#ed8b28"/><rect x="2329" y="2695.4" width="32.9" height="34.5" fill="#ed8b28"/><rect x="767.1" y="2728.9" width="32.9" height="34.5" fill="#ea8025"/><rect x="799" y="2728.9" width="32.9" height="34.5" fill="#ea8025"/><rect x="830.9" y="2728.9" width="32.9" height="34.5" fill="#ea8125"/><rect x="862.8" y="2728.9" width="32.9" height="34.5" fill="#eb8325"/><rect x="894.6" y="2728.9" width="32.9" height="34.5" fill="#ec8626"/><rect x="926.5" y="2728.9" width="32.9" height="34.5" fill="#ed8a28"/><rect x="958.4" y="2728.9" width="32.9" height="34.5" fill="#ef912a"/><rect x="990.2" y="2728.9" width="32.9" height="34.5" fill="#f19a2d"/><rect x="1022.1" y="2728.9" width="32.9" height="34.5" fill="#f29b2d"/><rect x="1054" y="2728.9" width="32.9" height="34.5" fill="#ee8c28"/><rect x="1085.9" y="2728.9" width="32.9" height="34.5" fill="#e67521"/><rect x="1117.8" y="2728.9" width="32.9" height="34.5" fill="#da621c"/><rect x="1149.6" y="2728.9" width="32.9" height="34.5" fill="#da631c"/><rect x="1181.5" y="2728.9" width="32.9" height="34.5" fill="#e16e1f"/><rect x="1213.4" y="2728.9" width="32.9" height="34.5" fill="#e87822"/><rect x="1245.2" y="2728.9" width="32.9" height="34.5" fill="#ea7f24"/><rect x="1277.1" y="2728.9" width="32.9" height="34.5" fill="#ec8526"/><rect x="1309" y="2728.9" width="32.9" height="34.5" fill="#ed8a28"/><rect x="1340.9" y="2728.9" width="32.9" height="34.5" fill="#ed8a28"/><rect x="1372.8" y="2728.9" width="32.9" height="34.5" fill="#ed8927"/><rect x="1404.6" y="2728.9" width="32.9" height="34.5" fill="#ed8a28"/><rect x="1436.5" y="2728.9" width="32.9" height="34.5" fill="#ee8e29"/><rect x="1468.4" y="2728.9" width="32.9" height="34.5" fill="#f0952b"/><rect x="1500.2" y="2728.9" width="32.9" height="34.5" fill="#f29b2d"/><rect x="1532.1" y="2728.9" width="32.9" height="34.5" fill="#f3a02f"/><rect x="1564" y="2728.9" width="32.9" height="34.5" fill="#f4a430"/><rect x="1595.9" y="2728.9" width="32.9" height="34.5" fill="#f4a430"/><rect x="1627.8" y="2728.9" width="32.9" height="34.5" fill="#f39f2e"/><rect x="1659.6" y="2728.9" width="32.9" height="34.5" fill="#f0962b"/><rect x="1691.5" y="2728.9" width="32.9" height="34.5" fill="#ed8a28"/><rect x="1723.4" y="2728.9" width="32.9" height="34.5" fill="#e67521"/><rect x="1755.2" y="2728.9" width="32.9" height="34.5" fill="#d35919"/><rect x="1787.1" y="2728.9" width="32.9" height="34.5" fill="#cb4d15"/><rect x="1819" y="2728.9" width="32.9" height="34.5" fill="#d8601b"/><rect x="1850.9" y="2728.9" width="32.9" height="34.5" fill="#ea8025"/><rect x="1882.8" y="2728.9" width="32.9" height="34.5" fill="#ef922a"/><rect x="1914.6" y="2728.9" width="32.9" height="34.5" fill="#ef902a"/><rect x="1946.5" y="2728.9" width="32.9" height="34.5" fill="#eb8526"/><rect x="1978.4" y="2728.9" width="32.9" height="34.5" fill="#e87822"/><rect x="2010.2" y="2728.9" width="32.9" height="34.5" fill="#dc661d"/><rect x="2042.1" y="2728.9" width="32.9" height="34.5" fill="#d05417"/><rect x="2074" y="2728.9" width="32.9" height="34.5" fill="#cb4d15"/><rect x="2105.9" y="2728.9" width="32.9" height="34.5" fill="#d55c1a"/><rect x="2137.8" y="2728.9" width="32.9" height="34.5" fill="#e77722"/><rect x="2169.6" y="2728.9" width="32.9" height="34.5" fill="#ed8a28"/><rect x="2201.5" y="2728.9" width="32.9" height="34.5" fill="#ef932b"/><rect x="2233.4" y="2728.9" width="32.9" height="34.5" fill="#f1982c"/><rect x="2265.2" y="2728.9" width="32.9" height="34.5" fill="#f29b2d"/><rect x="2297.1" y="2728.9" width="32.9" height="34.5" fill="#f29d2e"/><rect x="2329" y="2728.9" width="32.9" height="34.5" fill="#f29c2d"/><rect x="767.1" y="2762.5" width="32.9" height="34.5" fill="#eb8125"/><rect x="799" y="2762.5" width="32.9" height="34.5" fill="#ea8125"/><rect x="830.9" y="2762.5" width="32.9" height="34.5" fill="#eb8125"/><rect x="862.8" y="2762.5" width="32.9" height="34.5" fill="#eb8225"/><rect x="894.6" y="2762.5" width="32.9" height="34.5" fill="#eb8426"/><rect x="926.5" y="2762.5" width="32.9" height="34.5" fill="#ec8727"/><rect x="958.4" y="2762.5" width="32.9" height="34.5" fill="#ee8f29"/><rect x="990.2" y="2762.5" width="32.9" height="34.5" fill="#f19a2d"/><rect x="1022.1" y="2762.5" width="32.9" height="34.5" fill="#f29b2d"/><rect x="1054" y="2762.5" width="32.9" height="34.5" fill="#ed8b28"/><rect x="1085.9" y="2762.5" width="32.9" height="34.5" fill="#e47220"/><rect x="1117.8" y="2762.5" width="32.9" height="34.5" fill="#d75f1b"/><rect x="1149.6" y="2762.5" width="32.9" height="34.5" fill="#da631c"/><rect x="1181.5" y="2762.5" width="32.9" height="34.5" fill="#e37120"/><rect x="1213.4" y="2762.5" width="32.9" height="34.5" fill="#e97d24"/><rect x="1245.2" y="2762.5" width="32.9" height="34.5" fill="#eb8426"/><rect x="1277.1" y="2762.5" width="32.9" height="34.5" fill="#ed8a28"/><rect x="1309" y="2762.5" width="32.9" height="34.5" fill="#ee8e29"/><rect x="1340.9" y="2762.5" width="32.9" height="34.5" fill="#ee8e29"/><rect x="1372.8" y="2762.5" width="32.9" height="34.5" fill="#ed8b28"/><rect x="1404.6" y="2762.5" width="32.9" height="34.5" fill="#ed8b28"/><rect x="1436.5" y="2762.5" width="32.9" height="34.5" fill="#ee8f29"/><rect x="1468.4" y="2762.5" width="32.9" height="34.5" fill="#f0962c"/><rect x="1500.2" y="2762.5" width="32.9" height="34.5" fill="#f29b2d"/><rect x="1532.1" y="2762.5" width="32.9" height="34.5" fill="#f29e2e"/><rect x="1564" y="2762.5" width="32.9" height="34.5" fill="#f3a02f"/><rect x="1595.9" y="2762.5" width="32.9" height="34.5" fill="#f39f2e"/><rect x="1627.8" y="2762.5" width="32.9" height="34.5" fill="#f19b2d"/><rect x="1659.6" y="2762.5" width="32.9" height="34.5" fill="#f0942b"/><rect x="1691.5" y="2762.5" width="32.9" height="34.5" fill="#ed8a28"/><rect x="1723.4" y="2762.5" width="32.9" height="34.5" fill="#e77722"/><rect x="1755.2" y="2762.5" width="32.9" height="34.5" fill="#d55c1a"/><rect x="1787.1" y="2762.5" width="32.9" height="34.5" fill="#cd4f16"/><rect x="1819" y="2762.5" width="32.9" height="34.5" fill="#d8601b"/><rect x="1850.9" y="2762.5" width="32.9" height="34.5" fill="#ea7f24"/><rect x="1882.8" y="2762.5" width="32.9" height="34.5" fill="#ee8f29"/><rect x="1914.6" y="2762.5" width="32.9" height="34.5" fill="#ed8c28"/><rect x="1946.5" y="2762.5" width="32.9" height="34.5" fill="#ea7f24"/><rect x="1978.4" y="2762.5" width="32.9" height="34.5" fill="#e37120"/><rect x="2010.2" y="2762.5" width="32.9" height="34.5" fill="#d75f1b"/><rect x="2042.1" y="2762.5" width="32.9" height="34.5" fill="#cb4d15"/><rect x="2074" y="2762.5" width="32.9" height="34.5" fill="#c74714"/><rect x="2105.9" y="2762.5" width="32.9" height="34.5" fill="#d35819"/><rect x="2137.8" y="2762.5" width="32.9" height="34.5" fill="#e67521"/><rect x="2169.6" y="2762.5" width="32.9" height="34.5" fill="#ed8a28"/><rect x="2201.5" y="2762.5" width="32.9" height="34.5" fill="#f0942b"/><rect x="2233.4" y="2762.5" width="32.9" height="34.5" fill="#f29b2d"/><rect x="2265.2" y="2762.5" width="32.9" height="34.5" fill="#f39f2e"/><rect x="2297.1" y="2762.5" width="32.9" height="34.5" fill="#f3a12f"/><rect x="2329" y="2762.5" width="32.9" height="34.5" fill="#f3a02f"/><rect x="767.1" y="2796" width="32.9" height="34.5" fill="#ea8125"/><rect x="799" y="2796" width="32.9" height="34.5" fill="#ea8125"/><rect x="830.9" y="2796" width="32.9" height="34.5" fill="#ea8125"/><rect x="862.8" y="2796" width="32.9" height="34.5" fill="#eb8325"/><rect x="894.6" y="2796" width="32.9" height="34.5" fill="#eb8526"/><rect x="926.5" y="2796" width="32.9" height="34.5" fill="#ec8827"/><rect x="958.4" y="2796" width="32.9" height="34.5" fill="#ef902a"/><rect x="990.2" y="2796" width="32.9" height="34.5" fill="#f19a2d"/><rect x="1022.1" y="2796" width="32.9" height="34.5" fill="#f29b2d"/><rect x="1054" y="2796" width="32.9" height="34.5" fill="#ed8c28"/><rect x="1085.9" y="2796" width="32.9" height="34.5" fill="#e57321"/><rect x="1117.8" y="2796" width="32.9" height="34.5" fill="#d9611b"/><rect x="1149.6" y="2796" width="32.9" height="34.5" fill="#da631c"/><rect x="1181.5" y="2796" width="32.9" height="34.5" fill="#e26f1f"/><rect x="1213.4" y="2796" width="32.9" height="34.5" fill="#e97b23"/><rect x="1245.2" y="2796" width="32.9" height="34.5" fill="#eb8125"/><rect x="1277.1" y="2796" width="32.9" height="34.5" fill="#ec8827"/><rect x="1309" y="2796" width="32.9" height="34.5" fill="#ed8c28"/><rect x="1340.9" y="2796" width="32.9" height="34.5" fill="#ed8c28"/><rect x="1372.8" y="2796" width="32.9" height="34.5" fill="#ed8a28"/><rect x="1404.6" y="2796" width="32.9" height="34.5" fill="#ed8a28"/><rect x="1436.5" y="2796" width="32.9" height="34.5" fill="#ee8f29"/><rect x="1468.4" y="2796" width="32.9" height="34.5" fill="#f0962b"/><rect x="1500.2" y="2796" width="32.9" height="34.5" fill="#f29b2d"/><rect x="1532.1" y="2796" width="32.9" height="34.5" fill="#f39f2e"/><rect x="1564" y="2796" width="32.9" height="34.5" fill="#f3a22f"/><rect x="1595.9" y="2796" width="32.9" height="34.5" fill="#f3a12f"/><rect x="1627.8" y="2796" width="32.9" height="34.5" fill="#f29d2e"/><rect x="1659.6" y="2796" width="32.9" height="34.5" fill="#f0952b"/><rect x="1691.5" y="2796" width="32.9" height="34.5" fill="#ed8a28"/><rect x="1723.4" y="2796" width="32.9" height="34.5" fill="#e77621"/><rect x="1755.2" y="2796" width="32.9" height="34.5" fill="#d45a19"/><rect x="1787.1" y="2796" width="32.9" height="34.5" fill="#cc4e16"/><rect x="1819" y="2796" width="32.9" height="34.5" fill="#d8601b"/><rect x="1850.9" y="2796" width="32.9" height="34.5" fill="#ea7f24"/><rect x="1882.8" y="2796" width="32.9" height="34.5" fill="#ef912a"/><rect x="1914.6" y="2796" width="32.9" height="34.5" fill="#ee8e29"/><rect x="1946.5" y="2796" width="32.9" height="34.5" fill="#eb8225"/><rect x="1978.4" y="2796" width="32.9" height="34.5" fill="#e67421"/><rect x="2010.2" y="2796" width="32.9" height="34.5" fill="#da631c"/><rect x="2042.1" y="2796" width="32.9" height="34.5" fill="#ce5016"/><rect x="2074" y="2796" width="32.9" height="34.5" fill="#c94a14"/><rect x="2105.9" y="2796" width="32.9" height="34.5" fill="#d45a19"/><rect x="2137.8" y="2796" width="32.9" height="34.5" fill="#e77621"/><rect x="2169.6" y="2796" width="32.9" height="34.5" fill="#ed8a28"/><rect x="2201.5" y="2796" width="32.9" height="34.5" fill="#ef932b"/><rect x="2233.4" y="2796" width="32.9" height="34.5" fill="#f1992d"/><rect x="2265.2" y="2796" width="32.9" height="34.5" fill="#f29d2e"/><rect x="2297.1" y="2796" width="32.9" height="34.5" fill="#f39f2e"/><rect x="2329" y="2796" width="32.9" height="34.5" fill="#f29e2e"/></g>
<g filter="url(#blurF2)"><ellipse cx="1500" cy="2060" rx="55" ry="35" fill="#6c1005" opacity="0.8"/><ellipse cx="1985" cy="2150" rx="35" ry="45" fill="#901c08" opacity="0.8"/><ellipse cx="845" cy="2460" rx="30" ry="60" fill="#7e1606" opacity="0.8"/><ellipse cx="1790" cy="2640" rx="30" ry="60" fill="#961e08" opacity="0.8"/><ellipse cx="1270" cy="2650" rx="45" ry="40" fill="#961e08" opacity="0.8"/><ellipse cx="2190" cy="2510" rx="30" ry="45" fill="#961e08" opacity="0.8"/><ellipse cx="975" cy="2425" rx="28" ry="18" fill="#fdf4a0" opacity="0.8"/><ellipse cx="1030" cy="2090" rx="40" ry="22" fill="#fce778" opacity="0.8"/><ellipse cx="1900" cy="2340" rx="35" ry="30" fill="#fdee8c" opacity="0.8"/><ellipse cx="1640" cy="2660" rx="40" ry="30" fill="#fdee8c" opacity="0.8"/><ellipse cx="1930" cy="2690" rx="40" ry="30" fill="#fce778" opacity="0.8"/><ellipse cx="1100" cy="2590" rx="40" ry="40" fill="#fce066" opacity="0.8"/></g>
<rect x="799" y="1991" width="1530" height="805" fill="#801400" fill-opacity="0.17"/>
<rect x="799" y="1991" width="1530" height="805" fill="url(#pAtom)"/>
<line x1="1396.6" y1="1992.8" x2="1714.9" y2="2129" stroke="#1a1a1a" stroke-width="3.2" stroke-dasharray="16 5 3 5"/>
<line x1="1551" y1="2047" x2="2015" y2="2236.5" stroke="#2a2ae6" stroke-width="3.2" stroke-dasharray="16 5 3 5"/>
<line x1="1514.8" y1="2129" x2="1583" y2="2574.8" stroke="#1a1a1a" stroke-width="3.2" stroke-dasharray="16 5 3 5"/>
<line x1="1549" y1="2465.6" x2="1592" y2="2779.4" stroke="#2a2ae6" stroke-width="3.2" stroke-dasharray="16 5 3 5"/>
<line x1="837.3" y1="2365.6" x2="1242" y2="2524.8" stroke="#1a1a1a" stroke-width="3.2" stroke-dasharray="16 5 3 5"/>
<line x1="1096.5" y1="2452" x2="1505.7" y2="2613" stroke="#2a2ae6" stroke-width="3.2" stroke-dasharray="16 5 3 5"/>
<line x1="2121.4" y1="2465.6" x2="2147" y2="2624.8" stroke="#1a1a1a" stroke-width="3.2" stroke-dasharray="16 5 3 5"/>
<line x1="2124" y1="2620" x2="2147" y2="2779.4" stroke="#2a2ae6" stroke-width="3.2" stroke-dasharray="16 5 3 5"/>
</g>
<text x="862" y="2728.7" font-family="Liberation Sans, sans-serif" font-weight="bold" font-size="58" fill="#111">2 nm</text>
<rect x="863.3" y="2747" width="137.7" height="3.8" fill="#111"/></svg></body></html>
